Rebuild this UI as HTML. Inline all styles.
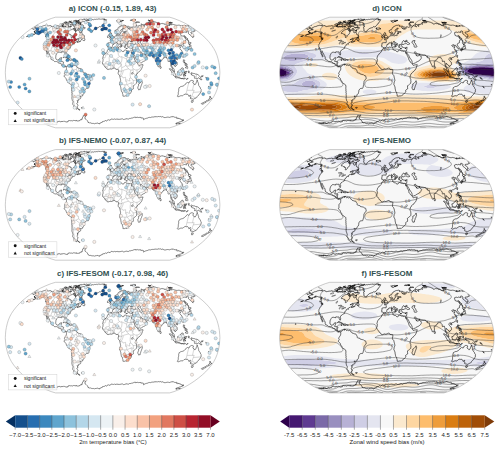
<!DOCTYPE html>
<html><head><meta charset="utf-8"><style>
html,body{margin:0;padding:0;background:#fff;width:500px;height:451px;overflow:hidden;font-family:"Liberation Sans",sans-serif}
svg{display:block}
</style></head><body>
<svg width="500" height="451" viewBox="0 0 500 451">
<rect x="0" y="0" width="500" height="451" fill="#ffffff"/>
<defs>
<g id="clab" font-family="Liberation Sans" font-size="3.9" fill="#333" text-anchor="middle"><text transform="translate(-52.7,46.4) rotate(-19)" y="1.2">-5.0</text><text transform="translate(-1.0,48.8) rotate(6)" y="1.2">-5.0</text><text transform="translate(51.2,45.8) rotate(3)" y="1.2">-5.0</text><text transform="translate(87.4,10.3) rotate(-90)" y="1.2">-5.0</text><text transform="translate(-75.8,4.8) rotate(-4)" y="1.2">-5.0</text><text transform="translate(-73.0,14.5) rotate(3)" y="1.2">-5.0</text><text transform="translate(70.9,-9.4) rotate(27)" y="1.2">-5.0</text><text transform="translate(-77.7,-13.1) rotate(7)" y="1.2">-5.0</text><text transform="translate(-78.5,-7.7) rotate(-3)" y="1.2">-5.0</text><text transform="translate(3.0,7.0) rotate(21)" y="1.2">-5.0</text><text transform="translate(71.1,7.7) rotate(4)" y="1.2">-5.0</text><text transform="translate(-35.2,-12.8) rotate(-2)" y="1.2">-5.0</text><text transform="translate(-26.7,-5.5) rotate(4)" y="1.2">-5.0</text><text transform="translate(-55.2,42.8) rotate(-3)" y="1.2">0.0</text><text transform="translate(-1.1,43.2) rotate(-1)" y="1.2">0.0</text><text transform="translate(54.7,43.4) rotate(3)" y="1.2">0.0</text><text transform="translate(69.4,18.0) rotate(-6)" y="1.2">0.0</text><text transform="translate(1.4,20.1) rotate(-5)" y="1.2">0.0</text><text transform="translate(-66.9,21.5) rotate(-0)" y="1.2">0.0</text><text transform="translate(77.4,-3.7) rotate(-2)" y="1.2">0.0</text><text transform="translate(20.8,-3.9) rotate(-8)" y="1.2">0.0</text><text transform="translate(16.4,2.3) rotate(16)" y="1.2">0.0</text><text transform="translate(76.0,1.9) rotate(1)" y="1.2">0.0</text><text transform="translate(-69.2,-23.2) rotate(-11)" y="1.2">0.0</text><text transform="translate(0.0,-22.9) rotate(-6)" y="1.2">0.0</text><text transform="translate(67.6,-20.6) rotate(-28)" y="1.2">0.0</text><text transform="translate(-25.0,-47.9) rotate(-9)" y="1.2">0.0</text><text transform="translate(-60.6,-37.8) rotate(23)" y="1.2">0.0</text><text transform="translate(60.2,-44.5) rotate(26)" y="1.2">0.0</text><text transform="translate(26.6,-37.4) rotate(52)" y="1.2">0.0</text><text transform="translate(-57.8,39.8) rotate(-5)" y="1.2">5.0</text><text transform="translate(-1.2,41.0) rotate(-0)" y="1.2">5.0</text><text transform="translate(56.7,41.1) rotate(4)" y="1.2">5.0</text><text transform="translate(65.9,27.5) rotate(5)" y="1.2">5.0</text><text transform="translate(-1.4,26.1) rotate(-6)" y="1.2">5.0</text><text transform="translate(-64.4,27.8) rotate(0)" y="1.2">5.0</text><text transform="translate(-78.2,-29.1) rotate(-21)" y="1.2">5.0</text><text transform="translate(80.6,-30.2) rotate(23)" y="1.2">5.0</text><text transform="translate(-13.0,-41.0) rotate(11)" y="1.2">5.0</text><text transform="translate(-69.2,33.2) rotate(27)" y="1.2">10.0</text><text transform="translate(67.6,31.6) rotate(3)" y="1.2">10.0</text><text transform="translate(9.5,28.6) rotate(-4)" y="1.2">10.0</text><text transform="translate(1.2,38.0) rotate(1)" y="1.2">10.0</text><text transform="translate(59.5,37.7) rotate(4)" y="1.2">10.0</text></g>
<path id="clim" d="M-40.1,55.3 -39.8,55.2 -39.3,55.1 -38.8,55.0 -38.2,54.9 -37.5,54.9 -36.8,54.8 -36.0,54.8 -35.2,54.8 -34.4,54.8 -33.6,54.8 -32.7,54.8 -31.8,54.9 -30.9,54.9 -30.0,55.0 -29.1,55.0 -28.2,55.0 -27.3,55.1 -26.5,55.1 -25.6,55.2 -24.8,55.2 -24.0,55.2 -23.2,55.2 -22.4,55.2 -21.6,55.1 -20.9,55.1 -20.1,55.1 -19.3,55.0 -18.6,55.0 -17.8,55.0 -17.0,54.9 -16.2,54.9 -15.4,54.9 -14.6,54.9 -13.8,54.9 -12.9,55.0 -12.1,55.1 -11.2,55.2 -10.3,55.3 -10.1,55.3M33.2,55.3 33.3,55.3 34.2,55.3 35.0,55.2 35.8,55.2 36.6,55.2 37.4,55.2 38.2,55.3 38.9,55.3 39.3,55.3M-46.7,55.3 -46.1,55.2 -45.6,55.2 -45.1,55.1 -44.6,54.9 -44.1,54.8 -43.9,54.7 -43.7,54.7 -43.2,54.5 -42.8,54.3 -42.3,54.2 -41.7,54.0 -41.6,54.0 -41.2,53.8 -40.6,53.7 -39.9,53.6 -39.2,53.5 -38.5,53.4 -37.7,53.4 -36.8,53.3 -36.0,53.3 -35.1,53.3 -34.2,53.4 -33.3,53.4 -32.3,53.4 -31.4,53.5 -30.5,53.5 -29.6,53.5 -28.7,53.5 -27.8,53.5 -27.0,53.5 -26.1,53.5 -25.3,53.4 -24.5,53.4 -23.7,53.3 -22.9,53.2 -22.2,53.1 -21.8,53.0 -21.4,53.0 -20.6,52.9 -19.8,52.7 -18.9,52.7 -18.1,52.6 -17.2,52.6 -16.2,52.6 -15.3,52.7 -14.3,52.8 -13.4,53.0 -13.0,53.0 -12.4,53.2 -11.4,53.4 -10.4,53.6 -9.4,53.9 -9.1,54.0 -8.5,54.1 -7.5,54.4 -6.6,54.7 -6.3,54.7 -5.7,54.9 -4.8,55.1 -4.0,55.2 -3.7,55.3M5.2,55.3 5.6,55.2 6.4,55.1 7.3,55.0 8.2,54.8 9.0,54.7 9.0,54.7 9.9,54.6 10.8,54.5 11.7,54.4 12.5,54.4 13.4,54.3 14.2,54.3 15.1,54.3 15.9,54.4 16.7,54.4 17.5,54.4 18.3,54.5 19.1,54.5 19.9,54.5 20.7,54.6 21.5,54.6 22.3,54.6 23.1,54.6 24.0,54.6 24.8,54.6 25.7,54.5 26.6,54.5 27.5,54.4 28.5,54.3 29.4,54.3 30.4,54.2 31.3,54.1 32.3,54.0 33.0,54.0 33.3,54.0 34.3,53.9 35.3,53.8 36.2,53.7 37.2,53.7 38.1,53.6 39.0,53.6 39.8,53.6 40.6,53.7 41.5,53.7 42.2,53.7 43.0,53.8 43.8,53.8 44.5,53.9 45.2,54.0 45.3,54.0 45.9,54.0 46.6,54.1 47.3,54.2 48.0,54.2 48.7,54.3 49.4,54.3 50.2,54.4 50.9,54.4 51.7,54.4 52.5,54.4 53.3,54.4 54.2,54.4 55.0,54.4 55.9,54.4 56.8,54.4 57.7,54.4 58.5,54.4 59.3,54.4 60.0,54.4M-60.0,54.4 -59.0,54.5 -58.0,54.6 -56.9,54.7 -56.0,54.7 -55.7,54.8 -54.6,54.9 -53.4,55.0 -52.3,55.1 -51.2,55.2 -50.1,55.2 -49.2,55.3M-65.7,52.3 -64.6,52.4 -63.4,52.5 -62.2,52.6 -61.0,52.8 -59.7,52.9 -59.0,53.0 -58.5,53.1 -57.2,53.3 -55.9,53.4 -54.7,53.6 -53.6,53.7 -52.5,53.8 -51.6,53.8 -50.7,53.8 -49.9,53.8 -49.2,53.7 -48.6,53.6 -48.1,53.4 -47.5,53.3 -47.0,53.1 -46.9,53.0 -46.5,52.9 -46.0,52.6 -45.5,52.4 -44.9,52.2 -44.3,52.0 -44.0,51.9 -43.7,51.8 -43.1,51.6 -42.4,51.5 -41.6,51.3 -40.9,51.2 -40.1,51.1 -39.2,51.0 -38.3,51.0 -37.4,50.9 -36.5,50.9 -35.5,50.9 -34.5,50.9 -33.6,50.9 -32.6,50.9 -31.7,50.9 -30.8,50.8 -29.9,50.8 -29.0,50.7 -29.0,50.7 -28.1,50.6 -27.2,50.5 -26.3,50.4 -25.4,50.3 -24.6,50.1 -23.7,50.0 -22.8,49.9 -21.8,49.8 -20.9,49.7 -19.9,49.7 -18.9,49.7 -17.9,49.8 -16.8,49.9 -15.8,50.0 -14.7,50.2 -13.6,50.4 -12.6,50.7 -12.4,50.7 -11.5,51.0 -10.4,51.3 -9.3,51.7 -8.6,51.9 -8.3,52.0 -7.3,52.4 -6.3,52.7 -5.4,53.0 -5.3,53.1 -4.4,53.4 -3.5,53.6 -2.6,53.8 -1.9,54.0 -1.7,54.0 -0.8,54.1 0.0,54.2 0.8,54.2 1.7,54.2 2.5,54.1 3.4,54.0 3.4,54.0 4.3,53.8 5.2,53.7 6.1,53.5 7.0,53.3 8.0,53.1 8.2,53.0 8.9,52.9 9.9,52.7 10.9,52.5 11.8,52.4 12.8,52.2 13.8,52.2 14.7,52.1 15.7,52.1 16.6,52.1 17.5,52.1 18.4,52.1 19.3,52.2 20.2,52.2 21.0,52.3 21.9,52.4 22.7,52.4 23.6,52.5 24.5,52.5 25.4,52.5 26.3,52.5 27.3,52.4 28.3,52.4 29.3,52.3 30.3,52.2 31.4,52.0 32.0,51.9 32.5,51.9 33.6,51.7 34.8,51.5 35.9,51.3 37.1,51.2 38.2,51.0 39.3,50.9 40.3,50.9 41.3,50.9 42.2,50.9 43.1,50.9 44.0,51.0 44.8,51.1 45.6,51.2 46.4,51.3 47.2,51.4 48.0,51.5 48.8,51.6 49.5,51.7 50.3,51.8 51.1,51.9 51.9,51.9 51.9,51.9 52.6,52.0 53.4,52.1 54.3,52.1 55.1,52.2 55.9,52.2 56.8,52.2 57.7,52.3 58.6,52.3 59.5,52.3 60.4,52.2 61.4,52.2 62.3,52.2 63.2,52.2 64.1,52.3 64.9,52.3 65.7,52.3M-71.9,49.6 -70.7,49.7 -69.4,49.8 -68.1,50.0 -66.8,50.1 -65.5,50.3 -64.1,50.5 -62.8,50.7 -62.6,50.7 -61.4,50.9 -60.1,51.0 -58.9,51.2 -57.7,51.3 -56.6,51.4 -55.6,51.4 -54.7,51.4 -53.9,51.4 -53.1,51.3 -52.4,51.1 -51.7,50.9 -51.1,50.7 -51.1,50.7 -50.5,50.5 -50.0,50.2 -49.4,49.9 -48.8,49.6 -48.4,49.4 -48.2,49.4 -47.6,49.0 -46.9,48.7 -46.2,48.5 -45.5,48.2 -44.9,48.1 -44.7,48.0 -43.8,47.8 -42.9,47.7 -42.0,47.6 -41.0,47.5 -40.0,47.4 -39.0,47.4 -37.9,47.4 -36.8,47.4 -35.8,47.4 -34.7,47.5 -33.7,47.5 -32.6,47.4 -31.6,47.4 -30.6,47.4 -29.6,47.3 -28.5,47.3 -27.5,47.2 -26.5,47.1 -25.5,47.1 -24.4,47.0 -23.4,47.0 -22.3,46.9 -21.3,46.9 -20.2,47.0 -19.1,47.0 -18.0,47.1 -16.9,47.3 -15.8,47.4 -14.7,47.6 -13.5,47.9 -12.9,48.1 -12.4,48.2 -11.3,48.5 -10.2,48.9 -9.1,49.2 -8.5,49.4 -8.0,49.6 -6.9,50.0 -5.9,50.4 -4.8,50.7 -4.8,50.7 -3.8,51.0 -2.8,51.3 -1.9,51.5 -0.9,51.7 0.0,51.8 0.9,51.8 1.9,51.8 2.8,51.7 3.8,51.6 4.7,51.4 5.7,51.2 6.7,51.0 7.7,50.7 7.8,50.7 8.8,50.5 9.8,50.2 10.9,50.0 11.9,49.7 13.0,49.5 13.8,49.4 14.1,49.4 15.1,49.2 16.2,49.2 17.2,49.1 18.2,49.1 19.2,49.1 20.2,49.2 21.2,49.3 22.1,49.3 22.8,49.4 23.1,49.4 24.0,49.5 25.0,49.6 25.9,49.6 26.9,49.6 27.9,49.6 29.0,49.5 30.1,49.4 30.3,49.4 31.2,49.3 32.4,49.1 33.6,48.9 34.8,48.6 36.1,48.4 37.3,48.1 37.6,48.1 38.6,47.8 39.8,47.6 41.1,47.4 42.2,47.3 43.4,47.2 44.4,47.2 45.5,47.2 46.4,47.3 47.3,47.5 48.2,47.6 49.0,47.8 49.8,48.1 49.8,48.1 50.6,48.3 51.4,48.5 52.1,48.7 52.9,48.9 53.7,49.0 54.5,49.1 55.4,49.3 56.3,49.4 57.1,49.4 57.2,49.4 58.1,49.5 59.0,49.5 60.0,49.5 61.0,49.5 62.0,49.5 63.1,49.5 64.1,49.5 65.2,49.4 65.3,49.4 66.3,49.4 67.3,49.4 68.3,49.3 69.3,49.4 70.3,49.4 70.6,49.4 71.2,49.5 72.0,49.5M-77.5,46.4 -76.2,46.6 -75.7,46.6 -74.8,46.8 -73.4,46.9 -72.0,47.1 -70.6,47.4 -69.3,47.6 -67.9,47.8 -66.5,48.0 -66.2,48.1 -65.2,48.2 -63.9,48.3 -62.7,48.5 -61.5,48.6 -60.4,48.6 -59.4,48.6 -58.5,48.6 -57.6,48.4 -56.8,48.3 -56.0,48.1 -55.9,48.1 -55.3,47.8 -54.6,47.5 -54.0,47.2 -53.3,46.8 -53.0,46.6 -52.7,46.4 -51.9,46.2 -51.0,46.0 -50.0,45.9 -49.1,45.8 -48.0,45.7 -47.0,45.6 -46.0,45.5 -44.9,45.5 -43.9,45.4 -42.8,45.4 -41.8,45.3 -40.7,45.3 -39.8,45.2 -39.7,45.2 -38.7,45.0 -37.8,44.8 -36.8,44.6 -35.8,44.4 -34.7,44.3 -33.6,44.2 -32.5,44.2 -31.4,44.2 -30.3,44.3 -29.1,44.4 -27.9,44.5 -26.7,44.6 -25.5,44.8 -24.4,45.0 -23.2,45.1 -22.8,45.2 -22.0,45.2 -20.9,45.3 -19.8,45.4 -18.6,45.4 -17.5,45.5 -16.4,45.6 -15.3,45.6 -14.2,45.7 -13.1,45.8 -11.9,45.9 -10.8,46.1 -9.7,46.3 -8.7,46.6 -8.6,46.7 -7.4,47.1 -6.3,47.4 -5.2,47.8 -4.4,48.1 -4.1,48.1 -3.1,48.4 -2.0,48.6 -1.0,48.8 0.0,48.9 1.0,49.0 2.0,48.9 3.1,48.9 4.1,48.7 5.1,48.5 6.2,48.3 7.1,48.1 7.3,48.0 8.4,47.7 9.5,47.4 10.6,47.0 11.8,46.7 12.2,46.6 12.9,46.3 14.1,46.0 15.2,45.9 16.4,45.8 17.5,45.7 18.6,45.7 19.7,45.6 20.8,45.7 21.8,45.7 22.9,45.7 24.0,45.8 25.0,45.9 26.1,46.0 27.1,46.0 28.2,46.1 29.2,46.1 30.4,46.0 31.5,46.0 32.6,45.9 33.8,45.8 34.9,45.7 36.0,45.7 37.2,45.6 38.3,45.6 39.4,45.6 40.5,45.6 41.6,45.6 42.7,45.6 43.8,45.6 44.8,45.6 45.9,45.6 47.0,45.6 48.0,45.7 49.1,45.7 50.1,45.8 51.2,45.8 52.2,45.9 53.2,45.9 54.2,46.0 55.2,46.1 56.2,46.2 57.1,46.3 58.1,46.4 59.0,46.6 59.7,46.6 59.9,46.7 60.9,46.8 61.9,46.8 63.0,46.8 64.1,46.8 65.2,46.7 66.3,46.7 66.9,46.6 67.6,46.6 68.9,46.4 70.1,46.3 71.3,46.2 72.5,46.1 73.6,46.1 74.7,46.1 75.7,46.1 76.7,46.2 77.6,46.3M105.4,13.7 103.9,13.8 102.4,13.9 100.9,13.9 99.5,13.9 98.0,13.9 96.6,13.9 95.1,13.8 94.1,13.7 93.7,13.7 92.3,13.4 90.9,13.0 89.6,12.5 88.8,12.0 88.3,11.5 87.4,10.3 87.5,8.6 88.9,7.8 90.4,7.5 91.9,7.7 93.3,7.8 94.8,7.9 96.3,7.9 97.7,8.0 99.2,8.2 100.7,8.3 102.1,8.4 103.6,8.6 103.6,8.6 105.0,8.8 106.5,9.0M-106.4,9.4 -104.9,9.6 -103.4,9.7 -101.9,9.8 -100.4,9.8 -99.0,9.7 -97.5,9.5 -96.1,9.2 -94.7,8.6 -94.6,8.6 -93.3,8.3 -91.8,7.9 -90.4,7.4 -89.0,6.9 -88.9,6.9 -87.6,6.5 -86.1,6.2 -84.6,5.9 -83.2,5.6 -81.7,5.4 -80.2,5.2 -79.8,5.1 -78.8,5.0 -77.3,4.9 -75.8,4.8 -74.3,4.7 -72.9,4.5 -71.4,4.5 -69.9,4.4 -68.4,4.3 -66.9,4.2 -65.4,4.2 -64.0,4.1 -62.5,4.1 -61.0,4.1 -59.5,4.2 -58.0,4.3 -56.5,4.4 -55.0,4.5 -53.5,4.6 -52.0,4.8 -50.5,5.1 -50.4,5.1 -49.0,5.8 -47.7,6.9 -47.5,7.0 -46.0,8.6 -45.9,8.8 -44.6,10.3 -44.2,11.4 -43.9,12.0 -44.0,12.7 -44.7,13.7 -45.3,14.1 -46.8,14.4 -48.2,14.5 -49.6,14.7 -51.1,14.8 -52.5,14.9 -54.0,14.9 -55.4,15.0 -56.9,15.0 -58.4,15.0 -59.8,14.9 -61.3,14.9 -62.8,14.9 -64.2,14.8 -65.7,14.8 -67.2,14.7 -68.6,14.7 -70.1,14.6 -71.6,14.6 -73.0,14.5 -74.5,14.5 -76.0,14.4 -77.5,14.3 -78.9,14.2 -80.4,14.1 -81.9,14.0 -83.4,13.9 -84.9,13.8 -85.3,13.7 -86.4,13.6 -87.9,13.4 -89.4,13.3 -90.9,13.1 -92.4,12.9 -93.9,12.8 -95.4,12.7 -96.9,12.6 -98.3,12.6 -99.8,12.7 -101.2,12.8 -102.6,13.0 -104.1,13.2 -105.5,13.4M106.8,-7.1 105.3,-7.1 103.8,-7.1 102.3,-7.1 100.8,-7.2 99.3,-7.2 97.8,-7.3 96.3,-7.4 94.9,-7.5 93.4,-7.6 91.9,-7.7 90.4,-7.8 88.9,-7.9 87.4,-8.0 85.9,-8.1 84.4,-8.2 82.9,-8.2 81.4,-8.2 80.0,-8.2 78.5,-8.3 77.0,-8.3 75.5,-8.5 74.2,-8.6 74.0,-8.6 72.5,-8.9 70.9,-9.4 69.4,-10.2 69.2,-10.3 69.3,-10.4 70.6,-11.5 71.4,-12.0 72.0,-12.1 73.4,-12.4 74.8,-12.6 76.3,-12.8 77.7,-13.0 79.2,-13.1 80.6,-13.1 82.1,-13.2 83.5,-13.2 85.0,-13.3 86.4,-13.3 87.9,-13.4 89.4,-13.4 90.8,-13.5 92.3,-13.5 93.7,-13.6 95.0,-13.7 95.1,-13.7 96.6,-13.8 98.0,-13.9 99.5,-14.0 100.9,-14.1 102.3,-14.2 103.8,-14.3 105.2,-14.4M-105.2,-14.4 -103.7,-14.4 -102.3,-14.5 -100.8,-14.5 -99.3,-14.5 -97.9,-14.5 -96.4,-14.5 -94.9,-14.5 -93.5,-14.5 -92.0,-14.5 -90.6,-14.4 -89.1,-14.4 -87.7,-14.3 -86.2,-14.2 -84.8,-14.1 -83.4,-14.0 -82.0,-13.8 -81.4,-13.7 -80.5,-13.6 -79.1,-13.3 -77.7,-13.1 -76.3,-12.9 -74.8,-12.8 -73.4,-12.7 -71.9,-12.7 -70.4,-12.7 -69.0,-12.7 -67.5,-12.8 -66.0,-12.8 -64.6,-12.7 -63.2,-12.3 -62.5,-12.0 -61.8,-11.6 -60.4,-11.1 -59.0,-10.8 -57.5,-10.5 -56.5,-10.3 -56.1,-10.1 -54.7,-9.5 -53.2,-9.0 -52.1,-8.6 -51.8,-8.0 -51.1,-6.9 -51.9,-6.6 -53.5,-6.0 -55.0,-5.8 -56.4,-5.7 -57.9,-5.7 -59.4,-5.8 -60.9,-5.9 -62.4,-6.1 -63.8,-6.3 -65.3,-6.5 -66.8,-6.7 -68.1,-6.9 -68.2,-6.9 -69.7,-7.1 -71.2,-7.4 -72.6,-7.5 -74.1,-7.6 -75.6,-7.7 -77.0,-7.7 -78.5,-7.7 -80.0,-7.6 -81.5,-7.5 -83.0,-7.4 -84.5,-7.3 -86.0,-7.2 -87.5,-7.2 -89.0,-7.1 -90.5,-7.1 -91.9,-7.1 -93.4,-7.1 -94.9,-7.1 -96.4,-7.2 -97.9,-7.2 -99.3,-7.2 -100.8,-7.2 -102.3,-7.2 -103.8,-7.3 -105.3,-7.3 -106.7,-7.3M-20.4,14.7 -21.7,13.7 -22.0,12.3 -22.1,12.0 -22.1,11.9 -21.7,10.3 -20.7,8.6 -20.6,8.6 -19.3,7.8 -17.8,7.3 -16.3,7.1 -14.8,7.0 -13.4,6.9 -13.0,6.9 -11.9,6.8 -10.4,6.7 -8.9,6.7 -7.4,6.6 -5.9,6.6 -4.5,6.6 -3.0,6.6 -1.5,6.6 0.0,6.7 1.5,6.8 1.9,6.9 3.0,7.0 4.4,7.6 5.3,8.6 5.2,10.3 4.4,11.9 4.3,12.0 2.9,12.7 1.5,13.0 0.0,13.4 -1.4,13.7 -1.5,13.7 -2.9,14.0 -4.4,14.2 -5.8,14.4 -7.3,14.6 -8.8,14.8 -10.2,14.9 -11.7,15.0 -13.1,15.0 -14.6,15.1 -16.0,15.1 -17.5,15.0 -19.0,14.9 -20.4,14.7M44.1,12.4 43.0,12.0 44.0,10.3 44.3,10.2 45.8,9.8 47.3,9.4 48.8,9.0 50.3,8.6 50.5,8.6 51.8,8.4 53.3,8.3 54.8,8.2 56.3,8.1 57.8,8.0 59.2,8.0 60.7,8.0 62.2,8.1 63.7,8.3 65.1,8.3 66.6,8.2 68.1,8.0 69.6,7.8 71.1,7.7 72.6,7.8 73.7,8.6 72.4,9.3 71.1,10.3 70.8,10.4 69.3,10.7 67.8,11.0 66.2,11.4 64.7,11.7 63.5,12.0 63.2,12.0 61.7,12.2 60.2,12.4 58.7,12.5 57.2,12.7 55.7,12.9 54.3,13.0 52.8,13.1 51.3,13.2 49.8,13.2 48.4,13.1 46.9,13.0 45.5,12.8 44.1,12.4M-49.0,-6.6 -49.9,-6.9 -50.4,-8.0 -50.9,-8.6 -50.3,-9.1 -50.0,-10.3 -49.1,-12.0 -48.5,-12.4 -47.0,-12.7 -45.5,-12.8 -44.0,-12.8 -42.5,-12.8 -41.1,-12.7 -39.6,-12.7 -38.2,-12.7 -36.7,-12.7 -35.2,-12.8 -33.7,-12.8 -32.3,-12.9 -30.8,-13.0 -29.3,-13.1 -27.8,-13.2 -26.4,-13.3 -24.9,-13.4 -23.4,-13.5 -22.0,-13.5 -20.5,-13.6 -19.0,-13.6 -17.6,-13.6 -16.1,-13.6 -14.6,-13.6 -13.2,-13.4 -11.7,-12.9 -11.0,-12.0 -10.5,-10.3 -10.7,-8.6 -11.9,-7.4 -13.1,-6.9 -13.4,-6.8 -14.8,-6.5 -16.3,-6.3 -17.8,-6.1 -19.3,-5.9 -20.8,-5.7 -22.3,-5.6 -23.8,-5.6 -25.3,-5.5 -26.7,-5.5 -28.2,-5.6 -29.7,-5.8 -31.2,-6.1 -32.7,-6.4 -34.1,-6.8 -34.3,-6.9 -35.6,-7.5 -37.0,-8.1 -38.5,-8.4 -40.0,-8.5 -41.4,-8.5 -42.9,-8.4 -44.4,-8.0 -46.0,-7.3 -47.0,-6.9 -47.5,-6.6 -49.0,-6.6M-82.6,42.9 -81.4,42.9 -80.3,43.0 -79.1,43.0 -77.9,43.0 -76.7,43.0 -75.6,43.0 -74.4,43.1 -73.2,43.1 -72.1,43.1 -70.9,43.1 -69.7,43.1 -68.6,43.1 -67.4,43.2 -66.3,43.2 -65.1,43.2 -64.0,43.1 -62.9,43.1 -61.8,43.1 -60.7,43.1 -59.5,43.0 -58.4,43.0 -57.3,42.9 -56.2,42.9 -55.2,42.8 -54.1,42.8 -53.0,42.7 -51.8,42.7 -50.7,42.6 -49.6,42.6 -48.5,42.5 -47.4,42.4 -46.3,42.4 -45.2,42.3 -44.1,42.2 -43.3,42.2 -43.0,42.2 -41.9,42.1 -40.8,42.0 -39.7,41.9 -38.5,41.9 -37.4,41.8 -36.2,41.8 -35.1,41.8 -33.9,41.8 -32.7,41.8 -31.5,41.9 -30.3,41.9 -29.1,42.0 -27.9,42.1 -27.5,42.2 -26.7,42.2 -25.5,42.3 -24.3,42.5 -23.1,42.6 -21.9,42.7 -20.7,42.8 -19.5,42.8 -18.4,42.9 -17.2,43.0 -16.0,43.0 -14.9,43.1 -13.7,43.1 -12.6,43.1 -11.4,43.2 -10.3,43.2 -9.1,43.2 -8.0,43.2 -6.9,43.2 -5.7,43.2 -4.6,43.2 -3.4,43.2 -2.3,43.2 -1.1,43.2 0.0,43.2 1.1,43.2 2.3,43.2 3.4,43.1 4.6,43.1 5.7,43.0 6.9,43.0 8.0,42.9 9.2,42.9 10.3,42.8 11.5,42.8 12.7,42.8 13.8,42.7 15.0,42.7 16.1,42.7 17.3,42.7 18.4,42.7 19.6,42.7 20.7,42.7 21.9,42.6 23.1,42.6 24.2,42.6 25.4,42.6 26.5,42.6 27.7,42.6 28.8,42.6 30.0,42.6 31.2,42.6 32.3,42.6 33.5,42.6 34.6,42.6 35.8,42.6 36.9,42.6 38.1,42.6 39.2,42.6 40.3,42.7 41.5,42.7 42.6,42.7 43.7,42.8 44.8,42.8 45.9,42.9 47.0,42.9 48.1,43.0 49.2,43.1 50.3,43.1 51.4,43.2 52.5,43.2 53.6,43.3 54.7,43.4 55.8,43.4 56.8,43.5 58.0,43.5 59.1,43.5 60.2,43.5 61.3,43.5 62.5,43.5 63.7,43.4 64.9,43.4 66.1,43.3 67.3,43.3 68.5,43.2 69.7,43.1 70.9,43.1 72.2,43.0 73.4,43.0 74.6,42.9 75.7,42.9 76.9,42.9 78.1,42.9 79.2,42.9 80.4,42.9 81.5,42.9 82.6,42.9M102.2,22.1 100.8,22.1 99.4,22.1 97.9,22.2 96.5,22.2 95.1,22.1 93.7,22.1 92.3,22.0 91.0,21.8 89.7,21.6 88.4,21.3 87.1,20.9 86.2,20.6 85.9,20.4 84.7,19.9 83.4,19.3 82.4,18.9 82.2,18.8 80.8,18.5 79.5,18.2 78.1,17.9 76.7,17.8 75.3,17.7 73.8,17.6 72.4,17.7 70.9,17.8 69.4,18.0 67.9,18.1 66.4,18.3 64.9,18.5 63.5,18.7 62.2,18.9 62.0,18.9 60.5,19.2 59.0,19.4 57.5,19.6 56.0,19.8 54.5,20.0 53.0,20.2 51.5,20.4 50.1,20.5 49.7,20.6 48.6,20.7 47.2,20.8 45.7,20.9 44.2,21.0 42.8,21.1 41.4,21.2 39.9,21.3 38.5,21.4 37.0,21.4 35.6,21.5 34.2,21.5 32.7,21.5 31.3,21.6 29.9,21.6 28.5,21.6 27.0,21.6 25.6,21.5 24.2,21.5 22.8,21.4 21.4,21.3 20.0,21.2 18.6,21.0 17.1,20.9 15.7,20.7 14.3,20.6 13.7,20.6 12.9,20.4 11.5,20.2 10.0,20.1 8.6,20.0 7.2,20.0 5.7,20.0 4.3,20.0 2.9,20.1 1.4,20.1 0.0,20.3 -1.4,20.4 -2.9,20.5 -3.3,20.6 -4.3,20.7 -5.7,20.8 -7.1,21.0 -8.6,21.1 -10.0,21.3 -11.4,21.4 -12.8,21.6 -14.2,21.8 -15.6,21.9 -17.0,22.1 -18.3,22.3 -18.4,22.3 -19.8,22.5 -21.2,22.7 -22.6,22.9 -24.0,23.1 -25.4,23.3 -26.8,23.6 -28.1,23.8 -29.1,24.0 -29.5,24.0 -30.9,24.2 -32.3,24.3 -33.6,24.4 -35.0,24.5 -36.4,24.6 -37.8,24.7 -39.2,24.7 -40.6,24.6 -42.0,24.5 -43.5,24.3 -44.9,24.2 -46.2,24.0 -46.4,24.0 -47.9,23.7 -49.3,23.4 -50.8,23.1 -52.3,22.9 -53.8,22.7 -55.3,22.4 -56.5,22.3 -56.8,22.3 -58.2,22.1 -59.7,21.9 -61.2,21.8 -62.6,21.7 -64.1,21.6 -65.5,21.6 -66.9,21.5 -68.3,21.6 -69.8,21.6 -71.2,21.6 -72.6,21.7 -74.0,21.7 -75.4,21.7 -76.8,21.7 -78.2,21.7 -79.7,21.7 -81.1,21.7 -82.5,21.7 -83.9,21.7 -85.4,21.7 -86.8,21.7 -88.2,21.7 -89.6,21.7 -91.0,21.8 -92.4,21.8 -93.8,21.8 -95.2,21.9 -96.6,21.9 -98.0,21.9 -99.4,22.0 -100.8,22.0 -102.2,22.1M-107.2,3.1 -105.7,3.1 -104.2,2.9 -102.7,2.7 -101.2,2.5 -99.8,2.2 -98.3,1.9 -97.6,1.7 -96.8,1.4 -95.4,0.7 -93.9,0.0 -93.8,0.0 -93.9,-0.1 -95.0,-1.7 -95.3,-1.8 -96.8,-2.1 -98.3,-2.3 -99.8,-2.5 -101.2,-2.7 -102.7,-2.8 -104.2,-2.9 -105.7,-3.0 -107.2,-3.1M107.2,-2.8 105.7,-2.8 104.2,-2.8 102.7,-2.8 101.2,-2.9 99.7,-2.9 98.2,-3.0 96.8,-3.0 95.3,-3.1 93.8,-3.3 92.3,-3.4 92.1,-3.4 90.8,-3.5 89.3,-3.6 87.8,-3.7 86.3,-3.7 84.8,-3.8 83.3,-3.8 81.8,-3.8 80.3,-3.8 78.9,-3.7 77.4,-3.7 75.9,-3.6 74.4,-3.6 72.9,-3.5 71.4,-3.5 69.9,-3.5 68.4,-3.6 67.0,-3.7 65.5,-3.9 64.0,-4.2 62.4,-4.6 60.9,-5.1 60.8,-5.1 59.4,-5.7 57.9,-6.4 57.1,-6.9 56.3,-7.4 54.8,-8.4 54.4,-8.6 53.2,-9.5 51.6,-10.3 51.6,-10.3 50.1,-11.2 48.5,-11.7 47.1,-11.8 45.6,-11.8 44.1,-11.7 42.7,-11.4 41.3,-10.9 39.9,-10.3 39.8,-10.3 38.4,-9.7 37.0,-9.0 36.2,-8.6 35.5,-8.3 34.1,-7.6 32.6,-6.9 32.6,-6.9 31.2,-6.3 29.7,-5.8 28.2,-5.4 27.1,-5.1 26.8,-5.0 25.3,-4.7 23.8,-4.4 22.3,-4.1 20.8,-3.9 19.3,-3.7 17.9,-3.5 17.4,-3.4 16.4,-3.3 14.9,-3.1 13.4,-2.9 11.9,-2.8 10.4,-2.7 8.9,-2.7 7.4,-2.8 6.0,-2.9 4.5,-2.9 3.0,-3.0 1.5,-3.0 0.0,-2.9 -1.5,-2.9 -3.0,-2.8 -4.5,-2.6 -6.0,-2.3 -7.4,-2.0 -8.9,-1.8 -9.2,-1.7 -10.4,-0.7 -11.9,0.0 -10.4,0.2 -8.9,0.3 -7.5,0.4 -6.0,0.5 -4.5,0.5 -3.0,0.6 -1.5,0.6 0.0,0.6 1.5,0.6 3.0,0.6 4.5,0.5 6.0,0.5 7.5,0.6 8.9,0.7 10.4,0.9 11.9,1.2 13.4,1.6 13.6,1.7 14.9,2.0 16.4,2.3 17.9,2.8 19.3,3.2 19.9,3.4 20.8,3.7 22.3,4.1 23.8,4.4 25.3,4.8 26.8,5.1 27.0,5.1 28.2,5.4 29.7,5.6 31.2,5.7 32.7,5.8 34.2,5.9 35.6,5.9 37.1,5.9 38.6,5.8 40.1,5.7 41.6,5.5 43.1,5.4 44.6,5.2 45.0,5.1 46.1,5.0 47.6,4.8 49.1,4.6 50.6,4.4 52.1,4.2 53.6,4.0 55.0,3.7 56.5,3.5 57.3,3.4 58.0,3.3 59.5,3.0 61.0,2.7 62.5,2.5 64.0,2.4 65.5,2.2 67.0,2.0 68.5,1.9 70.0,1.9 71.5,1.8 73.0,1.8 74.5,1.8 76.0,1.9 77.4,1.9 78.9,1.9 80.4,2.0 81.9,2.0 83.4,2.1 84.9,2.2 86.4,2.2 87.9,2.2 89.3,2.2 90.8,2.2 92.3,2.3 93.8,2.4 95.3,2.4 96.8,2.5 98.3,2.6 99.7,2.7 101.2,2.7 102.7,2.8 104.2,2.9 105.7,2.9 107.2,2.9M-103.0,-20.6 -102.7,-20.6 -101.6,-20.5 -100.2,-20.4 -98.8,-20.4 -97.4,-20.4 -95.9,-20.4 -94.5,-20.4 -93.1,-20.4 -91.6,-20.5 -90.5,-20.6 -90.1,-20.6 -88.6,-20.7 -87.1,-20.9 -85.6,-21.0 -84.1,-21.2 -82.6,-21.4 -81.1,-21.6 -79.6,-21.8 -78.1,-22.0 -76.6,-22.2 -75.7,-22.3 -75.2,-22.3 -73.7,-22.5 -72.2,-22.7 -70.7,-22.9 -69.2,-23.2 -67.6,-23.5 -66.1,-23.7 -64.6,-24.0 -64.2,-24.0 -63.1,-24.2 -61.6,-24.5 -60.1,-24.7 -58.6,-25.0 -57.2,-25.2 -55.7,-25.4 -54.2,-25.6 -53.2,-25.7 -52.8,-25.7 -51.4,-25.8 -50.0,-25.8 -48.8,-25.7 -48.7,-25.7 -47.3,-25.6 -46.0,-25.4 -44.6,-25.2 -43.3,-24.9 -42.0,-24.6 -40.7,-24.3 -39.4,-24.0 -39.3,-24.0 -38.1,-23.4 -36.8,-22.8 -35.5,-22.3 -35.4,-22.3 -34.2,-21.6 -32.8,-21.0 -31.6,-20.6 -31.5,-20.6 -30.1,-20.3 -28.7,-20.1 -27.3,-19.9 -25.8,-19.8 -24.4,-19.7 -23.0,-19.7 -21.5,-19.7 -20.1,-19.7 -18.7,-19.7 -17.2,-19.8 -15.8,-19.9 -14.3,-20.1 -12.9,-20.3 -11.4,-20.5 -11.1,-20.6 -10.0,-20.8 -8.6,-21.1 -7.1,-21.4 -5.7,-21.8 -4.3,-22.2 -3.8,-22.3 -2.8,-22.5 -1.4,-22.7 0.0,-22.9 1.4,-23.1 2.8,-23.2 4.2,-23.3 5.6,-23.4 7.0,-23.4 8.5,-23.4 9.9,-23.3 11.3,-23.1 12.7,-22.8 14.2,-22.5 15.0,-22.3 15.6,-22.1 17.1,-21.5 18.6,-21.1 20.0,-20.6 20.3,-20.6 21.5,-20.3 22.9,-20.0 24.4,-19.7 25.9,-19.4 27.3,-19.2 28.8,-18.9 29.1,-18.9 30.3,-18.7 31.7,-18.5 33.2,-18.3 34.7,-18.1 36.2,-17.8 37.7,-17.4 38.4,-17.1 39.2,-17.0 40.7,-16.7 42.1,-16.4 43.6,-16.0 45.1,-15.7 46.6,-15.5 48.1,-15.5 49.5,-15.6 51.0,-15.8 52.4,-16.1 53.8,-16.4 55.2,-16.6 56.6,-16.8 58.0,-17.1 58.1,-17.1 59.4,-17.5 60.7,-18.0 62.1,-18.4 63.4,-18.8 63.9,-18.9 64.7,-19.3 66.0,-19.9 67.3,-20.4 67.6,-20.6 68.5,-21.0 69.7,-21.7 71.0,-22.2 71.5,-22.3 72.3,-22.5 73.6,-22.7 75.0,-22.8 76.4,-22.8 77.8,-22.8 79.2,-22.7 80.7,-22.6 82.2,-22.5 83.6,-22.4 85.1,-22.4 86.1,-22.3 86.5,-22.3 88.0,-22.1 89.5,-22.0 91.0,-21.8 92.5,-21.7 94.0,-21.5 95.5,-21.4 97.0,-21.2 98.5,-21.1 100.0,-20.9 101.5,-20.8 102.9,-20.7M67.6,-51.6 66.1,-51.9 65.1,-52.2 62.3,-53.0 61.7,-53.2 59.3,-54.0 57.2,-54.7 56.3,-55.1 55.7,-55.3M-8.2,-55.3 -8.9,-54.9 -9.3,-54.7 -10.2,-54.1 -10.3,-54.0 -11.4,-53.0 -11.7,-52.7 -12.7,-51.9 -13.1,-51.6 -14.4,-50.9 -14.7,-50.7 -15.6,-50.3 -16.8,-49.9 -18.0,-49.5 -18.2,-49.4 -19.2,-49.1 -20.3,-48.9 -21.5,-48.7 -22.6,-48.4 -23.8,-48.1 -24.2,-48.1 -25.0,-47.9 -26.1,-47.8 -27.3,-47.6 -28.4,-47.4 -29.6,-47.3 -30.7,-47.1 -31.9,-47.0 -33.0,-46.9 -34.2,-46.8 -35.0,-46.6 -35.4,-46.6 -36.6,-46.3 -38.0,-46.0 -39.5,-45.5 -40.3,-45.2 -41.1,-44.8 -43.0,-43.7 -43.0,-43.7 -45.2,-42.2 -45.5,-41.8 -47.1,-40.6 -48.4,-39.6 -49.1,-39.0 -50.5,-38.1 -52.1,-37.4 -52.3,-37.3 -53.8,-37.0 -55.1,-36.9 -56.4,-36.9 -57.5,-37.0 -58.6,-37.2 -59.5,-37.4 -59.7,-37.5 -60.6,-37.8 -61.6,-38.2 -62.5,-38.6 -63.4,-38.9 -63.7,-39.0 -64.1,-39.5 -64.8,-40.1 -65.6,-40.5 -65.9,-40.6 -66.0,-41.3 -66.4,-42.0 -66.5,-42.2 -66.1,-43.3 -66.1,-43.7 -65.1,-45.1 -65.1,-45.2 -64.2,-46.6 -64.2,-46.7 -64.4,-47.3 -64.3,-48.1 -64.4,-48.1 -64.9,-48.4 -65.4,-48.7 -65.9,-49.0 -66.4,-49.3 -66.6,-49.4 -67.0,-49.5 -67.5,-49.8 -68.0,-50.0 -68.4,-50.3 -68.7,-50.7 -68.7,-50.7 -68.7,-51.1M41.2,-55.3 42.2,-54.7 43.4,-54.0 43.5,-54.0 44.9,-53.0 46.6,-51.9 48.6,-50.7 50.7,-49.4 52.5,-48.4 53.2,-48.1 55.4,-46.9 56.0,-46.6 57.9,-45.6 59.0,-45.2 60.2,-44.5 61.9,-43.7 63.3,-42.7 64.0,-42.2 64.1,-41.9 64.6,-40.6 64.5,-40.4 64.0,-39.6 63.6,-39.0 63.4,-38.9 62.6,-38.4 61.8,-37.9 61.0,-37.4 61.0,-37.4 60.1,-37.0 59.2,-36.5 58.2,-36.1 57.6,-35.8 57.2,-35.7 56.2,-35.3 55.1,-35.0 53.9,-34.8 52.7,-34.7 51.5,-34.5 50.3,-34.4 49.0,-34.4 47.8,-34.3 46.5,-34.3 45.2,-34.3 43.9,-34.3 42.6,-34.2 41.3,-34.2 40.1,-34.3 38.7,-34.3 37.4,-34.3 36.1,-34.4 34.8,-34.5 33.4,-34.7 32.1,-34.9 30.7,-35.2 29.2,-35.7 29.1,-35.8 27.7,-36.6 26.6,-37.4 25.7,-38.6 25.4,-39.0 24.7,-40.6 24.2,-42.2 24.2,-42.7 24.1,-43.7 24.6,-44.4 24.9,-45.2 25.2,-45.4 26.0,-46.1 26.3,-46.6 26.6,-46.9 27.3,-47.5 27.6,-48.1 27.9,-48.3 28.4,-48.9 28.7,-49.4 28.9,-49.6 29.4,-50.2 29.8,-50.7 29.9,-50.8 30.5,-51.1 31.1,-51.5 31.6,-51.8 31.9,-51.9 32.3,-52.1 32.9,-52.3 33.5,-52.5 34.1,-52.8 34.3,-53.0 34.5,-53.1 35.0,-53.4 35.3,-53.8 35.3,-54.0 35.5,-54.2 35.6,-54.6 35.6,-54.7 35.7,-55.0 35.6,-55.3M-85.6,40.7 -84.4,40.7 -83.2,40.7 -82.0,40.7 -80.8,40.8 -79.6,40.8 -78.4,40.8 -77.2,40.8 -76.0,40.8 -74.8,40.8 -73.6,40.8 -72.4,40.8 -71.2,40.8 -70.0,40.8 -68.9,40.8 -67.7,40.7 -66.6,40.7 -65.6,40.6 -65.5,40.6 -64.4,40.5 -63.3,40.4 -62.2,40.3 -61.1,40.2 -60.0,40.1 -58.9,39.9 -57.8,39.8 -56.7,39.7 -55.5,39.6 -54.4,39.6 -53.2,39.5 -52.1,39.4 -50.9,39.4 -49.7,39.3 -48.6,39.2 -47.4,39.2 -46.3,39.1 -45.9,39.0 -45.1,39.0 -44.0,38.9 -42.8,38.7 -41.6,38.6 -40.5,38.5 -39.3,38.4 -38.1,38.3 -37.0,38.1 -35.9,37.9 -34.5,38.1 -33.1,38.4 -31.8,38.7 -30.5,38.9 -29.9,39.0 -29.2,39.1 -27.9,39.3 -26.6,39.6 -25.3,39.8 -24.0,40.0 -22.8,40.2 -21.5,40.4 -20.3,40.6 -19.6,40.6 -19.0,40.7 -17.8,40.8 -16.6,40.8 -15.4,40.9 -14.2,40.9 -13.0,40.9 -11.8,40.9 -10.7,41.0 -9.5,41.0 -8.3,41.0 -7.1,41.0 -5.9,41.0 -4.7,41.0 -3.5,41.0 -2.4,41.0 -1.2,41.0 0.0,41.0 1.2,41.0 2.4,41.0 3.6,40.9 4.7,40.9 5.9,40.9 7.1,40.8 8.3,40.8 9.5,40.8 10.7,40.8 11.9,40.7 13.1,40.7 14.3,40.7 15.5,40.7 16.6,40.7 17.8,40.7 19.0,40.7 20.2,40.7 21.4,40.7 22.6,40.7 23.8,40.6 24.6,40.6 25.0,40.6 26.2,40.6 27.4,40.6 28.6,40.5 29.8,40.5 31.0,40.4 32.2,40.4 33.4,40.4 34.6,40.4 35.9,40.3 37.1,40.3 38.3,40.3 39.4,40.3 40.6,40.3 41.8,40.4 43.0,40.4 44.2,40.4 45.3,40.5 46.5,40.6 47.6,40.6 47.7,40.6 48.8,40.7 49.9,40.7 51.0,40.8 52.2,40.9 53.3,40.9 54.4,41.0 55.5,41.1 56.7,41.1 57.8,41.2 58.9,41.3 60.0,41.3 61.2,41.4 62.3,41.4 63.5,41.4 64.7,41.4 65.9,41.4 67.1,41.3 68.3,41.3 69.6,41.2 70.8,41.2 72.1,41.1 73.4,41.0 74.6,40.9 75.9,40.9 77.1,40.8 78.4,40.8 79.6,40.7 80.8,40.7 82.0,40.7 83.2,40.7 84.4,40.7 85.6,40.7M98.9,27.4 98.9,27.4 97.2,27.8 95.6,28.1 94.3,28.1 93.1,27.8 91.9,27.6 90.6,27.5 89.2,27.5 87.8,27.5 86.4,27.6 85.0,27.7 83.4,27.9 81.9,28.3 80.3,28.6 78.9,28.6 77.7,28.4 76.4,28.2 75.2,28.0 73.9,27.9 72.6,27.8 71.2,27.8 69.9,27.7 68.6,27.6 67.2,27.6 65.9,27.5 65.2,27.4 64.6,27.4 63.3,27.2 62.0,27.1 60.6,26.9 59.3,26.8 58.0,26.7 56.6,26.6 55.3,26.5 53.9,26.4 52.6,26.3 51.2,26.2 49.9,26.2 48.5,26.1 47.1,26.1 45.8,26.0 44.4,26.0 43.0,25.9 41.6,25.9 40.3,25.9 38.9,25.8 37.5,25.8 36.1,25.8 34.7,25.8 33.4,25.7 32.0,25.7 31.9,25.7 30.6,25.7 29.2,25.7 27.8,25.6 26.4,25.6 25.0,25.6 23.7,25.5 22.3,25.5 20.9,25.4 19.5,25.4 18.1,25.4 16.7,25.4 15.3,25.5 13.9,25.5 12.5,25.5 11.1,25.5 9.7,25.4 8.4,25.3 7.0,25.3 5.6,25.4 4.2,25.5 2.8,25.7 2.2,25.7 1.4,25.8 0.0,25.9 -1.4,26.1 -2.8,26.2 -4.2,26.3 -5.5,26.5 -6.9,26.6 -8.3,26.8 -9.6,26.9 -11.0,27.0 -12.4,27.2 -13.7,27.3 -14.7,27.4 -15.1,27.5 -16.5,27.6 -17.8,27.7 -19.2,27.9 -20.5,28.0 -21.8,28.2 -23.2,28.4 -24.5,28.6 -25.8,28.8 -27.1,29.0 -27.9,29.1 -28.4,29.2 -29.7,29.5 -31.0,29.8 -32.2,30.2 -33.4,30.8 -33.4,30.8 -34.4,31.9 -34.7,32.5 -35.1,33.5 -35.6,34.2 -35.9,35.0 -37.2,34.9 -37.8,34.2 -39.1,32.5 -39.7,31.8 -40.7,30.8 -41.6,30.1 -43.2,29.6 -44.6,29.3 -45.9,29.1 -46.1,29.1 -47.5,28.9 -49.0,28.7 -50.4,28.5 -51.8,28.3 -53.3,28.1 -54.7,28.0 -56.1,27.9 -57.5,27.9 -58.9,27.8 -60.3,27.8 -61.6,27.8 -63.0,27.8 -64.4,27.8 -65.8,27.7 -67.1,27.7 -68.5,27.7 -69.9,27.6 -71.3,27.6 -72.7,27.5 -74.2,27.4 -74.5,27.4 -75.6,27.4 -77.0,27.3 -78.4,27.2 -79.8,27.1 -81.2,27.1 -82.6,27.0 -84.0,27.0 -85.4,27.0 -86.8,27.0 -88.2,26.9 -89.6,26.9 -90.9,27.0 -92.3,27.0 -93.7,27.0 -95.1,27.0 -96.4,27.0 -97.8,27.0 -99.1,27.1M-99.3,-26.9 -97.9,-26.8 -96.6,-26.8 -95.2,-26.8 -93.8,-26.8 -92.4,-26.9 -90.9,-27.0 -89.5,-27.1 -88.0,-27.3 -87.0,-27.4 -86.5,-27.5 -84.9,-27.7 -83.4,-28.0 -81.8,-28.3 -80.3,-28.6 -78.7,-29.0 -78.2,-29.1 -76.9,-29.6 -75.1,-30.4 -74.2,-30.8 -73.3,-32.5 -73.5,-32.7 -74.2,-33.5 -74.7,-34.2 -74.9,-34.3 -75.8,-34.8 -76.7,-35.2 -77.6,-35.6 -78.4,-35.8 -78.7,-35.9 -79.8,-36.0 -81.0,-36.1 -82.0,-36.3 -82.9,-36.7 -83.6,-37.2 -84.3,-37.4 -84.5,-37.5 -85.6,-37.7 -86.7,-37.8 -87.9,-37.8 -89.2,-37.8M89.2,-37.7 88.1,-37.6 87.1,-37.4 87.0,-37.4 86.1,-37.2 85.1,-37.0 84.2,-36.6 83.4,-36.2 83.2,-35.8 82.9,-35.4 82.3,-34.7 81.4,-34.3 80.2,-34.2 79.6,-34.2 79.0,-34.1 78.3,-33.2 78.3,-32.5 79.6,-30.8 80.6,-30.2 82.5,-29.3 83.1,-29.1 84.2,-28.9 85.8,-28.6 87.3,-28.3 88.9,-28.0 90.4,-27.8 91.9,-27.6 93.0,-27.4 93.4,-27.4 94.9,-27.2 96.4,-27.1 97.8,-27.0 99.3,-26.9M-21.7,-29.0 -20.4,-28.8 -19.0,-28.7 -17.7,-28.7 -16.3,-28.8 -14.9,-28.9 -13.6,-29.0 -13.2,-29.1 -12.2,-29.3 -10.8,-29.6 -9.4,-30.1 -8.0,-30.6 -7.5,-30.8 -6.6,-31.3 -5.3,-32.3 -5.1,-32.5 -4.3,-34.2 -4.7,-35.8 -5.0,-37.0 -5.1,-37.4 -5.9,-39.0 -6.1,-39.2 -7.2,-39.6 -8.4,-39.8 -9.6,-40.1 -10.8,-40.4 -11.6,-40.6 -11.9,-40.7 -13.0,-41.0 -14.1,-41.3 -15.3,-41.4 -16.5,-41.4 -17.7,-41.2 -19.0,-40.9 -19.6,-40.6 -20.3,-40.4 -21.6,-40.2 -22.7,-40.3 -23.6,-40.6 -23.8,-40.7 -24.8,-41.1 -25.9,-41.3 -27.2,-41.0 -27.8,-40.6 -28.4,-39.0 -28.6,-37.6 -28.6,-37.4 -28.8,-35.8 -29.2,-34.2 -29.3,-32.5 -29.0,-32.2 -28.1,-30.8 -28.0,-30.8 -26.9,-30.2 -25.6,-29.8 -24.3,-29.5 -23.0,-29.2 -22.4,-29.1 -21.7,-29.0M-89.6,37.4 -88.4,37.4 -87.2,37.4 -85.9,37.4 -84.7,37.3 -83.5,37.3 -82.3,37.3 -81.0,37.3 -79.8,37.3 -78.6,37.2 -77.4,37.1 -76.3,37.1 -75.1,37.0 -74.0,36.8 -72.9,36.6 -71.8,36.4 -70.8,36.2 -69.7,35.9 -69.4,35.8 -68.9,35.4 -68.1,34.7 -67.4,34.2 -69.2,33.2 -70.5,32.5 -71.1,32.4 -72.6,32.1 -74.1,31.9 -75.6,31.6 -77.0,31.4 -78.5,31.3 -79.9,31.1 -81.3,31.0 -82.7,30.9 -84.1,30.8 -85.3,30.8 -85.5,30.8 -86.8,30.8 -88.2,30.8 -89.5,30.7 -90.9,30.7 -92.2,30.7 -93.6,30.7 -94.9,30.7 -96.3,30.7M96.2,30.8 96.0,30.8 94.6,31.0 92.9,31.5 91.2,31.9 89.6,32.3 88.4,32.2 87.5,31.7 86.5,31.2 85.2,31.1 83.9,31.2 82.4,31.3 81.0,31.5 79.5,31.7 78.1,31.8 76.8,31.8 75.5,31.7 74.2,31.7 72.9,31.6 71.6,31.6 70.3,31.6 68.9,31.6 67.6,31.6 66.4,31.5 65.1,31.4 63.8,31.3 62.5,31.2 61.3,31.1 60.0,30.9 59.0,30.8 58.8,30.8 57.5,30.7 56.2,30.5 55.0,30.4 53.7,30.3 52.4,30.1 51.1,30.0 49.8,29.9 48.5,29.8 47.2,29.6 45.9,29.5 44.6,29.4 43.3,29.3 42.0,29.2 41.0,29.1 40.7,29.1 39.3,29.0 38.0,28.9 36.7,28.9 35.3,28.8 34.0,28.8 32.6,28.7 31.3,28.7 29.9,28.6 28.6,28.6 27.2,28.6 25.9,28.5 24.5,28.5 23.2,28.5 21.8,28.4 20.4,28.4 19.1,28.4 17.7,28.4 16.4,28.4 15.0,28.4 13.6,28.4 12.3,28.5 10.9,28.5 9.5,28.6 8.2,28.7 6.8,28.8 5.4,28.9 4.1,29.1 3.8,29.1 2.7,29.3 1.4,29.4 0.0,29.6 -1.3,29.8 -2.7,30.0 -4.0,30.1 -5.4,30.3 -6.7,30.5 -8.0,30.6 -9.4,30.8 -9.8,30.8 -10.7,30.9 -12.0,31.1 -13.3,31.3 -14.6,31.5 -15.9,31.7 -17.2,31.9 -18.5,32.1 -19.8,32.4 -20.4,32.5 -21.0,32.8 -22.2,33.4 -23.3,34.1 -23.5,34.2 -23.2,34.5 -22.0,35.8 -21.6,35.9 -20.2,36.3 -18.9,36.6 -17.5,36.9 -16.2,37.1 -15.0,37.3 -13.7,37.4 -13.4,37.4 -12.4,37.5 -11.2,37.6 -9.9,37.6 -8.7,37.7 -7.4,37.7 -6.2,37.8 -5.0,37.8 -3.7,37.9 -2.5,37.9 -1.2,37.9 0.0,38.0 1.2,38.0 2.5,38.0 3.7,38.0 4.9,38.0 6.2,38.0 7.4,38.0 8.6,38.1 9.9,38.1 11.1,38.1 12.3,38.1 13.6,38.1 14.8,38.2 16.0,38.2 17.2,38.2 18.5,38.2 19.7,38.2 20.9,38.2 22.2,38.2 23.4,38.2 24.6,38.2 25.9,38.2 27.1,38.1 28.4,38.1 29.6,38.0 30.9,37.9 32.2,37.9 33.4,37.8 34.7,37.7 36.0,37.7 37.2,37.6 38.5,37.6 39.8,37.5 41.0,37.5 42.3,37.5 43.4,37.4 43.6,37.4 44.8,37.4 46.1,37.4 47.3,37.4 48.5,37.4 49.8,37.4 51.0,37.4 51.3,37.4 52.3,37.4 53.5,37.5 54.7,37.5 55.9,37.5 57.1,37.6 58.3,37.6 59.5,37.7 60.7,37.8 61.9,37.9 63.0,38.0 64.2,38.0 65.4,38.1 66.6,38.1 67.8,38.2 69.0,38.2 70.3,38.1 71.5,38.1 72.8,38.0 74.1,38.0 75.5,37.9 76.8,37.8 78.1,37.7 79.4,37.7 80.7,37.6 82.0,37.6 83.3,37.5 84.5,37.5 85.8,37.5 87.1,37.5 88.3,37.4 89.0,37.4 89.6,37.4"/>
<path id="brd" d="M-64.1,-33.5 -49.6,-33.5 -49.5,-33.8 -46.9,-32.8 -44.7,-31.8 -44.0,-31.0 -44.8,-28.8 -42.7,-29.5 -41.1,-30.3 -39.9,-30.8 -38.2,-30.8 -37.1,-31.8 -36.4,-32.4 -35.8,-32.4 -36.1,-31.3 -35.8,-30.8M-60.6,-46.5 -66.9,-40.8 -65.8,-40.0 -64.4,-40.4 -65.1,-38.7 -64.4,-37.8M-66.4,-22.3 -65.0,-22.4 -63.2,-21.5 -61.7,-21.5 -60.6,-21.8 -59.9,-20.3 -59.1,-19.9 -58.1,-20.4 -57.4,-18.9 -56.3,-17.8M-54.2,-33.5 -56.8,-28.1 -55.7,-28.1 -56.8,-25.4 -57.4,-25.4 -58.5,-21.9M-57.8,-33.5 -60.7,-28.1 -59.6,-28.1 -62.1,-21.5M-60.4,-33.5 -61.8,-31.1 -62.8,-30.3 -63.6,-28.8 -62.0,-28.8 -63.5,-25.4 -64.4,-24.0M-65.2,-28.8 -66.3,-26.7 -64.4,-24.0M-67.5,-28.8 -60.3,-28.8M-65.8,-31.6 -62.1,-31.5 -60.9,-33.5M-50.3,-33.5 -52.3,-29.1 -52.5,-27.4 -52.7,-25.4 -53.4,-23.0 -53.2,-22.6 -53.8,-20.4M-55.3,-31.4 -51.3,-31.4M-56.2,-29.5 -52.3,-29.1M-56.0,-27.4 -52.4,-27.4M-60.7,-25.4 -52.7,-25.4M-57.5,-25.0 -55.8,-25.0 -56.3,-23.7 -53.4,-23.0M-52.8,-25.0 -42.4,-25.0M-53.2,-22.6 -51.5,-22.6M-48.1,-32.2 -49.2,-29.8 -50.1,-26.4 -49.8,-25.0 -50.6,-24.0 -51.5,-22.6 -52.2,-21.3 -51.1,-21.3 -51.2,-20.7M-49.5,-24.0 -50.5,-20.8M-47.8,-24.0 -48.5,-21.3 -50.0,-21.3 -50.0,-20.8M-50.7,-24.0 -47.4,-24.0 -45.5,-24.1 -44.3,-23.2M-47.6,-28.6 -48.6,-25.9M-46.2,-28.6 -46.8,-26.7M-43.8,-28.8 -44.3,-27.2 -41.7,-27.2M-43.4,-28.8 -41.0,-28.8M-39.3,-30.8 -40.2,-28.1M-39.0,-28.8 -40.0,-28.8M-45.7,-26.4 -44.3,-27.2M-48.5,-29.1 -47.6,-29.1M-49.2,-29.8 -52.0,-29.8M-57.3,-33.5 -52.4,-40.6M-60.3,-36.7 -57.1,-40.6M-53.1,-33.5 -48.6,-40.6M-49.6,-33.5 -48.2,-35.8 -43.6,-38.7M-40.7,-35.1 -42.0,-32.2 -39.7,-31.0M-67.1,-40.6 -45.1,-40.6M-59.0,-40.6 -59.2,-42.5 -60.3,-44.9 -58.9,-46.1M-48.6,-40.6 -46.5,-43.3 -52.3,-45.8M-29.2,-35.1 -32.8,-35.1 -33.9,-36.1 -31.9,-37.4 -32.5,-39.4 -30.6,-40.8M-54.4,-9.9 -53.9,-11.0 -53.3,-11.0 -53.2,-12.2 -52.4,-12.2 -51.8,-12.7M-52.6,-10.9 -52.7,-9.9 -51.9,-9.1M-49.1,-10.3 -50.2,-9.6 -51.5,-8.9M-50.8,-7.5 -49.6,-7.4M-49.2,-6.5 -49.3,-5.6M-46.0,-6.0 -45.9,-5.4M-42.3,-8.2 -43.0,-7.5 -43.1,-5.1 -41.6,-4.8 -40.2,-4.3 -40.4,-3.1 -40.1,-1.4M-47.1,-0.9 -45.9,-0.3 -44.8,0.1 -43.9,0.9 -41.7,2.9M-44.8,0.1 -45.0,1.0 -46.7,3.1 -47.8,2.4M-41.7,2.9 -41.4,0.7 -41.7,-0.7 -40.1,-1.4M-40.1,-1.4 -38.1,-2.7 -36.3,-3.1 -35.7,-3.6 -35.5,-5.7M-36.3,-3.1 -35.5,-1.0 -33.7,-1.3 -32.2,-1.5 -30.8,-2.8M-33.9,-4.0 -34.6,-1.2M-32.1,-3.9 -32.3,-1.5M-41.7,2.9 -43.4,5.1 -43.0,6.5 -41.8,7.5 -41.2,7.5M-41.2,7.5 -38.9,6.7 -37.6,8.6 -35.8,9.4 -35.5,11.2 -34.2,11.3 -33.9,13.9 -36.6,15.2 -39.0,15.6 -40.0,14.4 -40.9,12.0 -40.6,10.6 -41.2,7.5M-40.9,12.0 -41.3,12.5M-39.0,15.6 -39.8,16.8 -39.5,18.5 -40.1,20.2 -39.6,22.6 -39.5,24.7 -39.1,27.4 -38.6,30.1 -38.3,31.8 -37.9,33.8 -37.2,34.8 -35.7,35.5 -34.8,35.9M-36.6,15.2 -35.5,16.3 -33.6,17.6 -32.3,18.8 -31.6,17.6 -31.7,16.5 -32.4,15.4 -33.9,13.9M-31.6,17.6 -31.0,18.2 -32.0,19.3 -32.9,20.7 -31.7,21.2 -30.4,22.2 -30.1,23.1M-32.9,20.7 -33.0,23.0M-1.0,-24.1 -0.7,-22.0 -2.1,-21.3 -5.0,-19.7 -5.0,-18.7 -2.8,-17.1 -3.5,-14.7 -3.2,-11.3 -6.7,-10.6 -7.2,-10.1M-5.0,-19.0 -5.0,-17.8 -6.9,-17.8 -7.0,-16.1 -7.6,-14.6 -9.9,-14.6M-7.6,-19.0 -5.0,-19.0M-2.8,-17.1 0.7,-14.4 2.5,-13.2 3.4,-13.3 7.0,-16.1 5.8,-17.4 5.4,-20.6 5.9,-21.3 6.5,-22.8M5.4,-20.6 4.7,-23.3 4.8,-25.3M14.2,-21.7 14.6,-15.1 14.1,-13.7 14.1,-13.4M14.6,-15.1 21.5,-15.1M7.0,-16.1 8.2,-15.4 9.0,-15.8 14.1,-13.4M2.5,-13.2 2.4,-11.3 0.6,-10.3 0.1,-10.1M9.0,-15.8 9.4,-14.1 9.1,-11.3 8.0,-9.3M2.1,-8.0 2.4,-9.3 4.1,-8.9 5.9,-8.9 8.0,-9.3M14.1,-13.4 14.0,-10.8 13.0,-8.9 13.3,-7.5 14.0,-6.2M9.2,-5.1 10.7,-5.5 12.5,-6.5 13.3,-7.5M8.0,-9.3 8.6,-8.8 8.9,-6.9 8.2,-6.5 9.2,-5.1M14.0,-6.2 16.0,-6.6 17.8,-6.9 19.9,-6.9 20.2,-6.2M21.5,-15.1 22.6,-12.3 21.6,-9.8 21.3,-8.6 20.5,-7.2 20.2,-5.8M20.2,-5.8 19.6,-5.3 20.8,-3.4 20.2,-2.9 20.0,-2.5 18.5,-2.5 18.3,-2.4 16.7,-3.1 16.1,-3.6 14.9,-4.9 14.0,-6.2M25.5,-7.9 26.1,-6.2 28.5,-5.5 26.8,-3.4 25.0,-2.7 24.4,-2.7 24.4,-1.9 24.4,1.2M20.8,-3.4 21.7,-3.1 23.2,-2.4 24.4,-2.7M24.4,1.2 23.3,3.2 22.5,2.1 20.3,0.7 18.2,0.7M20.2,-2.9 20.9,-1.0 20.3,0.3M18.3,-2.4 17.9,-0.7 17.6,1.0 17.6,3.1 18.1,5.6 19.6,6.5 20.4,7.9 22.2,7.9 24.0,7.1M18.1,5.6 16.9,5.8 16.9,7.5 17.5,8.4 16.0,8.2 14.8,7.5 14.2,7.5 13.0,7.6 13.0,8.9 14.2,8.9 14.1,12.0M7.3,4.0 9.8,4.1 10.4,5.5 11.6,5.1 13.0,4.8 13.0,7.5M7.4,3.4 9.2,2.9 10.1,0.7 10.7,-1.4 11.1,-2.4 13.1,-2.9 14.9,-3.4 16.1,-3.6M6.6,2.7 8.3,1.7 8.6,0.0 8.3,-1.0 9.5,-1.4 9.6,-2.4M9.7,-1.5 6.7,-1.5 5.8,-1.6M6.7,-1.5 6.7,-0.7 5.7,-0.7M9.6,-2.4 8.9,-3.4 9.2,-5.1M5.1,-3.1 5.4,-4.1 6.5,-4.8 7.1,-5.5 8.0,-6.9 8.6,-8.8M1.6,-4.4 1.7,-6.2 2.1,-8.0M1.0,-4.3 0.8,-6.2 0.5,-7.5M-0.1,-3.8 0.3,-5.5 0.0,-7.5M0.1,-10.1 1.2,-8.2 0.5,-7.5 0.0,-7.5 -1.7,-7.5 -3.3,-7.1 -3.2,-7.9 -2.4,-9.3 0.1,-10.1M-1.8,-3.4 -1.7,-5.5 -1.7,-7.5M-4.5,-3.0 -5.1,-5.2 -4.7,-6.9 -4.4,-7.1 -3.3,-7.1M-4.7,-6.9 -5.3,-8.6 -6.7,-8.5 -8.1,-8.6 -9.9,-8.4M-6.7,-8.5 -6.7,-10.6M-6.8,-4.7 -6.2,-5.8 -6.2,-6.5 -7.7,-6.4M-8.9,-7.4 -8.1,-8.6M6.9,11.9 8.2,11.9 12.3,12.3 13.8,12.3 14.8,12.2M12.3,12.3 12.3,15.1 11.7,15.1 11.6,17.0 11.5,19.5 9.5,19.6M11.6,17.0 13.3,17.5 15.4,16.8 16.9,15.2M14.8,12.2 15.2,13.0 16.4,14.4 16.9,15.2 18.2,15.4M17.9,10.7 19.4,11.5 19.4,13.0 19.0,14.4 18.2,15.4M14.8,12.2 16.5,11.1 17.9,10.7M17.9,10.7 19.5,9.9 20.6,11.5 20.9,9.6 20.4,7.9M18.2,15.4 18.6,17.1 19.0,18.4M15.5,19.9 16.9,20.1 16.3,20.9 15.5,19.9M25.2,-11.3 27.3,-11.9 30.5,-13.0 32.5,-15.1 32.2,-15.6 29.9,-16.6M20.0,-20.2 21.1,-21.6 22.2,-21.9 24.0,-21.3 25.6,-20.0 27.3,-19.9M22.2,-21.9 23.1,-23.6 23.4,-25.4M20.1,-25.2 21.2,-25.2 23.4,-25.6M20.4,-22.6 20.6,-23.7 20.2,-23.7M20.1,-22.3 22.2,-21.9M27.8,-20.6 26.9,-22.6 25.8,-24.0 25.0,-25.7 24.5,-26.4 24.5,-27.2M22.6,-28.4 23.8,-28.1 24.5,-27.2M30.0,-25.6 31.6,-26.1 34.1,-25.0 34.3,-23.7 34.7,-20.2 35.3,-20.2 35.7,-17.2M35.3,-20.2 38.1,-20.4 39.6,-21.6 39.6,-23.0 40.0,-23.7 39.9,-25.0 41.5,-25.4M34.1,-25.0 36.1,-25.7 37.3,-25.6 38.9,-25.8 41.5,-25.4M39.8,-16.3 40.9,-17.1 41.4,-19.2 42.3,-20.6 42.6,-22.3 41.7,-23.7 43.2,-24.3M43.2,-24.3 44.8,-22.3 46.4,-20.6 48.3,-19.5 50.7,-18.9M45.9,-19.7 48.4,-18.8 50.9,-18.2 50.7,-18.9M51.4,-18.5 53.0,-18.9 55.8,-19.2 56.3,-18.5 55.0,-17.8 54.3,-16.5 54.0,-14.7M51.6,-15.1 51.5,-18.0 53.3,-17.3 54.0,-14.7M45.6,-33.5 48.5,-31.0 52.0,-29.3 54.2,-29.2 57.2,-28.5 59.8,-29.8 60.4,-30.7 62.2,-31.8 63.3,-32.0M45.6,-33.5 46.4,-34.5 50.0,-35.5 52.2,-35.1 55.4,-34.0 59.0,-34.2 60.7,-33.9 63.3,-32.0M61.0,-33.9 61.3,-35.3 61.1,-36.3 63.8,-36.0 66.5,-33.8 68.8,-32.6 70.4,-33.0 71.3,-30.8 71.0,-29.1 70.8,-29.0M45.6,-33.5 44.9,-32.2 44.0,-31.0 42.8,-30.7 43.6,-28.8 41.6,-27.8 41.0,-27.1 41.5,-25.4 42.3,-24.7 43.2,-24.3M63.1,-14.8 61.8,-15.6 60.0,-15.6 59.3,-14.6 58.4,-14.8 57.3,-16.5 56.8,-17.5 57.0,-18.9 56.1,-19.3M58.5,-14.1 57.9,-12.3 58.0,-11.0 58.7,-7.5M58.8,-13.9 59.9,-12.3 61.4,-12.0 62.3,-10.3 60.8,-9.8 60.7,-8.4M60.0,-15.6 61.1,-14.1 61.7,-12.3 63.4,-10.3 63.5,-9.9 62.8,-7.5 62.0,-7.1M59.6,-4.5 60.7,-4.1M24.1,-35.1 25.6,-35.1 28.3,-34.6 31.4,-34.7 31.0,-36.5 32.4,-37.3 34.8,-37.6 36.9,-36.8 38.4,-36.8 40.1,-35.8 42.6,-34.8 45.6,-33.5M24.1,-35.1 24.3,-33.2 25.9,-31.8M28.8,-28.8 30.6,-28.3 29.9,-30.8 31.4,-31.1 32.7,-30.3 34.8,-29.8 35.7,-29.4 37.5,-27.9 38.6,-28.9 39.8,-29.1 43.6,-28.8M30.6,-28.3 31.7,-29.1 32.6,-28.8 34.1,-27.4 36.0,-26.3 37.0,-25.6M37.5,-27.9 38.7,-27.4 40.2,-27.1 41.0,-27.1M37.3,-25.6 37.5,-26.7 38.7,-27.4M21.6,-29.8 22.7,-29.6 23.8,-29.3 25.3,-28.6 26.4,-28.6M22.6,-28.4 23.8,-28.2 25.4,-28.2M24.6,-27.2 25.7,-26.7 26.6,-26.4 27.1,-26.3M68.2,-27.4 68.7,-28.4 69.6,-28.8 70.8,-29.0M70.0,-25.9 71.2,-26.3M-4.8,-28.7 -3.6,-28.7 -3.8,-27.6 -3.9,-26.7 -4.2,-25.7M-1.0,-29.7 0.0,-29.3 1.7,-29.0M1.3,-34.9 2.1,-34.4 2.6,-34.0 3.1,-33.8 4.3,-33.5 4.0,-32.6 3.4,-31.7 3.7,-31.4 3.6,-30.1 4.0,-30.0M1.7,-35.1 2.3,-35.1 3.0,-34.9 3.1,-34.6 3.1,-35.4 3.6,-35.8 3.6,-36.3M4.3,-37.4 4.9,-37.3M7.1,-36.7 7.4,-35.8 7.7,-34.8M7.7,-34.8 6.2,-34.4 7.2,-33.4 6.8,-32.5 5.5,-32.5 5.0,-32.6 4.0,-32.6M7.7,-34.8 8.5,-34.3 9.8,-33.8M7.2,-33.4 7.8,-33.5 8.8,-33.2 9.0,-32.8M5.5,-32.1 6.5,-32.2 7.3,-31.8M3.7,-31.4 4.5,-31.8 5.6,-31.8 5.5,-32.1M9.0,-32.8 8.7,-32.2 8.5,-32.0M9.0,-32.8 9.9,-32.7 10.7,-33.2 11.6,-33.1M9.8,-33.8 10.4,-33.6 11.8,-33.6M11.8,-33.6 12.4,-34.5 12.1,-35.1 11.9,-35.9 11.8,-36.7 11.4,-37.0 9.9,-37.0M11.6,-33.1 12.0,-32.8 11.4,-31.9 10.8,-31.6 10.1,-31.4 9.2,-31.4 8.5,-32.0M7.3,-31.8 8.5,-32.0M8.3,-31.1 7.2,-31.1M8.4,-30.8 8.8,-30.9 10.2,-30.8 10.4,-30.1 10.4,-29.6 10.0,-29.1M11.4,-30.7 12.0,-30.5 12.1,-30.1 12.9,-29.9 14.0,-30.1 15.4,-29.9M12.1,-30.1 12.2,-29.0 11.1,-28.9M11.0,-27.2 11.5,-28.0 12.4,-28.3 13.6,-28.3 14.4,-28.6 15.2,-28.8M10.5,-28.8 11.1,-28.8 11.4,-28.0 11.0,-27.2M12.0,-32.8 13.1,-32.7 13.9,-33.0 14.9,-31.9 15.0,-31.1 15.8,-30.9M13.9,-33.0 14.8,-32.9 15.6,-31.8 15.9,-31.7M11.9,-35.9 13.3,-35.3 15.4,-35.1 16.1,-35.5 16.2,-36.1 15.6,-36.8 15.1,-37.9 13.9,-38.1 13.1,-37.8 12.5,-36.9 11.8,-36.7M10.4,-38.1 11.8,-38.3 13.1,-37.8M11.8,-39.2 12.6,-39.2 13.4,-39.0M13.9,-38.1 13.4,-39.0 13.4,-39.7 13.4,-40.3M16.1,-35.5 17.3,-35.7 18.3,-34.5 19.4,-34.4 20.8,-33.8 21.0,-32.8 20.0,-32.2M13.3,-40.9 14.6,-42.4 13.5,-43.4 13.4,-44.6 12.6,-46.1 12.3,-46.2M10.8,-44.2 10.4,-45.2 9.1,-46.1M5.8,-40.0 5.9,-41.2 5.6,-42.8 6.3,-43.8 7.3,-45.2 8.1,-45.8 9.1,-46.1M9.1,-46.1 10.9,-45.9 12.3,-46.4 12.9,-46.5M-3.7,-36.8 -3.1,-36.8 -2.9,-37.2M-1.5,-38.0 -1.0,-37.9M76.1,10.3 73.4,21.7M81.3,11.3 79.9,17.8 81.6,17.8 78.2,26.1M74.6,17.8 79.9,17.8M80.9,19.9 88.3,19.3M79.6,23.3 80.5,24.3 82.7,25.2 83.4,25.7M84.0,1.8 83.7,6.2"/>
<path id="bnd" d="M-57.1,55.3 -61.4,54 -66.7,51.9 -72.2,49.4 -77.1,46.6 -81.5,43.7 -85.7,40.6 -89.6,37.4 -93.1,34.2 -96.2,30.8 -98.9,27.4 -101.2,24 -103,20.6 -104.4,17.1 -105.4,13.7 -106.2,10.3 -106.8,6.9 -107.1,3.4 -107.3,0 -107.1,-3.4 -106.8,-6.9 -106.2,-10.3 -105.4,-13.7 -104.4,-17.1 -103,-20.6 -101.2,-24 -98.9,-27.4 -96.2,-30.8 -93.1,-34.2 -89.6,-37.4 -85.7,-40.6 -81.5,-43.7 -77.1,-46.6 -72.2,-49.4 -66.7,-51.9 -61.4,-54 -57.1,-55.3 57.1,-55.3 61.4,-54 66.7,-51.9 72.2,-49.4 77.1,-46.6 81.5,-43.7 85.7,-40.6 89.6,-37.4 93.1,-34.2 96.2,-30.8 98.9,-27.4 101.2,-24 103,-20.6 104.4,-17.1 105.4,-13.7 106.2,-10.3 106.8,-6.9 107.1,-3.4 107.3,0 107.1,3.4 106.8,6.9 106.2,10.3 105.4,13.7 104.4,17.1 103,20.6 101.2,24 98.9,27.4 96.2,30.8 93.1,34.2 89.6,37.4 85.7,40.6 81.5,43.7 77.1,46.6 72.2,49.4 66.7,51.9 61.4,54 57.1,55.3Z"/>
<path id="lakes" d="M-48.6,-32 -47.6,-31.9 -46.3,-32.4 -44.9,-32.2 -44.8,-31.8 -45.8,-31.7 -46.5,-32 -47.6,-32 -48.6,-32M-47.8,-28.6 -47.5,-28.5 -46.7,-29.1 -46.3,-30.1 -45.5,-31.2 -46.3,-31.3 -47,-30.5 -47.8,-28.6M-44.9,-31.3 -44,-31 -43.6,-31 -43,-30.8 -44.4,-29.6 -44.9,-30.1 -44.9,-31.3M-45.3,-28.8 -43.9,-29.2 -42.8,-29.3 -43,-29.1 -44.4,-28.4 -45.4,-28.6 -45.3,-28.8M-43.1,-29.6 -41.5,-29.7 -41,-30.1 -42.7,-29.9 -43.1,-29.6M19,0.7 19.7,-0.2 20.3,0 20.6,0.7 20,1.7 19.1,1.7 19,0.7M53.1,-35.3 53.9,-35.3 54.4,-36.5 54.2,-37.9 54,-37.8 53.9,-36.1 53.1,-35.3M-51,-34.5 -50,-34.5 -49.1,-36.5 -50,-36.3 -51,-34.5M-55.2,-41.2 -53,-41.6 -51.2,-42.4 -52.9,-42.2 -55.2,-41.2M-56.6,-43.7 -54.2,-43.8 -52.8,-44.6 -54.1,-44.9 -56.6,-43.7"/>
<path id="coast" d="M-75.6,-44.1 -74.9,-44.4 -74,-44.9 -73.2,-45.3 -72.3,-45.8 -71.8,-45.9 -71.4,-46 -71.2,-45.9 -70.8,-46 -70,-46.4 -69.4,-46.7 -68.7,-46.8 -68.2,-47 -68,-47 -67.7,-47.1 -67.2,-47.2 -66.7,-47.2 -66.5,-47.2 -66.4,-47 -65.8,-47 -65.1,-47.3 -65.1,-47.3 -65.2,-47 -65.1,-46.7 -64.6,-46.7 -64.2,-46.7 -64,-46.6 -63.6,-46.7 -62.8,-46.9 -62.1,-47 -62.1,-46.9 -62.2,-46.8 -62,-46.6 -61.7,-46.6 -61.4,-46.6 -61.2,-46.5 -61.1,-46.3 -61.1,-46.1 -60.8,-46 -60.5,-46.1 -60.3,-45.9 -60,-45.9 -59.6,-46.1 -59.2,-46.1 -58.6,-46.3 -58,-46.4 -58,-46.3 -57.7,-46.4 -57.1,-46.5 -56.7,-46.5 -56.3,-46.5 -55.6,-46.8 -55.1,-46.8 -55,-46.6 -54.6,-46.6 -54.4,-46.7 -54.5,-46.4 -54.2,-46.3 -53.6,-46.5 -53.3,-46.4 -53.1,-46.1 -53,-46.1 -52.8,-46.1 -52.3,-46.3 -51.8,-46.3 -51.4,-46.3 -50.9,-46.4 -50.5,-46.4 -50.5,-46.1 -50.5,-45.8 -50.1,-46 -49.8,-45.9 -49.7,-45.6 -49.2,-45.8 -49,-45.8 -49.1,-45.4 -48.6,-45.3 -48.1,-45.5 -47.8,-45.5 -47.4,-45.7 -46.8,-45.9 -46.5,-45.8 -46.3,-45.8 -46,-45.9 -45.6,-45.9 -45.1,-45.7 -45,-45.6 -45,-45.4 -44.6,-45.4 -44,-45.5 -43.4,-45.6 -43,-45.7 -42.8,-45.7 -42.7,-45.6 -42.3,-45.6 -41.7,-45.8 -41.2,-46.4 -40.8,-46.8 -40.5,-47 -40.1,-47.3 -39.8,-47.4 -39.6,-47.2 -39.2,-47.1 -39,-47 -38.9,-46.8 -38.6,-46.7 -38.6,-46.3 -38.7,-45.8 -38.7,-45.6 -38.4,-45.5 -37.6,-45.8 -37.2,-46.2 -37.2,-46.4 -37.2,-46.2 -36.8,-46 -36.3,-46.3 -35.9,-46.3 -35.8,-46.1 -35.5,-46 -35.5,-45.8 -35.8,-45.5 -36.3,-44.9 -36.9,-44.6 -37.2,-44.6 -37.6,-44.5 -38.1,-44.5 -38.4,-44.5 -38.7,-44.5 -38.6,-44.3 -38.7,-43.9 -39.2,-43.5 -39.8,-43.4 -40.2,-43.2 -40.8,-42.9 -41.3,-42.9 -41.8,-42.8 -42.2,-42.6 -42.7,-42.2 -43.2,-41.8 -43.7,-41.6 -44.1,-41.4 -44.6,-40.7 -45.2,-40 -45.5,-39.8 -45.4,-39.7 -45.5,-39.4 -45.5,-39 -45.1,-38.9 -44.6,-38.9 -44.3,-39.1 -44,-38.9 -43.7,-38.6 -43.3,-38.4 -42.8,-38.4 -42.4,-38.3 -42.5,-37.7 -42.5,-37.3 -42.1,-37.5 -41.8,-37.5 -41.3,-37.4 -41.1,-37.1 -41.1,-36.8 -41.4,-36.2 -41.5,-35.6 -41.5,-35.2 -41.4,-35 -41,-35 -40.6,-35.1 -40.2,-35.7 -39.7,-36.2 -39.6,-36.4 -39.6,-36.5 -39.7,-36.9 -39.4,-37.2 -38.9,-37.5 -38.2,-37.9 -37.9,-38.3 -37.6,-38.8 -37.2,-39.4 -37.1,-39.8 -37.1,-40 -37.1,-40.2 -37,-40.5 -37,-40.8 -36.7,-41.5 -36.3,-42.1 -36.2,-42.1 -36,-41.8 -35.6,-41.9 -35.1,-42.1 -34.8,-42.2 -34.7,-42 -34.4,-41.9 -33.8,-41.9 -33.5,-41.9 -33.4,-41.8 -33.4,-41.4 -33,-41.2 -32.8,-41 -33,-40.6 -33.1,-40.4 -33.3,-40.3 -33,-40 -32.8,-39.7 -32.5,-39.7 -32,-40 -31.7,-40.1 -31.2,-40.4 -30.8,-40.7 -30.4,-41 -30.5,-40.6 -30.7,-40 -30.7,-39.7 -30.5,-39.4 -30.4,-38.9 -30.3,-38.3 -30.1,-38 -29.8,-37.9 -29.8,-37.9 -29.4,-37.7 -28.9,-37.5 -28.4,-37.2 -28.3,-36.8 -28.1,-36.6 -28.2,-36 -28.3,-35.3 -28.6,-35.1 -28.9,-35 -29.3,-34.9 -29.6,-34.9 -30.1,-34.9 -30.5,-34.8 -30.9,-34.5 -31.2,-34.6 -31.6,-34.4 -32.2,-34.3 -32.5,-34.5 -32.9,-34.5 -33.3,-34.2 -33.9,-34.1 -34.4,-34.2 -34.8,-34.1 -35.2,-33.9 -35.6,-33.5 -36.1,-33 -36.6,-32.9 -36.9,-32.8 -36.5,-33 -36.2,-33 -35.9,-33.1 -35.5,-33 -35,-33 -34.4,-33.4 -34,-33.5 -33.6,-33.4 -33.7,-33.1 -33.9,-32.7 -34.2,-32.4 -34.6,-32.2 -34.2,-32 -34.2,-31.6 -34,-31.3 -33.7,-31.2 -33.4,-31.2 -32.9,-31.2 -32.2,-31.6 -31.6,-31.6 -32,-31.2 -32.5,-31 -33.2,-30.7 -33.7,-30.4 -34.1,-30.4 -34.6,-30.3 -35,-30.2 -35.3,-30.1 -35.4,-30.3 -35.5,-30.6 -35,-30.7 -34.7,-30.6 -34.5,-30.7 -35,-30.8 -35.6,-30.9 -36,-30.8 -36.3,-30.5 -36.7,-30.2 -37.1,-30.1 -37.4,-30.1 -37.8,-30.1 -38.2,-29.6 -38.6,-29.1 -38.7,-28.6 -38.3,-28.5 -38.6,-28.3 -38.9,-28.4 -39.2,-28.5 -39.6,-28.4 -40,-28.2 -40.4,-28.1 -40.6,-27.8 -40.6,-27.2 -40.9,-26.8 -41.4,-26.4 -41.9,-26.2 -42.1,-26 -42.2,-25.7 -42.2,-25.3 -42.2,-25.1 -42.2,-25 -42.3,-24.2 -42.7,-23.8 -43,-23.7 -43.4,-23.7 -43.7,-23.6 -44.1,-23.3 -44.6,-22.8 -45.1,-22.3 -45.6,-22.2 -45.9,-22 -46.1,-21.8 -46.3,-21.2 -46.6,-20.6 -46.5,-20.1 -46.3,-19.8 -46.2,-19.2 -46.3,-18.5 -46.3,-18.1 -46.4,-17.9 -46.5,-17.5 -46.8,-17.3 -46.9,-17.7 -47.1,-18 -47.3,-18.1 -47.5,-18.5 -47.7,-19.1 -47.6,-19.4 -47.6,-19.8 -47.7,-20.2 -47.8,-20.5 -48,-20.6 -48.4,-20.6 -48.8,-20.6 -49,-20.5 -49.2,-20.6 -49.5,-20.6 -50,-20.6 -50.3,-20.7 -50.6,-20.8 -51.1,-20.7 -51.2,-20.3 -51.2,-19.8 -51.4,-19.9 -51.6,-20 -52,-20.1 -52.4,-20.1 -52.9,-20.2 -53.3,-20.3 -53.6,-20.3 -54,-20.3 -54.3,-20.2 -54.8,-20 -55.1,-19.7 -55.4,-19.4 -55.8,-19.1 -56,-18.8 -56.1,-18.4 -56.3,-17.9 -56.5,-17.4 -56.8,-16.8 -56.8,-16.4 -56.8,-16.1 -56.9,-15.5 -56.9,-14.9 -56.9,-14.4 -56.7,-13.8 -56.5,-13.3 -56.3,-13.2 -56,-13.1 -55.7,-12.8 -55.5,-12.4 -55,-12.4 -54.6,-12.5 -54.2,-12.7 -53.9,-12.8 -53.5,-12.7 -53.3,-13.1 -53.1,-13.4 -52.9,-13.9 -52.9,-14.3 -52.7,-14.4 -52.3,-14.5 -51.8,-14.7 -51.2,-14.8 -50.8,-14.9 -51,-14.3 -51.1,-13.8 -51.3,-13.5 -51.4,-13.1 -51.6,-12.6 -51.9,-12.1 -52,-11.6 -52.1,-11.2 -52.2,-11.1 -51.9,-11.1 -51.5,-11 -51.1,-11 -50.6,-11 -50,-11 -49.6,-10.8 -49.2,-10.5 -49,-10.3 -49.1,-9.8 -49.3,-9.3 -49.3,-8.9 -49.4,-8.4 -49.6,-7.8 -49.4,-7.4 -49.2,-6.9 -49,-6.6 -48.9,-6.3 -48.6,-6 -48,-6.1 -47.4,-6.3 -47,-6.4 -46.7,-6.4 -46.3,-6.2 -45.9,-6 -45.5,-5.9 -45.3,-6.1 -45.2,-6.2 -45,-6.8 -44.8,-7.4 -44.5,-7.4 -44.4,-7.3 -44,-7.4 -43.4,-7.7 -43,-8.2 -42.7,-8.3 -42.3,-8.4 -42.4,-7.9 -42.5,-7.4 -42.1,-7.6 -41.7,-7.9 -41.4,-8.4 -41.1,-7.9 -40.7,-7.6 -40.4,-7.2 -40,-7.2 -39.7,-7.4 -39.2,-7.4 -38.7,-7.1 -38.2,-7 -37.7,-7.3 -37.2,-7.4 -37.1,-7.3 -36.8,-7.3 -36.6,-6.9 -36.5,-6.7 -36.4,-6.5 -36.2,-6 -36,-5.7 -35.6,-5.8 -35.3,-5.6 -35.1,-5.1 -34.8,-4.7 -34.5,-4.5 -33.9,-4.3 -33.4,-4.2 -33,-4 -32.5,-3.8 -32,-3.8 -31.6,-3.8 -31.1,-3.6 -30.8,-3.2 -30.7,-2.9 -30.5,-2.5 -30.2,-2.1 -29.9,-1.8 -29.7,-1.3 -29.7,-0.7 -29.7,-0.3 -29.5,-0 -29.2,0.2 -28.8,0.4 -28.4,0.5 -28.1,0.4 -27.7,0.6 -27.2,0.7 -26.8,0.8 -26.6,1.2 -26.3,1.7 -25.9,1.8 -25.6,1.8 -25.1,1.9 -24.6,2 -24.2,2 -23.8,1.9 -23.4,2.2 -23.1,2.5 -22.8,2.8 -22.3,3.1 -22,3.2 -21.5,3.3 -21,3.7 -21,4.3 -20.9,4.6 -20.8,5 -20.7,5.5 -20.7,6 -20.7,6.4 -21.2,6.7 -21.6,7.1 -21.8,7.4 -22,7.8 -22.2,8.1 -22.4,8.5 -22.7,8.9 -22.9,9.3 -22.9,9.7 -22.9,10.2 -23,10.6 -23.1,11 -23.1,11.5 -23.1,11.9 -23.1,12.3 -23.3,12.7 -23.5,13.3 -23.6,14 -23.8,14.5 -23.8,14.7 -23.9,15.1 -24.1,15.5 -24.4,15.9 -24.8,15.8 -25.1,15.8 -25.4,15.9 -25.8,15.9 -26.3,16 -26.7,16.3 -27.1,16.5 -27.3,16.8 -27.5,17.2 -27.8,17.6 -27.9,17.9 -28,18.1 -28.1,18.7 -28.1,19.4 -28.2,19.7 -28.3,20 -28.4,20.5 -28.6,21.1 -29,21.4 -29.3,21.7 -29.5,21.9 -29.7,22 -29.8,22.5 -29.9,23 -30,23.2 -30.1,23.4 -30.4,23.6 -30.7,23.6 -31.1,23.6 -31.4,23.8 -31.8,23.8 -32.2,23.6 -32.6,23.5 -32.9,23.5 -32.4,24 -32,24.4 -31.8,24.9 -31.9,25.3 -32,25.6 -32,26 -32.2,26.2 -32.7,26.5 -33.2,26.6 -33.5,26.6 -33.8,26.7 -34,26.9 -34.3,27 -34.3,27.3 -34.1,27.9 -34.4,28.3 -34.8,28.4 -35.1,28.1 -35.5,28 -35.2,28.5 -34.9,29.1 -34.5,29.5 -34.9,29.5 -35.2,29.5 -34.9,30 -34.9,30.3 -35.2,30.4 -35.4,30.7 -35.7,31 -35.9,31.2 -35.5,31.6 -34.9,32.1 -34.7,32.6 -34.6,32.9 -34.7,33.3 -34.9,33.4 -35,33.7 -35.2,33.9 -35.4,34.2 -35.2,34.8 -35.3,35.3 -35,35.6 -35,35.7 -35.3,35.8 -35.6,36.1 -35.7,36.7 -36.2,36.7 -36.6,36.5 -36.9,36.2 -37.3,35.9 -37.6,35.7 -38,35.3 -38.5,34.9 -38.7,34.4 -38.8,33.7 -38.7,33.2 -39.1,32.8 -39.5,32.3 -39.9,31.7 -39.9,31.3 -39.9,30.9 -39.8,30.5 -39.7,30.1 -39.6,29.6 -39.5,29.1 -39.8,28.7 -40.2,28.2 -40.2,27.7 -40.3,27.3 -40.5,26.9 -40.6,26.3 -40.7,25.9 -40.7,25.4 -40.7,24.9 -40.6,24.4 -40.6,23.9 -40.7,23.3 -40.6,22.8 -40.7,22.3 -40.7,21.7 -40.6,21.2 -40.6,20.8 -40.8,20.3 -40.9,19.8 -40.8,19.4 -40.7,19 -40.9,18.3 -41,17.6 -40.9,17 -40.9,16.5 -41,16.1 -41.1,15.7 -41.1,15.3 -40.9,14.7 -40.9,14.2 -41,13.7 -41.1,13.2 -41.1,12.6 -41.4,12.3 -41.9,11.9 -42.4,11.6 -42.8,11.3 -43.3,11 -43.7,10.8 -43.9,10.7 -44.3,10.3 -44.7,9.9 -44.9,9.6 -45,9 -45.2,8.5 -45.5,8.2 -45.8,8 -46.1,7.4 -46.4,6.6 -46.6,5.9 -46.7,5.6 -47,5.4 -47.3,5.1 -47.6,4.8 -47.9,4.5 -48.3,4.1 -48.4,3.6 -48.3,3 -48,2.7 -47.7,2.4 -47.6,2.1 -47.7,1.8 -48,1.5 -48.2,1.2 -48,0.7 -47.8,0.3 -47.8,-0.1 -47.8,-0.4 -47.6,-0.7 -47.2,-1.1 -47,-1.5 -46.8,-1.8 -46.4,-2.2 -46.2,-2.7 -46.2,-3.3 -46.1,-3.8 -46.1,-4.2 -46.2,-4.7 -46.3,-5.2 -46.5,-5.6 -46.8,-5.7 -47.1,-5.9 -47.5,-5.7 -47.7,-5.4 -47.9,-5.5 -48.3,-5.7 -48.8,-5.7 -49.2,-5.7 -49.5,-5.9 -49.8,-6.3 -49.9,-6.6 -50,-6.8 -50.4,-6.8 -50.9,-6.9 -50.9,-7.1 -50.8,-7.4 -51.1,-7.9 -51.3,-8.3 -51.6,-8.6 -51.8,-8.9 -52.1,-8.9 -52.5,-9 -52.9,-9.1 -53.2,-9.2 -53.6,-9.3 -54.1,-9.5 -54.4,-9.7 -54.5,-10 -54.8,-10.5 -55.4,-10.9 -55.7,-11.2 -56.1,-11 -56.5,-10.8 -57,-10.9 -57.4,-11 -57.7,-11 -58,-10.9 -58.3,-11.3 -58.7,-11.7 -59.1,-12 -59.5,-12.2 -59.9,-12.4 -60.3,-12.6 -60.8,-12.8 -61.2,-13 -61.3,-13.3 -61.4,-13.7 -61.7,-13.9 -61.7,-14.2 -61.6,-14.7 -61.7,-15.3 -61.8,-15.6 -62,-16.1 -62.2,-16.6 -62.5,-16.9 -62.9,-17.2 -63,-17.5 -63,-18 -63.2,-18.4 -63.4,-18.9 -63.6,-19.2 -63.8,-19.3 -64.1,-19.6 -64.2,-20.2 -64.3,-20.6 -64.5,-21 -64.5,-21.4 -64.8,-21.6 -65.1,-21.8 -65.6,-21.3 -65.7,-20.9 -65.7,-20.6 -65.4,-20.3 -65.2,-19.9 -65.1,-19.5 -65,-19.1 -64.8,-18.6 -64.7,-18.1 -64.6,-17.7 -64.4,-17.3 -64.3,-17 -64.1,-16.7 -64,-16.4 -63.8,-16.2 -63.8,-15.9 -64.2,-15.6 -64.5,-15.9 -64.7,-16.5 -64.7,-16.8 -64.9,-17.1 -65,-17.4 -65,-17.8 -65.4,-18.1 -65.6,-18.3 -65.7,-18.7 -65.9,-19.1 -65.8,-19.5 -65.9,-19.7 -65.9,-20.2 -66.1,-20.6 -66.1,-20.9 -66.3,-21.3 -66.4,-21.7 -66.4,-22 -66.5,-22.3 -66.4,-22.8 -66.6,-23.1 -66.8,-23.4 -67.1,-23.6 -67.3,-23.7 -67.6,-23.9 -67.9,-24 -67.7,-24.4 -67.6,-24.6 -67.6,-24.9 -67.8,-25.3 -68,-25.7 -68.1,-26.1 -68.2,-26.4 -68.3,-26.5 -68.5,-26.7 -68.2,-27 -67.9,-27.3 -68.2,-27.6 -67.9,-28 -67.5,-28.6 -67.3,-29.1 -67.1,-29.5 -66.8,-30.1 -66.5,-30.5 -66.1,-31 -65.7,-31.5 -65.5,-32 -65.3,-32.6 -65.3,-32.9 -65.2,-33.1 -65,-32.9 -64.7,-32.9 -64.2,-33 -63.8,-33.4 -63.9,-33.8 -64,-34 -64.1,-34.1 -64.2,-34.3 -64.4,-34.2 -64.6,-34.3 -64.9,-34.7 -65.2,-34.9 -65.2,-35.2 -65.4,-35.4 -65.6,-35.6 -65.4,-36.1 -65.4,-36.4 -65.3,-36.8 -65.4,-37 -65.3,-37.2 -65.3,-37.4 -65.4,-37.7 -65.1,-38.2 -64.9,-38.9 -65,-39.2 -65.2,-39.2 -65,-39.6 -64.7,-40.1 -64.8,-40.3 -65.5,-40 -66.2,-39.7 -66.5,-39.7 -66.6,-40 -66.4,-40.4 -66.3,-40.7 -66.7,-40.7 -67.2,-40.6 -67.8,-40.6 -68.1,-40.5 -68.1,-40.6 -68.2,-40.7 -68.6,-40.9 -69.1,-40.9 -69.2,-41 -69.2,-41 -69.4,-41.1 -70,-41 -71,-40.6 -71.7,-40.3 -72,-40.3 -72.1,-40.2 -72.5,-40.1 -72.1,-40.6 -71.9,-40.9 -71.6,-41.1 -71,-41.4 -70.6,-41.5 -71.3,-41.3 -71.9,-41.1 -72.5,-40.8 -72.9,-40.5 -72.9,-40.5 -73.3,-40.2 -73.7,-40 -73.9,-40 -74.5,-39.8 -75.4,-39.3 -76.1,-38.9 -76.6,-39 -77,-39 -77.3,-38.7 -77.7,-38.4 -78.3,-38.2 -78.8,-38.2 -79.4,-38 -80.3,-37.5 -81.1,-37 -81.3,-37 -81.5,-37.3 -80.8,-37.6 -80.4,-37.7 -79.9,-37.9 -79.1,-38.2 -78.6,-38.4 -78.6,-38.4 -78.2,-38.4 -77.3,-38.8 -76.6,-39.3 -76.1,-39.6 -76.1,-39.8 -76,-40 -76.4,-39.8 -77.1,-39.7 -77.4,-39.7 -77.6,-39.8 -77.8,-39.9 -77.5,-40.2 -77.5,-40.4 -77.8,-40.5 -78,-40.6 -78.3,-40.7 -78.6,-40.9 -78.1,-41.2 -77.8,-41.5 -77.6,-41.7 -77.4,-41.9 -77,-42.1 -76.5,-42.3 -75.9,-42.7 -75.4,-42.8 -75.1,-42.8 -75.3,-42.6 -74.5,-42.7 -73.6,-43.1 -73.9,-43.4 -74.2,-43.3 -74.4,-43.3 -74.5,-43.5 -74.9,-43.3 -75.4,-43.1 -75.5,-43.4 -75.7,-43.6 -75.7,-43.8 -75.6,-44 -75.6,-44.1M-27.5,-51.2 -27.3,-51.3 -26.6,-51.4 -26,-51.6 -25.8,-51.7 -25.3,-52.1 -24.6,-52.3 -24.3,-52.3 -24.3,-52.1 -24.2,-51.9 -23.7,-52.1 -23,-52.6 -22.4,-53 -22.2,-52.9 -21.9,-52.6 -21.7,-52.6 -21.4,-52.6 -20.8,-52.8 -20.3,-52.9 -20.3,-52.9 -20.2,-53 -19.6,-53 -19.3,-52.8 -19,-52.8 -18.5,-53 -18.2,-53.2 -17.9,-53.1 -17.5,-53 -17.4,-53 -17.2,-53.1 -16.7,-53.2 -16.2,-53.3 -15.9,-53.3 -15.6,-53.4 -15.3,-53.5 -15.1,-53.3 -14.9,-53 -14.6,-53.3 -14.2,-53.6 -13.9,-53.5 -13.7,-53.3 -13.4,-53.3 -13,-53.5 -12.6,-53.6 -12.4,-53.4 -12.1,-53.3 -11.7,-53.3 -11.3,-53.4 -11,-53.4 -10.9,-53.3 -10.7,-53.3 -10.3,-53.4 -9.7,-53.7 -9.3,-53.7 -9.3,-53.4 -9.1,-53.3 -8.4,-53.5 -8,-53.7 -7.8,-53.3 -7.7,-52.9 -7.6,-52.7 -7.4,-52.6 -6.9,-52.7 -6.6,-52.9 -6.3,-52.9 -6,-52.8 -6,-52.6 -6.3,-52.2 -6.5,-51.9 -6.9,-51.5 -7.1,-51.2 -7.2,-51 -7.6,-50.6 -7.7,-50.1 -7.8,-49.9 -8.3,-49.7 -8.5,-49.4 -8.7,-48.8 -8.8,-48.4 -8.9,-48.3 -9.2,-48.3 -9.6,-48.1 -9.9,-47.7 -10,-47.4 -10.2,-47.1 -10.6,-46.8 -10.9,-46.6 -11.1,-46.5 -11.3,-46.1 -11.7,-45.6 -12.2,-45.6 -12.7,-45.7 -13.1,-45.9 -13.4,-45.8 -13.6,-45.4 -13.9,-45.1 -14.4,-44.9 -14.9,-44.9 -15,-44.9 -15.2,-44.8 -15.7,-44.5 -16.2,-44.4 -16.4,-44.3 -16.4,-44.4 -16.8,-44.2 -17.4,-44 -17.8,-43.8 -18.1,-43.6 -18.2,-43.3 -18.4,-43.1 -18.6,-42.9 -19.1,-42.5 -19.6,-42.1 -19.9,-42 -20.1,-41.3 -20.3,-40.7 -20.8,-40.4 -21.1,-40.6 -21.3,-40.7 -21.6,-40.8 -21.8,-41.2 -22.1,-41.5 -22.4,-41.5 -22.8,-41.4 -23,-41.7 -22.9,-42.2 -22.8,-42.8 -22.8,-43.1 -23.2,-43.3 -23.3,-43.6 -23,-44 -22.9,-44.5 -23.2,-44.9 -23.4,-45 -23.1,-45.5 -22.9,-46 -22.8,-45.9 -22.6,-45.8 -22.4,-46.2 -22.5,-46.5 -22.6,-46.4 -22.8,-46.4 -22.9,-46.8 -22.9,-47.3 -22.8,-47.7 -22.7,-47.7 -22.9,-47.8 -23.2,-48.1 -23.3,-48.2 -23.2,-48.3 -23.2,-48.7 -23,-49.4 -23.1,-49.5 -23.5,-49.4 -23.7,-49.6 -23.8,-49.6 -24,-49.9 -24.1,-50 -24.4,-49.8 -24.7,-49.9 -24.9,-50.1 -25.2,-50.3 -25.4,-50.2 -25.9,-49.9 -26.2,-50 -26.5,-50 -27.2,-49.8 -27.4,-49.9 -27.6,-50.3 -27.7,-50.3 -27.7,-50.4 -27.5,-51 -27.5,-51.2M-36.8,-51.2 -36.5,-51.4 -36,-51.5 -35.3,-51.5 -35,-51.4 -34.9,-51.4 -34.5,-51.6 -34.2,-52 -34.2,-52.1 -34,-52.4 -33.6,-52.4 -33.3,-52.2 -32.7,-52.4 -32.2,-52.6 -31.9,-52.7 -31.8,-52.7 -32,-52.4 -32,-52.1 -31.6,-52.2 -31.8,-52.3 -32.2,-52.1 -32.8,-51.7 -33.4,-51.6 -33.5,-51.6 -33.6,-51.7 -33.9,-51.7 -34.6,-51.7 -35.5,-51.4 -36.1,-51.1 -36,-51.3 -36.3,-51.4 -36.8,-51.2M-45.9,-50.2 -46.8,-50 -47.3,-49.9 -47.6,-49.9 -48,-49.8 -48.6,-49.5 -49,-49.4 -48.4,-50 -48.1,-50.3 -47.6,-50.4 -46.9,-50.8 -46.7,-50.7 -46.8,-50.5 -46.5,-50.5 -45.9,-50.6 -45.8,-50.4 -45.9,-50.2M-37.6,-49.1 -37.5,-49.2 -38,-49.2 -38.7,-49.1 -39.3,-49 -39.3,-49.1 -38.2,-49.6 -37.5,-50 -37.4,-50 -37.5,-50 -37.2,-49.9 -37,-49.8 -37.6,-49.1M-32,-48.1 -31.8,-48.5 -32.4,-48.3 -32.9,-48.2 -33,-48.4 -32.8,-48.7 -32.6,-49.1 -32.1,-49.1 -31.9,-48.9 -32,-48.6 -31.8,-48.7 -31.5,-48.9 -31.9,-48.4 -32,-48.1M-41.8,-45.8 -42,-45.9 -42.4,-45.8 -42.6,-45.8 -43,-45.7 -42.7,-46.1 -42.1,-46.6 -42,-46.5 -41.8,-46.2 -41.3,-46.2 -41.2,-46.2 -41.8,-45.8M-41.1,-49.9 -41.2,-50.1 -41.2,-50.2 -41.7,-50.1 -41.8,-50 -41.4,-50.2 -40.8,-50.5 -40.4,-50.5 -40.4,-50.3 -41.1,-50 -41.1,-49.9M-42.5,-50.7 -42.4,-50.9 -42.9,-50.9 -43.4,-50.8 -43.7,-50.9 -43.8,-50.9 -43.4,-51.1 -42.8,-51.4 -42.4,-51.4 -42.4,-51.1 -42,-51.1 -41.3,-51.5 -42.5,-50.7M-36.6,-42.4 -37.1,-42.2 -37.5,-41.8 -37.6,-42 -37.5,-42.1 -37.8,-42.1 -38.4,-41.9 -38.2,-42.3 -37.9,-42.8 -37.5,-42.7 -37.1,-42.6 -36.6,-42.9 -36.6,-42.4M-31,-41.6 -31.2,-42.1 -30,-42.2 -31,-41.6M-28.7,-45.2 -29,-45.1 -29.5,-44.9 -30,-44.7 -30.3,-44.7 -30.5,-45 -31,-44.9 -31.6,-44.7 -31.8,-44.7 -31.2,-44.8 -30.9,-45 -30.4,-45.1 -30,-45.3 -29.9,-45.3 -29.4,-45.4 -28.8,-45.2 -28.7,-45.2M-36.8,-40.7 -37.2,-41.4 -36.7,-41.9 -36.8,-40.7M-36.9,-50.2 -36.9,-50.4 -37.5,-50.3 -37.7,-50.3 -37.8,-50.5 -37.3,-50.7 -37.2,-50.6 -37,-50.6 -36.5,-50.7 -36.2,-50.6 -36.2,-50.5 -36.6,-50.3 -36.9,-50.2M-38.4,-51.5 -38.9,-51.5 -39,-51.6 -39.1,-51.6 -38.7,-51.7 -38.2,-51.8 -37.6,-52 -36.8,-52.2 -36.3,-52.3 -36.4,-52 -36.2,-52 -36.2,-52 -36.6,-51.9 -36.8,-52 -37.4,-51.8 -38.1,-51.5 -38.4,-51.5M-7.2,-52.6 -9,-52.7 -7.5,-52.9 -7.2,-52.6M9.6,-51.9 11.1,-52 10.3,-52.2 9.6,-51.9M7.6,-51.2 8.6,-51 8.7,-51.4 7.6,-51.2M21.1,-52.4 21.1,-52.7 21.6,-52.3 22.1,-52.1 22.5,-52.2 22.8,-52.4 22.8,-52.6 22.7,-52.7 22.7,-52.8 23.1,-52.8 22.9,-52.7 22.6,-52.7 22.7,-52.5 22.6,-52.3 22.2,-52.6 21.7,-52.8 21.7,-52.6 21.8,-52.4 21.1,-52.4M-77.2,-39.7 -77.5,-39.7 -77.6,-40.2 -77.7,-40.4 -77.9,-40.5 -78.3,-40.5 -78.4,-40.7 -78.1,-41.1 -77.7,-41.6 -77.8,-41.3 -77.9,-41.1 -77.9,-40.7 -77.9,-40.5 -77.7,-40.4 -77.5,-40.3 -77.5,-39.9 -77.2,-39.7M-74,-39 -75.6,-38.7 -74.7,-39.4 -74,-39M-66.1,-38.1 -66.2,-39 -65.3,-39.5 -66.1,-38.1M-67,-35.5 -66.9,-35.9 -66.6,-36.3 -66.6,-36.6 -66.7,-36.9 -66.5,-36.8 -66.3,-36.6 -66.8,-36 -67,-35.5M55.3,-49.9 54.8,-50.3 55.9,-49.9 56.6,-49.8 56.8,-49.9 57.3,-49.8 57.8,-49.7 57.7,-49.9 58,-50.1 58.8,-49.9 59.3,-49.7 59.6,-49.7 60,-49.7 59.3,-49.8 58.2,-50.2 57.7,-50.3 57.8,-50.1 57.4,-50.1 56.7,-50.2 56.9,-50 56.7,-49.9 56.2,-49.9 55.9,-50 55.2,-50.3 55.3,-49.9M57.1,-47.2 57.3,-47.8 56.4,-47.8 57.1,-47.2M69,-46.6 70.4,-46.5 69.4,-46.9 69,-46.6M-27.4,-44.6 -27.6,-44.2 -28.1,-43.7 -28.6,-43.5 -29,-43.6 -29.3,-43.7 -29.4,-43.6 -29.8,-43.2 -30.2,-42.6 -30.6,-42 -31.2,-41.8 -31.6,-41.7 -31.8,-42 -31.8,-42.4 -32,-42.6 -32.3,-42.6 -32.5,-42.6 -32.8,-42.7 -32.8,-42.9 -33.1,-43.1 -33.7,-43.1 -34.1,-43.2 -34.1,-43.5 -34.4,-43.4 -35,-43.2 -35.3,-43.2 -34.8,-43.5 -34.3,-43.9 -33.8,-44 -33.5,-44 -33.3,-44.1 -32.8,-44.4 -32.3,-44.8 -32.2,-45 -32.2,-45.2 -32.5,-45.4 -32.8,-45.5 -33,-45.5 -33.1,-45.7 -33.3,-46.1 -33.6,-46.1 -34.1,-46.1 -34.3,-46.1 -34.3,-46.3 -34.7,-46.4 -35.3,-46.5 -35.8,-46.6 -36.1,-46.6 -36.4,-46.7 -36.5,-46.7 -36.6,-46.8 -36.9,-46.8 -36.9,-47.1 -36.9,-47.2 -37.5,-47.1 -37.8,-47.2 -37.6,-47.6 -37.2,-48.1 -37.3,-48.2 -36.9,-48.2 -36.3,-48.4 -36,-48.4 -35.6,-48.6 -35.2,-48.9 -34.8,-48.8 -34.5,-48.6 -34.1,-48.7 -33.7,-48.8 -33.4,-48.7 -33.1,-48.6 -32.8,-48.5 -32.3,-48.7 -32,-48.7 -32,-48.3 -32,-48 -31.8,-48 -31.4,-48 -31.3,-47.5 -31,-47.4 -30.6,-47.6 -30.2,-47.7 -29.9,-47.7 -29.7,-47.6 -29.6,-47.4 -29.5,-47.2 -29.2,-47 -29.1,-46.8 -29.2,-46.5 -29.1,-46.3 -29.1,-45.9 -29.3,-45.6 -29.2,-45.4 -28.8,-45 -28.7,-44.8 -28.2,-44.9 -27.8,-44.8 -27.7,-44.8 -27.4,-44.9 -27.4,-44.6M-35,-50.1 -34.7,-50 -34.3,-50 -33.8,-50.1 -33.6,-50.2 -33.2,-50.3 -32.9,-50.3 -32.7,-50.2 -32.3,-50.2 -31.8,-50.3 -31.6,-50.4 -31.5,-50.2 -31,-50.4 -30.3,-50.7 -30.1,-50.8 -29.9,-50.7 -29.7,-50.7 -29.5,-51 -29.2,-51.1 -28.9,-51.1 -28.7,-51 -28.3,-51 -27.8,-51.2 -27.2,-51.4 -26.7,-51.6 -26.4,-52 -26.1,-52.2 -25.7,-52.2 -25.1,-52.4 -24.6,-52.3 -24.3,-52.4 -24.1,-52.5 -24,-52.3 -23.6,-52.3 -23.2,-52.5 -23,-52.5 -22.9,-52.4 -22.4,-52.6 -22.4,-52.7 -22.5,-52.9 -22.4,-53.3 -22.7,-53.4 -23.1,-53.2 -23.4,-53.1 -23.7,-53.3 -23.9,-53.3 -24.3,-53.1 -24.6,-53 -24.8,-53.2 -25.2,-53.2 -25.4,-53.3 -25.5,-53.5 -25.7,-53.5 -26,-53.5 -26.5,-53.4 -26.9,-53.2 -27.3,-53.2 -28,-53.1 -28.6,-53 -28.5,-53.3 -28.2,-53.5 -28.6,-53.4 -29.3,-53.2 -29.9,-53 -30.3,-53 -30.6,-53 -30.7,-53.1 -30.9,-53.1 -31.4,-52.9 -32.2,-52.6 -32.8,-52.3 -32.9,-52.4 -32.8,-52.7 -32.8,-52.8 -33,-52.7 -33.4,-52.2 -33.5,-51.9 -33.4,-51.7 -33.3,-51.5 -33,-51.5 -32.7,-51.7 -32.5,-51.7 -32.2,-51.7 -32.4,-51.6 -33,-51.3 -33.8,-50.7 -34.2,-50.5 -34.4,-50.6 -34.5,-50.5 -35,-50.1M-34.4,-51.7 -34.8,-51.4 -35.2,-51.3 -35.8,-51.2 -36.3,-51.1 -35.9,-51.2 -35.3,-51.2 -35.2,-51.1 -34.9,-51.2 -34.7,-51.2 -34.6,-51 -34.1,-51.1 -33.9,-51.6 -33.9,-51.7 -33.9,-51.8 -34.3,-51.6 -34.4,-51.7M-32.2,-49.4 -32.3,-49.4 -32.5,-49.5 -33,-49.4 -33.6,-49.2 -34.2,-49 -34.5,-49.1 -34.6,-49.3 -34.9,-49.4 -35.4,-49.2 -36.1,-48.7 -36.3,-48.8 -36.2,-49.2 -36.1,-49.4 -36.5,-49.3 -37.1,-49.3 -37,-49.6 -36.6,-50 -36.9,-50.1 -37.4,-49.9 -36.8,-50.1 -36.1,-50.5 -36.1,-50.4 -36.1,-50.1 -35.8,-50 -35.5,-49.9 -35.1,-50 -34.5,-50.3 -34.4,-50.3 -34.5,-50 -34.5,-49.6 -34.1,-49.6 -33.4,-49.8 -32.8,-49.9 -32.4,-50 -32.3,-50 -32.2,-50 -31.8,-50.1 -31.6,-49.9 -32.2,-49.4M-43.5,-46.4 -44.5,-45.8 -44.7,-46 -44.6,-46.2 -44.8,-46.2 -45,-46.2 -45.5,-46.1 -46,-45.9 -46.4,-45.8 -46.9,-45.7 -47.1,-45.9 -47,-46.2 -47.4,-46.2 -48,-46.1 -48.3,-46.1 -48.5,-46.1 -49.1,-45.9 -49.4,-46 -49.7,-46 -50,-46 -50,-46.3 -50.1,-46.5 -50.5,-46.4 -50.2,-46.6 -49.5,-47 -49.8,-47.1 -50,-47.1 -49.9,-47.4 -49.3,-47.6 -49,-47.7 -49.4,-47.6 -49.9,-47.6 -50,-47.4 -49.4,-47.6 -48.4,-48 -47.6,-48.3 -46.9,-48.6 -47,-48.4 -47.2,-48 -46.4,-48.3 -45.7,-48.5 -45.8,-48.3 -45.7,-48.3 -45.6,-48.1 -45.3,-48 -44.8,-48.3 -44.2,-48.4 -43.8,-48.3 -43.8,-48 -43.7,-47.9 -44,-47.5 -44.3,-47.1 -44.1,-47.3 -44.1,-47.2 -44,-46.9 -43.7,-46.7 -43.5,-46.4M-49,-47.5 -49.7,-47.1 -49.5,-47.6 -49.7,-47.6 -50.4,-47.3 -50.9,-47.2 -51.3,-47.3 -51.7,-47.4 -51.9,-47.4 -51.8,-47.5 -51.9,-47.7 -52.2,-47.9 -51.6,-48.3 -51.4,-48.4 -51.3,-48.4 -50.6,-48.8 -49.8,-48.9 -49.4,-48.9 -49.4,-48.8 -49.3,-48.7 -48.9,-48.6 -48.4,-48.8 -47.8,-49 -47.1,-49.2 -47.1,-49 -47.2,-48.7 -47.6,-48.4 -48.1,-48.1 -49,-47.5M-42,-49.7 -42.5,-49.7 -42.8,-49.5 -43.1,-49.5 -43.8,-49.3 -44.6,-48.9 -44.8,-49 -44.9,-49.3 -45.4,-49.3 -45.7,-49.4 -45.5,-49.6 -45.7,-49.7 -46.3,-49.5 -46.6,-49.4 -46.9,-49.4 -46.5,-49.6 -45.8,-50 -44.9,-50.2 -44.6,-50.1 -44.4,-50.2 -44.1,-50.3 -44,-50.1 -43.6,-50.2 -43,-50.5 -42.7,-50.6 -42.4,-50.6 -42.3,-50.5 -42.3,-50.2 -41.8,-50.2 -41.3,-50.4 -42,-49.7M-40.3,-47.8 -40.3,-48.2 -40.9,-48 -41.3,-47.7 -41.3,-47.7 -41.8,-47.6 -42.3,-47.5 -42.3,-47.7 -42.1,-48 -41.6,-48.4 -41.3,-48.7 -40.8,-48.9 -40.3,-49 -40.2,-48.8 -40.3,-48.4 -40.2,-48.2 -40,-48.1 -40.2,-47.9 -40.3,-47.8M-37.8,-47.8 -37.8,-48 -38.2,-48 -38.8,-47.9 -39.3,-47.8 -39.3,-48 -39.2,-48.3 -38.7,-48.7 -38.4,-49 -38.2,-48.9 -37.7,-48.9 -37.1,-49.1 -36.9,-49.1 -36.8,-48.9 -36.7,-48.7 -37.1,-48.4 -37.5,-48.1 -37.8,-47.8M-38.6,-49.7 -39,-49.7 -39.5,-49.5 -39.9,-49.4 -40,-49.6 -39.9,-49.8 -39.8,-50.1 -39.1,-50.4 -38.6,-50.6 -38.6,-50.5 -38.7,-50.2 -38.6,-49.9 -38.5,-49.7 -38.6,-49.7M-36.8,-43.2 -37.1,-43.4 -37.3,-43.4 -37.7,-43.2 -38.3,-43 -38.6,-43.1 -38.8,-43.3 -39.1,-43.4 -39.4,-43.5 -39.3,-43.5 -39.4,-43.6 -39.2,-43.7 -38.7,-44 -38.2,-44.1 -38,-44.1 -37.9,-44 -37.7,-43.8 -37.3,-43.8 -37.2,-43.7 -37.2,-43.3 -36.8,-43.4 -36.8,-43.2M-31.2,-32.6 -30.6,-33 -30.3,-32.9 -30,-32.5 -29.7,-32.2 -29.2,-32 -28.6,-31.9 -28.3,-31.9 -28,-31.9 -27.9,-32.3 -27.7,-32.7 -27.7,-33.1 -27.8,-33.4 -27.8,-33.8 -28.1,-33.7 -28.5,-33.8 -28.7,-34.3 -28.5,-34.9 -28.5,-35.4 -28.9,-35.2 -29.1,-35.2 -29.3,-34.8 -29.9,-34.3 -30.5,-33.8 -31,-33.3 -31.2,-32.8 -31.2,-32.6M-10.2,-43.1 -10.2,-43.1 -10.5,-43.5 -10.8,-43.7 -10.5,-43.8 -10.2,-44.2 -9.9,-44.4 -10.4,-44.3 -10.8,-44.2 -11,-44 -10.7,-44 -10.6,-44.1 -10.2,-44.4 -9.8,-44.5 -9.4,-44.5 -8.9,-44.5 -8.5,-44.5 -8.4,-44.5 -8.2,-44.5 -7.7,-44.6 -7.3,-44.6 -7,-44.6 -6.7,-44.2 -6.7,-43.6 -6.4,-43.7 -6,-43.8 -6.2,-43.7 -6.6,-43.7 -7.1,-43.6 -7.4,-43.4 -7.8,-43.2 -8.3,-42.8 -8.7,-42.7 -8.8,-42.9 -9.1,-42.9 -9.5,-43 -9.9,-42.9 -10.2,-43.1M4.2,-51.2 4.9,-50.8 5.2,-50.8 5.4,-50.9 5.4,-50.6 5.6,-50.2 6.1,-50.1 6.4,-50.2 6.9,-50.3 7.3,-50.5 7.3,-50.9 7.5,-51 7.8,-51 7.9,-51.2 8,-51.2 8.2,-51.2 8.6,-51.2 9.1,-51 9.3,-51.2 9.5,-51.6 9.9,-51.7 10.3,-51.7 10.1,-51.9 9.7,-52.1 9.2,-52.2 8.7,-52.1 8.5,-52.1 8.5,-52.2 8.2,-52.2 7.7,-52.2 7.5,-52.2 7.1,-52.1 6.6,-52.1 6.5,-52.1 6.2,-51.8 5.7,-51.8 5.3,-52 5.1,-52.1 4.9,-51.9 4.6,-51.6 4.1,-51.8 4,-51.8 4.2,-51.2M22.1,-47.5 22.2,-47.3 22.9,-47.3 23.5,-47.2 23.6,-47.2 24,-46.9 24.6,-46.8 24.2,-47.2 23.7,-47.5 23.3,-47.8 23.1,-48.2 22.8,-48.8 22.9,-49.1 23.1,-49.2 23.2,-49.3 23.2,-49.6 23.2,-49.9 23.2,-50.2 23.6,-50.4 23.9,-50.2 24.3,-50 24.6,-50.1 25,-50.2 25.1,-50.3 25.3,-50.2 25.9,-50.2 26.3,-50.3 26.6,-50.3 27,-50.2 26.4,-50.2 25.9,-50.4 25.7,-50.6 25.4,-50.5 25.1,-50.6 24.7,-50.5 24.3,-50.5 23.8,-50.6 23.6,-50.5 23.4,-50.2 23.2,-50.2 23.3,-49.8 23.3,-49.5 23,-49.4 22.7,-49.3 22.5,-49 22.3,-48.6 21.9,-48.7 21.9,-48.7 22.1,-48.4 22.2,-48 22.4,-47.6 22.1,-47.5M36.5,-51.2 36.1,-51.6 36.5,-51.6 36.7,-51.7 37,-51.8 37.7,-51.5 37.8,-51.5 37.5,-51.9 37.7,-52.1 38.3,-52 38.9,-51.7 39.3,-51.6 39.4,-51.6 38.8,-51.7 38.9,-51.4 39.1,-51.2 39,-51.1 38.7,-51.1 38.4,-51 38.1,-50.9 37.8,-50.9 37.5,-51 37,-51.2 36.5,-51.4 36.5,-51.2M35.6,-52.2 35.5,-52.5 35.9,-52.4 36.7,-52.1 37.2,-51.9 37.3,-51.9 37.8,-51.8 38.4,-51.6 38.5,-51.7 38.4,-52 38.4,-52.2 38.2,-52.2 38.2,-52 37.9,-52 37.5,-52.1 37.5,-51.9 37.2,-51.8 36.3,-52.1 35.7,-52.3 35.8,-52.1 35.6,-52.2M55.5,-49.3 55.3,-49.6 55.7,-49.6 56.7,-49.3 57.6,-48.9 58.2,-48.5 58.4,-48.4 58.7,-48.5 58.7,-48.7 58.5,-49 58.4,-49.4 58.7,-49.4 58.4,-49.4 57.8,-49.6 57.3,-49.6 57,-49.6 56.7,-49.6 56,-49.7 55.6,-49.8 55.7,-49.6 55.8,-49.4 55.5,-49.3M-75.1,-47.4 -75.7,-47.5 -76.3,-47.2 -75.1,-47.4M75.7,-47.2 75.7,-47.5 76.3,-47.2 75.7,-47.2M17.6,-52.2 17.9,-52.2 18,-52 18.1,-52 18.4,-52.1 18.8,-52.2 19.3,-52.1 19.8,-52 19.9,-52.1 20.1,-52.3 20.5,-52.4 21,-52.2 21.3,-52.1 21.4,-52.4 21.6,-52.5 22,-52.4 22.5,-52.3 22.6,-52.3 22.6,-52.5 22.8,-52.5 22.7,-52.4 22.5,-52.3 22,-52.4 21.3,-52.6 20.8,-52.7 20.7,-52.7 20.4,-52.7 19.9,-52.7 19.6,-52.7 19.4,-52.6 19.5,-52.3 19.4,-52.3 18.8,-52.5 18.2,-52.6 18,-52.4 17.9,-52.4 17.7,-52.3 17.6,-52.2M-3.1,-24.7 -3.4,-24.9 -3.6,-25 -3.9,-25.4 -4.2,-25.7 -4.5,-25.5 -5,-25.4 -5.1,-25.9 -4.9,-26.3 -5.3,-26.5 -5.1,-27.1 -5,-27.5 -5,-27.9 -4.8,-28.4 -4.8,-28.6 -4.9,-29 -4.9,-29.4 -4.4,-29.5 -4.1,-29.7 -3.7,-29.9 -3.4,-29.8 -3.1,-29.8 -2.9,-29.8 -2.5,-29.9 -1.9,-29.8 -1.5,-29.8 -1.2,-29.8 -0.8,-29.7 -0.7,-30.1 -0.6,-30.7 -0.6,-31.3 -0.6,-31.9 -0.9,-32.1 -1.1,-32.4 -1.5,-32.8 -1.7,-33 -1.8,-32.9 -2.2,-32.8 -2.4,-32.9 -1.9,-33.1 -1.5,-33.6 -1.1,-33.5 -0.8,-33.1 -1,-33.6 -1,-34 -0.6,-33.7 -0.2,-33.6 0,-33.8 0.3,-33.9 0.8,-33.8 1.1,-34.3 1.2,-34.7 1.2,-35.1 1.4,-35.3 1.8,-35.3 2.1,-35.3 2.2,-35.8 2.5,-36.3 2.9,-36.5 3.3,-36.7 3.8,-36.6 4.3,-36.4 4.3,-36.4 4.3,-36.9 4.3,-37.4 4.1,-37.6 4,-37.8 4.1,-38.2 4.3,-38.7 4.5,-38.9 4.8,-38.9 5.2,-39.1 5.2,-38.8 5.1,-38.4 5.3,-38.2 5.2,-38.1 5,-37.7 5.1,-37.2 5.4,-36.9 5.7,-37 6,-37.1 6.6,-36.9 7.1,-36.6 7.5,-36.7 7.8,-36.7 8,-36.6 8.5,-36.9 8.9,-37.4 9.2,-37.5 9.6,-37.1 10,-36.8 10.4,-37.1 10.4,-37.6 10.2,-38 10.3,-38.5 10.6,-39 10.6,-39.4 10.9,-39 11.3,-38.6 11.5,-38.5 11.6,-39.1 12,-39.5 11.8,-39.5 11.4,-39.5 11.1,-39.9 11.4,-40.2 11.9,-40.3 12.5,-40.3 12.8,-40.4 12.9,-40.4 13.2,-40.4 13.6,-40.3 14,-40.2 14.3,-40.3 14.2,-40.6 14,-40.9 13.6,-40.9 13.1,-40.8 12.5,-40.8 11.9,-40.7 11.5,-41 11.3,-40.9 10.9,-40.5 10.7,-40.4 10.4,-40.6 10.2,-40.9 10.3,-41.5 10,-42.2 9.9,-42.6 9.9,-43.1 10.2,-43.4 10.6,-43.5 10.8,-43.5 11.2,-43.7 11.5,-44.1 11.3,-44.3 11.1,-44.3 10.7,-44.3 10.3,-44.1 10,-44.2 9.9,-43.9 9.7,-43.5 9.4,-43.2 9.1,-43 8.7,-42.9 8.6,-42.5 8.4,-42 8.1,-42 8.2,-41.9 8.3,-41.3 8.6,-40.9 8.8,-40.8 8.9,-40.8 8.7,-40.4 8.6,-40.1 8.4,-40 7.9,-39.8 7.7,-39.1 8,-38.7 7.9,-38.5 7.6,-38.2 7.2,-38.2 6.9,-38.1 6.6,-37.7 6.5,-37.8 6.3,-38.3 5.9,-39.3 5.8,-39.9 5.6,-39.9 5.4,-40 5,-40.3 4.7,-40.4 4.3,-40.5 3.9,-40.2 3.8,-39.6 3.7,-39.4 3.3,-39.4 3,-39.8 2.8,-40.2 2.5,-40.8 2.4,-41.2 2.3,-41.7 2.3,-42 2.8,-41.9 3.1,-42.2 3.2,-42.6 3.4,-42.7 3.8,-42.7 4.3,-42.5 4.6,-42.7 4.9,-43.3 5.2,-43.6 5.2,-43.9 5.3,-44.2 5.4,-44.5 5.4,-44.7 5.6,-44.9 5.9,-45.1 6.2,-45.3 6.6,-45.4 7.1,-45.6 7.2,-46.1 7.4,-46.3 7.7,-46.3 8,-46.5 8.3,-46.6 8.5,-46.7 9,-47 9.5,-47.1 9.8,-47.1 10.1,-47.2 10.1,-47.2 10.3,-47.1 10.7,-47.2 11,-47.3 11.1,-47.5 11.4,-47.5 11.9,-47.3 12.5,-47.1 13.1,-46.9 13.2,-46.8 12.7,-46.5 12.6,-46.2 13.2,-46.2 13.7,-46.3 14,-46.2 14.4,-46.3 14.7,-46.4 14.8,-46.1 15.1,-45.9 15.6,-46.2 16.1,-46.2 16.6,-45.6 17.1,-45.3 17.4,-45.4 17.7,-45.7 17.9,-45.3 18.3,-44.7 18.1,-44.3 17.7,-44 17.4,-43.9 17.3,-44.2 16.8,-44.4 16,-44.6 15.7,-44.5 15.4,-44.6 14.9,-45 14.7,-45.1 14.7,-44.8 15.2,-44.2 15.7,-44 16,-43.8 16.4,-43.6 16.6,-43.5 16.9,-43.3 17.3,-43.3 17.7,-43.2 17.9,-43.5 18.1,-43.7 18.2,-43.6 18.5,-43.6 19,-43.6 19.1,-43.7 19.2,-44.1 19.2,-44.8 19.2,-45.2 19.2,-45.7 19.5,-45.7 19.8,-45.5 20.1,-45.4 20.4,-45.5 20.9,-45.6 21.3,-45.4 21.6,-45.2 21.9,-45.2 22.2,-45.4 22.5,-45.5 22.9,-45.6 23.2,-45.8 23.5,-45.5 23.8,-45.5 24.1,-45.7 24.5,-45.5 24.9,-45.4 25.2,-45.6 25.5,-45.9 25.8,-46.1 25.7,-46.4 25.8,-46.6 26,-46.8 26.4,-47 26.9,-46.9 27.3,-46.7 27.6,-46.6 28.1,-46.2 28.4,-46.1 28.7,-46 29,-46 29.2,-45.9 29.8,-45.6 29.5,-46.1 28.9,-46.7 28.4,-46.8 28.5,-47.1 28.5,-47.6 28.7,-47.8 28.6,-48 28.4,-48.4 28.4,-48.7 29,-48.3 29.7,-48 30.5,-47.8 30.8,-47.4 30.8,-47 30.8,-46.7 31.3,-46.4 31.7,-46.3 31.8,-46.1 31.8,-46.3 32.1,-46.4 32.1,-46.7 31.6,-47.3 31.4,-47.6 31.1,-48.1 31.4,-48 31.9,-47.7 32.1,-47.9 32,-48.2 32.3,-48.1 33,-48.1 33.4,-48 33.3,-48 33.4,-48.2 33.6,-48.4 33.6,-48.5 33.9,-48.6 34.2,-48.7 34.4,-48.7 35.1,-48.5 35.7,-48.4 35.9,-48.4 35.4,-48.8 34.7,-49.3 34.9,-49.5 35.1,-49.7 35.2,-49.9 35.8,-49.7 36.1,-49.6 35.7,-50 35.9,-50.1 36.9,-49.8 37.6,-49.7 37.8,-49.8 37.6,-50 37.8,-50.1 38.5,-49.8 38.9,-49.8 38.9,-50.1 39.4,-50 39.8,-49.8 39.4,-50.2 39.1,-50.5 39.3,-50.7 39.3,-51 39.8,-51 40.5,-50.6 40.7,-50.5 40.7,-50.8 40.8,-51.1 41.2,-50.9 41.8,-50.7 42.6,-50.5 43.6,-50.2 43.9,-50.1 44.1,-50 44.8,-49.7 45.5,-49.5 45.9,-49.3 46,-49.1 45.9,-48.9 46.4,-48.6 47.1,-48.3 47.3,-48.5 47.3,-48.6 47.9,-48.6 48.3,-48.8 48.4,-48.9 48.6,-49 49.2,-48.9 49.8,-48.8 49.9,-48.9 49.9,-49.1 50.1,-49.1 51.1,-48.7 52.1,-48.2 52.2,-48.3 52,-48.6 52.8,-48.3 53.9,-47.7 54.7,-47.2 55.4,-47 55.3,-47.3 55.4,-47.4 56,-47.2 56.4,-47.2 56.4,-47.5 56.2,-47.7 56.8,-47.5 57.5,-47.4 57.6,-47.8 58.1,-47.9 58.7,-47.7 58.5,-47.8 58.5,-47.9 58.8,-47.9 59.3,-48 59.8,-47.9 60.2,-48.1 60.4,-48.1 60.8,-48 61,-48 61.5,-47.8 62.5,-47.5 62.9,-47.4 63.1,-47.4 63.5,-47.3 64.1,-47.2 64.5,-47.3 64.8,-47.2 65.1,-47.2 65.3,-47.4 65.8,-47.4 66.2,-47.2 66.4,-47.2 66.8,-47.3 67.4,-47.1 67.7,-47 68.2,-46.8 69.3,-46.2 70.4,-45.8 70.6,-46 70.6,-46.3 70.5,-46.6 70.7,-46.7 71.7,-46.3 72.2,-46.1 71.9,-46.5 72.4,-46.5 72.7,-46.5 72.1,-47 72.1,-47.2 72.9,-46.9 73.7,-46.6 74.3,-46.7 74.6,-46.8 75.2,-46.6 75.9,-46.3 75.9,-46.5 76,-46.6 76.8,-46.4 77.7,-46.1 78.1,-46M-78.1,-46 -78.1,-45.8 -77.5,-46 -77.3,-45.8 -77.9,-45.2 -77.9,-44.9 -77.3,-45 -77,-45 -77,-44.9 -76.9,-44.7 -76.7,-44.6 -76.3,-44.7 -76.1,-44.5 -76.1,-44.2 -76.3,-44.3 -76.2,-44.5 -76.8,-44.3 -77.9,-43.6 -78.6,-43.3 -79.2,-43 -79.5,-43.1 -79.2,-43.5 -79.2,-43.8 -79.5,-43.9 -79.8,-43.9 -80.1,-43.9 -80.3,-43.9 -80.4,-44.1 -80.8,-44.1 -81.5,-43.7M81.5,-43.7 81.1,-43.6 81,-43.4 81.5,-43 81.9,-42.7 82.3,-42.2 82.4,-41.8 82.5,-41.4 82.1,-41.4 81.8,-41.3 81.7,-41.1 81.3,-41.2 81,-41 81,-40.7 81,-40.6 80.5,-40.7 80.2,-40.7 79.8,-40.7 79.5,-40.5 79.2,-40.4 78.7,-40.5 78.4,-40.5 78.3,-40.1 78.3,-39.8 78.3,-39.5 78.7,-39.1 79.2,-38.9 79.3,-38.8 80,-38.4 80.9,-37.5 81.1,-37.1 80.9,-37 81.2,-36.4 81.3,-35.9 80.9,-35.9 80.5,-36 80.4,-35.7 80.4,-35.4 80.3,-35.1 80.5,-34.7 80.1,-35.1 79.6,-35.5 79.1,-36 78.5,-36.8 77.8,-37.3 77.5,-37.6 76.9,-38 76,-38.7 75.9,-39 75.9,-39.2 75.8,-39.8 75.9,-40.2 76.2,-40.3 76,-40.5 75.7,-40.9 75.4,-41.3 75.2,-41.4 74.7,-41.5 74,-41.6 73.8,-41.4 73.7,-41.3 73.8,-40.9 74.1,-40.4 74.2,-40.2 73.9,-40.1 73.2,-40.3 73,-40.2 72.6,-40.3 72.1,-40.4 71.6,-40.5 71.3,-40.5 71,-40.3 70.8,-40.1 70.5,-40.1 69.9,-40.3 69.3,-40.5 68.9,-40.5 68.7,-40.3 68.7,-40.2 68.5,-40.1 68.3,-39.8 67.7,-39.8 67.6,-39.4 67.8,-38.9 67.8,-38.6 67.9,-38.1 68.2,-37.8 68.2,-37.6 68.2,-37.1 68.7,-36.9 69.1,-36.7 69.6,-36.5 70,-36.5 70.5,-36.4 71.1,-36.3 71.5,-35.8 72,-35.2 72.3,-34.8 72.5,-34.5 72.7,-34.1 73.1,-33.5 73.5,-33 73.4,-32.6 73.3,-32.3 73.2,-32 72.8,-31.9 72.6,-31.7 72.6,-31.4 72.6,-30.8 72.6,-30.3 72.6,-29.8 72.4,-29.6 72,-29.5 71.6,-29.5 71.4,-29.3 71.2,-29.2 71,-29.1 70.9,-28.6 70.7,-28.2 70.5,-28.1 70.3,-27.8 70.4,-27.4 70.9,-26.8 71.2,-26.2 71.6,-25.7 72.1,-25.2 72.4,-24.7 72.5,-24.3 72.6,-24 72.3,-23.9 72,-23.8 71.5,-23.7 71.2,-23.6 71.1,-24 70.8,-24.4 70.5,-25 70.3,-25.3 70.1,-25.6 69.7,-25.7 69.3,-25.8 69.1,-26.4 68.9,-27.1 68.3,-27.2 67.7,-27.2 67.5,-26.9 67.2,-26.6 67.1,-27 67,-27.4 67.1,-27.7 66.8,-27.7 66.2,-27.8 66,-27.7 65.9,-27.6 65.7,-27.5 65.3,-27.3 64.9,-27.1 65.1,-26.5 65.8,-26 66.3,-25.6 66.6,-25.4 66.9,-25.8 67.1,-26.1 67.4,-25.8 67.9,-25.5 68.2,-25.4 68,-25.2 67.7,-25.1 67.3,-24.8 67.2,-24.4 67.2,-24 67.8,-23.5 68,-23.1 68.1,-22.7 68.6,-22.2 69.1,-21.9 69.4,-21.7 69.6,-21.4 69.5,-21 70,-20.4 70,-20 70,-19.6 69.7,-19.1 69.4,-18.6 69.3,-18.1 69.3,-17.7 69.4,-17.4 69,-17 68.7,-16.6 68.5,-16.2 68.1,-16 67.7,-15.9 67.2,-15.6 66.7,-15.3 66.4,-15.1 66.1,-15.1 65.6,-15 65.2,-14.9 64.7,-14.7 64.5,-14.3 64.3,-13.9 64.1,-14.2 64,-14.6 63.5,-14.7 63,-14.8 62.7,-14.5 62.3,-14.2 62.2,-13.8 62.2,-13.4 62,-13 62.3,-12.5 62.7,-12 63,-11.7 63.3,-11.2 63.8,-10.8 64.2,-10.5 64.5,-10 64.6,-9.4 64.6,-8.9 64.6,-8.4 64.6,-7.8 64.2,-7.3 63.9,-7.1 63.5,-7.1 63.2,-6.8 62.9,-6.2 62.6,-5.7 62.3,-6.4 62.1,-7 61.8,-7.1 61.4,-7.1 61.1,-7.3 60.8,-7.8 60.5,-8.3 60.1,-8.5 59.7,-8.7 59.5,-9.1 59.3,-9.3 59.3,-8.7 59.3,-8.3 59.1,-7.9 58.9,-7.5 58.8,-7.1 59.1,-6.6 59.3,-6.2 59.5,-5.8 59.9,-5.2 60.3,-4.7 60.6,-4.4 60.8,-4.2 61.2,-3.8 61.5,-3.2 61.6,-2.6 61.7,-2.2 61.7,-1.7 61.9,-1.3 62.3,-1 61.7,-0.9 61.2,-1.2 60.8,-1.7 60.5,-2.1 60.2,-2.5 59.9,-2.9 59.8,-3.2 59.8,-3.5 59.7,-4.1 59.7,-4.5 59.4,-4.6 59.1,-5 58.7,-5.5 58.5,-6.1 58.3,-6.7 58.2,-7.2 58.2,-7.7 58.2,-8.2 58.2,-8.8 58.1,-9.3 57.9,-9.9 57.8,-10.4 57.7,-10.9 57.5,-11.4 57,-11.5 56.7,-11.4 56.5,-11.1 56.3,-10.8 56.1,-10.6 55.6,-11.1 55.5,-11.8 55.4,-12.3 55.5,-12.7 55.2,-13.1 54.8,-13.5 54.4,-14 54,-14.4 53.9,-14.9 53.7,-15.4 53.3,-15.3 52.8,-15.1 52.3,-14.9 51.8,-14.9 51.6,-14.9 51.3,-14.9 50.9,-14.8 50.8,-14.3 50.8,-13.8 50.4,-13.5 50.1,-13.4 49.8,-13.3 49.5,-13 49.3,-12.7 49.2,-12.2 49,-11.8 48.6,-11.5 48,-11.4 47.6,-11.2 47.3,-10.8 47.4,-10.1 47.5,-9.5 47.6,-9 47.6,-8.3 47.6,-7.6 47.4,-7.1 47,-6.8 46.6,-6.3 46.3,-6 46.1,-5.8 46,-5.6 45.7,-5.7 45.4,-6 45.3,-6.6 45.1,-7.1 44.9,-7.6 44.6,-8.1 44.3,-8.7 44,-9.3 43.9,-9.7 43.7,-10 43.5,-10.5 43.2,-11 43,-11.5 42.9,-12 42.8,-12.7 42.6,-13.1 42.6,-13.6 42.6,-14.2 42.4,-14.4 42.3,-14.6 42.2,-15 42,-14.8 41.7,-14.6 41.2,-14.4 40.8,-14.6 40.5,-14.9 40.2,-15.4 40.6,-15.6 41,-15.8 40.6,-15.9 40.1,-16 39.6,-16 39.2,-16.5 38.9,-16.9 38.7,-17 38.5,-17.4 38.1,-17.3 37.6,-17.3 37.1,-17.3 36.7,-17.2 36.2,-17.1 35.7,-17.2 35.2,-17.3 34.7,-17.3 34.2,-17.4 33.8,-17.5 33.5,-17.6 33.2,-17.7 32.8,-18.1 32.6,-18.5 32.3,-18.4 31.9,-18.4 31.5,-18.4 31.1,-18.5 30.8,-18.6 30.5,-18.9 30,-19.1 29.5,-19.5 29,-19.9 28.8,-20.3 28.6,-20.7 28.2,-20.5 27.7,-20.4 27.4,-20.2 27.5,-19.9 27.8,-19.5 28.1,-19.2 28.2,-18.9 28.4,-18.6 28.8,-18.4 29.2,-18.1 29.4,-17.6 29.5,-17.1 29.7,-17.4 29.9,-17.8 29.9,-17.3 29.8,-16.7 30.3,-16.6 30.8,-16.5 31.2,-16.6 31.6,-16.7 31.9,-17 32.2,-17.3 32.5,-17.6 32.6,-18.1 32.6,-17.6 32.8,-17 33.2,-16.7 33.5,-16.4 33.9,-16.2 34.2,-16.2 34.5,-15.9 34.8,-15.4 34.5,-15.1 34.4,-14.7 34.3,-14.1 34.2,-13.7 34,-13.4 33.6,-13 33.2,-12.4 32.9,-12.3 32.6,-12.1 32.2,-11.8 31.7,-11.4 31.3,-11.3 31,-11.2 30.6,-10.9 30.3,-10.7 30,-10.6 29.6,-10.4 29.2,-10.1 29,-9.9 28.8,-9.7 28.2,-9.5 27.7,-9.3 27.2,-9.3 26.9,-9 26.6,-8.8 26.3,-8.8 25.8,-8.8 25.5,-9.3 25.3,-9.9 25.2,-10.4 25.2,-10.8 25.2,-11.1 25,-11.6 24.8,-12.1 24.5,-12.7 24.1,-13.2 23.8,-13.7 23.6,-13.9 23.4,-14.2 23,-14.4 22.8,-14.9 22.6,-15.6 22.4,-16 22.1,-16.3 22,-16.8 21.7,-17.2 21.3,-17.6 21.2,-17.9 21,-18.3 20.7,-18.7 20.4,-18.8 20.1,-19.1 20.1,-19.6 20,-20.1 20,-19.7 19.9,-19.4 19.7,-19 19.4,-19.3 19.3,-19.5 19.1,-20.1 18.8,-20.6 18.7,-20.1 18.7,-19.8 18.8,-19.4 19.1,-19 19.4,-18.6 19.9,-18 20.3,-17.6 20.4,-17.1 20.5,-16.5 21,-15.9 21.3,-15.4 21.4,-14.9 21.7,-14.4 21.8,-13.8 22,-13.3 22,-12.6 22.3,-12.2 22.6,-11.9 22.9,-11.6 23.1,-11.1 23.3,-10.6 23.8,-10.2 24.2,-9.9 24.6,-9.5 24.9,-9.1 25.2,-8.8 25.6,-8.3 25.8,-7.8 26.1,-7.5 26.4,-7.1 26.9,-7.2 27.4,-7.4 27.7,-7.5 28,-7.5 28.3,-7.6 28.9,-7.7 29.5,-7.7 29.9,-7.8 30.3,-8.1 30.2,-7.7 30.3,-7.1 30,-6.5 29.7,-6 29.6,-5.3 29.5,-4.7 29.3,-4.4 29.1,-4 28.8,-3.4 28.5,-2.9 28.2,-2.5 27.8,-2.2 27.6,-1.7 27.3,-1.4 26.9,-1.1 26.5,-0.9 26.2,-0.8 26,-0.4 25.7,0 25.4,0.3 24.9,0.6 24.6,1 24.5,1.5 24.1,1.7 23.7,2.2 23.6,2.9 23.5,3.4 23.4,3.7 23.3,4 23.1,4.4 23.2,4.8 23.3,5.2 23.4,5.8 23.7,6.4 23.9,6.8 24,7.3 23.9,7.8 24,8.4 24.1,9 24,9.7 23.9,10.2 24,10.6 23.7,10.8 23.3,11.2 22.8,11.7 22.5,11.9 22.1,12.2 21.7,12.5 21.4,12.8 21.2,13.1 20.8,13.4 20.4,13.6 20.7,14 20.7,14.5 20.7,15.1 20.7,15.5 20.8,16 20.7,16.4 20.2,16.6 19.9,16.8 19.5,17.2 19.1,17.4 18.9,17.7 18.8,18 18.9,18.6 18.9,19.2 18.8,19.6 18.4,20 18,20.3 17.7,20.6 17.3,21.1 17,21.4 16.7,21.7 16.3,22 15.8,22.3 15.3,22.7 15,23 14.5,23.5 14,23.5 13.6,23.4 13,23.3 12.4,23.6 11.9,23.7 11.5,23.7 11.3,23.7 10.8,23.7 10.3,23.6 10.3,23 10.4,22.5 10.3,22.2 10.2,21.8 10,21.4 9.9,21 9.8,20.3 9.7,19.9 9.6,19.6 9.2,19.3 8.9,19 8.8,18.6 8.7,18 8.6,17.5 8.5,16.9 8.3,16.3 8.3,15.8 8.2,15.5 8.2,15 8.1,14.4 7.9,14 7.7,13.5 7.5,12.9 7.1,12.4 7,11.8 7.1,11.3 7.2,10.8 7.3,10 7.4,9.4 7.6,9.1 7.8,8.7 8,8.2 8,7.7 7.9,7.2 7.8,6.6 7.7,6.1 7.6,5.6 7.4,5.2 7.4,4.7 7.3,4.2 7.1,3.8 7,3.3 6.8,2.8 6.5,2.5 6.2,2.2 5.8,1.7 5.6,1.3 5.6,0.9 5.6,0.3 5.7,-0.2 5.8,-0.7 5.9,-1 5.9,-1.5 6,-2.1 5.9,-2.6 5.7,-2.9 5.4,-2.9 5,-3.1 4.4,-3 4.1,-3.1 3.8,-3.1 3.4,-2.9 3.2,-3.3 3,-3.8 2.6,-4.2 2.1,-4.3 1.7,-4.4 1.1,-4.4 0.6,-4 0.2,-3.9 -0.1,-3.8 -0.4,-3.5 -1,-3.4 -1.6,-3.4 -1.9,-3.4 -2.2,-3.6 -2.5,-3.7 -3.1,-3.4 -3.7,-3.2 -4.1,-3.1 -4.5,-2.9 -5,-3.1 -5.6,-3.4 -5.9,-3.6 -6.1,-3.9 -6.3,-4.3 -6.6,-4.9 -7,-5.2 -7.4,-5.2 -7.7,-5.4 -7.9,-5.9 -8.1,-6.5 -8.5,-6.9 -8.7,-7.2 -9,-7.5 -9.3,-7.9 -9.6,-8.2 -9.9,-8.5 -10,-9 -10,-9.5 -10.2,-10 -9.9,-10.5 -9.7,-11.1 -9.6,-11.6 -9.6,-12 -9.5,-12.5 -9.5,-13.1 -9.7,-13.6 -9.9,-14.1 -9.9,-14.4 -9.8,-14.7 -9.6,-15.1 -9.5,-15.5 -9.4,-16.1 -9.2,-16.8 -8.9,-17.3 -8.5,-17.6 -8.3,-17.7 -8,-18.1 -7.8,-18.6 -7.5,-19 -7,-19.1 -6.6,-19.4 -6.3,-19.9 -6,-20.2 -5.6,-20.6 -5.4,-21.2 -5.4,-21.7 -5.2,-22 -5,-22.5 -4.8,-22.9 -4.4,-22.9 -4.1,-23 -3.8,-23.3 -3.6,-23.7 -3.6,-24.1 -3.5,-24.5 -3.1,-24.2 -2.8,-24 -2.5,-24 -2.1,-23.9 -1.6,-24.2 -1.2,-24.4 -0.9,-24.4 -0.4,-24.4 0,-24.6 0.4,-24.8 0.8,-24.9 1.1,-24.9 1.7,-25.1 2.3,-25.3 2.7,-25.4 3.2,-25.1 3.6,-25.1 3.9,-25.3 4.5,-25.4 5,-25.5 5.4,-25.6 5.7,-25.3 5.9,-25.3 6.2,-25.4 6,-25 5.8,-24.5 6.2,-24.1 6.1,-23.7 5.8,-23.5 5.9,-23.3 6.2,-22.9 6.7,-22.7 7.1,-22.5 7.5,-22.3 7.9,-22.1 8.4,-22.1 8.7,-22.1 8.9,-21.7 9.2,-21.4 9.6,-21.2 10,-20.9 10.5,-20.8 11.1,-21.1 11.5,-21.3 11.5,-21.6 11.5,-21.9 11.8,-22.2 12.1,-22.4 12.7,-22.4 13.1,-22.5 13.4,-22.2 13.8,-22 14.3,-21.7 14.7,-21.6 15.2,-21.5 15.6,-21.5 16,-21.5 16.3,-21.4 16.9,-21.3 17.4,-21.3 17.6,-21.5 17.8,-21.7 18.4,-21.4 18.8,-21.4 19.2,-21.5 19.6,-21.5 19.7,-22 19.9,-22.6 19.9,-22.8 19.9,-23.2 20.1,-23.6 20,-24 20.1,-24.6 20.3,-25.2 20.1,-25.1 19.6,-25.1 19.3,-25 19.1,-24.8 18.7,-24.8 18.3,-24.6 17.8,-24.7 17.3,-24.8 16.9,-24.9 16.5,-25 16.3,-25.1 15.8,-25.3 15.2,-25.3 15.2,-25.5 15.1,-26 14.7,-26.6 14.6,-26.9 14.5,-27.2 14.5,-27.5 14.9,-27.9 14.5,-28.1 13.9,-28.2 13.6,-28 13.2,-27.9 12.9,-27.6 12.6,-27.8 12.4,-28.1 12.5,-27.6 12.8,-27 12.7,-26.7 12.7,-26.5 12.9,-26.5 13.2,-26.3 13,-26 12.7,-25.7 12.7,-25.4 12.6,-24.9 12,-25 11.9,-25.4 11.8,-25.9 11.8,-26.4 11.4,-26.8 11,-27.3 10.7,-27.7 10.5,-28.1 10.5,-28.5 10.6,-29 10.3,-29.1 9.9,-29.2 9.4,-29.4 9,-29.6 8.5,-29.9 8.3,-30.4 8,-30.7 7.5,-30.8 7.1,-30.9 7.2,-31.2 6.9,-31 6.6,-30.8 6.6,-30.6 6.6,-30.4 6.8,-30.3 7,-30.1 7.5,-29.8 7.9,-29.3 8,-28.8 8.2,-28.4 8.6,-28.2 9.2,-28.1 9.6,-28 9.9,-27.7 10.2,-27.3 9.9,-27.5 9.4,-27.7 9.1,-27.2 9,-26.9 9.5,-26.5 9.3,-26.1 9,-25.9 8.8,-26.2 8.6,-26.7 8.6,-27.3 8.3,-27.7 7.9,-27.7 7.7,-27.9 7.5,-28 7.1,-28.2 6.7,-28.4 6.3,-28.6 6,-28.8 5.8,-28.9 5.5,-29.1 5.3,-29.7 5.3,-30.1 5,-30.3 4.6,-30.5 4.3,-30.2 4,-30 3.7,-29.7 3.4,-29.3 3,-29.5 2.7,-29.7 2.5,-29.7 2.4,-29.6 2,-29.6 1.8,-29.2 1.7,-28.6 1.5,-28.4 1.4,-28.2 0.8,-28.2 0.3,-28.3 0.3,-28 0.2,-27.5 -0.1,-26.9 0.1,-26.4 -0.1,-26.2 -0.4,-25.8 -0.8,-25.5 -1.1,-25.1 -1.6,-25.1 -2,-25.2 -2.4,-25.2 -2.7,-24.8 -3.1,-24.7M14.9,-29.1 15.1,-28.9 15.3,-28.8 15.5,-28.5 15.7,-28 16.1,-27.9 16.6,-28.1 17.1,-28.2 17.3,-28.4 17.6,-28.6 18,-28.8 18.4,-28.7 18.7,-29 19,-29.1 19.5,-28.9 20,-28.7 20.4,-28.3 20.7,-28 21,-28 21.3,-28.1 21.6,-28.1 22.2,-28.2 22.7,-28.4 22.7,-28.9 22.6,-29.2 22.3,-29.4 21.9,-29.7 21.5,-30 21,-30.1 20.7,-30.2 20.5,-30.2 20.2,-30.6 20,-31.2 20.1,-31.5 20.4,-31.7 19.9,-31.9 19.3,-32.4 19.1,-32.3 19,-31.9 18.8,-31.7 18.7,-31.4 18.7,-31 19.1,-31 19.5,-30.9 19.2,-30.8 18.9,-30.7 18.4,-30.6 18.2,-30.4 17.9,-30.8 17.6,-31.1 17.4,-31.2 17.6,-31.2 17.7,-31.3 17.3,-31.4 17,-31.7 16.6,-31.9 16.5,-31.6 16.2,-31.4 15.9,-31.1 15.7,-31 15.5,-30.8 15.4,-30.4 15.4,-30.1 15.2,-29.9 15,-29.5 14.9,-29.1M25.4,-29.5 25.7,-29.2 26.1,-28.7 26.4,-28.4 26.7,-28.2 26.9,-27.7 27.2,-27.1 27.5,-26.5 27.3,-26.2 27.2,-25.8 27.7,-25.5 28.1,-25.5 28.5,-25.4 29,-25.3 29.3,-25.3 29.7,-25.4 30.1,-25.8 29.9,-26.3 29.5,-26.7 29.3,-27.2 29.2,-27.6 28.9,-27.8 28.9,-28.1 29.1,-28.4 28.6,-29 28.1,-29.4 27.7,-29.6 27.6,-30 27.4,-30.3 27.3,-30.9 27.5,-31.1 27.7,-31.3 28.1,-31.2 28.2,-31.6 28.2,-31.9 27.8,-31.9 27.2,-32.1 26.7,-32 26.4,-31.8 26,-31.6 25.7,-31.5 25.4,-31.4 25.4,-31.2 25.4,-30.9 25.3,-30.7 25,-30.5 25.2,-30.1 25.4,-29.5M-2.9,-34.2 -2.6,-34.3 -2.2,-34.5 -1.9,-34.6 -1.5,-34.8 -1,-34.9 -0.5,-34.9 -0.4,-34.9 -0.3,-34.9 0,-34.8 0.4,-34.7 0.6,-35.1 0.8,-35.7 0.5,-36.2 0.2,-36.5 0.1,-36.9 -0.3,-37.2 -0.8,-37.4 -1,-37.6 -1.2,-38 -1.3,-38.2 -1.3,-38.4 -1.3,-38.7 -1.2,-39 -1.1,-39.4 -1.3,-39.3 -1.7,-39.3 -1.9,-39.8 -2.2,-40 -2.5,-39.4 -2.8,-38.9 -2.9,-38.6 -2.7,-38.4 -3,-37.9 -2.8,-37.5 -2.4,-37.4 -2.2,-37.1 -2,-37.3 -1.6,-37.3 -1.5,-36.9 -1.4,-36.7 -1.8,-36.7 -2.4,-36.3 -2.3,-35.8 -2.1,-35.2 -2.3,-35.1 -2.5,-35.2 -2.2,-35.2 -1.9,-35.2 -2.2,-35 -2.4,-34.7 -2.7,-34.5 -2.9,-34.2M-3.1,-35.5 -3.1,-35.9 -3.2,-36.3 -3.4,-36.5 -3.2,-36.6 -2.8,-37 -3,-37.3 -3.3,-37.7 -3.5,-38 -3.6,-37.9 -3.9,-37.6 -4.1,-37.5 -4.2,-37.2 -4.8,-36.8 -5.1,-36.4 -5,-36.1 -5,-35.9 -5.2,-35.8 -5.3,-35.5 -5,-35 -4.6,-34.8 -4.2,-35.2 -3.9,-35.5 -3.5,-35.3 -3.1,-35.5M4.7,-28.4 4.8,-28.6 4.8,-29 4.9,-29.5 4.9,-29.7 4.9,-29.4 4.8,-29.1 4.7,-28.4M4.6,-26.7 5,-26.7 5.2,-26.8 5.3,-27.2 5.4,-27.8 5.1,-28.4 4.8,-28.2 4.6,-28.1 4.6,-27.6 4.7,-27.1 4.6,-26.7M6.9,-25.9 7.2,-25.6 7.5,-25.3 8.1,-25.4 8.5,-25.4 8.5,-25.8 8.6,-26.2 8.2,-26.4 7.9,-26.4 7.7,-26.3 7.4,-26.2 6.9,-25.9M13.2,-24.2 14.8,-24.1 13.9,-23.9 13.2,-24.2M18.2,-23.8 18.6,-24 18.8,-24 19,-24.4 19.3,-24.6 19,-24.3 18.7,-24.2 18.5,-24 18.2,-23.8M47.5,-4.3 48,-4.1 48.3,-4.1 48.5,-4.7 48.7,-5.2 48.3,-5.6 48.1,-6 47.9,-6.4 47.7,-6.8 47.5,-6.4 47.4,-5.9 47.3,-5.3 47.4,-4.8 47.5,-4.3M29.2,8.2 29.2,8.8 29.5,9.3 29.7,9.8 29.8,10.3 29.6,10.7 29.3,11.4 29,12.2 28.9,12.7 28.7,12.9 28.4,13.4 28.3,14.1 28.1,14.8 27.9,15.2 27.7,15.8 27.6,16.6 27.6,17.1 27.2,17.1 26.6,17.2 26.1,17.5 25.9,17 25.7,16.6 25.4,16.3 25.4,15.9 25.3,15.4 25.2,14.8 25.4,14.3 25.6,13.9 25.9,13.5 26,12.8 25.9,12.2 25.8,11.6 26.3,11.3 26.8,11.1 27.2,10.8 27.5,10.4 27.8,10 28.2,9.6 28.6,9.4 29,9.1 29.2,8.7 29.2,8.2M73.8,-23.5 74,-23.7 74.3,-24 74.5,-24.3 74.9,-24.4 75.3,-24.3 75.7,-24.2 76.1,-24.2 76.1,-24.8 76,-25.4 76,-25.6 76.3,-25.9 76.6,-26.1 76.9,-25.9 77.4,-25.9 77.4,-26.5 77.1,-27.3 76.7,-27.8 76.6,-28.3 77.1,-28.3 77.3,-28.3 77.6,-27.9 78,-27.4 78.3,-27 78.3,-26.8 78.3,-26.4 78.3,-26 78.4,-25.5 78.6,-25 78.6,-24.7 78.8,-24.3 78.9,-23.9 78.8,-23.8 78.4,-24 78.3,-23.8 78,-23.7 77.5,-23.7 77.1,-23.8 76.8,-23.5 76.5,-23.1 76.3,-23.2 76.3,-23.5 76,-23.4 75.7,-23.4 75.1,-23.7 74.7,-23.5 74.4,-23.2 73.8,-23.5M76.3,-28.4 76.7,-28.4 76.9,-28.4 77.2,-28.6 77.5,-28.7 77.9,-28.8 78.1,-29.1 78.4,-29.3 78.6,-29.7 77.9,-30 77.4,-30.1 77,-30.2 76.7,-30.5 76.2,-30.7 75.6,-31.1 75.9,-30.8 76.2,-30.2 75.9,-30 75.5,-29.8 75.8,-29.2 76.3,-28.4M73.5,-22.8 73.8,-22.4 74,-21.9 74.4,-21.4 74.7,-21.5 74.9,-21.6 74.8,-22 74.7,-22.4 74.5,-22.8 74.3,-22.9 73.9,-23.1 73.7,-23 73.5,-22.8M75,-22.6 75.3,-22.7 75.8,-22.8 76.1,-23 75.6,-23.5 75.3,-23.4 74.9,-23.4 75,-23.1 75,-22.6M75.4,-31.5 75.7,-31.4 75.9,-31.8 75.4,-32.4 75,-33 74.5,-33.5 74.8,-33.8 75.1,-33.9 74.9,-34 74.5,-34.2 73.9,-34.5 73.5,-34.9 73.2,-35.6 72.7,-36.1 71.9,-36.7 71.3,-37 71.7,-36.5 72.1,-36 72.4,-35.6 72.4,-35.3 72.8,-34.7 73.4,-34.2 73.8,-33.7 74.3,-33.1 74.7,-32.6 75.1,-32.1 75.4,-31.5M69.9,-15.8 70.3,-15.5 70.5,-15.1 70.6,-15.6 70.7,-16 70.8,-16.5 70.8,-17 70.5,-17.3 70.2,-17.2 70,-16.8 69.9,-16.2 69.9,-15.8M63.7,-13.2 63.9,-13 64.3,-12.6 64.6,-12.7 65,-12.8 65,-13.2 64.9,-13.7 64.3,-13.7 64,-13.8 64,-13.6 63.7,-13.2M70.7,-11 70.8,-11.5 70.8,-12.1 70.7,-12.7 71.1,-12.6 71.8,-12.6 72,-12.1 72.1,-11.7 71.9,-11.3 71.7,-10.8 71.8,-10.4 71.9,-9.9 72,-9.6 72.4,-9.7 72.9,-9.6 73.3,-9.5 73.5,-9 73.6,-8.6 73,-8.9 72.5,-9.3 72,-9.6 71.7,-9.5 71.3,-9.5 71.3,-9.9 71.2,-10.2 70.9,-10.6 70.7,-11M72.5,-4.8 73.1,-5.3 73.5,-5.5 73.9,-5.7 74.2,-6.1 74.5,-6.5 74.7,-6.1 74.9,-5.8 75.1,-5.5 75.1,-4.8 75.1,-4.2 74.9,-4 74.7,-3.8 74.3,-4.2 73.8,-4.5 73.4,-4.6 73,-4.7 72.5,-4.8M72.4,-7.2 72.9,-7 73.3,-6.6 73.4,-6.8 73.5,-6.9 74,-6.9 74.5,-7.1 74.5,-7.8 74.5,-8.2 74.5,-8.4 74.1,-8.3 73.7,-8.5 73.5,-8.3 73.1,-8 72.8,-7.7 72.6,-7.9 72.4,-8.1 72.5,-7.7 72.4,-7.2M56.7,-3.8 57.2,-3.7 57.6,-3.7 58,-3.6 58.4,-3.3 58.8,-3 59.1,-2.6 59.5,-2.1 59.8,-1.7 60.2,-1.2 60.6,-0.9 61.1,-0.8 61.4,-0.5 61.7,-0.1 62,0.5 62.3,0.9 62.6,1.3 62.8,1.8 63.1,2.2 63.2,2.6 63.3,3 63.3,3.4 63.2,4 62.7,4.2 62.2,4.2 61.9,3.8 61.5,3.5 61.2,3.2 61,2.8 60.8,2.4 60.5,2.2 60.1,1.9 59.9,1.4 59.7,0.9 59.4,0.5 59.2,-0 59,-0.4 58.9,-0.8 58.8,-1.1 58.6,-1.5 58.2,-1.9 57.8,-2.2 57.5,-2.7 57.2,-3 56.9,-3.3 56.7,-3.8M62.6,4.7 63,4.5 63.3,4.2 63.6,4.2 63.9,4.3 64.3,4.3 64.8,4.3 65.3,4.5 65.6,4.7 65.9,4.7 66.4,4.7 66.8,4.7 67.2,5 67.6,5.3 68,5.5 68,5.7 67.9,6 67.4,5.9 67,5.7 66.5,5.5 66,5.4 65.6,5.3 65,5.2 64.5,5.3 64.1,5.5 63.8,5.3 63.4,5.2 63,5.2 62.6,4.7M68.3,5.8 68.9,6 69.2,6 69.5,5.9 69.9,5.9 70.4,5.9 70.7,5.9 71.2,5.7 71.7,5.6 72.1,5.7 72.6,5.8 72.9,5.9 72.3,6.2 71.8,6.3 71.3,6.5 70.8,6.4 70.3,6.3 69.9,6.1 69.6,6.1 69.2,6.1 68.8,6.1 68.3,5.8M73.6,6.9 73.9,6.6 74.3,6.3 74.7,6.1 74.9,5.9 75.2,5.8 75.6,5.8 75.4,6.1 74.9,6.4 74.4,6.5 74.1,6.8 73.8,7 73.6,6.9M65,-1 65.2,-1.1 65.8,-1.1 66.2,-1.2 66.5,-1.7 66.8,-1.9 67.2,-2.1 67.6,-2.6 67.9,-3.1 68,-3.4 68.4,-3.6 69,-3.8 69.2,-4.3 69.3,-4.7 69.7,-4.8 70,-4.6 70.3,-4.2 70.4,-3.8 70.9,-3.7 70.6,-3.2 70.2,-2.9 70.2,-2.6 70.2,-2.2 70.2,-1.7 70.6,-1.3 70.9,-1 70.9,-0.7 70.3,-0.2 70,-0.1 69.8,0.2 69.7,0.5 69.5,1 69.4,1.3 69.3,1.6 69.3,2.1 68.9,2.4 68.5,2.6 68.2,2.8 67.8,2.6 67.4,2.4 67.1,2.3 66.7,2.2 66.1,2.1 65.6,1.9 65.5,1.4 65.5,1 65.4,0.6 65.2,0.2 65.1,-0.3 65.1,-0.7 65,-1M71.1,3.8 71.4,3.9 71.6,3.8 71.6,3.1 71.7,2.5 71.7,2 71.9,1.8 72.1,2.3 72.5,2.8 72.7,3.3 73,3.4 73.3,3.5 73,3 72.6,2.6 72.4,2.1 72.4,1.6 72.5,1.1 72.9,0.9 73.2,0.9 73.5,0.9 73.5,0.6 73,0.7 72.5,0.9 72.1,1.1 72.1,0.5 71.9,0 71.5,-0.4 71.8,-0.7 72.1,-0.9 72.5,-0.9 72.8,-0.8 73.2,-0.8 73.7,-1 74.1,-1.1 74.5,-1.1 74.2,-0.7 74.1,-0.3 73.7,-0.4 73.2,-0.4 72.7,-0.5 72.3,-0.5 71.9,-0.3 71.7,0.3 71.5,0.6 71.4,1 71.3,1.5 71.2,2 70.8,2 70.8,2.6 70.9,3.2 71.1,3.8M76,0.3 76.4,0.4 76.7,0.5 76.5,0.1 76.4,-0.4 76.3,-0.8 76.5,-1.1 76.6,-1.4 76.1,-1.7 76.1,-1.1 76.1,-0.5 76,-0.2 76,0.3M78.1,0.7 78.5,0.4 79,0.2 79.3,0.4 79.6,0.6 80.1,0.7 80.6,0.8 81.1,1 81.5,1 81.8,1 82.3,1.3 82.8,1.5 83.2,1.6 83.7,1.6 84.1,1.7 84.6,1.9 85.1,2 85.5,2.2 85.8,2.5 86.3,2.9 86.7,3.5 87,3.8 87.1,4.1 87.4,4.2 87.8,4.4 88,4.9 88.2,5.5 88.3,6 88.4,6.2 88.7,6.5 89.1,6.9 89.3,7.3 88.8,7.2 88.3,7.1 87.8,7.1 87.6,6.7 87.3,6.2 87,6 86.6,5.9 86.3,5.5 85.8,5.1 85.5,5.5 85.3,5.9 85,6.1 84.8,6.2 84.3,6.2 83.7,6.3 83.4,6.1 83.1,5.9 82.8,5.6 82.4,5.7 82,5.8 81.9,5.5 81.8,5.1 82,4.9 82.3,4.7 82.4,4.2 82.3,3.8 81.9,3.6 81.4,3.4 81.1,3.3 80.6,3.1 80,2.9 79.5,2.7 79.2,2.7 78.9,2.3 78.6,1.9 79,1.6 79.5,1.4 79.2,1.4 78.7,1.4 78.4,1.2 78.1,0.7M88.4,3.8 88.7,3.6 89.3,3.5 89.7,3.4 89.9,3.3 90.2,3.2 90.5,3 90.3,3.5 90.2,4 89.8,4.1 89.2,4.3 88.7,4 88.4,3.8M66.5,15.1 66.4,15.7 66.2,16.2 66,16.7 66.1,17.1 66.1,17.5 66.1,18.1 66,18.7 65.9,19.2 65.8,19.5 65.7,19.9 65.7,20.3 65.7,21 65.7,21.6 65.6,21.8 65.6,22.3 65.3,22.8 64.9,23.2 64.6,23.6 65,23.9 65.3,24.3 65.7,24.2 66.3,24 66.8,23.8 67.2,23.7 67.6,23.4 68.2,23.3 68.9,23.2 69.2,23.3 69.4,23.4 70,23.2 70.6,22.9 71,22.5 71.5,22 72,21.9 72.5,21.7 73,21.6 73.4,21.7 73.8,21.8 74.3,21.8 74.8,21.7 75.1,21.8 75.3,22.1 75.5,22.2 75.8,22.5 75.9,23 76,23.4 76.2,23.8 76.7,23.4 77.2,23 77.5,22.9 77.9,22.6 77.8,22.9 77.6,23.3 77.3,23.8 77.4,24.2 77.8,24.4 78,24.5 78,24.9 77.9,25.5 77.8,25.8 77.8,26 78.3,26.2 78.7,26.3 79.1,26.4 79.4,26.5 79.9,26.4 80.3,26.4 80.4,26.6 80.6,26.8 81.4,26.4 82.1,26 82.4,25.8 82.6,25.8 83.1,25.6 83.7,25.4 84,25.1 84.2,24.8 84.4,24.3 84.9,23.7 85.4,23.2 85.6,22.8 86,22.5 86.4,22.2 86.8,21.9 87.1,21.4 87.4,20.9 87.6,20.5 87.9,20 88.3,19.7 88.5,19.3 88.5,18.8 88.5,18.1 88.7,17.3 88.6,16.9 88.4,16.7 88.1,16.4 87.9,16.1 87.9,15.8 87.8,15.5 87.7,15.2 87.5,14.8 87.2,14.3 86.8,14 86.6,13.7 86.4,13.2 86,12.8 86,12.4 86,12.1 86,11.7 86,11.3 85.8,10.9 85.6,10.5 85.5,10 85.4,9.7 85.2,9.4 85.1,9.1 84.9,8.6 84.8,8.2 84.7,7.9 84.6,7.4 84.5,7.9 84.3,8.6 84,9.1 83.8,9.6 83.7,10 83.6,10.5 83.2,11.1 82.9,11.6 82.7,12 82.3,12.1 81.9,12.1 81.7,11.6 81.5,11.3 81.2,11 80.9,10.9 80.5,10.7 80.1,10.3 80.4,9.8 80.6,9.4 80.7,9 81,8.5 80.5,8.2 79.9,8 79.5,7.8 79,7.9 78.5,7.9 78.1,8.2 77.6,8.4 77.2,8.8 77,9.4 76.8,9.8 76.5,10.3 76.1,10.3 75.6,10.2 75.3,10 75.1,9.9 74.8,9.6 74.5,9.9 74.2,10.2 73.8,10.7 73.5,11.2 73.1,11.5 72.7,11.7 72.3,12 71.9,12.4 71.7,12.8 71.4,13 70.9,13.3 70.3,13.5 69.8,13.8 69.4,13.9 69,13.9 68.6,14 68.1,14.2 67.6,14.3 67.2,14.7 66.9,15 66.5,15.1M79.2,27.9 79.3,28.1 79.7,28.1 80.2,28 80.6,28.1 80.8,28.2 80.5,28.7 80.4,29.2 80.1,29.8 79.5,29.9 79,29.9 78.9,29.5 78.8,29.2 78.8,28.9 79,28.4 79.2,27.9M97.3,23.6 97.4,23.5 97.7,23.9 97.8,24.4 97.8,24.8 97.9,25.1 97.9,25.4 98.1,25.6 98.5,25.7 98.9,25.7 99.3,25.7 98.8,26.1 98.2,26.6 97.8,27 97.2,27.4 96.6,27.9 96.1,28.2 95.8,28.3 95.8,27.9 96.2,27.4 96.4,27 96.2,27 95.9,26.8 96.4,26.3 96.9,26 97.1,25.4 97.3,24.8 97.2,24.4 97.2,23.9 97.3,23.6M94.6,27.8 94.6,28.2 94.8,28.4 94.9,28.7 94.3,29.1 94,29.2 93.8,29.4 93.3,29.9 92.6,30.2 91.9,30.5 91.4,31 91,31.3 90.6,31.3 90.2,31.4 89.7,31.7 89.2,31.7 88.9,31.4 88.7,31.1 89,30.9 89.2,30.7 89.5,30.7 89.8,30.5 90.4,30.2 91.2,29.8 91.8,29.5 92.3,29.4 92.7,29.2 93.2,28.9 93.7,28.4 94.6,27.8M-49.5,-15 -49.2,-15.3 -48.8,-15.5 -48.3,-15.9 -47.9,-15.9 -47.5,-15.9 -47,-15.9 -46.8,-15.7 -46.5,-15.5 -46.2,-15.2 -45.9,-15.2 -45.6,-15.1 -45.2,-14.8 -44.7,-14.6 -44.3,-14.4 -44.1,-14.2 -43.9,-14 -43.5,-13.8 -43.9,-13.8 -44.4,-13.8 -44.9,-13.7 -45.1,-13.6 -45.1,-13.9 -45.2,-14.2 -45.6,-14.4 -46,-14.7 -46.4,-14.7 -46.8,-14.8 -47.3,-14.8 -47.7,-15.1 -48,-15.4 -48.5,-15.3 -48.9,-15 -49.5,-15M-43.7,-12.6 -43.3,-13.1 -42.9,-13.4 -42.6,-13.6 -42.1,-13.6 -41.8,-13.6 -41.4,-13.5 -41,-13.4 -40.7,-13.2 -40.5,-13.1 -40.2,-12.8 -40.7,-12.5 -41.1,-12.3 -41.6,-12.1 -42,-11.9 -42.4,-12.3 -42.9,-12.5 -43.4,-12.5 -43.7,-12.6M-46,-12.6 -44.8,-12.5 -45.2,-12.2 -46,-12.6M-39.5,-12.3 -39,-12.3 -38.5,-12.4 -38.7,-12.7 -39.1,-12.7 -39.5,-12.7 -39.5,-12.3M-64.5,-33.1 -64.6,-33.3 -64.8,-33.6 -65.1,-33.8 -65.5,-34 -65.8,-34.1 -66,-34.4 -66,-34.9 -65.7,-34.7 -65.4,-34.6 -64.9,-34.7 -64.5,-34.5 -64.7,-33.9 -64.9,-33.4 -64.7,-33.2 -64.5,-33.1M-31.4,35.1 -31.1,35.2 -30.6,34.9 -29.9,35 -29.5,35.1 -29.9,35.4 -30,35.5 -30.3,35.7 -30.7,35.8 -30.9,35.6 -31.1,35.3 -31.4,35.1M-34.8,35.9 -34.6,36.1 -34.4,36.5 -34.1,37.1 -33.8,37.1 -33.6,37.3 -33.3,37.5 -32.9,37.6 -32.5,37.5 -32.7,37.3 -33,37.2 -33.5,37 -34,36.5 -34.8,35.9M-91.5,-13.2 -90.8,-13.4 -91.2,-13.9 -91.5,-13.2M104.4,12 104.6,12.2 104.9,12 104.7,12.6 104.5,12.5 104.2,12.4 104.4,12M96,13.9 96.3,14 96.5,14.4 96.7,14.8 97.1,15.2 97.4,15.3 97,15.2 96.8,14.9 96.5,14.7 96.2,14.5 96.1,14.1 96,13.9M93.1,4.8 93.4,5 93.8,5.3 94.2,5.5 94.5,5.6 94.9,5.9 95.2,6.4 95.4,6.9 95,6.7 94.6,6.4 94.3,6.2 94,6 93.6,5.9 93.2,5.5 93.2,5.1 93.1,4.8M-86.2,-35.9 -83.4,-36.7 -84.8,-36.3 -86.2,-35.9M-68.9,51 -68.1,51.3 -67.5,51.3 -67.7,51.1 -68,50.9 -67.7,50.8 -66.9,50.9 -66.3,51.1 -66.4,51.1 -66.6,50.8 -65.6,51 -64.7,51.2 -64.8,51 -64.9,50.9 -65.3,50.5 -64.9,50.5 -63.4,51.1 -63.3,51 -63.7,50.6 -63.4,50.6 -63.6,50.5 -63.9,50.2 -63.5,50.1 -63,50.2 -62.1,50.5 -61.6,50.6 -62,50.3 -61.8,50.3 -60.6,50.8 -59.9,51 -59.9,50.8 -59.9,50.5 -59.5,50.5 -59.2,50.5 -59,50.4 -59,50.4 -58.8,50.1 -58.4,50.1 -58.1,50.2 -58.1,50.1 -57.8,50.1 -57.3,50.3 -57.1,50.2 -56.8,50.2 -56.6,50.1 -56.4,49.9 -56,49.9 -55.8,49.9 -55.5,49.9 -55.2,49.8 -55.2,49.5 -55,49.3 -55.1,49.1 -55.1,49 -55,49 -54.8,48.8 -54.5,48.8 -54,48.9 -53.9,48.9 -53.5,48.7 -52.4,49.1 -51.6,49.5 -51.4,49.4 -51.2,49.2 -51.3,49 -51.1,49 -50.8,49 -50.7,48.8 -50.5,48.8 -50,49 -49.5,49.1 -49.3,48.9 -49.1,48.7 -48.5,48.8 -48.1,48.8 -47.8,49 -47.5,49.1 -46.8,49.3 -46.1,49.5 -45.7,49.4 -45.4,49.4 -45.5,49.2 -45.2,49.2 -44.7,49.3 -44.5,49.2 -44.4,49 -44.4,48.8 -44.4,48.5 -44.3,48.2 -43.9,48.1 -43.6,48 -43.2,48 -42.8,48.1 -42.4,48.2 -42.2,48.2 -41.7,48.3 -41.4,48.3 -41.2,48.1 -41,48.2 -40.7,48.4 -40.2,48.4 -39.7,48.2 -39.4,48.1 -39.3,48 -39,47.9 -38.6,48 -38.4,48 -38.1,48 -37.4,48.1 -36.6,48.4 -36.2,48.4 -36.4,48 -35.9,48 -35.2,48.4 -34.7,48.5 -34.5,48.4 -34.3,48.4 -34.1,48.4 -33.7,48.4 -33.2,48.3 -33.2,48 -33.1,47.9 -32.8,48 -32.5,47.9 -32.3,47.8 -32.2,47.4 -31.9,47.1 -31.5,47.3 -31.3,47.4 -31.3,47 -31.2,46.6 -30.8,46.7 -30.3,46.7 -30.2,46.4 -30.4,46.2 -30.3,46 -30.2,45.6 -30.1,45 -30.1,44.7 -30.1,44.5 -29.8,44.5 -29.6,44.3 -29.5,43.9 -29.3,43.8 -29.3,43.5 -29.3,43.1 -28.9,43.1 -28.5,43.2 -28.1,43.1 -27.6,43 -27.4,42.8 -27.4,42.8 -27.1,43 -26.7,42.9 -26.3,42.6 -26.3,42.8 -26.3,43.3 -26.6,43.6 -26.8,43.7 -26.8,43.8 -27.1,43.8 -27.3,44.2 -27.4,44.6 -27.7,44.7 -27.7,44.7 -27.6,44.9 -27.7,45.3 -27.5,46 -27.3,46.5 -27.1,46.6 -26.9,46.7 -26.4,47 -25.9,47.5 -25.6,47.9 -25.2,48.2 -25,48.6 -25,48.7 -24.7,49.1 -24.6,49.6 -24.6,49.9 -24.1,50 -23.6,50.1 -23.2,50.5 -22.8,50.6 -22.6,50.4 -22.5,50.2 -22.3,50.4 -21.9,50.5 -21.3,50.7 -20.7,51 -20.4,51 -20.2,50.9 -19.8,50.9 -19.4,50.8 -19,51 -18.5,51.3 -18.3,51.3 -18.1,51.2 -18,51.2 -17.8,51 -17.2,50.9 -16.6,50.9 -16.4,50.8 -16.3,50.8 -16.1,50.9 -15.9,50.7 -15.7,50.7 -15.2,50.6 -14.7,50.5 -14.5,50.6 -14.3,50.9 -13.6,51.3 -12.9,51.3 -12.8,51 -12.9,50.8 -12.5,50.8 -12.3,50.5 -12.2,50.3 -11.8,50.3 -11.5,50.2 -11.3,50 -11,50 -10.5,50 -10.4,49.8 -10.3,49.3 -10.1,49 -9.7,49.2 -9.4,49 -9.3,48.8 -9,48.9 -8.6,48.8 -8,48.7 -7.7,48.5 -7.5,48.2 -7.4,48.1 -7.1,48 -6.7,48.3 -6.2,48.5 -5.7,48.2 -5.4,48.1 -5.4,47.9 -5,47.6 -4.4,47.3 -4.2,47.2 -4,47.4 -3.4,47.5 -2.9,47.7 -2.5,47.7 -2.3,47.4 -2.1,47.1 -1.7,47.1 -1.5,46.7 -1,46.5 -0.6,46.7 -0.3,46.8 -0,46.6 0.4,46.7 0.7,46.8 1,46.8 1.3,46.7 1.9,46.5 2.2,46.5 2.4,46.7 2.8,46.8 3.3,46.8 3.6,46.7 4.1,46.6 4.6,46.6 5,46.5 5.2,46.6 5.2,46.8 5.4,46.7 6,46.8 6.6,46.9 6.9,46.7 7.1,46.7 7.2,46.9 7.5,46.9 8,46.6 8.6,46.4 9.1,46.5 9.4,46.5 9.7,46.3 10,46.5 10.3,46.7 10.7,46.9 11.2,47 11.6,46.9 12,46.8 12.1,46.9 12.4,46.9 12.9,46.5 13.2,46.4 13.5,46.4 14.2,46.2 14.6,46.2 14.8,46.5 15.1,46.6 15.3,46.7 15.6,46.7 16.3,46.3 16.8,46 17,45.9 17.3,45.9 17.7,45.9 18.2,45.9 18.8,45.7 19,45.5 19.2,45.6 19.6,45.6 20,45.4 20.5,45 20.8,45 21.2,45.1 21.7,44.8 22.4,44.6 22.9,44.6 23,44.8 23.1,45.2 23.6,45.1 24.2,44.7 24.5,44.5 24.7,44.8 25,44.8 25.3,44.7 25.6,44.9 26,45 26.4,44.9 27,44.9 27.4,44.9 27.8,44.9 28.3,44.9 28.4,45.2 28.3,45.5 28.8,45.5 29.5,45.4 29.7,45.5 30,45.4 30.3,45.3 30.7,45.5 30.8,45.9 30.9,46.1 30.8,46.3 31,46.5 30.9,46.9 30.9,47.2 31.4,47 32.1,46.4 32.6,46.1 32.9,46.1 33.3,45.9 33.6,45.8 33.9,45.8 34.4,45.7 35.1,45.5 35.8,45.1 36.2,45 36.4,44.9 36.8,44.9 37.1,44.9 37.3,44.8 37.6,44.9 37.9,45 38.2,45 38.8,44.7 39.3,44.5 39.5,44.5 39.9,44.5 40.5,44.5 41,44.5 41.5,44.3 41.9,44.2 42,44.4 42.2,44.5 42.9,44.2 43.4,44.1 43.6,44.3 44.1,44.2 44.5,44.1 44.7,44.3 45.3,44.3 45.9,44 46.4,43.8 46.6,43.9 46.8,44.1 47.2,44.2 47.7,44.1 48.1,43.9 48.3,44 48.5,44.3 48.8,44.5 49.1,44.4 49.6,44.2 50,44.1 50.2,44.3 50.3,44.6 50.7,44.7 51.1,44.6 51.3,44.8 51.8,45 52.2,45 52.4,44.9 52.7,45 53,45 53.5,44.8 54.2,44.8 54.6,44.7 55.1,44.6 55.6,44.6 55.8,44.6 55.9,44.7 56.1,44.8 56.4,44.8 57,44.9 57.4,44.7 57.8,44.6 58.2,44.4 58.8,44.3 59.5,44 59.8,44 59.9,44.4 60.5,44.4 61,44.2 61.2,44.2 61.4,44.5 61.7,44.7 62.1,44.7 62.3,44.8 62.4,44.9 62.8,44.9 63.3,44.7 63.6,44.7 64,44.8 64.4,44.8 64.5,45 64.3,45.5 64.1,45.9 64.4,45.9 64.8,46 65.6,45.9 66.2,45.7 66.1,45.9 66.1,46 66.5,46 66.9,46.1 67,46.3 67.1,46.3 67.4,46.3 67.8,46.3 68.1,46.5 68,46.7 68.1,46.8 68.4,46.8 68.8,46.9 69,47 69.2,47.1 69.3,47.3 69.7,47.4 70,47.2 69.8,47.5 69.5,47.9 69.9,47.9 70.7,47.5 71.2,47.4 71.4,47.4 71.1,47.7 70.7,48.2 70.1,48.5 69.7,48.5 68.5,49 67.6,49.3 67.4,49.2 67,49.4 66.1,49.8 65.3,50 64.2,50.5 63.5,50.7 63.4,50.7 63.5,50.7 63.3,50.9 63.1,51.1 63.2,51.3 63.5,51.3 64.1,51.2 64.4,51.2 64,51.5 64.9,51.2 66.4,50.7 66.7,50.7 66.8,50.8 67.2,50.8 66.8,51.2 66.3,51.6 67,51.4 68,51 68.2,51 68.4,51 68.9,51"/>
<clipPath id="c0"><use href="#bnd" transform="translate(112.6,72.5)"/></clipPath>
<clipPath id="c1"><use href="#bnd" transform="translate(112.6,204.9)"/></clipPath>
<clipPath id="c2"><use href="#bnd" transform="translate(112.6,337.6)"/></clipPath>
<clipPath id="c3"><use href="#bnd" transform="translate(386.85,72.5)"/></clipPath>
<clipPath id="c4"><use href="#bnd" transform="translate(386.85,204.9)"/></clipPath>
<clipPath id="c5"><use href="#bnd" transform="translate(386.85,337.6)"/></clipPath>
</defs>
<g clip-path="url(#c3)">
<rect x="277.55" y="12.5" width="218.6" height="120" fill="#f7f7f7"/><path d="M281.2,76.3L282.7,76.2L283.8,75.9L284.2,75.8L285.6,75.0L286.5,74.2L286.9,72.5L285.7,70.8L285.6,70.7L284.1,69.9L282.7,69.2L282.2,69.1L281.2,68.8L279.8,68.4L279.7,69.1L279.6,70.8L279.6,72.5L279.6,74.2L279.7,75.9L279.7,76.2ZM492.5,76.1L494.0,76.2L494.0,75.9L494.1,74.2L494.2,72.5L494.1,70.8L494.0,69.1L493.9,68.4L492.4,68.1L490.9,67.9L489.4,67.7L487.9,67.5L486.4,67.4L485.2,67.4L484.9,67.3L483.4,67.3L482.0,67.2L480.5,67.3L479.0,67.3L478.7,67.4L477.5,67.4L476.0,67.6L474.6,67.8L473.1,68.0L471.6,68.3L470.2,68.7L469.3,69.1L468.7,69.5L467.3,70.8L467.3,70.8L467.3,70.8L468.6,72.5L468.8,72.6L470.3,73.2L471.8,73.6L473.2,74.0L474.7,74.2L474.7,74.2L476.2,74.4L477.7,74.6L479.2,74.7L480.7,74.8L482.1,74.9L483.6,74.9L485.1,75.0L486.6,75.1L488.1,75.3L489.6,75.5L491.0,75.8L491.8,75.9Z" fill="#2d004b"/><path d="M281.3,76.9L282.7,76.8L284.2,76.5L285.7,76.0L285.7,75.9L287.1,74.8L287.7,74.2L288.0,72.5L287.0,70.8L287.0,70.8L285.6,69.8L284.2,69.1L284.0,69.1L282.7,68.6L281.3,68.2L279.8,67.9L279.8,68.4L281.2,68.8L282.2,69.1L282.7,69.2L284.1,69.9L285.6,70.7L285.7,70.8L286.9,72.5L286.5,74.2L285.6,75.0L284.2,75.8L283.8,75.9L282.7,76.2L281.2,76.3L279.7,76.2L279.8,76.8ZM489.5,76.0L491.0,76.4L492.5,76.6L493.9,76.8L494.0,76.2L492.5,76.1L491.8,75.9L491.0,75.8L489.6,75.5L488.1,75.3L486.6,75.1L485.1,75.0L483.6,74.9L482.1,74.9L480.7,74.8L479.2,74.7L477.7,74.6L476.2,74.4L474.7,74.2L474.7,74.2L473.2,74.0L471.8,73.6L470.3,73.2L468.8,72.6L468.6,72.5L467.3,70.8L467.3,70.8L467.3,70.8L468.7,69.5L469.3,69.1L470.2,68.7L471.6,68.3L473.1,68.0L474.6,67.8L476.0,67.6L477.5,67.4L478.7,67.4L479.0,67.3L480.5,67.3L482.0,67.2L483.4,67.3L484.9,67.3L485.2,67.4L486.4,67.4L487.9,67.5L489.4,67.7L490.9,67.9L492.4,68.1L493.9,68.4L493.9,67.9L492.4,67.6L490.9,67.4L490.3,67.4L489.4,67.2L487.9,67.0L486.4,66.9L484.9,66.8L483.4,66.8L481.9,66.7L480.4,66.8L478.9,66.8L477.5,66.9L476.0,67.1L474.5,67.3L474.2,67.4L473.1,67.5L471.6,67.8L470.1,68.2L468.7,68.6L467.6,69.1L467.2,69.4L466.0,70.8L467.2,72.5L467.3,72.6L468.8,73.2L470.3,73.7L471.8,74.1L472.2,74.2L473.2,74.4L474.7,74.7L476.2,74.9L477.7,75.0L479.2,75.1L480.6,75.2L482.1,75.3L483.6,75.3L485.1,75.4L486.6,75.6L488.1,75.8L489.1,75.9Z" fill="#451871"/><path d="M281.3,77.4L282.8,77.4L284.3,77.1L285.7,76.7L287.1,76.0L287.2,75.9L288.6,74.6L288.8,74.2L289.2,72.5L288.5,71.1L288.4,70.8L287.1,69.8L285.8,69.1L285.7,69.0L284.2,68.4L282.8,67.9L281.3,67.6L279.9,67.4L279.8,67.3L279.8,67.4L279.8,67.9L281.3,68.2L282.7,68.6L284.0,69.1L284.2,69.1L285.6,69.8L287.0,70.8L287.0,70.8L288.0,72.5L287.7,74.2L287.1,74.8L285.7,75.9L285.7,76.0L284.2,76.5L282.7,76.8L281.3,76.9L279.8,76.8L279.8,77.4ZM486.6,76.0L488.0,76.3L489.5,76.6L490.9,76.9L492.4,77.2L493.9,77.4L493.9,76.8L492.5,76.6L491.0,76.4L489.5,76.0L489.1,75.9L488.1,75.8L486.6,75.6L485.1,75.4L483.6,75.3L482.1,75.3L480.6,75.2L479.2,75.1L477.7,75.0L476.2,74.9L474.7,74.7L473.2,74.4L472.2,74.2L471.8,74.1L470.3,73.7L468.8,73.2L467.3,72.6L467.2,72.5L466.0,70.8L467.2,69.4L467.6,69.1L468.7,68.6L470.1,68.2L471.6,67.8L473.1,67.5L474.2,67.4L474.5,67.3L476.0,67.1L477.5,66.9L478.9,66.8L480.4,66.8L481.9,66.7L483.4,66.8L484.9,66.8L486.4,66.9L487.9,67.0L489.4,67.2L490.3,67.4L490.9,67.4L492.4,67.6L493.9,67.9L493.9,67.4L493.9,67.3L492.3,67.0L490.8,66.8L489.3,66.6L487.8,66.5L486.3,66.3L484.8,66.3L483.3,66.2L481.8,66.2L480.4,66.3L478.9,66.3L477.4,66.4L475.9,66.5L474.5,66.7L473.0,66.9L471.6,67.2L471.1,67.4L470.1,67.6L468.6,68.0L467.2,68.5L466.0,69.1L465.7,69.3L464.6,70.8L465.8,72.5L465.8,72.5L467.3,73.3L468.8,73.9L469.9,74.2L470.3,74.3L471.7,74.7L473.2,75.0L474.7,75.2L476.2,75.3L477.7,75.4L479.1,75.5L480.6,75.6L482.1,75.7L483.6,75.7L485.1,75.8L485.9,75.9Z" fill="#5f3a91"/><path d="M281.4,78.1L282.9,78.0L284.3,77.8L285.0,77.6L285.8,77.5L287.2,76.9L288.6,76.0L288.7,75.9L290.0,74.3L290.1,74.2L290.5,72.5L290.0,71.3L289.8,70.8L288.6,69.7L287.7,69.1L287.2,68.7L285.7,68.1L284.3,67.6L283.1,67.4L282.8,67.2L281.4,66.8L279.9,66.5L279.8,67.3L279.9,67.4L281.3,67.6L282.8,67.9L284.2,68.4L285.7,69.0L285.8,69.1L287.1,69.8L288.4,70.8L288.5,71.1L289.2,72.5L288.8,74.2L288.6,74.6L287.2,75.9L287.1,76.0L285.7,76.7L284.3,77.1L282.8,77.4L281.3,77.4L279.8,77.4L279.8,77.6L279.9,78.0ZM492.4,77.8L493.8,78.0L493.9,77.6L493.9,77.4L492.4,77.2L490.9,76.9L489.5,76.6L488.0,76.3L486.6,76.0L485.9,75.9L485.1,75.8L483.6,75.7L482.1,75.7L480.6,75.6L479.1,75.5L477.7,75.4L476.2,75.3L474.7,75.2L473.2,75.0L471.7,74.7L470.3,74.3L469.9,74.2L468.8,73.9L467.3,73.3L465.8,72.5L465.8,72.5L464.6,70.8L465.7,69.3L466.0,69.1L467.2,68.5L468.6,68.0L470.1,67.6L471.1,67.4L471.6,67.2L473.0,66.9L474.5,66.7L475.9,66.5L477.4,66.4L478.9,66.3L480.4,66.3L481.8,66.2L483.3,66.2L484.8,66.3L486.3,66.3L487.8,66.5L489.3,66.6L490.8,66.8L492.3,67.0L493.9,67.3L493.8,66.5L492.2,66.3L490.7,66.1L489.2,66.0L487.7,65.9L486.3,65.8L484.8,65.7L483.3,65.7L481.8,65.7L480.3,65.7L478.8,65.8L477.4,65.9L475.9,66.0L474.4,66.1L473.0,66.3L471.5,66.6L470.0,66.9L468.6,67.3L468.4,67.4L467.1,67.7L465.7,68.3L464.3,69.1L464.2,69.1L463.2,70.8L464.3,72.4L464.4,72.5L465.8,73.3L467.3,74.0L467.9,74.2L468.8,74.5L470.2,74.9L471.7,75.2L473.2,75.5L474.7,75.6L476.1,75.8L477.6,75.9L478.9,75.9L479.1,75.9L480.6,76.1L482.1,76.2L483.6,76.3L485.0,76.5L486.5,76.7L488.0,76.9L489.4,77.2L490.9,77.5L491.7,77.6Z" fill="#7b6aa8"/><path d="M281.5,78.8L282.9,78.8L284.4,78.6L285.9,78.3L287.3,77.8L287.6,77.6L288.7,77.1L290.1,76.1L290.3,75.9L291.5,74.2L291.5,74.1L292.0,72.5L291.5,70.8L291.5,70.8L290.1,69.3L289.9,69.1L288.7,68.3L287.3,67.7L286.4,67.4L285.8,67.1L284.4,66.6L282.9,66.2L281.5,65.9L280.0,65.7L279.9,66.5L281.4,66.8L282.8,67.2L283.1,67.4L284.3,67.6L285.7,68.1L287.2,68.7L287.7,69.1L288.6,69.7L289.8,70.8L290.0,71.3L290.5,72.5L290.1,74.2L290.0,74.3L288.7,75.9L288.6,76.0L287.2,76.9L285.8,77.5L285.0,77.6L284.3,77.8L282.9,78.0L281.4,78.1L279.9,78.0L280.0,78.7ZM489.4,77.9L490.8,78.3L492.3,78.6L493.7,78.7L493.8,78.0L492.4,77.8L491.7,77.6L490.9,77.5L489.4,77.2L488.0,76.9L486.5,76.7L485.0,76.5L483.6,76.3L482.1,76.2L480.6,76.1L479.1,75.9L478.9,75.9L477.6,75.9L476.1,75.8L474.7,75.6L473.2,75.5L471.7,75.2L470.2,74.9L468.8,74.5L467.9,74.2L467.3,74.0L465.8,73.3L464.4,72.5L464.3,72.4L463.2,70.8L464.2,69.1L464.3,69.1L465.7,68.3L467.1,67.7L468.4,67.4L468.6,67.3L470.0,66.9L471.5,66.6L473.0,66.3L474.4,66.1L475.9,66.0L477.4,65.9L478.8,65.8L480.3,65.7L481.8,65.7L483.3,65.7L484.8,65.7L486.3,65.8L487.7,65.9L489.2,66.0L490.7,66.1L492.2,66.3L493.8,66.5L493.7,65.7L492.8,65.6L492.2,65.5L490.6,65.3L489.1,65.1L487.6,64.9L486.1,64.9L484.6,64.8L483.2,64.8L481.7,64.8L480.2,64.9L478.7,65.0L477.3,65.1L475.8,65.3L474.4,65.5L473.5,65.6L472.9,65.7L471.4,65.9L470.0,66.1L468.5,66.5L467.1,66.9L465.7,67.4L465.6,67.4L464.2,68.0L462.7,68.9L462.5,69.1L461.8,70.8L462.8,72.2L463.0,72.5L464.3,73.4L465.8,74.1L466.0,74.2L467.3,74.7L468.7,75.2L470.2,75.5L471.7,75.8L472.9,75.9L473.2,76.0L474.6,76.2L476.1,76.4L477.6,76.6L479.1,76.7L480.5,76.8L482.0,76.9L483.5,77.0L485.0,77.1L486.4,77.3L487.9,77.6L488.3,77.6Z" fill="#998fbf"/><path d="M303.5,86.4L305.0,86.7L306.5,86.9L308.0,87.0L309.4,87.0L310.9,86.8L312.3,86.6L313.5,86.2L313.6,86.1L315.0,85.3L315.9,84.5L315.7,82.8L314.4,81.9L312.9,81.1L312.8,81.1L311.3,80.8L309.8,80.6L308.4,80.6L306.9,80.8L305.5,81.1L305.5,81.1L304.1,81.7L302.7,82.6L302.4,82.8L301.6,84.5L303.0,86.2ZM281.6,79.7L283.1,79.6L284.5,79.5L285.1,79.4L286.0,79.2L287.4,78.9L288.8,78.4L290.1,77.6L290.2,77.6L291.6,76.5L292.2,75.9L293.0,74.7L293.3,74.2L293.9,72.5L293.7,70.8L293.1,69.8L292.5,69.1L291.7,68.3L290.2,67.5L290.0,67.4L288.8,66.6L287.4,66.0L286.1,65.6L286.0,65.6L284.6,64.9L283.2,64.5L281.7,64.2L280.3,64.1L280.0,65.6L280.0,65.7L281.5,65.9L282.9,66.2L284.4,66.6L285.8,67.1L286.4,67.4L287.3,67.7L288.7,68.3L289.9,69.1L290.1,69.3L291.5,70.8L291.5,70.8L292.0,72.5L291.5,74.1L291.5,74.2L290.3,75.9L290.1,76.1L288.7,77.1L287.6,77.6L287.3,77.8L285.9,78.3L284.4,78.6L282.9,78.8L281.5,78.8L280.0,78.7L280.0,79.4L280.1,79.6ZM493.6,79.6L493.7,79.4L493.7,78.7L492.3,78.6L490.8,78.3L489.4,77.9L488.3,77.6L487.9,77.6L486.4,77.3L485.0,77.1L483.5,77.0L482.0,76.9L480.5,76.8L479.1,76.7L477.6,76.6L476.1,76.4L474.6,76.2L473.2,76.0L472.9,75.9L471.7,75.8L470.2,75.5L468.7,75.2L467.3,74.7L466.0,74.2L465.8,74.1L464.3,73.4L463.0,72.5L462.8,72.2L461.8,70.8L462.5,69.1L462.7,68.9L464.2,68.0L465.6,67.4L465.7,67.4L467.1,66.9L468.5,66.5L470.0,66.1L471.4,65.9L472.9,65.7L473.5,65.6L474.4,65.5L475.8,65.3L477.3,65.1L478.7,65.0L480.2,64.9L481.7,64.8L483.2,64.8L484.6,64.8L486.1,64.9L487.6,64.9L489.1,65.1L490.6,65.3L492.2,65.5L492.8,65.6L493.7,65.7L493.7,65.6L493.4,64.1L491.9,64.0L491.5,63.9L490.4,63.8L488.9,63.7L487.4,63.6L485.9,63.6L484.5,63.6L483.0,63.7L481.5,63.8L480.1,63.9L479.8,63.9L478.6,64.0L477.1,64.1L475.7,64.2L474.2,64.4L472.8,64.6L471.3,64.9L469.9,65.2L468.4,65.6L468.3,65.6L467.0,65.9L465.5,66.3L464.1,66.8L463.0,67.4L462.7,67.5L461.2,68.4L460.6,69.1L460.3,70.8L461.4,72.2L461.6,72.5L462.8,73.4L464.1,74.2L464.3,74.3L465.8,75.0L467.2,75.5L468.7,75.9L468.9,75.9L470.2,76.3L471.6,76.6L473.1,76.9L474.6,77.1L476.1,77.2L477.5,77.3L479.0,77.4L480.5,77.5L482.0,77.5L483.4,77.6L483.4,77.7L484.9,77.9L486.4,78.3L487.8,78.6L489.3,78.9L490.7,79.1L492.2,79.3L492.4,79.4ZM286.9,60.5L288.3,60.8L289.8,60.9L291.2,61.0L292.7,61.0L294.2,60.9L295.7,60.8L297.2,60.6L298.2,60.5L298.7,60.4L300.2,60.1L301.8,59.7L303.3,59.3L304.9,58.9L305.2,58.8L306.5,58.1L308.1,57.2L308.4,57.1L308.3,56.3L308.2,55.4L307.2,54.9L305.9,54.4L304.6,54.1L303.2,53.8L302.2,53.6L301.8,53.6L300.4,53.5L299.0,53.5L297.6,53.5L296.1,53.5L294.6,53.6L293.9,53.6L293.1,53.7L291.6,54.0L290.1,54.3L288.5,54.6L286.9,55.1L286.0,55.4L285.2,55.9L283.5,57.1L283.5,58.8L284.2,59.4L285.5,60.1L286.8,60.5Z" fill="#b7b1d5"/><path d="M284.5,91.4L286.1,91.7L287.7,92.0L289.2,92.2L290.7,92.3L292.1,92.4L293.6,92.4L295.0,92.3L296.3,92.1L297.7,91.9L299.0,91.6L300.1,91.4L300.4,91.3L301.7,90.9L303.0,90.6L304.4,90.3L305.8,90.1L307.2,89.9L308.6,89.7L308.7,89.6L310.0,89.5L311.4,89.3L312.8,89.0L314.1,88.7L315.5,88.3L316.6,87.9L316.9,87.8L318.2,87.2L319.5,86.3L319.6,86.2L320.7,84.5L320.7,84.5L320.6,83.6L320.4,82.8L318.8,81.1L318.7,81.1L317.2,80.2L315.7,79.5L315.3,79.4L314.1,78.9L312.6,78.6L311.1,78.3L309.6,78.2L308.1,78.2L306.6,78.2L305.2,78.4L303.7,78.6L302.3,79.0L301.1,79.4L300.8,79.4L299.4,80.0L298.0,80.8L297.5,81.1L296.7,81.7L295.3,82.6L295.1,82.8L294.0,83.4L292.7,84.0L291.3,84.5L291.2,84.5L289.9,84.8L288.5,85.1L287.1,85.4L285.7,85.8L284.4,86.2L284.4,86.2L283.1,86.8L281.8,87.5L281.9,87.9L282.4,89.6L282.8,90.5L284.5,91.4ZM303.0,86.2L301.6,84.5L302.4,82.8L302.7,82.6L304.1,81.7L305.5,81.1L305.5,81.1L306.9,80.8L308.4,80.6L309.8,80.6L311.3,80.8L312.8,81.1L312.9,81.1L314.4,81.9L315.7,82.8L315.9,84.5L315.0,85.3L313.6,86.1L313.5,86.2L312.3,86.6L310.9,86.8L309.4,87.0L308.0,87.0L306.5,86.9L305.0,86.7L303.5,86.4ZM489.8,89.7L490.9,90.5L491.3,89.6L491.8,87.9L491.9,87.5L490.9,87.9L489.8,89.5L489.7,89.6ZM427.7,88.0L429.1,88.1L430.5,88.1L432.0,88.1L433.5,88.0L433.7,87.9L435.0,87.5L436.6,86.7L437.3,86.2L436.6,86.0L435.2,85.7L433.8,85.4L432.3,85.2L430.9,85.1L429.4,85.1L427.9,85.1L426.5,85.4L425.0,85.7L423.6,86.2L424.8,87.0L426.2,87.6L427.3,87.9ZM281.8,81.0L283.2,81.0L284.7,81.0L286.2,80.9L287.6,80.7L289.1,80.3L290.5,79.7L291.0,79.4L291.9,79.0L293.3,78.0L293.6,77.6L294.6,76.6L295.2,75.9L296.0,74.6L296.2,74.2L297.0,72.5L297.2,70.8L296.5,69.1L296.1,68.5L295.2,67.4L294.8,66.5L294.1,65.6L295.0,64.8L296.0,63.9L296.6,63.8L298.2,63.3L299.7,62.8L301.3,62.2L301.3,62.2L302.8,61.7L304.4,61.2L306.0,60.8L306.8,60.5L307.5,60.3L309.1,59.8L310.6,59.4L312.2,59.0L312.8,58.8L313.7,58.3L315.4,57.5L316.2,57.1L316.7,55.4L316.0,54.7L314.8,53.8L314.6,53.6L313.5,53.3L312.2,52.9L310.8,52.5L309.5,52.3L308.1,52.1L307.0,51.9L306.7,51.9L305.4,51.8L304.0,51.7L302.6,51.6L301.2,51.6L299.7,51.6L298.3,51.6L296.9,51.6L295.4,51.6L294.0,51.7L292.5,51.8L291.1,51.9L291.0,51.9L289.5,52.1L288.0,52.3L286.4,52.5L284.9,52.8L283.3,53.2L283.1,53.6L282.4,55.4L281.9,57.1L281.5,58.8L281.0,60.5L280.6,62.2L280.3,63.9L280.3,64.1L281.7,64.2L283.2,64.5L284.6,64.9L286.0,65.6L286.1,65.6L287.4,66.0L288.8,66.6L290.0,67.4L290.2,67.5L291.7,68.3L292.5,69.1L293.1,69.8L293.7,70.8L293.9,72.5L293.3,74.2L293.0,74.7L292.2,75.9L291.6,76.5L290.2,77.6L290.1,77.6L288.8,78.4L287.4,78.9L286.0,79.2L285.1,79.4L284.5,79.5L283.1,79.6L281.6,79.7L280.1,79.6L280.3,80.9ZM286.8,60.5L285.5,60.1L284.2,59.4L283.5,58.8L283.5,57.1L285.2,55.9L286.0,55.4L286.9,55.1L288.5,54.6L290.1,54.3L291.6,54.0L293.1,53.7L293.9,53.6L294.6,53.6L296.1,53.5L297.6,53.5L299.0,53.5L300.4,53.5L301.8,53.6L302.2,53.6L303.2,53.8L304.6,54.1L305.9,54.4L307.2,54.9L308.2,55.4L308.3,56.3L308.4,57.1L308.1,57.2L306.5,58.1L305.2,58.8L304.9,58.9L303.3,59.3L301.8,59.7L300.2,60.1L298.7,60.4L298.2,60.5L297.2,60.6L295.7,60.8L294.2,60.9L292.7,61.0L291.2,61.0L289.8,60.9L288.3,60.8L286.9,60.5ZM486.2,79.6L487.6,80.0L489.1,80.3L490.5,80.6L492.0,80.8L493.4,80.9L493.6,79.6L492.4,79.4L492.2,79.3L490.7,79.1L489.3,78.9L487.8,78.6L486.4,78.3L484.9,77.9L483.4,77.7L483.4,77.6L482.0,77.5L480.5,77.5L479.0,77.4L477.5,77.3L476.1,77.2L474.6,77.1L473.1,76.9L471.6,76.6L470.2,76.3L468.9,75.9L468.7,75.9L467.2,75.5L465.8,75.0L464.3,74.3L464.1,74.2L462.8,73.4L461.6,72.5L461.4,72.2L460.3,70.8L460.6,69.1L461.2,68.4L462.7,67.5L463.0,67.4L464.1,66.8L465.5,66.3L467.0,65.9L468.3,65.6L468.4,65.6L469.9,65.2L471.3,64.9L472.8,64.6L474.2,64.4L475.7,64.2L477.1,64.1L478.6,64.0L479.8,63.9L480.1,63.9L481.5,63.8L483.0,63.7L484.5,63.6L485.9,63.6L487.4,63.6L488.9,63.7L490.4,63.8L491.5,63.9L491.9,64.0L493.4,64.1L493.4,63.9L493.1,62.2L492.7,60.5L492.2,58.8L491.8,57.1L491.3,55.4L490.6,53.6L490.4,53.2L489.2,53.6L489.1,53.6L487.9,54.2L486.8,55.0L486.2,55.4L485.7,56.1L485.0,57.1L484.7,57.9L484.3,58.8L483.7,59.6L482.7,60.5L482.4,60.6L481.0,61.0L479.6,61.4L478.2,61.8L476.8,62.1L476.6,62.2L475.4,62.4L474.0,62.7L472.5,63.0L471.1,63.3L469.7,63.8L469.2,63.9L468.3,64.1L466.8,64.5L465.4,64.9L464.0,65.4L463.5,65.6L462.5,66.0L461.1,66.6L459.9,67.4L459.7,67.5L458.5,69.1L458.8,70.8L459.9,72.1L460.1,72.5L461.3,73.5L462.3,74.2L462.8,74.6L464.3,75.4L465.6,75.9L465.7,76.0L467.2,76.7L468.6,77.1L470.1,77.4L471.6,77.6L471.7,77.6L473.0,78.0L474.5,78.2L475.9,78.4L477.4,78.6L478.9,78.7L480.4,78.8L481.8,78.9L483.3,79.1L484.8,79.2L485.5,79.4ZM356.6,53.8L358.0,54.1L359.4,54.3L360.8,54.4L362.3,54.4L363.7,54.4L365.2,54.4L366.6,54.2L368.1,54.1L369.5,53.8L370.2,53.6L369.6,53.5L368.2,53.2L366.7,53.0L365.3,52.8L363.9,52.8L362.4,52.8L361.0,52.8L359.5,53.0L358.1,53.2L356.6,53.5L355.8,53.6Z" fill="#cfcee5"/><path d="M287.6,94.8L289.1,95.0L290.5,95.0L292.0,95.1L293.4,95.1L294.8,95.1L296.2,95.1L297.6,95.0L298.9,94.9L299.7,94.8L300.3,94.7L301.6,94.5L302.9,94.3L304.3,94.0L305.6,93.7L306.9,93.4L308.2,93.1L308.4,93.1L309.5,92.8L310.8,92.5L312.2,92.2L313.5,92.0L314.9,91.6L315.9,91.4L316.2,91.3L317.6,91.0L318.9,90.6L320.3,90.2L321.5,89.6L321.6,89.6L322.9,89.0L324.2,88.2L324.7,87.9L325.5,87.1L326.3,86.2L326.7,85.1L326.9,84.5L326.5,83.8L326.0,82.8L324.8,81.9L323.8,81.1L323.2,80.8L321.6,79.9L320.8,79.4L320.1,78.9L318.5,77.9L317.9,77.6L317.0,76.9L315.4,76.2L314.8,75.9L313.9,75.4L312.4,74.8L310.9,74.4L309.8,74.2L309.4,74.0L307.9,73.2L306.9,72.5L306.4,71.8L305.9,70.8L305.0,70.0L304.3,69.1L303.6,68.4L302.8,67.4L302.4,65.6L303.7,63.9L304.0,63.8L305.6,62.9L307.1,62.2L307.2,62.2L308.7,61.7L310.3,61.3L311.8,61.0L313.3,60.8L314.8,60.7L316.3,60.6L317.3,60.5L317.8,60.5L319.3,60.4L320.7,60.2L322.3,60.0L323.8,59.7L325.3,59.2L326.6,58.8L326.9,58.6L328.4,58.0L330.0,57.4L331.5,57.1L331.5,57.1L333.0,56.8L334.4,56.8L335.9,56.9L337.3,57.0L337.6,57.1L338.7,57.2L340.2,57.3L341.6,57.5L343.1,57.6L344.5,57.7L346.0,57.7L347.4,57.7L348.9,57.6L350.4,57.6L351.8,57.5L353.3,57.5L354.8,57.4L356.2,57.4L357.7,57.4L359.1,57.3L360.6,57.3L362.1,57.3L363.5,57.3L365.0,57.3L366.4,57.3L367.9,57.3L369.4,57.3L370.8,57.2L372.3,57.2L373.7,57.2L375.2,57.2L376.6,57.2L378.1,57.2L379.6,57.3L381.0,57.4L382.5,57.7L383.9,58.1L385.3,58.8L385.4,58.8L386.9,59.7L387.9,60.5L388.3,60.8L389.8,61.6L390.9,62.2L391.3,62.4L392.8,62.9L394.2,63.3L395.7,63.6L397.2,63.8L398.7,63.9L400.2,63.8L401.6,63.7L403.1,63.4L404.6,62.9L405.9,62.2L406.0,62.1L407.3,60.5L407.0,58.8L405.8,57.6L405.2,57.1L404.3,56.5L402.8,55.8L401.6,55.4L401.3,55.3L399.9,54.7L398.4,54.3L396.9,53.9L395.9,53.6L395.5,53.5L394.0,53.1L392.6,52.7L391.1,52.3L389.8,51.9L389.7,51.9L388.3,51.6L386.9,51.3L385.4,51.0L384.0,50.8L382.6,50.6L381.2,50.4L379.8,50.2L379.8,50.2L378.3,50.1L376.9,50.0L375.5,49.9L374.1,49.8L372.7,49.7L371.3,49.6L369.9,49.6L368.5,49.5L367.1,49.5L365.7,49.4L364.3,49.4L362.8,49.4L361.4,49.4L360.0,49.4L358.6,49.4L357.2,49.5L355.8,49.5L354.3,49.6L352.9,49.7L351.5,49.8L350.0,49.9L348.6,50.0L347.1,50.2L347.0,50.2L345.7,50.4L344.2,50.6L342.7,50.9L341.2,51.2L339.7,51.5L338.2,51.8L337.3,51.9L336.7,52.1L335.2,52.5L333.7,52.7L332.3,52.8L330.8,52.8L329.4,52.7L328.1,52.5L326.7,52.2L325.7,51.9L325.3,51.9L324.0,51.6L322.6,51.4L321.3,51.1L319.9,50.9L318.6,50.7L317.2,50.5L315.9,50.4L314.5,50.2L314.2,50.2L313.1,50.1L311.7,50.0L310.4,50.0L309.0,49.9L307.6,49.8L306.2,49.8L304.8,49.8L303.4,49.8L302.0,49.8L300.5,49.8L299.1,49.8L297.7,49.8L296.3,49.8L294.8,49.8L293.4,49.9L292.0,49.9L290.5,50.0L289.1,50.0L287.6,50.1L286.1,50.2L285.9,50.2L284.7,50.3L283.8,51.9L283.3,53.2L284.9,52.8L286.4,52.5L288.0,52.3L289.5,52.1L291.0,51.9L291.1,51.9L292.5,51.8L294.0,51.7L295.4,51.6L296.9,51.6L298.3,51.6L299.7,51.6L301.2,51.6L302.6,51.6L304.0,51.7L305.4,51.8L306.7,51.9L307.0,51.9L308.1,52.1L309.5,52.3L310.8,52.5L312.2,52.9L313.5,53.3L314.6,53.6L314.8,53.8L316.0,54.7L316.7,55.4L316.2,57.1L315.4,57.5L313.7,58.3L312.8,58.8L312.2,59.0L310.6,59.4L309.1,59.8L307.5,60.3L306.8,60.5L306.0,60.8L304.4,61.2L302.8,61.7L301.3,62.2L301.3,62.2L299.7,62.8L298.2,63.3L296.6,63.8L296.0,63.9L295.0,64.8L294.1,65.6L294.8,66.5L295.2,67.4L296.1,68.5L296.5,69.1L297.2,70.8L297.0,72.5L296.2,74.2L296.0,74.6L295.2,75.9L294.6,76.6L293.6,77.6L293.3,78.0L291.9,79.0L291.0,79.4L290.5,79.7L289.1,80.3L287.6,80.7L286.2,80.9L284.7,81.0L283.2,81.0L281.8,81.0L280.3,80.9L280.3,81.1L280.6,82.8L281.0,84.5L281.5,86.2L281.8,87.5L283.1,86.8L284.4,86.2L284.4,86.2L285.7,85.8L287.1,85.4L288.5,85.1L289.9,84.8L291.2,84.5L291.3,84.5L292.7,84.0L294.0,83.4L295.1,82.8L295.3,82.6L296.7,81.7L297.5,81.1L298.0,80.8L299.4,80.0L300.8,79.4L301.1,79.4L302.3,79.0L303.7,78.6L305.2,78.4L306.6,78.2L308.1,78.2L309.6,78.2L311.1,78.3L312.6,78.6L314.1,78.9L315.3,79.4L315.7,79.5L317.2,80.2L318.7,81.1L318.8,81.1L320.4,82.8L320.6,83.6L320.7,84.5L320.7,84.5L319.6,86.2L319.5,86.3L318.2,87.2L316.9,87.8L316.6,87.9L315.5,88.3L314.1,88.7L312.8,89.0L311.4,89.3L310.0,89.5L308.7,89.6L308.6,89.7L307.2,89.9L305.8,90.1L304.4,90.3L303.0,90.6L301.7,90.9L300.4,91.3L300.1,91.4L299.0,91.6L297.7,91.9L296.3,92.1L295.0,92.3L293.6,92.4L292.1,92.4L290.7,92.3L289.2,92.2L287.7,92.0L286.1,91.7L284.5,91.4L284.5,91.4L282.8,90.5L283.1,91.4L283.8,93.1L284.6,94.5L286.1,94.7L287.0,94.8ZM355.8,53.6L356.6,53.5L358.1,53.2L359.5,53.0L361.0,52.8L362.4,52.8L363.9,52.8L365.3,52.8L366.7,53.0L368.2,53.2L369.6,53.5L370.2,53.6L369.5,53.8L368.1,54.1L366.6,54.2L365.2,54.4L363.7,54.4L362.3,54.4L360.8,54.4L359.4,54.3L358.0,54.1L356.6,53.8ZM364.0,93.3L365.5,93.7L366.9,94.1L368.4,94.3L369.8,94.3L371.2,94.3L372.6,94.1L374.0,93.7L375.4,93.3L376.0,93.1L376.5,91.4L375.3,90.6L373.8,90.0L372.4,89.7L372.1,89.6L370.9,89.5L369.4,89.5L368.0,89.5L366.8,89.6L366.6,89.7L365.1,90.0L363.7,90.6L362.6,91.4L363.4,93.1ZM471.2,93.2L472.6,93.3L474.0,93.4L475.4,93.4L476.8,93.5L478.2,93.5L479.6,93.5L481.0,93.6L482.4,93.7L483.8,93.8L485.1,93.9L486.5,94.1L487.8,94.3L489.1,94.5L489.9,93.1L490.6,91.4L490.9,90.5L489.8,89.7L489.7,89.6L489.8,89.5L490.9,87.9L491.9,87.5L492.2,86.2L492.7,84.5L493.1,82.8L493.4,81.1L493.4,80.9L492.0,80.8L490.5,80.6L489.1,80.3L487.6,80.0L486.2,79.6L485.5,79.4L484.8,79.2L483.3,79.1L481.8,78.9L480.4,78.8L478.9,78.7L477.4,78.6L475.9,78.4L474.5,78.2L473.0,78.0L471.7,77.6L471.6,77.6L470.1,77.4L468.6,77.1L467.2,76.7L465.7,76.0L465.6,75.9L464.3,75.4L462.8,74.6L462.3,74.2L461.3,73.5L460.1,72.5L459.9,72.1L458.8,70.8L458.5,69.1L459.7,67.5L459.9,67.4L461.1,66.6L462.5,66.0L463.5,65.6L464.0,65.4L465.4,64.9L466.8,64.5L468.3,64.1L469.2,63.9L469.7,63.8L471.1,63.3L472.5,63.0L474.0,62.7L475.4,62.4L476.6,62.2L476.8,62.1L478.2,61.8L479.6,61.4L481.0,61.0L482.4,60.6L482.7,60.5L483.7,59.6L484.3,58.8L484.7,57.9L485.0,57.1L485.7,56.1L486.2,55.4L486.8,55.0L487.9,54.2L489.1,53.6L489.2,53.6L490.4,53.2L489.9,51.9L489.0,50.3L487.7,50.4L486.3,50.6L485.0,50.7L483.7,51.0L482.4,51.2L481.1,51.5L479.8,51.9L479.8,51.9L478.6,52.4L477.4,53.0L476.2,53.6L476.2,53.7L475.1,54.6L474.3,55.4L473.9,55.7L472.8,57.0L472.8,57.1L471.6,58.2L471.0,58.8L470.4,59.2L469.1,60.1L468.5,60.5L467.8,60.8L466.4,61.6L465.3,62.2L465.1,62.3L463.7,62.9L462.3,63.6L461.7,63.9L460.9,64.2L459.5,64.9L458.1,65.6L458.1,65.7L456.7,66.8L456.2,67.4L456.2,69.1L456.8,70.1L457.1,70.8L458.4,72.1L458.7,72.5L459.8,73.6L460.6,74.2L461.3,74.9L462.7,75.9L462.8,75.9L464.2,77.1L465.2,77.6L465.6,78.1L467.0,79.0L468.0,79.4L468.4,79.7L469.8,80.5L471.2,81.0L471.6,81.1L472.5,82.5L472.7,82.8L472.4,82.9L470.8,83.6L469.2,84.4L469.0,84.5L467.6,85.1L465.9,85.9L465.5,86.2L464.2,87.4L463.7,87.9L463.7,89.6L463.7,89.7L464.8,90.9L465.3,91.4L466.0,91.7L467.3,92.2L468.6,92.6L469.9,92.9L470.6,93.1ZM415.8,89.7L417.3,90.0L418.7,90.3L420.1,90.5L421.5,90.7L422.9,90.9L424.4,91.0L425.8,91.1L427.2,91.2L428.7,91.2L430.1,91.2L431.6,91.2L433.0,91.2L434.5,91.1L435.9,91.0L437.4,90.9L438.8,90.7L440.3,90.5L441.8,90.3L443.3,90.0L444.8,89.7L445.1,89.6L446.4,89.2L447.9,88.7L449.5,88.1L449.9,87.9L451.1,86.2L449.9,85.6L448.5,84.9L447.5,84.5L447.1,84.4L445.7,84.3L444.2,84.1L442.8,83.9L441.3,83.8L439.9,83.6L438.4,83.5L437.0,83.3L435.5,83.2L434.0,83.1L432.6,83.0L431.1,82.9L429.7,82.8L429.6,82.8L428.2,82.7L426.7,82.7L425.2,82.7L423.7,82.7L422.3,82.7L420.8,82.7L419.7,82.8L419.3,82.8L417.8,83.0L416.3,83.2L414.8,83.5L413.3,83.9L411.8,84.4L411.7,84.5L410.4,86.2L411.6,87.9L411.6,88.0L413.0,88.6L414.4,89.2L415.7,89.6ZM427.3,87.9L426.2,87.6L424.8,87.0L423.6,86.2L425.0,85.7L426.5,85.4L427.9,85.1L429.4,85.1L430.9,85.1L432.3,85.2L433.8,85.4L435.2,85.7L436.6,86.0L437.3,86.2L436.6,86.7L435.0,87.5L433.7,87.9L433.5,88.0L432.0,88.1L430.5,88.1L429.1,88.1L427.7,88.0Z" fill="#e4e5f0"/><path d="M308.9,117.9L309.9,117.9L311.0,117.8L312.1,117.8L313.2,117.8L314.3,117.8L315.4,117.8L316.5,117.8L317.6,117.9L318.7,117.9L319.9,117.9L321.0,117.9L322.1,117.9L323.2,117.9L324.3,117.9L325.4,117.9L326.5,117.9L327.6,117.9L328.7,117.9L329.8,117.9L330.9,117.9L332.0,117.9L333.1,117.9L334.2,117.9L335.3,117.9L336.4,117.9L337.4,117.9L338.5,117.9L339.6,117.9L340.7,117.8L341.8,117.8L342.9,117.8L343.9,117.8L345.0,117.8L346.1,117.7L347.2,117.7L348.1,117.7L348.3,117.7L349.4,117.7L350.5,117.7L351.6,117.7L352.7,117.6L353.8,117.6L354.8,117.6L355.9,117.6L357.0,117.6L358.1,117.6L359.2,117.6L360.3,117.6L361.4,117.6L362.6,117.6L363.7,117.6L364.8,117.6L365.9,117.6L367.0,117.6L368.1,117.6L369.2,117.6L370.3,117.5L371.4,117.5L372.5,117.5L373.6,117.5L374.7,117.5L375.8,117.5L376.9,117.5L378.0,117.5L379.1,117.5L380.2,117.5L381.3,117.5L382.4,117.5L383.5,117.5L384.6,117.5L385.7,117.5L386.9,117.5L388.0,117.5L389.1,117.5L390.2,117.5L391.3,117.5L392.4,117.5L393.5,117.5L394.6,117.5L395.7,117.5L396.8,117.5L397.9,117.5L399.0,117.5L400.1,117.5L401.2,117.5L402.3,117.5L403.4,117.5L404.5,117.5L405.6,117.5L406.7,117.5L407.8,117.6L408.9,117.6L410.0,117.6L411.2,117.6L412.3,117.6L413.4,117.6L414.5,117.6L415.6,117.6L416.6,117.6L417.7,117.6L418.8,117.6L419.9,117.6L421.0,117.7L422.1,117.7L423.2,117.7L424.3,117.7L425.4,117.7L426.5,117.7L427.6,117.7L427.8,117.7L428.7,117.7L429.7,117.7L429.8,117.7L430.9,117.7L432.0,117.7L433.1,117.7L434.3,117.7L435.4,117.7L436.5,117.7L437.6,117.6L438.7,117.6L439.8,117.6L440.9,117.6L442.0,117.6L443.1,117.6L444.3,117.6L445.4,117.6L446.5,117.6L447.6,117.6L448.6,117.6L449.7,117.6L450.8,117.6L451.9,117.7L453.0,117.7L453.2,117.7L454.0,117.7L455.1,117.8L456.2,117.8L457.2,117.8L458.3,117.8L459.4,117.9L460.4,117.9L461.5,117.9L462.6,117.9L463.7,117.9L464.8,117.9L465.9,117.9L466.2,117.7L468.4,116.2L469.8,115.1L468.7,115.1L467.5,115.1L466.4,115.1L465.3,115.1L464.1,115.1L463.0,115.1L462.0,115.0L460.9,114.9L459.8,114.8L458.8,114.7L458.3,114.7L457.8,114.6L456.7,114.6L455.6,114.5L454.5,114.4L453.4,114.3L452.3,114.3L451.2,114.2L450.0,114.2L448.8,114.2L447.6,114.3L446.4,114.3L445.2,114.4L444.0,114.5L442.7,114.5L441.5,114.6L440.5,114.7L440.3,114.7L439.0,114.8L437.8,114.9L436.6,114.9L435.4,115.0L434.2,115.0L433.0,115.1L431.8,115.1L430.7,115.1L429.5,115.1L428.4,115.1L427.3,115.0L426.1,115.0L425.0,114.9L423.9,114.9L422.8,114.8L421.7,114.7L421.5,114.7L420.6,114.6L419.4,114.5L418.3,114.5L417.2,114.4L416.1,114.3L414.9,114.2L413.8,114.1L412.7,114.0L411.5,114.0L410.4,113.9L409.2,113.8L408.0,113.8L406.9,113.8L405.7,113.7L404.5,113.7L403.4,113.7L402.2,113.7L401.0,113.7L399.8,113.7L398.6,113.7L397.5,113.7L396.3,113.7L395.1,113.7L393.9,113.7L392.8,113.7L391.6,113.7L390.4,113.7L389.2,113.7L388.0,113.7L386.9,113.7L385.7,113.7L384.5,113.7L383.3,113.7L382.1,113.7L381.0,113.7L379.8,113.7L378.6,113.8L377.4,113.8L376.3,113.8L375.1,113.8L373.9,113.9L372.7,113.9L371.6,113.9L370.4,113.9L369.2,114.0L368.1,114.0L366.9,114.0L365.7,114.0L364.5,114.0L363.4,114.0L362.2,114.0L361.0,114.1L359.9,114.1L358.7,114.1L357.6,114.1L356.4,114.2L355.2,114.2L354.1,114.2L352.9,114.3L351.8,114.3L350.7,114.4L349.5,114.4L348.4,114.5L347.3,114.5L346.1,114.6L345.0,114.7L344.6,114.7L343.9,114.7L342.8,114.8L341.7,114.9L340.6,114.9L339.5,115.0L338.4,115.0L337.2,115.1L336.1,115.1L335.0,115.2L333.9,115.2L332.8,115.2L331.6,115.3L330.5,115.3L329.4,115.3L328.2,115.3L327.1,115.3L325.9,115.3L324.8,115.3L323.6,115.3L322.4,115.3L321.3,115.2L320.1,115.2L318.9,115.2L317.7,115.2L316.6,115.2L315.4,115.1L314.2,115.1L313.0,115.1L311.9,115.1L310.7,115.1L309.6,115.1L308.4,115.1L307.3,115.1L306.1,115.1L305.0,115.1L303.9,115.1L305.3,116.2L307.5,117.7L307.8,117.9ZM288.5,98.6L289.9,98.7L291.3,98.8L292.8,98.9L294.2,98.9L295.6,99.0L297.0,99.1L298.4,99.1L299.8,99.1L301.2,99.1L302.6,99.1L304.0,99.1L305.3,99.1L306.7,99.0L308.1,99.0L309.4,99.0L310.8,98.9L312.1,98.8L313.5,98.8L314.8,98.7L316.2,98.7L317.5,98.6L318.9,98.5L320.3,98.5L321.6,98.4L323.0,98.4L324.3,98.3L325.7,98.3L327.1,98.2L328.4,98.2L328.5,98.2L329.9,98.2L331.2,98.2L332.1,98.2L332.6,98.2L334.0,98.2L335.4,98.3L336.9,98.3L338.3,98.4L339.7,98.5L341.1,98.6L342.5,98.7L343.9,98.7L345.3,98.8L346.7,98.9L348.1,99.0L349.5,99.1L350.9,99.1L352.3,99.2L353.7,99.3L355.1,99.3L356.5,99.4L357.9,99.4L359.3,99.5L360.7,99.6L362.1,99.6L363.5,99.7L364.8,99.7L366.2,99.7L367.6,99.8L369.0,99.8L370.4,99.8L371.7,99.8L373.1,99.8L374.5,99.8L375.8,99.7L377.2,99.7L378.6,99.7L380.0,99.6L381.3,99.6L382.7,99.5L384.1,99.5L385.5,99.4L386.9,99.4L388.2,99.4L389.6,99.4L391.0,99.3L392.4,99.3L393.7,99.3L395.1,99.3L396.5,99.3L397.9,99.3L399.3,99.3L400.6,99.3L402.0,99.3L403.4,99.3L404.8,99.3L406.2,99.3L407.5,99.3L408.9,99.3L410.3,99.3L411.7,99.3L413.1,99.3L414.4,99.3L415.8,99.3L417.2,99.3L418.6,99.3L420.0,99.3L421.3,99.3L422.7,99.3L424.1,99.3L425.5,99.3L426.8,99.3L428.2,99.3L429.6,99.3L431.0,99.3L432.4,99.3L433.7,99.3L435.1,99.3L436.5,99.3L437.9,99.3L439.3,99.3L440.6,99.3L442.0,99.3L443.4,99.3L444.8,99.3L446.2,99.3L447.5,99.3L448.9,99.3L450.3,99.3L451.7,99.3L453.1,99.3L454.4,99.3L455.8,99.3L457.2,99.3L458.6,99.3L460.0,99.2L461.4,99.2L462.8,99.1L464.2,99.1L465.7,99.0L467.1,98.9L468.5,98.8L470.0,98.7L471.4,98.6L472.8,98.5L474.3,98.5L475.7,98.4L477.1,98.4L478.5,98.4L479.9,98.4L481.3,98.4L482.6,98.4L484.0,98.4L485.3,98.5L486.7,98.6L486.9,98.2L487.8,96.8L486.5,96.7L485.1,96.6L483.8,96.6L482.6,96.5L482.4,96.5L481.0,96.4L479.6,96.4L478.2,96.4L476.8,96.3L475.4,96.4L474.0,96.4L472.6,96.4L471.2,96.4L469.8,96.3L468.4,96.3L467.0,96.3L465.7,96.2L464.3,96.1L462.9,96.0L461.6,95.9L460.2,95.8L458.9,95.6L457.5,95.5L456.1,95.4L454.7,95.3L453.4,95.2L452.0,95.2L450.6,95.2L449.1,95.1L447.7,95.1L446.3,95.1L444.9,95.2L443.5,95.2L442.0,95.2L440.6,95.2L439.2,95.2L437.8,95.2L436.4,95.3L434.9,95.3L433.5,95.3L432.1,95.3L430.7,95.3L429.3,95.3L427.9,95.3L426.5,95.3L425.0,95.3L423.6,95.3L422.2,95.3L420.8,95.2L419.4,95.2L418.0,95.2L416.6,95.2L415.2,95.2L413.7,95.1L412.3,95.1L410.9,95.1L409.5,95.1L408.1,95.1L406.7,95.0L405.3,95.0L403.9,95.0L402.4,95.0L401.0,95.0L399.6,95.0L398.2,95.0L396.8,95.0L395.3,95.0L393.9,95.1L392.5,95.1L391.1,95.2L389.7,95.3L388.3,95.4L386.9,95.5L385.4,95.7L384.0,95.9L382.6,96.2L381.2,96.4L380.7,96.5L379.8,96.6L378.4,96.8L377.0,96.9L375.7,97.1L374.3,97.2L372.9,97.3L371.5,97.3L370.1,97.3L368.7,97.3L367.3,97.3L365.9,97.2L364.5,97.1L363.0,96.9L361.6,96.8L360.2,96.6L359.4,96.5L358.7,96.4L357.3,96.2L355.8,95.9L354.4,95.7L352.9,95.5L351.5,95.4L350.1,95.2L348.6,95.1L347.2,95.1L345.8,95.0L344.3,95.0L342.9,94.9L341.5,94.9L340.1,94.9L338.6,94.9L337.2,94.9L335.8,94.9L334.4,94.8L333.0,94.8L331.6,94.9L330.1,94.9L328.7,94.9L327.3,94.9L325.9,95.0L324.5,95.0L323.1,95.1L321.8,95.2L320.4,95.3L319.0,95.4L317.6,95.6L316.3,95.7L314.9,95.8L313.6,96.0L312.2,96.1L310.9,96.3L309.6,96.5L309.2,96.5L308.2,96.6L306.9,96.7L305.5,96.8L304.2,96.9L302.8,97.0L301.5,97.1L300.1,97.2L298.7,97.2L297.4,97.3L296.0,97.3L294.6,97.2L293.1,97.2L291.7,97.1L290.3,97.1L288.8,97.0L287.4,96.9L285.9,96.8L286.8,98.2L287.0,98.6ZM425.3,81.2L426.8,81.3L428.3,81.5L429.7,81.6L431.2,81.7L432.7,81.8L434.1,81.9L435.6,82.0L437.1,82.1L438.5,82.1L440.0,82.2L441.5,82.2L443.0,82.3L444.4,82.3L445.9,82.3L447.4,82.3L448.9,82.2L450.4,82.1L451.9,81.9L453.4,81.7L454.9,81.4L456.0,81.1L456.4,81.0L457.9,80.5L459.5,79.6L459.8,79.4L460.9,77.6L460.3,75.9L459.8,75.4L458.9,74.2L458.4,73.7L457.2,72.5L456.9,72.2L455.4,70.8L455.4,70.8L453.8,69.2L453.6,69.1L452.3,67.7L451.7,67.4L450.8,65.6L452.0,64.7L453.2,63.9L453.4,63.8L454.8,63.1L456.2,62.3L456.4,62.2L457.5,61.2L458.3,60.5L458.6,59.1L458.7,58.8L458.5,58.5L457.4,57.1L456.7,56.6L455.1,55.9L453.6,55.4L453.5,55.3L452.0,54.9L450.5,54.6L449.0,54.4L447.5,54.3L446.0,54.2L444.6,54.1L443.2,54.1L441.7,54.2L440.3,54.3L438.9,54.4L437.5,54.6L436.1,54.9L434.7,55.3L434.5,55.4L433.3,55.7L431.9,56.3L430.6,57.0L430.4,57.1L429.2,58.1L428.6,58.8L428.4,60.5L429.3,62.2L429.7,62.9L430.4,63.9L429.8,64.4L428.4,65.4L427.9,65.6L426.9,65.8L425.4,66.1L424.0,66.4L422.5,66.7L421.0,67.2L420.4,67.4L419.5,67.5L418.1,67.8L416.6,68.2L415.1,68.8L414.4,69.1L413.6,69.3L412.2,70.0L410.7,70.8L410.7,70.8L409.2,72.0L408.7,72.5L407.9,74.2L408.3,75.9L409.2,76.9L409.9,77.6L410.6,78.1L412.1,78.8L413.6,79.3L413.6,79.4L415.0,79.8L416.5,80.1L418.0,80.4L419.4,80.6L420.9,80.8L422.4,80.9L423.8,81.1L424.1,81.1ZM438.8,81.1L438.6,81.1L437.2,81.0L435.7,81.0L434.2,80.9L432.7,80.8L431.3,80.7L429.8,80.5L428.3,80.4L426.9,80.2L425.4,80.1L423.9,79.8L422.4,79.6L421.5,79.4L421.0,79.2L419.5,78.9L418.0,78.4L416.6,77.8L416.2,77.6L415.1,76.8L414.1,75.9L413.7,74.3L413.6,74.2L413.7,74.2L414.7,72.5L415.2,72.1L416.6,71.2L417.5,70.8L418.1,70.5L419.6,70.0L421.1,69.5L422.6,69.2L423.3,69.1L424.0,68.9L425.5,68.5L427.0,68.3L428.5,68.0L430.0,67.8L431.4,67.7L432.9,67.5L434.4,67.4L435.6,67.4L435.9,67.3L437.4,67.2L438.9,67.1L440.3,67.1L441.8,67.1L443.3,67.3L443.5,67.4L444.8,67.5L446.3,67.7L447.8,68.0L449.3,68.5L450.5,69.1L450.8,69.2L452.4,69.9L453.5,70.8L453.9,71.0L455.4,72.3L455.6,72.5L456.9,73.9L457.2,74.2L458.1,75.9L457.6,77.6L456.6,78.4L455.1,79.2L454.7,79.4L453.6,79.8L452.0,80.2L450.5,80.5L449.0,80.7L447.5,80.9L446.1,81.0L444.6,81.1L444.1,81.1L443.1,81.1L441.6,81.1L440.1,81.1ZM327.5,79.7L329.0,80.0L330.5,80.1L332.0,80.1L333.5,79.8L334.9,79.4L334.9,79.3L336.4,78.4L337.2,77.6L337.5,75.9L336.2,74.6L335.8,74.2L334.7,73.7L333.2,73.2L331.7,72.9L330.2,72.7L328.7,72.7L327.2,72.8L325.8,73.0L324.3,73.4L322.8,74.2L322.8,74.2L321.8,75.9L322.9,77.6L323.0,77.6L324.5,78.5L326.0,79.2L326.4,79.4ZM358.7,79.5L360.2,79.9L361.7,80.3L363.2,80.5L364.6,80.7L366.1,80.9L367.6,81.0L369.1,81.0L370.6,81.1L372.1,81.0L373.5,81.0L375.0,80.8L376.5,80.7L378.0,80.4L379.4,80.1L380.9,79.7L382.1,79.4L382.4,79.3L383.9,78.8L385.4,78.2L386.4,77.6L386.9,77.4L388.3,76.5L389.2,75.9L389.8,75.4L391.1,74.2L391.3,73.9L392.4,72.5L392.8,71.3L393.0,70.8L392.9,69.1L392.8,69.0L391.7,67.4L391.3,67.1L389.8,65.9L389.5,65.6L388.3,65.0L386.9,64.1L386.6,63.9L385.4,63.2L383.9,62.4L383.6,62.2L382.4,61.6L381.0,61.0L379.7,60.5L379.5,60.4L378.0,60.1L376.6,59.8L375.1,59.6L373.7,59.5L372.2,59.4L370.7,59.3L369.3,59.2L367.8,59.2L366.3,59.2L364.9,59.2L363.4,59.2L361.9,59.2L360.5,59.2L359.0,59.3L357.5,59.4L356.1,59.5L354.6,59.7L353.1,60.0L351.6,60.3L350.8,60.5L350.1,60.8L348.6,61.5L347.2,62.2L347.0,62.4L345.6,63.9L345.4,64.5L344.9,65.6L344.9,67.4L345.2,68.6L345.3,69.1L346.1,70.8L346.6,71.6L347.2,72.5L348.1,73.5L348.8,74.2L349.6,74.9L351.0,75.9L351.1,76.0L352.7,77.0L354.0,77.6L354.2,77.7L355.7,78.5L357.2,79.0L358.4,79.4ZM363.0,75.9L363.0,75.9L361.5,75.5L360.0,74.9L358.5,74.2L358.5,74.2L357.1,73.4L355.8,72.5L355.6,72.3L354.1,71.0L353.8,70.8L352.6,69.3L352.5,69.1L351.6,67.4L351.5,65.6L352.3,63.9L352.8,63.5L354.4,62.5L354.9,62.2L355.9,61.9L357.4,61.6L358.9,61.3L360.4,61.2L361.8,61.1L363.3,61.1L364.8,61.1L366.2,61.2L367.7,61.3L369.2,61.3L370.6,61.5L372.1,61.6L373.6,61.8L375.0,62.1L375.4,62.2L376.5,62.5L378.0,63.0L379.5,63.6L380.1,63.9L380.9,64.4L382.4,65.4L382.8,65.6L383.9,66.8L384.4,67.4L385.0,69.1L384.7,70.8L383.9,72.1L383.6,72.5L382.4,73.5L381.4,74.2L380.9,74.5L379.4,75.2L377.9,75.7L377.1,75.9L376.4,76.1L374.9,76.4L373.5,76.7L372.0,76.8L370.5,76.9L369.0,76.8L367.5,76.7L366.0,76.6L364.5,76.3ZM308.2,65.8L309.6,66.6L311.1,67.0L312.6,67.1L314.1,67.0L315.6,66.7L317.1,66.1L317.7,65.6L317.8,63.9L317.3,63.7L315.9,63.2L314.5,63.0L313.0,62.9L311.5,63.1L310.0,63.5L308.7,63.9L308.3,64.9L308.0,65.6ZM287.7,47.5L289.1,47.6L290.4,47.7L291.8,47.8L293.1,47.8L294.5,47.9L295.9,47.9L297.3,47.9L298.7,47.9L300.1,47.9L301.5,47.9L302.9,47.9L304.3,47.9L305.7,47.8L307.1,47.8L308.5,47.8L309.9,47.7L311.4,47.7L312.8,47.7L314.2,47.6L315.6,47.6L317.0,47.5L318.5,47.4L319.9,47.3L321.3,47.2L322.8,47.1L324.2,47.0L325.7,46.9L326.3,46.8L327.1,46.7L328.6,46.5L330.0,46.4L331.5,46.2L332.9,46.0L334.4,45.8L335.8,45.6L337.3,45.5L338.7,45.3L340.1,45.2L341.5,45.2L342.8,45.3L344.2,45.5L345.5,45.7L346.8,45.9L348.1,46.2L349.4,46.3L350.8,46.5L352.1,46.6L353.5,46.7L354.9,46.7L356.3,46.7L357.7,46.7L359.1,46.7L360.5,46.7L361.8,46.7L363.2,46.8L364.6,46.8L364.6,46.8L366.0,46.8L367.4,46.9L368.8,46.9L370.2,47.0L371.5,47.0L372.9,47.0L374.3,46.9L375.7,46.9L377.1,46.8L377.6,46.8L378.5,46.7L379.9,46.6L381.3,46.5L382.7,46.3L384.1,46.0L385.5,45.8L386.9,45.4L387.9,45.1L388.2,45.0L389.6,44.5L390.9,43.9L391.8,43.4L392.3,43.1L393.6,42.2L394.2,41.7L394.8,41.1L395.9,40.0L396.0,39.8L397.2,38.5L397.4,38.3L398.4,37.5L399.3,36.7L399.5,36.6L400.7,35.9L401.8,35.1L401.9,35.1L402.9,34.5L404.0,33.9L404.6,33.5L405.1,33.2L406.1,32.6L407.1,32.0L407.3,31.9L408.1,31.5L409.2,31.0L410.2,30.6L411.2,30.3L411.2,30.3L412.3,30.1L413.4,29.9L414.5,29.8L415.6,29.7L416.7,29.6L417.8,29.6L418.9,29.5L420.1,29.5L421.2,29.5L422.3,29.4L423.5,29.4L424.6,29.4L425.8,29.4L426.9,29.4L428.0,29.4L429.2,29.4L430.3,29.4L431.5,29.4L432.6,29.4L433.8,29.4L434.9,29.4L436.0,29.4L437.2,29.4L438.3,29.4L439.5,29.4L440.6,29.4L441.8,29.4L442.9,29.4L444.1,29.5L445.3,29.5L446.4,29.5L447.7,29.6L448.9,29.7L450.3,29.9L451.7,30.2L452.3,30.3L454.1,31.3L454.9,31.9L456.4,33.5L457.8,35.1L459.4,36.7L461.3,38.3L462.6,39.3L463.7,40.0L465.1,40.9L466.6,41.7L467.2,42.0L469.2,42.9L470.4,43.4L471.1,43.7L472.9,44.4L474.6,44.9L475.3,45.1L476.3,45.4L478.0,45.8L479.6,46.2L481.2,46.5L482.7,46.8L482.9,46.8L484.3,47.0L485.8,47.2L487.3,47.3L486.9,46.8L485.7,45.1L485.2,44.3L483.5,44.0L481.8,43.5L481.3,43.4L480.1,43.1L478.4,42.6L476.7,42.2L475.2,41.7L474.9,41.6L473.2,41.1L471.3,40.4L470.3,40.0L469.4,39.6L467.2,38.5L466.9,38.3L464.4,36.7L463.3,35.6L462.7,35.1L462.6,34.9L461.6,33.5L461.4,32.5L461.3,31.9L461.3,31.5L461.7,30.8L462.4,30.4L462.7,30.3L463.2,30.1L464.2,29.9L465.3,29.9L466.6,30.1L468.1,30.3L468.2,30.3L469.5,30.5L470.9,30.7L470.5,30.3L468.4,28.8L466.2,27.3L464.0,25.9L461.6,24.4L459.1,23.1L456.3,21.8L453.5,20.6L452.6,20.6L451.7,20.6L450.8,20.6L449.8,20.6L448.9,20.6L448.0,20.6L447.1,20.6L446.2,20.6L445.2,20.6L444.3,20.6L443.4,20.6L442.5,20.6L441.5,20.6L440.6,20.6L439.7,20.6L438.7,20.6L437.8,20.6L436.9,20.6L436.0,20.6L435.0,20.6L434.1,20.6L433.2,20.6L432.3,20.6L431.3,20.6L430.4,20.6L429.5,20.6L428.6,20.6L427.6,20.6L426.7,20.6L425.8,20.6L424.8,20.6L423.9,20.6L423.0,20.6L422.1,20.6L421.1,20.6L420.2,20.6L419.3,20.6L418.4,20.6L417.4,20.6L416.5,20.6L415.6,20.6L414.7,20.6L413.7,20.6L412.8,20.6L411.9,20.6L410.9,20.6L410.0,20.6L409.1,20.6L408.1,20.6L408.1,20.6L407.2,20.5L406.3,20.5L405.3,20.5L404.4,20.5L403.5,20.5L402.5,20.5L401.6,20.4L400.7,20.4L399.7,20.4L398.8,20.3L397.9,20.3L396.9,20.3L396.0,20.3L395.1,20.2L394.2,20.2L393.2,20.2L392.3,20.2L391.4,20.2L390.5,20.2L389.6,20.2L388.7,20.2L387.8,20.2L386.9,20.2L385.9,20.2L385.0,20.3L384.1,20.3L383.2,20.3L382.3,20.3L381.3,20.4L380.4,20.4L379.5,20.4L378.5,20.4L377.6,20.5L376.7,20.5L375.8,20.5L374.8,20.5L373.9,20.5L373.0,20.5L372.0,20.5L371.1,20.5L370.2,20.5L369.3,20.5L368.4,20.5L367.4,20.5L366.5,20.5L365.6,20.5L364.7,20.5L363.8,20.5L362.9,20.4L362.0,20.4L361.1,20.4L360.1,20.4L359.2,20.4L358.3,20.4L357.4,20.4L356.5,20.3L355.6,20.3L354.7,20.3L353.8,20.3L352.9,20.3L352.0,20.3L351.1,20.3L350.2,20.3L349.3,20.2L348.4,20.2L347.5,20.2L346.6,20.2L345.7,20.2L344.7,20.3L343.8,20.3L342.9,20.3L341.9,20.3L341.0,20.3L340.1,20.3L339.1,20.3L338.2,20.3L337.2,20.3L336.3,20.4L335.3,20.4L334.4,20.4L333.4,20.4L332.5,20.4L331.5,20.4L330.6,20.4L329.6,20.5L328.7,20.5L327.7,20.5L326.8,20.5L325.8,20.5L324.9,20.5L323.9,20.5L323.0,20.5L322.1,20.5L321.1,20.5L320.6,20.6L320.2,20.6L317.4,21.8L314.6,23.1L312.1,24.4L309.7,25.9L307.5,27.3L305.3,28.8L303.2,30.3L302.8,30.7L303.8,30.8L304.8,30.9L306.0,30.9L307.3,30.8L308.6,30.7L309.9,30.5L311.3,30.3L311.5,30.3L312.9,30.0L314.5,29.6L316.0,29.3L317.5,29.0L318.9,28.8L319.0,28.7L321.7,27.4L321.9,27.3L323.7,25.9L325.2,25.5L326.7,25.2L328.1,24.9L329.5,24.7L330.8,24.4L330.8,24.4L331.9,24.4L333.1,24.3L334.2,24.2L335.3,24.1L336.4,24.1L337.5,24.0L338.6,24.0L339.7,24.0L340.7,23.9L341.8,23.9L342.8,23.9L343.8,23.9L344.8,24.0L345.8,24.0L346.8,24.0L347.7,24.1L348.7,24.2L349.7,24.2L350.6,24.3L351.6,24.4L351.7,24.4L352.4,24.7L353.1,25.1L353.8,25.7L354.0,25.9L353.5,26.0L351.9,26.8L351.0,27.3L350.2,27.7L348.6,28.5L348.0,28.8L346.4,30.3L345.9,31.9L346.0,32.5L346.1,33.5L346.2,34.3L346.8,35.1L346.9,35.4L348.1,35.5L349.4,35.2L350.0,35.1L350.8,34.9L352.2,34.6L353.6,34.3L354.9,34.0L356.3,33.8L357.6,33.6L358.8,33.5L358.8,33.5L360.2,33.2L361.4,33.0L362.7,32.8L364.0,32.6L365.3,32.3L366.5,32.1L367.8,32.0L368.4,31.9L369.0,31.7L370.3,31.5L371.5,31.3L372.7,31.1L374.0,30.9L375.2,30.7L376.4,30.5L377.1,30.3L377.6,29.9L378.6,28.8L378.1,27.3L378.1,27.1L377.6,25.9L378.4,25.2L379.6,24.5L379.6,24.4L380.7,24.2L381.7,24.0L382.8,23.8L383.8,23.6L384.8,23.5L385.8,23.4L386.9,23.3L387.9,23.2L388.9,23.1L389.9,23.1L390.9,23.1L391.9,23.1L392.9,23.1L393.9,23.2L394.9,23.3L395.9,23.4L397.0,23.5L398.1,23.7L399.1,23.9L400.2,24.1L401.3,24.3L401.9,24.4L402.6,25.0L403.5,25.9L403.1,26.3L402.5,27.3L402.3,27.4L401.4,28.1L400.6,28.8L400.5,28.9L399.5,29.6L398.5,30.3L398.4,30.3L397.4,30.8L396.3,31.4L395.2,31.9L395.2,31.9L394.0,32.4L392.9,32.9L391.7,33.4L391.7,33.5L390.5,34.4L390.0,35.1L389.4,36.3L389.3,36.7L388.6,38.3L388.2,39.0L387.4,40.0L386.9,40.5L385.5,41.5L385.2,41.7L384.2,42.2L382.8,42.8L381.4,43.2L381.0,43.4L380.1,43.6L378.7,43.9L377.3,44.2L375.9,44.3L374.6,44.5L373.2,44.5L371.8,44.6L370.4,44.6L369.1,44.5L367.7,44.5L366.4,44.4L365.0,44.4L363.6,44.3L362.3,44.3L360.9,44.3L359.5,44.4L358.2,44.4L356.8,44.4L355.4,44.4L354.1,44.3L352.8,44.1L351.5,43.8L350.3,43.4L350.3,43.4L349.1,42.8L348.0,42.0L347.6,41.7L347.1,40.8L346.4,40.0L346.3,39.4L345.5,38.3L345.6,38.1L344.6,37.5L343.1,37.8L341.8,38.3L341.6,38.4L340.1,38.8L338.5,39.4L336.9,40.0L336.8,40.0L335.3,40.5L333.7,41.1L332.1,41.7L332.1,41.7L330.5,42.2L328.9,42.8L327.3,43.2L326.8,43.4L325.7,43.7L324.2,44.0L322.7,44.3L321.2,44.6L319.7,44.8L318.2,45.0L317.5,45.1L316.8,45.2L315.3,45.3L313.9,45.4L312.5,45.5L311.0,45.6L309.6,45.7L308.2,45.8L306.8,45.9L305.3,45.9L303.9,46.0L302.5,46.0L301.2,46.0L299.8,46.0L298.4,45.9L297.1,45.9L295.8,45.8L294.5,45.6L293.2,45.5L292.0,45.3L291.1,45.1L290.8,45.0L289.6,44.7L288.5,44.3L288.0,45.1L286.8,46.8L286.4,47.3Z" fill="#fbe9ce"/><path d="M305.0,115.1L306.1,115.1L307.3,115.1L308.4,115.1L309.6,115.1L310.7,115.1L311.9,115.1L313.0,115.1L314.2,115.1L315.4,115.1L316.6,115.2L317.7,115.2L318.9,115.2L320.1,115.2L321.3,115.2L322.4,115.3L323.6,115.3L324.8,115.3L325.9,115.3L327.1,115.3L328.2,115.3L329.4,115.3L330.5,115.3L331.6,115.3L332.8,115.2L333.9,115.2L335.0,115.2L336.1,115.1L337.2,115.1L338.4,115.0L339.5,115.0L340.6,114.9L341.7,114.9L342.8,114.8L343.9,114.7L344.6,114.7L345.0,114.7L346.1,114.6L347.3,114.5L348.4,114.5L349.5,114.4L350.7,114.4L351.8,114.3L352.9,114.3L354.1,114.2L355.2,114.2L356.4,114.2L357.6,114.1L358.7,114.1L359.9,114.1L361.0,114.1L362.2,114.0L363.4,114.0L364.5,114.0L365.7,114.0L366.9,114.0L368.1,114.0L369.2,114.0L370.4,113.9L371.6,113.9L372.7,113.9L373.9,113.9L375.1,113.8L376.3,113.8L377.4,113.8L378.6,113.8L379.8,113.7L381.0,113.7L382.1,113.7L383.3,113.7L384.5,113.7L385.7,113.7L386.9,113.7L388.0,113.7L389.2,113.7L390.4,113.7L391.6,113.7L392.8,113.7L393.9,113.7L395.1,113.7L396.3,113.7L397.5,113.7L398.6,113.7L399.8,113.7L401.0,113.7L402.2,113.7L403.4,113.7L404.5,113.7L405.7,113.7L406.9,113.8L408.0,113.8L409.2,113.8L410.4,113.9L411.5,114.0L412.7,114.0L413.8,114.1L414.9,114.2L416.1,114.3L417.2,114.4L418.3,114.5L419.4,114.5L420.6,114.6L421.5,114.7L421.7,114.7L422.8,114.8L423.9,114.9L425.0,114.9L426.1,115.0L427.3,115.0L428.4,115.1L429.5,115.1L430.7,115.1L431.8,115.1L433.0,115.1L434.2,115.0L435.4,115.0L436.6,114.9L437.8,114.9L439.0,114.8L440.3,114.7L440.5,114.7L441.5,114.6L442.7,114.5L444.0,114.5L445.2,114.4L446.4,114.3L447.6,114.3L448.8,114.2L450.0,114.2L451.2,114.2L452.3,114.3L453.4,114.3L454.5,114.4L455.6,114.5L456.7,114.6L457.8,114.6L458.3,114.7L458.8,114.7L459.8,114.8L460.9,114.9L462.0,115.0L463.0,115.1L464.1,115.1L465.3,115.1L466.4,115.1L467.5,115.1L468.7,115.1L469.8,115.1L470.5,114.7L471.8,113.7L470.6,113.7L469.5,113.7L468.3,113.6L467.2,113.6L466.0,113.6L464.9,113.5L463.9,113.4L462.8,113.3L461.8,113.1L461.7,113.1L460.8,113.0L459.7,112.9L458.7,112.7L457.7,112.5L456.7,112.3L455.6,112.2L454.6,112.0L453.4,111.9L452.3,111.9L451.0,111.9L449.8,112.0L448.4,112.1L447.1,112.3L445.7,112.4L444.4,112.6L443.0,112.8L441.7,113.0L440.4,113.1L440.4,113.1L439.1,113.3L437.8,113.4L436.6,113.5L435.3,113.5L434.1,113.6L432.9,113.6L431.7,113.6L430.5,113.6L429.4,113.6L428.2,113.5L427.1,113.5L426.0,113.4L424.9,113.3L423.8,113.1L423.7,113.1L422.6,113.0L421.5,112.8L420.4,112.6L419.3,112.4L418.2,112.2L417.1,112.0L416.0,111.8L414.8,111.6L414.6,111.5L413.7,111.3L412.6,111.2L411.4,111.0L410.2,110.9L409.0,110.8L407.8,110.7L406.6,110.6L405.4,110.6L404.1,110.5L402.9,110.5L401.7,110.5L400.4,110.5L399.2,110.5L398.0,110.5L396.7,110.5L395.5,110.5L394.3,110.5L393.0,110.5L391.8,110.5L390.6,110.5L389.3,110.5L388.1,110.5L386.9,110.6L385.6,110.6L384.4,110.7L383.2,110.7L381.9,110.8L380.7,110.9L379.5,110.9L378.3,111.0L377.1,111.1L375.8,111.2L374.6,111.3L373.4,111.4L372.2,111.5L371.7,111.5L371.0,111.6L369.8,111.7L368.6,111.7L367.4,111.8L366.2,111.8L365.0,111.8L363.8,111.9L362.6,111.9L361.4,111.9L360.2,111.9L359.0,111.9L357.8,111.9L356.6,111.9L355.4,112.0L354.2,112.0L353.0,112.1L351.9,112.2L350.7,112.3L349.5,112.4L348.4,112.5L347.3,112.6L346.1,112.7L345.0,112.8L343.9,112.9L342.7,113.0L341.6,113.1L341.4,113.1L340.5,113.2L339.4,113.3L338.3,113.4L337.1,113.5L336.0,113.5L334.9,113.6L333.7,113.7L332.6,113.7L331.5,113.8L330.3,113.8L329.2,113.8L328.0,113.8L326.8,113.8L325.7,113.8L324.5,113.8L323.3,113.8L322.1,113.8L320.9,113.8L319.7,113.8L318.5,113.7L317.3,113.7L316.1,113.7L314.9,113.7L313.6,113.6L312.4,113.6L311.2,113.6L310.0,113.6L308.9,113.6L307.7,113.6L306.5,113.6L305.3,113.6L304.2,113.6L303.0,113.6L301.9,113.7L303.2,114.7L303.9,115.1ZM350.3,101.7L351.7,101.9L353.1,102.0L354.4,102.0L355.8,102.1L357.2,102.1L358.5,102.2L359.9,102.2L361.2,102.2L362.6,102.2L363.9,102.3L365.3,102.3L366.6,102.3L368.0,102.4L369.4,102.4L370.7,102.5L372.1,102.5L373.4,102.5L374.8,102.6L376.1,102.6L377.4,102.6L378.8,102.6L380.1,102.7L381.5,102.7L382.8,102.7L384.2,102.7L385.5,102.7L386.9,102.7L388.2,102.7L389.5,102.7L390.9,102.7L392.2,102.7L393.6,102.7L394.9,102.7L396.2,102.7L397.6,102.7L398.9,102.7L400.3,102.7L401.6,102.7L403.0,102.7L404.3,102.7L405.6,102.7L407.0,102.7L408.3,102.7L409.7,102.7L411.0,102.7L412.4,102.7L413.7,102.7L415.0,102.7L416.4,102.7L417.7,102.7L419.1,102.7L420.4,102.7L421.8,102.7L423.1,102.7L424.4,102.7L425.8,102.7L427.1,102.7L428.5,102.7L429.8,102.7L431.2,102.6L432.5,102.6L433.9,102.6L435.2,102.6L436.6,102.6L437.9,102.6L439.2,102.6L440.6,102.6L441.9,102.6L443.3,102.6L444.6,102.6L446.0,102.6L447.3,102.6L448.6,102.6L450.0,102.6L451.4,102.6L452.7,102.6L454.1,102.5L455.5,102.4L456.9,102.3L458.4,102.1L459.8,101.9L461.3,101.7L462.1,101.6L462.8,101.5L464.3,101.3L465.8,101.1L467.3,100.8L468.8,100.6L470.3,100.4L471.8,100.3L473.2,100.1L474.7,100.0L476.1,99.9L476.5,99.9L477.5,99.9L478.9,99.8L480.3,99.8L481.7,99.8L483.0,99.9L484.3,99.9L484.4,99.9L485.7,100.0L485.7,99.9L486.7,98.6L485.3,98.5L484.0,98.4L482.6,98.4L481.3,98.4L479.9,98.4L478.5,98.4L477.1,98.4L475.7,98.4L474.3,98.5L472.8,98.5L471.4,98.6L470.0,98.7L468.5,98.8L467.1,98.9L465.7,99.0L464.2,99.1L462.8,99.1L461.4,99.2L460.0,99.2L458.6,99.3L457.2,99.3L455.8,99.3L454.4,99.3L453.1,99.3L451.7,99.3L450.3,99.3L448.9,99.3L447.5,99.3L446.2,99.3L444.8,99.3L443.4,99.3L442.0,99.3L440.6,99.3L439.3,99.3L437.9,99.3L436.5,99.3L435.1,99.3L433.7,99.3L432.4,99.3L431.0,99.3L429.6,99.3L428.2,99.3L426.8,99.3L425.5,99.3L424.1,99.3L422.7,99.3L421.3,99.3L420.0,99.3L418.6,99.3L417.2,99.3L415.8,99.3L414.4,99.3L413.1,99.3L411.7,99.3L410.3,99.3L408.9,99.3L407.5,99.3L406.2,99.3L404.8,99.3L403.4,99.3L402.0,99.3L400.6,99.3L399.3,99.3L397.9,99.3L396.5,99.3L395.1,99.3L393.7,99.3L392.4,99.3L391.0,99.3L389.6,99.4L388.2,99.4L386.9,99.4L385.5,99.4L384.1,99.5L382.7,99.5L381.3,99.6L380.0,99.6L378.6,99.7L377.2,99.7L375.8,99.7L374.5,99.8L373.1,99.8L371.7,99.8L370.4,99.8L369.0,99.8L367.6,99.8L366.2,99.7L364.8,99.7L363.5,99.7L362.1,99.6L360.7,99.6L359.3,99.5L357.9,99.4L356.5,99.4L355.1,99.3L353.7,99.3L352.3,99.2L350.9,99.1L349.5,99.1L348.1,99.0L346.7,98.9L345.3,98.8L343.9,98.7L342.5,98.7L341.1,98.6L339.7,98.5L338.3,98.4L336.9,98.3L335.4,98.3L334.0,98.2L332.6,98.2L332.1,98.2L331.2,98.2L329.9,98.2L328.5,98.2L328.4,98.2L327.1,98.2L325.7,98.3L324.3,98.3L323.0,98.4L321.6,98.4L320.3,98.5L318.9,98.5L317.5,98.6L316.2,98.7L314.8,98.7L313.5,98.8L312.1,98.8L310.8,98.9L309.4,99.0L308.1,99.0L306.7,99.0L305.3,99.1L304.0,99.1L302.6,99.1L301.2,99.1L299.8,99.1L298.4,99.1L297.0,99.1L295.6,99.0L294.2,98.9L292.8,98.9L291.3,98.8L289.9,98.7L288.5,98.6L287.0,98.6L288.0,99.9L288.0,100.0L289.4,100.0L290.9,100.1L292.3,100.2L293.7,100.3L295.2,100.4L296.6,100.4L298.0,100.5L299.4,100.6L300.8,100.6L302.2,100.7L303.6,100.7L305.0,100.7L306.3,100.7L307.7,100.7L309.1,100.7L310.4,100.7L311.8,100.7L313.1,100.6L314.4,100.6L315.8,100.5L317.1,100.5L318.4,100.4L319.8,100.4L321.1,100.3L322.4,100.2L323.8,100.1L325.1,100.1L326.5,100.0L327.8,100.0L329.2,99.9L330.5,99.9L331.9,100.0L333.3,100.0L334.7,100.0L336.1,100.1L337.5,100.2L338.9,100.4L340.4,100.5L341.8,100.7L343.2,100.9L344.7,101.1L346.1,101.3L347.5,101.4L348.9,101.6L349.0,101.6ZM440.1,81.1L441.6,81.1L443.1,81.1L444.1,81.1L444.6,81.1L446.1,81.0L447.5,80.9L449.0,80.7L450.5,80.5L452.0,80.2L453.6,79.8L454.7,79.4L455.1,79.2L456.6,78.4L457.6,77.6L458.1,75.9L457.2,74.2L456.9,73.9L455.6,72.5L455.4,72.3L453.9,71.0L453.5,70.8L452.4,69.9L450.8,69.2L450.5,69.1L449.3,68.5L447.8,68.0L446.3,67.7L444.8,67.5L443.5,67.4L443.3,67.3L441.8,67.1L440.3,67.1L438.9,67.1L437.4,67.2L435.9,67.3L435.6,67.4L434.4,67.4L432.9,67.5L431.4,67.7L430.0,67.8L428.5,68.0L427.0,68.3L425.5,68.5L424.0,68.9L423.3,69.1L422.6,69.2L421.1,69.5L419.6,70.0L418.1,70.5L417.5,70.8L416.6,71.2L415.2,72.1L414.7,72.5L413.7,74.2L413.6,74.2L413.7,74.3L414.1,75.9L415.1,76.8L416.2,77.6L416.6,77.8L418.0,78.4L419.5,78.9L421.0,79.2L421.5,79.4L422.4,79.6L423.9,79.8L425.4,80.1L426.9,80.2L428.3,80.4L429.8,80.5L431.3,80.7L432.7,80.8L434.2,80.9L435.7,81.0L437.2,81.0L438.6,81.1L438.8,81.1ZM427.7,79.4L426.9,79.2L425.4,79.0L424.0,78.7L422.5,78.3L421.0,77.9L420.4,77.6L419.6,77.2L418.1,76.3L417.6,75.9L417.0,74.2L418.1,72.8L418.4,72.5L419.6,71.8L421.1,71.2L422.1,70.8L422.6,70.6L424.1,70.2L425.6,69.9L427.0,69.6L428.5,69.4L430.0,69.2L430.8,69.1L431.5,69.0L433.0,68.8L434.5,68.6L435.9,68.5L437.4,68.4L438.9,68.4L440.4,68.4L441.9,68.4L443.4,68.6L444.9,68.8L446.3,69.1L446.4,69.1L447.9,69.4L449.4,69.8L450.9,70.5L451.4,70.8L452.4,71.3L453.9,72.4L454.0,72.5L455.4,74.0L455.6,74.2L456.0,75.9L455.2,77.1L454.7,77.6L453.7,78.2L452.2,78.8L450.6,79.3L450.3,79.4L449.1,79.6L447.6,79.9L446.1,80.1L444.6,80.2L443.1,80.3L441.7,80.3L440.2,80.3L438.7,80.3L437.2,80.3L435.7,80.2L434.3,80.1L432.8,80.0L431.3,79.8L429.9,79.7L428.4,79.5ZM364.5,76.3L366.0,76.6L367.5,76.7L369.0,76.8L370.5,76.9L372.0,76.8L373.5,76.7L374.9,76.4L376.4,76.1L377.1,75.9L377.9,75.7L379.4,75.2L380.9,74.5L381.4,74.2L382.4,73.5L383.6,72.5L383.9,72.1L384.7,70.8L385.0,69.1L384.4,67.4L383.9,66.8L382.8,65.6L382.4,65.4L380.9,64.4L380.1,63.9L379.5,63.6L378.0,63.0L376.5,62.5L375.4,62.2L375.0,62.1L373.6,61.8L372.1,61.6L370.6,61.5L369.2,61.3L367.7,61.3L366.2,61.2L364.8,61.1L363.3,61.1L361.8,61.1L360.4,61.2L358.9,61.3L357.4,61.6L355.9,61.9L354.9,62.2L354.4,62.5L352.8,63.5L352.3,63.9L351.5,65.6L351.6,67.4L352.5,69.1L352.6,69.3L353.8,70.8L354.1,71.0L355.6,72.3L355.8,72.5L357.1,73.4L358.5,74.2L358.5,74.2L360.0,74.9L361.5,75.5L363.0,75.9L363.0,75.9ZM363.4,72.5L363.0,72.3L361.5,71.6L360.2,70.8L360.0,70.6L358.6,69.3L358.3,69.1L357.2,67.4L357.3,65.6L358.7,64.6L360.1,63.9L360.2,63.9L361.7,63.7L363.2,63.6L364.7,63.6L366.1,63.6L367.6,63.7L369.1,63.8L369.9,63.9L370.6,64.0L372.0,64.3L373.5,64.7L375.0,65.2L376.1,65.6L376.5,65.9L377.9,67.0L378.3,67.4L379.0,69.1L378.4,70.8L377.9,71.2L376.4,72.3L376.1,72.5L374.9,72.9L373.4,73.3L372.0,73.6L370.5,73.7L369.0,73.7L367.5,73.5L366.0,73.3L364.5,72.9ZM292.0,45.3L293.2,45.5L294.5,45.6L295.8,45.8L297.1,45.9L298.4,45.9L299.8,46.0L301.2,46.0L302.5,46.0L303.9,46.0L305.3,45.9L306.8,45.9L308.2,45.8L309.6,45.7L311.0,45.6L312.5,45.5L313.9,45.4L315.3,45.3L316.8,45.2L317.5,45.1L318.2,45.0L319.7,44.8L321.2,44.6L322.7,44.3L324.2,44.0L325.7,43.7L326.8,43.4L327.3,43.2L328.9,42.8L330.5,42.2L332.1,41.7L332.1,41.7L333.7,41.1L335.3,40.5L336.8,40.0L336.9,40.0L338.5,39.4L340.1,38.8L341.6,38.4L341.8,38.3L343.1,37.8L344.6,37.5L345.6,38.1L345.5,38.3L346.3,39.4L346.4,40.0L347.1,40.8L347.6,41.7L348.0,42.0L349.1,42.8L350.3,43.4L350.3,43.4L351.5,43.8L352.8,44.1L354.1,44.3L355.4,44.4L356.8,44.4L358.2,44.4L359.5,44.4L360.9,44.3L362.3,44.3L363.6,44.3L365.0,44.4L366.4,44.4L367.7,44.5L369.1,44.5L370.4,44.6L371.8,44.6L373.2,44.5L374.6,44.5L375.9,44.3L377.3,44.2L378.7,43.9L380.1,43.6L381.0,43.4L381.4,43.2L382.8,42.8L384.2,42.2L385.2,41.7L385.5,41.5L386.9,40.5L387.4,40.0L388.2,39.0L388.6,38.3L389.3,36.7L389.4,36.3L390.0,35.1L390.5,34.4L391.7,33.5L391.7,33.4L392.9,32.9L394.0,32.4L395.2,31.9L395.2,31.9L396.3,31.4L397.4,30.8L398.4,30.3L398.5,30.3L399.5,29.6L400.5,28.9L400.6,28.8L401.4,28.1L402.3,27.4L402.5,27.3L403.1,26.3L403.5,25.9L402.6,25.0L401.9,24.4L401.3,24.3L400.2,24.1L399.1,23.9L398.1,23.7L397.0,23.5L395.9,23.4L394.9,23.3L393.9,23.2L392.9,23.1L391.9,23.1L390.9,23.1L389.9,23.1L388.9,23.1L387.9,23.2L386.9,23.3L385.8,23.4L384.8,23.5L383.8,23.6L382.8,23.8L381.7,24.0L380.7,24.2L379.6,24.4L379.6,24.5L378.4,25.2L377.6,25.9L378.1,27.1L378.1,27.3L378.6,28.8L377.6,29.9L377.1,30.3L376.4,30.5L375.2,30.7L374.0,30.9L372.7,31.1L371.5,31.3L370.3,31.5L369.0,31.7L368.4,31.9L367.8,32.0L366.5,32.1L365.3,32.3L364.0,32.6L362.7,32.8L361.4,33.0L360.2,33.2L358.8,33.5L358.8,33.5L357.6,33.6L356.3,33.8L354.9,34.0L353.6,34.3L352.2,34.6L350.8,34.9L350.0,35.1L349.4,35.2L348.1,35.5L346.9,35.4L346.8,35.1L346.2,34.3L346.1,33.5L346.0,32.5L345.9,31.9L346.4,30.3L348.0,28.8L348.6,28.5L350.2,27.7L351.0,27.3L351.9,26.8L353.5,26.0L354.0,25.9L353.8,25.7L353.1,25.1L352.4,24.7L351.7,24.4L351.6,24.4L350.6,24.3L349.7,24.2L348.7,24.2L347.7,24.1L346.8,24.0L345.8,24.0L344.8,24.0L343.8,23.9L342.8,23.9L341.8,23.9L340.7,23.9L339.7,24.0L338.6,24.0L337.5,24.0L336.4,24.1L335.3,24.1L334.2,24.2L333.1,24.3L331.9,24.4L330.8,24.4L330.8,24.4L329.5,24.7L328.1,24.9L326.7,25.2L325.2,25.5L323.7,25.9L321.9,27.3L321.7,27.4L319.0,28.7L318.9,28.8L317.5,29.0L316.0,29.3L314.5,29.6L312.9,30.0L311.5,30.3L311.3,30.3L309.9,30.5L308.6,30.7L307.3,30.8L306.0,30.9L304.8,30.9L303.8,30.8L302.8,30.7L301.2,31.9L299.2,33.5L298.6,34.0L299.6,34.1L300.8,34.2L302.1,34.1L303.4,34.0L304.8,33.9L306.2,33.7L307.6,33.5L308.1,33.5L309.0,33.3L310.4,33.2L311.8,33.1L313.1,33.0L314.4,32.9L315.6,32.8L316.9,32.8L318.1,32.8L319.3,32.8L320.5,32.8L321.7,32.8L322.9,32.9L324.0,32.9L325.2,33.0L326.3,33.1L327.4,33.2L328.4,33.5L328.4,33.5L329.4,33.7L330.4,34.1L331.2,34.6L331.6,35.1L331.8,35.6L331.8,36.7L330.5,38.3L329.6,39.0L328.2,40.0L327.5,40.3L325.7,41.1L324.4,41.7L324.0,41.8L322.4,42.2L320.9,42.6L319.4,42.9L317.9,43.1L316.5,43.3L315.2,43.4L315.0,43.4L313.6,43.5L312.2,43.6L310.8,43.7L309.4,43.8L308.0,43.9L306.6,43.9L305.2,44.0L303.8,44.0L302.4,44.0L301.1,44.0L299.8,43.9L298.5,43.8L297.3,43.6L296.1,43.4L296.1,43.4L295.0,43.0L293.9,42.7L292.9,42.2L292.0,41.8L291.8,41.7L291.1,41.2L290.7,41.7L289.3,43.4L288.5,44.3L289.6,44.7L290.8,45.0L291.1,45.1ZM353.3,41.7L352.4,40.8L351.9,40.0L352.8,38.3L353.4,38.0L354.9,37.2L356.3,36.7L356.4,36.7L357.8,36.4L359.1,36.1L360.4,35.9L361.8,35.7L363.1,35.5L364.4,35.2L365.0,35.1L365.7,34.9L367.0,34.7L368.3,34.4L369.6,34.2L370.9,34.1L372.1,34.0L373.4,33.9L374.6,33.9L375.8,33.9L377.0,34.0L378.2,34.2L379.4,34.4L380.6,34.8L381.2,35.1L381.8,35.6L382.8,36.7L382.8,38.3L381.6,39.9L381.5,40.0L380.2,40.7L378.9,41.3L377.6,41.7L377.5,41.7L376.1,42.0L374.8,42.2L373.4,42.3L372.1,42.4L370.7,42.4L369.4,42.4L368.1,42.3L366.7,42.2L365.4,42.1L364.1,42.0L362.7,42.0L361.4,42.1L360.0,42.2L358.7,42.3L357.3,42.3L356.0,42.3L354.7,42.1L353.4,41.7ZM481.8,43.5L483.5,44.0L485.2,44.3L484.4,43.4L483.0,41.7L482.6,41.2L480.8,40.7L479.1,40.3L478.1,40.0L477.4,39.8L475.7,39.4L474.0,39.0L472.3,38.4L472.0,38.3L470.1,37.5L468.6,36.7L466.7,35.1L466.5,34.0L466.8,33.5L467.1,33.3L468.0,33.1L469.2,33.1L470.6,33.2L472.0,33.4L472.3,33.5L473.6,33.7L475.1,34.0L474.5,33.5L472.5,31.9L470.9,30.7L469.5,30.5L468.2,30.3L468.1,30.3L466.6,30.1L465.3,29.9L464.2,29.9L463.2,30.1L462.7,30.3L462.4,30.4L461.7,30.8L461.3,31.5L461.3,31.9L461.4,32.5L461.6,33.5L462.6,34.9L462.7,35.1L463.3,35.6L464.4,36.7L466.9,38.3L467.2,38.5L469.4,39.6L470.3,40.0L471.3,40.4L473.2,41.1L474.9,41.6L475.2,41.7L476.7,42.2L478.4,42.6L480.1,43.1L481.3,43.4Z" fill="#fed6a1"/><path d="M303.0,113.6L304.2,113.6L305.3,113.6L306.5,113.6L307.7,113.6L308.9,113.6L310.0,113.6L311.2,113.6L312.4,113.6L313.6,113.6L314.9,113.7L316.1,113.7L317.3,113.7L318.5,113.7L319.7,113.8L320.9,113.8L322.1,113.8L323.3,113.8L324.5,113.8L325.7,113.8L326.8,113.8L328.0,113.8L329.2,113.8L330.3,113.8L331.5,113.8L332.6,113.7L333.7,113.7L334.9,113.6L336.0,113.5L337.1,113.5L338.3,113.4L339.4,113.3L340.5,113.2L341.4,113.1L341.6,113.1L342.7,113.0L343.9,112.9L345.0,112.8L346.1,112.7L347.3,112.6L348.4,112.5L349.5,112.4L350.7,112.3L351.9,112.2L353.0,112.1L354.2,112.0L355.4,112.0L356.6,111.9L357.8,111.9L359.0,111.9L360.2,111.9L361.4,111.9L362.6,111.9L363.8,111.9L365.0,111.8L366.2,111.8L367.4,111.8L368.6,111.7L369.8,111.7L371.0,111.6L371.7,111.5L372.2,111.5L373.4,111.4L374.6,111.3L375.8,111.2L377.1,111.1L378.3,111.0L379.5,110.9L380.7,110.9L381.9,110.8L383.2,110.7L384.4,110.7L385.6,110.6L386.9,110.6L388.1,110.5L389.3,110.5L390.6,110.5L391.8,110.5L393.0,110.5L394.3,110.5L395.5,110.5L396.7,110.5L398.0,110.5L399.2,110.5L400.4,110.5L401.7,110.5L402.9,110.5L404.1,110.5L405.4,110.6L406.6,110.6L407.8,110.7L409.0,110.8L410.2,110.9L411.4,111.0L412.6,111.2L413.7,111.3L414.6,111.5L414.8,111.6L416.0,111.8L417.1,112.0L418.2,112.2L419.3,112.4L420.4,112.6L421.5,112.8L422.6,113.0L423.7,113.1L423.8,113.1L424.9,113.3L426.0,113.4L427.1,113.5L428.2,113.5L429.4,113.6L430.5,113.6L431.7,113.6L432.9,113.6L434.1,113.6L435.3,113.5L436.6,113.5L437.8,113.4L439.1,113.3L440.4,113.1L440.4,113.1L441.7,113.0L443.0,112.8L444.4,112.6L445.7,112.4L447.1,112.3L448.4,112.1L449.8,112.0L451.0,111.9L452.3,111.9L453.4,111.9L454.6,112.0L455.6,112.2L456.7,112.3L457.7,112.5L458.7,112.7L459.7,112.9L460.8,113.0L461.7,113.1L461.8,113.1L462.8,113.3L463.9,113.4L464.9,113.5L466.0,113.6L467.2,113.6L468.3,113.6L469.5,113.7L470.6,113.7L471.8,113.7L472.5,113.1L473.3,112.5L472.1,112.5L470.9,112.5L469.7,112.5L468.6,112.5L467.4,112.4L466.3,112.3L465.3,112.2L464.2,112.0L463.2,111.8L462.3,111.6L462.0,111.5L461.3,111.4L460.4,111.1L459.5,110.7L458.6,110.4L457.7,110.1L457.3,109.9L456.8,109.6L455.9,109.2L455.0,108.8L454.0,108.5L452.9,108.3L454.5,106.7L455.6,106.3L457.5,105.5L458.5,105.0L459.4,104.7L461.1,104.2L462.8,103.6L463.7,103.3L464.4,103.1L466.1,102.7L467.7,102.3L469.2,102.0L470.8,101.7L471.6,101.6L472.3,101.5L473.8,101.3L475.2,101.2L476.7,101.1L478.1,101.0L479.5,101.0L480.9,100.9L482.2,101.0L483.5,101.0L484.8,101.1L485.7,100.0L484.4,99.9L484.3,99.9L483.0,99.9L481.7,99.8L480.3,99.8L478.9,99.8L477.5,99.9L476.5,99.9L476.1,99.9L474.7,100.0L473.2,100.1L471.8,100.3L470.3,100.4L468.8,100.6L467.3,100.8L465.8,101.1L464.3,101.3L462.8,101.5L462.1,101.6L461.3,101.7L459.8,101.9L458.4,102.1L456.9,102.3L455.5,102.4L454.1,102.5L452.7,102.6L451.4,102.6L450.0,102.6L448.6,102.6L447.3,102.6L446.0,102.6L444.6,102.6L443.3,102.6L441.9,102.6L440.6,102.6L439.2,102.6L437.9,102.6L436.6,102.6L435.2,102.6L433.9,102.6L432.5,102.6L431.2,102.6L429.8,102.7L428.5,102.7L427.1,102.7L425.8,102.7L424.4,102.7L423.1,102.7L421.8,102.7L420.4,102.7L419.1,102.7L417.7,102.7L416.4,102.7L415.0,102.7L413.7,102.7L412.4,102.7L411.0,102.7L409.7,102.7L408.3,102.7L407.0,102.7L405.6,102.7L404.3,102.7L403.0,102.7L401.6,102.7L400.3,102.7L398.9,102.7L397.6,102.7L396.2,102.7L394.9,102.7L393.6,102.7L392.2,102.7L390.9,102.7L389.5,102.7L388.2,102.7L386.9,102.7L385.5,102.7L384.2,102.7L382.8,102.7L381.5,102.7L380.1,102.7L378.8,102.6L377.4,102.6L376.1,102.6L374.8,102.6L373.4,102.5L372.1,102.5L370.7,102.5L369.4,102.4L368.0,102.4L366.6,102.3L365.3,102.3L363.9,102.3L362.6,102.2L361.2,102.2L359.9,102.2L358.5,102.2L357.2,102.1L355.8,102.1L354.4,102.0L353.1,102.0L351.7,101.9L350.3,101.7L349.0,101.6L348.9,101.6L347.5,101.4L346.1,101.3L344.7,101.1L343.2,100.9L341.8,100.7L340.4,100.5L338.9,100.4L337.5,100.2L336.1,100.1L334.7,100.0L333.3,100.0L331.9,100.0L330.5,99.9L329.2,99.9L327.8,100.0L326.5,100.0L325.1,100.1L323.8,100.1L322.4,100.2L321.1,100.3L319.8,100.4L318.4,100.4L317.1,100.5L315.8,100.5L314.4,100.6L313.1,100.6L311.8,100.7L310.4,100.7L309.1,100.7L307.7,100.7L306.3,100.7L305.0,100.7L303.6,100.7L302.2,100.7L300.8,100.6L299.4,100.6L298.0,100.5L296.6,100.4L295.2,100.4L293.7,100.3L292.3,100.2L290.9,100.1L289.4,100.0L288.0,100.0L288.9,101.1L290.3,101.2L291.7,101.3L293.2,101.4L294.6,101.5L296.0,101.6L296.6,101.6L297.5,101.7L298.9,101.8L300.3,101.8L301.7,101.9L303.1,102.0L304.5,102.0L305.9,102.1L307.2,102.1L308.6,102.1L309.9,102.1L311.3,102.1L312.6,102.1L313.9,102.0L315.3,102.0L316.6,101.9L317.9,101.9L319.2,101.8L320.5,101.8L321.8,101.7L322.7,101.6L323.1,101.6L324.4,101.5L325.8,101.4L327.1,101.3L328.4,101.3L329.8,101.2L331.1,101.2L332.5,101.3L333.9,101.3L335.3,101.4L336.7,101.6L337.0,101.6L338.1,101.8L339.6,102.0L341.0,102.2L342.5,102.5L343.9,102.8L345.4,103.1L346.4,103.3L346.8,103.4L348.3,103.7L349.7,104.0L351.1,104.2L352.5,104.4L353.8,104.5L355.2,104.6L356.5,104.6L357.8,104.6L359.1,104.7L360.5,104.7L361.8,104.7L363.1,104.7L364.5,104.8L365.8,104.9L367.1,105.0L367.5,105.0L368.5,105.1L369.8,105.3L371.2,105.5L372.5,105.8L373.9,106.2L375.2,106.6L375.5,106.7L375.3,107.1L374.7,108.3L374.2,108.4L373.0,108.7L371.7,109.0L370.5,109.2L369.3,109.5L368.1,109.6L366.9,109.8L365.7,109.9L365.1,109.9L364.5,110.0L363.2,110.0L362.0,110.0L360.7,110.0L359.5,110.0L358.2,110.0L357.0,110.0L355.8,110.0L354.5,110.0L353.3,110.0L352.1,110.1L350.9,110.2L349.7,110.4L348.6,110.5L347.5,110.7L346.3,110.9L345.2,111.1L344.1,111.3L343.0,111.5L342.5,111.5L341.9,111.6L340.7,111.8L339.6,111.9L338.5,112.1L337.4,112.2L336.2,112.3L335.1,112.4L333.9,112.4L332.8,112.5L331.6,112.5L330.5,112.6L329.3,112.6L328.1,112.7L327.0,112.7L325.8,112.7L324.6,112.7L323.4,112.7L322.2,112.7L321.0,112.7L319.7,112.6L318.5,112.6L317.3,112.6L316.0,112.6L314.8,112.5L313.6,112.5L312.4,112.5L311.1,112.5L309.9,112.4L308.7,112.4L307.5,112.4L306.3,112.4L305.1,112.5L304.0,112.5L302.8,112.5L301.6,112.5L300.4,112.5L301.2,113.1L301.9,113.7ZM424.9,111.5L424.7,111.4L423.7,111.0L422.7,110.5L421.6,110.1L421.3,109.9L421.0,108.5L420.9,108.3L421.2,108.2L422.7,107.5L424.2,107.0L425.6,106.7L425.8,106.7L427.0,106.5L428.4,106.3L429.7,106.2L431.1,106.1L432.4,106.0L433.7,106.0L435.1,105.9L436.4,105.9L437.7,105.9L439.0,105.9L440.2,106.0L441.5,106.1L442.7,106.2L444.0,106.3L445.2,106.4L446.4,106.6L446.8,106.7L447.5,106.8L448.6,107.1L449.7,107.4L450.7,107.8L451.6,108.3L452.4,108.3L451.6,108.3L450.1,108.6L448.2,109.5L447.5,109.9L446.4,110.2L444.8,110.6L443.3,111.0L441.7,111.4L441.4,111.5L440.3,111.7L439.0,111.9L437.6,112.0L436.3,112.1L435.1,112.2L433.8,112.3L432.6,112.3L431.4,112.3L430.3,112.2L429.1,112.1L428.0,112.0L426.8,111.9L425.7,111.7ZM428.4,79.5L429.9,79.7L431.3,79.8L432.8,80.0L434.3,80.1L435.7,80.2L437.2,80.3L438.7,80.3L440.2,80.3L441.7,80.3L443.1,80.3L444.6,80.2L446.1,80.1L447.6,79.9L449.1,79.6L450.3,79.4L450.6,79.3L452.2,78.8L453.7,78.2L454.7,77.6L455.2,77.1L456.0,75.9L455.6,74.2L455.4,74.0L454.0,72.5L453.9,72.4L452.4,71.3L451.4,70.8L450.9,70.5L449.4,69.8L447.9,69.4L446.4,69.1L446.3,69.1L444.9,68.8L443.4,68.6L441.9,68.4L440.4,68.4L438.9,68.4L437.4,68.4L435.9,68.5L434.5,68.6L433.0,68.8L431.5,69.0L430.8,69.1L430.0,69.2L428.5,69.4L427.0,69.6L425.6,69.9L424.1,70.2L422.6,70.6L422.1,70.8L421.1,71.2L419.6,71.8L418.4,72.5L418.1,72.8L417.0,74.2L417.6,75.9L418.1,76.3L419.6,77.2L420.4,77.6L421.0,77.9L422.5,78.3L424.0,78.7L425.4,79.0L426.9,79.2L427.7,79.4ZM434.8,79.4L434.3,79.3L432.8,79.2L431.4,79.0L429.9,78.8L428.4,78.6L426.9,78.4L425.5,78.0L424.0,77.6L424.0,77.6L422.5,77.0L421.1,76.3L420.5,75.9L419.9,74.2L421.1,72.9L421.5,72.5L422.6,72.0L424.1,71.4L425.6,71.0L426.4,70.8L427.1,70.6L428.5,70.3L430.0,70.1L431.5,69.9L433.0,69.7L434.5,69.5L436.0,69.4L437.5,69.4L438.9,69.3L440.4,69.4L441.9,69.4L443.4,69.5L444.9,69.7L446.4,70.0L447.9,70.4L449.1,70.8L449.4,70.9L450.9,71.6L452.4,72.5L452.4,72.6L453.9,74.1L453.9,74.2L454.1,75.9L453.8,76.2L452.2,77.5L452.1,77.6L450.7,78.2L449.2,78.6L447.7,79.0L446.2,79.2L444.7,79.4L444.7,79.4L443.2,79.5L441.7,79.6L440.2,79.6L438.8,79.6L437.3,79.5L435.8,79.4ZM364.5,72.9L366.0,73.3L367.5,73.5L369.0,73.7L370.5,73.7L372.0,73.6L373.4,73.3L374.9,72.9L376.1,72.5L376.4,72.3L377.9,71.2L378.4,70.8L379.0,69.1L378.3,67.4L377.9,67.0L376.5,65.9L376.1,65.6L375.0,65.2L373.5,64.7L372.0,64.3L370.6,64.0L369.9,63.9L369.1,63.8L367.6,63.7L366.1,63.6L364.7,63.6L363.2,63.6L361.7,63.7L360.2,63.9L360.1,63.9L358.7,64.6L357.3,65.6L357.2,67.4L358.3,69.1L358.6,69.3L360.0,70.6L360.2,70.8L361.5,71.6L363.0,72.3L363.4,72.5ZM297.3,43.6L298.5,43.8L299.8,43.9L301.1,44.0L302.4,44.0L303.8,44.0L305.2,44.0L306.6,43.9L308.0,43.9L309.4,43.8L310.8,43.7L312.2,43.6L313.6,43.5L315.0,43.4L315.2,43.4L316.5,43.3L317.9,43.1L319.4,42.9L320.9,42.6L322.4,42.2L324.0,41.8L324.4,41.7L325.7,41.1L327.5,40.3L328.2,40.0L329.6,39.0L330.5,38.3L331.8,36.7L331.8,35.6L331.6,35.1L331.2,34.6L330.4,34.1L329.4,33.7L328.4,33.5L328.4,33.5L327.4,33.2L326.3,33.1L325.2,33.0L324.0,32.9L322.9,32.9L321.7,32.8L320.5,32.8L319.3,32.8L318.1,32.8L316.9,32.8L315.6,32.8L314.4,32.9L313.1,33.0L311.8,33.1L310.4,33.2L309.0,33.3L308.1,33.5L307.6,33.5L306.2,33.7L304.8,33.9L303.4,34.0L302.1,34.1L300.8,34.2L299.6,34.1L298.6,34.0L297.3,35.1L295.4,36.7L293.7,38.3L292.2,40.0L291.1,41.2L291.8,41.7L292.0,41.8L292.9,42.2L293.9,42.7L295.0,43.0L296.1,43.4L296.1,43.4ZM303.4,41.7L302.8,41.6L301.6,41.4L300.5,41.1L299.5,40.7L298.6,40.2L298.4,40.0L298.7,38.5L298.8,38.3L299.0,38.2L301.2,37.3L302.7,36.7L303.1,36.6L304.7,36.3L306.2,36.0L307.7,35.8L309.1,35.7L310.4,35.6L311.7,35.5L313.0,35.5L314.2,35.5L315.5,35.6L316.7,35.6L317.8,35.7L319.0,35.8L320.2,35.9L321.3,36.1L322.4,36.3L323.4,36.7L323.5,36.7L324.0,37.6L324.2,38.3L322.9,39.3L321.8,40.0L320.9,40.3L319.4,40.7L317.9,40.9L316.4,41.1L315.0,41.2L313.6,41.3L312.2,41.4L310.8,41.5L309.4,41.6L308.2,41.7L308.0,41.7L306.7,41.7L305.3,41.8L304.0,41.7ZM353.4,41.7L354.7,42.1L356.0,42.3L357.3,42.3L358.7,42.3L360.0,42.2L361.4,42.1L362.7,42.0L364.1,42.0L365.4,42.1L366.7,42.2L368.1,42.3L369.4,42.4L370.7,42.4L372.1,42.4L373.4,42.3L374.8,42.2L376.1,42.0L377.5,41.7L377.6,41.7L378.9,41.3L380.2,40.7L381.5,40.0L381.6,39.9L382.8,38.3L382.8,36.7L381.8,35.6L381.2,35.1L380.6,34.8L379.4,34.4L378.2,34.2L377.0,34.0L375.8,33.9L374.6,33.9L373.4,33.9L372.1,34.0L370.9,34.1L369.6,34.2L368.3,34.4L367.0,34.7L365.7,34.9L365.0,35.1L364.4,35.2L363.1,35.5L361.8,35.7L360.4,35.9L359.1,36.1L357.8,36.4L356.4,36.7L356.3,36.7L354.9,37.2L353.4,38.0L352.8,38.3L351.9,40.0L352.4,40.8L353.3,41.7ZM367.5,38.3L368.9,37.7L370.3,37.1L371.6,36.7L372.3,36.7L372.9,36.7L373.1,36.7L374.1,36.9L375.3,37.6L376.1,38.3L375.2,38.8L373.8,39.4L372.4,39.6L371.1,39.6L369.9,39.4L368.6,39.0ZM479.1,40.3L480.8,40.7L482.6,41.2L481.5,40.0L480.0,38.3L478.3,36.7L476.4,35.1L475.1,34.0L473.6,33.7L472.3,33.5L472.0,33.4L470.6,33.2L469.2,33.1L468.0,33.1L467.1,33.3L466.8,33.5L466.5,34.0L466.7,35.1L468.6,36.7L470.1,37.5L472.0,38.3L472.3,38.4L474.0,39.0L475.7,39.4L477.4,39.8L478.1,40.0Z" fill="#fdbd6d"/><path d="M301.6,112.5L302.8,112.5L304.0,112.5L305.1,112.5L306.3,112.4L307.5,112.4L308.7,112.4L309.9,112.4L311.1,112.5L312.4,112.5L313.6,112.5L314.8,112.5L316.0,112.6L317.3,112.6L318.5,112.6L319.7,112.6L321.0,112.7L322.2,112.7L323.4,112.7L324.6,112.7L325.8,112.7L327.0,112.7L328.1,112.7L329.3,112.6L330.5,112.6L331.6,112.5L332.8,112.5L333.9,112.4L335.1,112.4L336.2,112.3L337.4,112.2L338.5,112.1L339.6,111.9L340.7,111.8L341.9,111.6L342.5,111.5L343.0,111.5L344.1,111.3L345.2,111.1L346.3,110.9L347.5,110.7L348.6,110.5L349.7,110.4L350.9,110.2L352.1,110.1L353.3,110.0L354.5,110.0L355.8,110.0L357.0,110.0L358.2,110.0L359.5,110.0L360.7,110.0L362.0,110.0L363.2,110.0L364.5,110.0L365.1,109.9L365.7,109.9L366.9,109.8L368.1,109.6L369.3,109.5L370.5,109.2L371.7,109.0L373.0,108.7L374.2,108.4L374.7,108.3L375.3,107.1L375.5,106.7L375.2,106.6L373.9,106.2L372.5,105.8L371.2,105.5L369.8,105.3L368.5,105.1L367.5,105.0L367.1,105.0L365.8,104.9L364.5,104.8L363.1,104.7L361.8,104.7L360.5,104.7L359.1,104.7L357.8,104.6L356.5,104.6L355.2,104.6L353.8,104.5L352.5,104.4L351.1,104.2L349.7,104.0L348.3,103.7L346.8,103.4L346.4,103.3L345.4,103.1L343.9,102.8L342.5,102.5L341.0,102.2L339.6,102.0L338.1,101.8L337.0,101.6L336.7,101.6L335.3,101.4L333.9,101.3L332.5,101.3L331.1,101.2L329.8,101.2L328.4,101.3L327.1,101.3L325.8,101.4L324.4,101.5L323.1,101.6L322.7,101.6L321.8,101.7L320.5,101.8L319.2,101.8L317.9,101.9L316.6,101.9L315.3,102.0L313.9,102.0L312.6,102.1L311.3,102.1L309.9,102.1L308.6,102.1L307.2,102.1L305.9,102.1L304.5,102.0L303.1,102.0L301.7,101.9L300.3,101.8L298.9,101.8L297.5,101.7L296.6,101.6L296.0,101.6L294.6,101.5L293.2,101.4L291.7,101.3L290.3,101.2L288.9,101.1L289.3,101.6L289.7,102.1L291.1,102.2L292.5,102.3L294.0,102.4L295.4,102.5L296.8,102.6L298.3,102.7L299.7,102.8L301.1,102.9L302.5,103.0L303.9,103.1L305.3,103.2L306.7,103.2L308.0,103.3L309.4,103.3L310.7,103.3L312.0,103.3L313.4,103.3L314.7,103.2L316.0,103.2L317.3,103.1L318.6,103.1L319.9,103.0L321.2,102.9L322.5,102.8L323.8,102.7L325.1,102.6L326.4,102.6L327.7,102.5L329.0,102.4L330.3,102.4L331.7,102.4L333.0,102.5L334.4,102.6L335.8,102.7L337.3,102.9L338.7,103.2L339.4,103.3L340.2,103.5L341.7,104.0L343.2,104.4L344.7,104.9L344.9,105.0L346.4,105.9L347.9,106.7L347.4,108.1L347.3,108.3L346.4,108.6L345.3,109.0L344.3,109.4L343.2,109.8L342.8,109.9L342.1,110.1L341.0,110.3L339.9,110.5L338.8,110.7L337.7,110.9L336.6,111.0L335.4,111.1L334.3,111.3L333.1,111.3L332.0,111.4L330.8,111.5L330.1,111.5L329.6,111.6L328.5,111.6L327.3,111.6L326.1,111.7L324.9,111.7L323.7,111.7L322.4,111.7L321.2,111.7L320.0,111.7L318.7,111.6L317.5,111.6L316.2,111.5L315.9,111.5L315.0,111.5L313.7,111.5L312.5,111.4L311.2,111.4L310.0,111.4L308.8,111.4L307.5,111.4L306.3,111.4L305.1,111.4L303.9,111.5L302.8,111.5L301.6,111.5L300.4,111.5L299.6,111.5L299.2,111.5L300.4,112.5ZM425.7,111.7L426.8,111.9L428.0,112.0L429.1,112.1L430.3,112.2L431.4,112.3L432.6,112.3L433.8,112.3L435.1,112.2L436.3,112.1L437.6,112.0L439.0,111.9L440.3,111.7L441.4,111.5L441.7,111.4L443.3,111.0L444.8,110.6L446.4,110.2L447.5,109.9L448.2,109.5L450.1,108.6L451.6,108.3L452.4,108.3L451.6,108.3L450.7,107.8L449.7,107.4L448.6,107.1L447.5,106.8L446.8,106.7L446.4,106.6L445.2,106.4L444.0,106.3L442.7,106.2L441.5,106.1L440.2,106.0L439.0,105.9L437.7,105.9L436.4,105.9L435.1,105.9L433.7,106.0L432.4,106.0L431.1,106.1L429.7,106.2L428.4,106.3L427.0,106.5L425.8,106.7L425.6,106.7L424.2,107.0L422.7,107.5L421.2,108.2L420.9,108.3L421.0,108.5L421.3,109.9L421.6,110.1L422.7,110.5L423.7,111.0L424.7,111.4L424.9,111.5ZM431.0,109.9L431.8,109.7L433.2,109.4L434.5,109.3L435.7,109.4L436.8,109.7L437.3,109.9L436.6,110.0L435.2,110.2L434.0,110.2L432.7,110.2L431.6,110.0ZM462.3,111.6L463.2,111.8L464.2,112.0L465.3,112.2L466.3,112.3L467.4,112.4L468.6,112.5L469.7,112.5L470.9,112.5L472.1,112.5L473.3,112.5L474.5,111.5L473.3,111.6L472.4,111.5L472.1,111.5L470.9,111.5L469.8,111.4L468.6,111.4L467.6,111.2L466.5,111.1L465.5,110.8L464.6,110.6L463.7,110.3L462.9,109.9L462.8,109.8L462.1,109.3L461.5,108.6L461.3,108.3L461.9,106.7L461.9,106.7L461.9,106.7L464.3,105.0L464.5,104.9L466.3,104.2L468.1,103.6L469.2,103.3L469.8,103.2L471.3,102.8L472.9,102.6L474.4,102.4L475.8,102.2L477.3,102.1L478.7,102.0L480.0,102.0L481.4,102.0L482.7,102.0L484.0,102.1L484.4,101.6L484.8,101.1L483.5,101.0L482.2,101.0L480.9,100.9L479.5,101.0L478.1,101.0L476.7,101.1L475.2,101.2L473.8,101.3L472.3,101.5L471.6,101.6L470.8,101.7L469.2,102.0L467.7,102.3L466.1,102.7L464.4,103.1L463.7,103.3L462.8,103.6L461.1,104.2L459.4,104.7L458.5,105.0L457.5,105.5L455.6,106.3L454.5,106.7L452.9,108.3L454.0,108.5L455.0,108.8L455.9,109.2L456.8,109.6L457.3,109.9L457.7,110.1L458.6,110.4L459.5,110.7L460.4,111.1L461.3,111.4L462.0,111.5ZM435.8,79.4L437.3,79.5L438.8,79.6L440.2,79.6L441.7,79.6L443.2,79.5L444.7,79.4L444.7,79.4L446.2,79.2L447.7,79.0L449.2,78.6L450.7,78.2L452.1,77.6L452.2,77.5L453.8,76.2L454.1,75.9L453.9,74.2L453.9,74.1L452.4,72.6L452.4,72.5L450.9,71.6L449.4,70.9L449.1,70.8L447.9,70.4L446.4,70.0L444.9,69.7L443.4,69.5L441.9,69.4L440.4,69.4L438.9,69.3L437.5,69.4L436.0,69.4L434.5,69.5L433.0,69.7L431.5,69.9L430.0,70.1L428.5,70.3L427.1,70.6L426.4,70.8L425.6,71.0L424.1,71.4L422.6,72.0L421.5,72.5L421.1,72.9L419.9,74.2L420.5,75.9L421.1,76.3L422.5,77.0L424.0,77.6L424.0,77.6L425.5,78.0L426.9,78.4L428.4,78.6L429.9,78.8L431.4,79.0L432.8,79.2L434.3,79.3L434.8,79.4ZM427.8,77.6L427.0,77.4L425.5,76.9L424.0,76.3L423.3,75.9L422.6,74.5L422.5,74.2L422.6,74.1L424.1,72.8L424.5,72.5L425.6,72.1L427.1,71.6L428.6,71.3L430.0,71.0L431.0,70.8L431.5,70.7L433.0,70.5L434.5,70.3L436.0,70.2L437.5,70.1L439.0,70.1L440.5,70.1L441.9,70.2L443.4,70.3L444.9,70.5L446.1,70.8L446.4,70.9L447.9,71.3L449.4,71.9L450.6,72.5L450.9,72.8L452.3,74.2L452.2,75.9L450.8,76.9L449.4,77.6L449.3,77.7L447.8,78.1L446.2,78.4L444.7,78.6L443.3,78.8L441.8,78.9L440.3,78.9L438.8,78.9L437.3,78.9L435.8,78.8L434.4,78.6L432.9,78.5L431.4,78.3L429.9,78.1L428.5,77.8ZM304.0,41.7L305.3,41.8L306.7,41.7L308.0,41.7L308.2,41.7L309.4,41.6L310.8,41.5L312.2,41.4L313.6,41.3L315.0,41.2L316.4,41.1L317.9,40.9L319.4,40.7L320.9,40.3L321.8,40.0L322.9,39.3L324.2,38.3L324.0,37.6L323.5,36.7L323.4,36.7L322.4,36.3L321.3,36.1L320.2,35.9L319.0,35.8L317.8,35.7L316.7,35.6L315.5,35.6L314.2,35.5L313.0,35.5L311.7,35.5L310.4,35.6L309.1,35.7L307.7,35.8L306.2,36.0L304.7,36.3L303.1,36.6L302.7,36.7L301.2,37.3L299.0,38.2L298.8,38.3L298.7,38.5L298.4,40.0L298.6,40.2L299.5,40.7L300.5,41.1L301.6,41.4L302.8,41.6L303.4,41.7ZM368.6,39.0L369.9,39.4L371.1,39.6L372.4,39.6L373.8,39.4L375.2,38.8L376.1,38.3L375.3,37.6L374.1,36.9L373.1,36.7L372.9,36.7L372.3,36.7L371.6,36.7L370.3,37.1L368.9,37.7L367.5,38.3Z" fill="#ee9d3c"/><path d="M299.6,111.5L300.4,111.5L301.6,111.5L302.8,111.5L303.9,111.5L305.1,111.4L306.3,111.4L307.5,111.4L308.8,111.4L310.0,111.4L311.2,111.4L312.5,111.4L313.7,111.5L315.0,111.5L315.9,111.5L316.2,111.5L317.5,111.6L318.7,111.6L320.0,111.7L321.2,111.7L322.4,111.7L323.7,111.7L324.9,111.7L326.1,111.7L327.3,111.6L328.5,111.6L329.6,111.6L330.1,111.5L330.8,111.5L332.0,111.4L333.1,111.3L334.3,111.3L335.4,111.1L336.6,111.0L337.7,110.9L338.8,110.7L339.9,110.5L341.0,110.3L342.1,110.1L342.8,109.9L343.2,109.8L344.3,109.4L345.3,109.0L346.4,108.6L347.3,108.3L347.4,108.1L347.9,106.7L346.4,105.9L344.9,105.0L344.7,104.9L343.2,104.4L341.7,104.0L340.2,103.5L339.4,103.3L338.7,103.2L337.3,102.9L335.8,102.7L334.4,102.6L333.0,102.5L331.7,102.4L330.3,102.4L329.0,102.4L327.7,102.5L326.4,102.6L325.1,102.6L323.8,102.7L322.5,102.8L321.2,102.9L319.9,103.0L318.6,103.1L317.3,103.1L316.0,103.2L314.7,103.2L313.4,103.3L312.0,103.3L310.7,103.3L309.4,103.3L308.0,103.3L306.7,103.2L305.3,103.2L303.9,103.1L302.5,103.0L301.1,102.9L299.7,102.8L298.3,102.7L296.8,102.6L295.4,102.5L294.0,102.4L292.5,102.3L291.1,102.2L289.7,102.1L290.5,103.1L291.9,103.2L293.3,103.3L294.0,103.3L294.8,103.4L296.2,103.5L297.7,103.7L299.1,103.8L300.5,103.9L302.0,104.1L303.4,104.2L304.8,104.3L306.2,104.4L307.5,104.4L308.9,104.5L310.2,104.5L311.5,104.5L312.8,104.5L314.2,104.4L315.4,104.4L316.7,104.4L318.0,104.3L319.3,104.2L320.6,104.2L321.9,104.1L323.1,104.0L324.4,103.9L325.7,103.8L327.0,103.7L328.3,103.7L329.6,103.6L330.9,103.6L332.3,103.7L333.6,103.8L335.1,103.9L336.5,104.2L338.0,104.5L339.5,105.0L339.6,105.0L341.4,106.2L342.0,106.7L341.8,107.1L341.2,108.3L341.1,108.3L340.1,108.7L339.0,109.1L338.0,109.4L336.9,109.6L335.8,109.9L335.4,109.9L334.7,110.0L333.5,110.2L332.4,110.3L331.2,110.4L330.0,110.5L328.8,110.5L327.6,110.6L326.4,110.6L325.2,110.6L324.0,110.7L322.8,110.7L321.5,110.6L320.3,110.6L319.0,110.6L317.7,110.6L316.5,110.5L315.2,110.5L313.9,110.4L312.7,110.4L311.4,110.4L310.1,110.4L308.9,110.4L307.7,110.4L306.5,110.4L305.3,110.4L304.1,110.5L302.9,110.5L301.7,110.5L300.5,110.6L299.3,110.6L298.1,110.6L299.2,111.5L299.2,111.5ZM473.3,111.6L474.5,111.5L474.5,111.5L475.6,110.6L474.4,110.6L473.2,110.6L472.0,110.6L470.8,110.5L469.7,110.4L468.7,110.2L467.7,110.0L467.6,109.9L466.8,109.6L466.0,109.1L465.3,108.6L465.1,108.3L465.4,107.0L465.5,106.7L466.0,106.4L468.2,105.0L468.5,104.9L470.2,104.3L471.9,103.9L473.5,103.5L474.8,103.3L475.0,103.3L476.5,103.1L477.9,103.0L479.3,103.0L480.6,103.0L481.9,103.0L483.2,103.1L484.0,102.1L482.7,102.0L481.4,102.0L480.0,102.0L478.7,102.0L477.3,102.1L475.8,102.2L474.4,102.4L472.9,102.6L471.3,102.8L469.8,103.2L469.2,103.3L468.1,103.6L466.3,104.2L464.5,104.9L464.3,105.0L461.9,106.7L461.9,106.7L461.9,106.7L461.3,108.3L461.5,108.6L462.1,109.3L462.8,109.8L462.9,109.9L463.7,110.3L464.6,110.6L465.5,110.8L466.5,111.1L467.6,111.2L468.6,111.4L469.8,111.4L470.9,111.5L472.1,111.5L472.4,111.5ZM431.6,110.0L432.7,110.2L434.0,110.2L435.2,110.2L436.6,110.0L437.3,109.9L436.8,109.7L435.7,109.4L434.5,109.3L433.2,109.4L431.8,109.7L431.0,109.9ZM428.5,77.8L429.9,78.1L431.4,78.3L432.9,78.5L434.4,78.6L435.8,78.8L437.3,78.9L438.8,78.9L440.3,78.9L441.8,78.9L443.3,78.8L444.7,78.6L446.2,78.4L447.8,78.1L449.3,77.7L449.4,77.6L450.8,76.9L452.2,75.9L452.3,74.2L450.9,72.8L450.6,72.5L449.4,71.9L447.9,71.3L446.4,70.9L446.1,70.8L444.9,70.5L443.4,70.3L441.9,70.2L440.5,70.1L439.0,70.1L437.5,70.1L436.0,70.2L434.5,70.3L433.0,70.5L431.5,70.7L431.0,70.8L430.0,71.0L428.6,71.3L427.1,71.6L425.6,72.1L424.5,72.5L424.1,72.8L422.6,74.1L422.5,74.2L422.6,74.5L423.3,75.9L424.0,76.3L425.5,76.9L427.0,77.4L427.8,77.6ZM431.9,77.6L431.4,77.6L430.0,77.2L428.5,76.8L427.0,76.3L426.0,75.9L425.6,75.2L425.0,74.2L425.6,73.8L427.1,72.8L427.5,72.5L428.6,72.2L430.1,71.8L431.5,71.5L433.0,71.3L434.5,71.1L436.0,71.0L437.5,70.9L439.0,70.8L440.5,70.8L442.0,70.9L443.5,71.1L445.0,71.3L446.4,71.7L447.9,72.2L448.6,72.5L449.4,73.1L450.6,74.2L450.2,75.9L449.3,76.4L447.8,77.1L446.3,77.6L446.2,77.6L444.8,77.9L443.3,78.1L441.8,78.2L440.3,78.2L438.8,78.2L437.3,78.2L435.9,78.1L434.4,78.0L432.9,77.8Z" fill="#da7d12"/><path d="M299.3,110.6L300.5,110.6L301.7,110.5L302.9,110.5L304.1,110.5L305.3,110.4L306.5,110.4L307.7,110.4L308.9,110.4L310.1,110.4L311.4,110.4L312.7,110.4L313.9,110.4L315.2,110.5L316.5,110.5L317.7,110.6L319.0,110.6L320.3,110.6L321.5,110.6L322.8,110.7L324.0,110.7L325.2,110.6L326.4,110.6L327.6,110.6L328.8,110.5L330.0,110.5L331.2,110.4L332.4,110.3L333.5,110.2L334.7,110.0L335.4,109.9L335.8,109.9L336.9,109.6L338.0,109.4L339.0,109.1L340.1,108.7L341.1,108.3L341.2,108.3L341.8,107.1L342.0,106.7L341.4,106.2L339.6,105.0L339.5,105.0L338.0,104.5L336.5,104.2L335.1,103.9L333.6,103.8L332.3,103.7L330.9,103.6L329.6,103.6L328.3,103.7L327.0,103.7L325.7,103.8L324.4,103.9L323.1,104.0L321.9,104.1L320.6,104.2L319.3,104.2L318.0,104.3L316.7,104.4L315.4,104.4L314.2,104.4L312.8,104.5L311.5,104.5L310.2,104.5L308.9,104.5L307.5,104.4L306.2,104.4L304.8,104.3L303.4,104.2L302.0,104.1L300.5,103.9L299.1,103.8L297.7,103.7L296.2,103.5L294.8,103.4L294.0,103.3L293.3,103.3L291.9,103.2L290.5,103.1L290.7,103.3L291.4,104.1L292.8,104.2L294.2,104.3L295.7,104.5L297.1,104.6L298.5,104.8L300.0,104.9L300.7,105.0L301.5,105.1L303.0,105.3L304.5,105.5L305.9,105.7L307.3,105.8L308.7,105.9L310.0,106.0L311.3,106.0L312.6,106.0L313.9,105.9L315.2,105.9L316.4,105.8L317.7,105.8L318.9,105.7L320.2,105.6L321.4,105.5L322.7,105.4L323.9,105.3L325.2,105.2L326.4,105.1L327.6,105.0L327.7,105.0L329.0,104.9L330.3,104.9L331.6,105.0L331.7,105.0L333.0,105.2L334.6,105.6L336.2,106.3L336.9,106.7L336.6,107.0L335.8,107.8L335.2,108.3L334.8,108.4L333.7,108.6L332.6,108.8L331.4,108.9L330.2,109.1L329.1,109.2L327.9,109.2L326.7,109.3L325.4,109.4L324.2,109.4L323.0,109.4L321.7,109.4L320.4,109.4L319.1,109.3L317.8,109.3L316.5,109.2L315.2,109.1L313.9,109.1L312.6,109.0L311.3,109.0L310.0,109.0L308.8,109.0L307.6,109.0L306.4,109.1L305.2,109.2L304.0,109.3L302.9,109.3L301.7,109.4L300.5,109.5L299.4,109.6L298.2,109.6L296.9,109.7L297.3,109.9L298.1,110.6ZM467.7,110.0L468.7,110.2L469.7,110.4L470.8,110.5L472.0,110.6L473.2,110.6L474.4,110.6L475.6,110.6L476.4,109.9L476.8,109.7L475.5,109.7L474.3,109.6L473.1,109.5L472.0,109.4L471.0,109.2L470.0,108.9L469.1,108.6L468.6,108.3L468.7,107.7L468.8,106.7L470.3,105.8L472.1,105.0L472.4,104.9L474.0,104.6L475.5,104.3L477.0,104.2L478.4,104.1L479.7,104.0L481.0,104.1L482.3,104.1L483.0,103.3L483.2,103.1L481.9,103.0L480.6,103.0L479.3,103.0L477.9,103.0L476.5,103.1L475.0,103.3L474.8,103.3L473.5,103.5L471.9,103.9L470.2,104.3L468.5,104.9L468.2,105.0L466.0,106.4L465.5,106.7L465.4,107.0L465.1,108.3L465.3,108.6L466.0,109.1L466.8,109.6L467.6,109.9ZM432.9,77.8L434.4,78.0L435.9,78.1L437.3,78.2L438.8,78.2L440.3,78.2L441.8,78.2L443.3,78.1L444.8,77.9L446.2,77.6L446.3,77.6L447.8,77.1L449.3,76.4L450.2,75.9L450.6,74.2L449.4,73.1L448.6,72.5L447.9,72.2L446.4,71.7L445.0,71.3L443.5,71.1L442.0,70.9L440.5,70.8L439.0,70.8L437.5,70.9L436.0,71.0L434.5,71.1L433.0,71.3L431.5,71.5L430.1,71.8L428.6,72.2L427.5,72.5L427.1,72.8L425.6,73.8L425.0,74.2L425.6,75.2L426.0,75.9L427.0,76.3L428.5,76.8L430.0,77.2L431.4,77.6L431.9,77.6ZM429.0,75.9L428.5,75.4L427.7,74.2L428.6,73.7L430.1,72.9L430.9,72.5L431.6,72.4L433.0,72.1L434.5,71.9L436.0,71.7L437.5,71.6L439.0,71.5L440.5,71.6L442.0,71.7L443.5,71.9L445.0,72.1L446.3,72.5L446.5,72.6L447.9,73.6L448.7,74.2L448.1,75.9L447.9,76.0L446.3,76.6L444.8,77.0L443.3,77.3L441.8,77.5L440.4,77.6L438.9,77.6L437.4,77.5L435.9,77.4L434.4,77.2L432.9,76.9L431.5,76.6L430.0,76.2Z" fill="#be630a"/><path d="M298.2,109.6L299.4,109.6L300.5,109.5L301.7,109.4L302.9,109.3L304.0,109.3L305.2,109.2L306.4,109.1L307.6,109.0L308.8,109.0L310.0,109.0L311.3,109.0L312.6,109.0L313.9,109.1L315.2,109.1L316.5,109.2L317.8,109.3L319.1,109.3L320.4,109.4L321.7,109.4L323.0,109.4L324.2,109.4L325.4,109.4L326.7,109.3L327.9,109.2L329.1,109.2L330.2,109.1L331.4,108.9L332.6,108.8L333.7,108.6L334.8,108.4L335.2,108.3L335.8,107.8L336.6,107.0L336.9,106.7L336.2,106.3L334.6,105.6L333.0,105.2L331.7,105.0L331.6,105.0L330.3,104.9L329.0,104.9L327.7,105.0L327.6,105.0L326.4,105.1L325.2,105.2L323.9,105.3L322.7,105.4L321.4,105.5L320.2,105.6L318.9,105.7L317.7,105.8L316.4,105.8L315.2,105.9L313.9,105.9L312.6,106.0L311.3,106.0L310.0,106.0L308.7,105.9L307.3,105.8L305.9,105.7L304.5,105.5L303.0,105.3L301.5,105.1L300.7,105.0L300.0,104.9L298.5,104.8L297.1,104.6L295.7,104.5L294.2,104.3L292.8,104.2L291.4,104.1L292.2,105.0L292.6,105.4L294.0,105.6L295.5,105.8L297.1,106.0L298.6,106.3L300.1,106.6L300.6,106.7L300.5,106.9L299.8,107.6L299.1,108.1L298.6,108.3L298.0,108.4L296.8,108.4L295.6,108.5L296.9,109.7ZM469.1,108.6L470.0,108.9L471.0,109.2L472.0,109.4L473.1,109.5L474.3,109.6L475.5,109.7L476.8,109.7L478.1,108.5L476.8,108.5L475.6,108.4L474.4,108.3L474.2,108.3L473.6,107.9L473.0,107.2L472.8,106.7L473.9,106.3L475.6,105.8L477.1,105.5L478.6,105.4L479.9,105.3L481.1,105.4L481.5,105.0L482.3,104.1L481.0,104.1L479.7,104.0L478.4,104.1L477.0,104.2L475.5,104.3L474.0,104.6L472.4,104.9L472.1,105.0L470.3,105.8L468.8,106.7L468.7,107.7L468.6,108.3ZM430.0,76.2L431.5,76.6L432.9,76.9L434.4,77.2L435.9,77.4L437.4,77.5L438.9,77.6L440.4,77.6L441.8,77.5L443.3,77.3L444.8,77.0L446.3,76.6L447.9,76.0L448.1,75.9L448.7,74.2L447.9,73.6L446.5,72.6L446.3,72.5L445.0,72.1L443.5,71.9L442.0,71.7L440.5,71.6L439.0,71.5L437.5,71.6L436.0,71.7L434.5,71.9L433.0,72.1L431.6,72.4L430.9,72.5L430.1,72.9L428.6,73.7L427.7,74.2L428.5,75.4L429.0,75.9ZM432.4,75.9L431.5,75.1L430.6,74.2L431.5,73.8L433.0,73.2L434.5,72.7L435.5,72.5L436.0,72.4L437.5,72.3L439.0,72.3L440.5,72.3L442.0,72.4L442.7,72.5L443.5,72.7L445.0,73.3L446.4,74.1L446.6,74.2L446.4,74.6L445.5,75.9L444.9,76.1L443.4,76.4L441.9,76.7L440.4,76.8L438.9,76.8L437.4,76.7L435.9,76.6L434.5,76.4L433.0,76.1Z" fill="#a04d07"/><path d="M296.8,108.4L298.0,108.4L298.6,108.3L299.1,108.1L299.8,107.6L300.5,106.9L300.6,106.7L300.1,106.6L298.6,106.3L297.1,106.0L295.5,105.8L294.0,105.6L292.6,105.4L293.7,106.7L295.4,108.3L295.6,108.5ZM474.4,108.3L475.6,108.4L476.8,108.5L478.1,108.5L478.3,108.3L480.0,106.7L481.1,105.4L479.9,105.3L478.6,105.4L477.1,105.5L475.6,105.8L473.9,106.3L472.8,106.7L473.0,107.2L473.6,107.9L474.2,108.3ZM433.0,76.1L434.5,76.4L435.9,76.6L437.4,76.7L438.9,76.8L440.4,76.8L441.9,76.7L443.4,76.4L444.9,76.1L445.5,75.9L446.4,74.6L446.6,74.2L446.4,74.1L445.0,73.3L443.5,72.7L442.7,72.5L442.0,72.4L440.5,72.3L439.0,72.3L437.5,72.3L436.0,72.4L435.5,72.5L434.5,72.7L433.0,73.2L431.5,73.8L430.6,74.2L431.5,75.1L432.4,75.9Z" fill="#7f3b08"/>
<use href="#clim" transform="translate(386.85,72.5)" fill="none" stroke="#333" stroke-width="0.45"/>
<use href="#clab" transform="translate(386.85,72.5)"/>
<use href="#coast" transform="translate(386.85,72.5)" fill="none" stroke="#000" stroke-width="0.62" stroke-linejoin="round"/>
<use href="#lakes" transform="translate(386.85,72.5)" fill="none" stroke="#111" stroke-width="0.4"/>
</g>
<use href="#bnd" transform="translate(386.85,72.5)" fill="none" stroke="#999" stroke-width="0.5"/>
<text x="386.9" y="10.7" font-family="Liberation Sans" font-weight="bold" font-size="7.95" fill="#2f4f4f" text-anchor="middle">d) ICON</text>
<g clip-path="url(#c4)">
<rect x="277.55" y="144.9" width="218.6" height="120" fill="#f7f7f7"/><path d="M289.6,232.7L291.1,232.8L292.5,232.9L293.9,232.9L295.3,233.0L296.7,233.1L298.1,233.1L299.5,233.2L300.9,233.2L302.3,233.2L303.7,233.2L305.0,233.2L306.4,233.2L307.7,233.2L309.1,233.2L310.4,233.2L311.8,233.1L313.1,233.1L314.5,233.0L315.8,233.0L317.1,232.9L318.4,232.8L319.8,232.7L321.1,232.6L322.4,232.5L323.7,232.4L324.7,232.3L323.3,230.6L322.9,230.5L321.4,230.3L319.9,230.1L318.4,229.8L316.9,229.6L315.4,229.4L313.9,229.2L312.4,229.0L311.7,228.9L310.9,228.8L309.5,228.6L308.0,228.5L306.5,228.4L305.1,228.3L303.6,228.2L302.2,228.2L300.8,228.2L299.4,228.3L298.1,228.4L296.7,228.5L295.4,228.6L294.1,228.8L293.4,228.9L292.8,229.0L291.5,229.2L290.2,229.4L288.9,229.6L287.7,229.8L286.4,230.1L286.8,230.6L288.0,232.3L288.2,232.6ZM483.0,232.3L484.3,232.5L485.5,232.6L485.7,232.3L486.9,230.6L487.3,230.1L485.7,230.3L484.2,230.6L483.9,230.6L482.8,232.3ZM290.6,177.6L291.8,177.8L293.1,178.0L294.4,178.1L295.8,178.2L297.2,178.1L298.6,178.0L300.1,177.8L301.6,177.6L302.1,177.5L303.3,177.1L305.1,176.5L306.8,175.8L307.0,175.6L308.9,174.1L309.2,172.4L309.2,172.4L308.6,171.6L307.8,171.0L307.3,170.7L306.8,170.6L305.8,170.3L304.6,170.1L303.4,170.0L302.2,170.0L300.9,170.0L299.5,170.2L298.0,170.3L296.4,170.6L295.8,170.7L294.7,171.0L292.9,171.7L292.2,172.4L290.7,174.1L289.3,175.8L288.7,176.5L289.6,177.1L290.3,177.5ZM485.0,176.5L484.4,175.8L483.0,174.1L481.5,172.4L480.8,171.7L480.3,172.4L480.3,172.5L480.9,174.1L482.9,175.6L483.2,175.8Z" fill="#cfcee5"/><path d="M306.2,248.4L307.4,248.4L308.5,248.4L309.6,248.4L310.8,248.4L311.9,248.4L313.1,248.4L314.2,248.4L315.3,248.4L316.5,248.4L317.6,248.4L318.7,248.4L319.9,248.4L321.0,248.4L322.1,248.4L323.3,248.4L324.4,248.4L325.5,248.4L326.7,248.4L327.8,248.4L328.9,248.4L330.1,248.4L331.2,248.4L332.4,248.4L333.5,248.4L334.6,248.4L335.8,248.4L336.9,248.4L338.0,248.4L339.2,248.4L340.3,248.4L341.4,248.4L342.6,248.4L343.7,248.4L344.8,248.4L346.0,248.4L347.1,248.4L348.2,248.4L349.4,248.4L350.5,248.4L351.7,248.4L352.8,248.4L353.9,248.4L355.1,248.4L356.2,248.4L357.3,248.4L358.5,248.4L359.6,248.4L360.7,248.4L361.9,248.4L363.0,248.4L364.1,248.4L365.3,248.4L366.4,248.4L367.5,248.4L368.7,248.4L369.8,248.4L371.0,248.4L372.1,248.4L373.2,248.4L374.4,248.4L375.5,248.4L376.6,248.4L377.8,248.4L378.9,248.4L380.0,248.4L381.2,248.4L382.3,248.4L383.4,248.4L384.6,248.4L385.7,248.4L386.9,248.4L388.0,248.4L389.1,248.4L390.3,248.4L391.4,248.4L392.5,248.4L393.7,248.4L394.8,248.4L395.9,248.4L397.1,248.4L398.2,248.4L399.3,248.4L400.5,248.4L401.6,248.4L402.7,248.4L403.9,248.4L405.0,248.4L406.2,248.4L407.3,248.4L408.4,248.4L409.6,248.4L410.7,248.4L411.8,248.4L413.0,248.4L414.1,248.4L415.2,248.4L416.4,248.4L417.5,248.4L418.6,248.4L419.8,248.4L420.9,248.4L422.1,248.4L423.2,248.4L424.3,248.4L425.5,248.4L426.6,248.4L427.7,248.4L428.9,248.4L430.0,248.4L431.1,248.4L432.3,248.4L433.4,248.4L434.5,248.4L435.7,248.4L436.8,248.4L437.9,248.4L439.1,248.4L440.2,248.4L441.4,248.4L442.5,248.4L443.6,248.4L444.8,248.4L445.9,248.4L447.0,248.4L448.2,248.4L449.3,248.4L450.4,248.4L451.6,248.4L452.7,248.4L453.8,248.4L455.0,248.4L456.1,248.4L457.2,248.4L458.4,248.4L459.5,248.4L460.7,248.4L461.8,248.4L462.9,248.4L464.1,248.4L465.2,248.4L466.3,248.4L467.5,248.4L468.6,248.4L470.5,247.1L472.5,245.5L474.5,243.9L476.4,242.4L475.1,242.4L473.9,242.4L472.6,242.5L471.3,242.5L470.0,242.5L468.7,242.6L467.4,242.7L466.1,242.7L464.8,242.8L463.5,242.8L462.2,242.9L460.9,243.0L459.6,243.0L458.3,243.1L457.1,243.1L455.8,243.1L454.5,243.2L453.3,243.2L452.0,243.2L450.8,243.2L449.6,243.2L448.3,243.2L447.1,243.2L445.9,243.2L444.7,243.1L443.5,243.1L442.3,243.1L441.1,243.0L439.9,243.0L438.7,242.9L437.5,242.9L436.3,242.8L435.1,242.8L433.9,242.7L432.7,242.7L431.5,242.6L430.2,242.6L429.0,242.6L427.8,242.6L426.6,242.6L425.3,242.5L424.1,242.5L422.8,242.5L421.6,242.5L420.4,242.5L419.1,242.5L417.9,242.5L416.6,242.5L415.4,242.5L414.2,242.5L412.9,242.5L411.7,242.5L410.4,242.5L409.2,242.5L408.0,242.5L406.7,242.5L405.5,242.5L404.2,242.5L403.0,242.5L401.7,242.5L400.5,242.5L399.3,242.5L398.0,242.5L396.8,242.5L395.5,242.5L394.3,242.5L393.1,242.5L391.8,242.5L390.6,242.5L389.3,242.5L388.1,242.5L386.9,242.5L385.6,242.5L384.4,242.5L383.1,242.5L381.9,242.5L380.6,242.5L379.4,242.5L378.2,242.5L376.9,242.5L375.7,242.5L374.4,242.5L373.2,242.5L372.0,242.5L370.7,242.5L369.5,242.5L368.2,242.5L367.0,242.5L365.7,242.5L364.5,242.5L363.3,242.5L362.0,242.5L360.8,242.5L359.5,242.5L358.3,242.5L357.0,242.5L355.8,242.5L354.6,242.5L353.3,242.5L352.1,242.4L350.8,242.4L349.6,242.4L348.3,242.4L347.1,242.4L345.8,242.4L344.6,242.4L343.3,242.4L342.1,242.4L340.8,242.4L339.6,242.4L338.3,242.4L337.1,242.4L335.8,242.4L334.6,242.3L333.3,242.3L332.2,242.3L332.1,242.3L330.8,242.3L329.6,242.3L328.3,242.3L327.1,242.3L325.8,242.3L324.6,242.3L323.3,242.3L322.1,242.3L320.8,242.2L319.6,242.2L318.3,242.2L317.1,242.2L315.8,242.2L314.6,242.2L313.3,242.2L312.1,242.2L310.8,242.2L309.6,242.2L308.4,242.2L307.1,242.2L305.9,242.2L304.6,242.3L303.4,242.3L302.2,242.3L300.9,242.3L299.7,242.3L298.9,242.3L298.5,242.3L297.3,242.4L299.2,243.9L301.2,245.5L303.2,247.1L305.1,248.4ZM293.0,236.8L294.3,236.9L295.7,236.9L297.1,237.0L298.4,237.0L299.8,237.1L301.1,237.1L302.5,237.1L303.8,237.1L305.1,237.1L306.4,237.1L307.8,237.1L309.1,237.1L310.4,237.1L311.7,237.1L313.0,237.1L314.3,237.1L315.6,237.1L316.9,237.1L318.2,237.0L319.5,237.0L320.8,237.0L322.1,237.0L323.4,236.9L324.7,236.9L326.0,236.8L327.3,236.8L328.6,236.8L329.9,236.7L331.2,236.7L332.5,236.6L333.8,236.6L335.1,236.5L336.4,236.4L337.7,236.4L339.0,236.3L340.3,236.3L341.7,236.2L343.0,236.2L344.3,236.1L345.6,236.0L346.9,236.0L348.2,235.9L349.5,235.9L350.8,235.8L352.1,235.8L353.5,235.7L354.2,235.7L354.8,235.7L356.1,235.7L357.4,235.6L358.8,235.6L360.1,235.6L361.4,235.5L362.8,235.5L364.1,235.5L365.4,235.5L366.8,235.4L368.1,235.4L369.4,235.4L370.8,235.4L372.1,235.4L373.5,235.4L374.8,235.3L376.1,235.3L377.5,235.3L378.8,235.3L380.1,235.3L381.5,235.3L382.8,235.2L384.2,235.1L385.5,235.0L386.9,234.8L388.2,234.5L389.6,234.2L389.9,234.0L390.9,233.5L392.3,232.7L392.9,232.3L393.0,230.6L392.4,230.4L391.0,230.0L389.6,229.8L388.2,229.6L386.9,229.5L385.4,229.4L384.0,229.3L382.6,229.3L381.2,229.3L379.8,229.3L378.4,229.2L377.0,229.2L375.6,229.2L374.2,229.1L372.8,229.1L371.4,229.1L370.0,229.0L368.6,229.0L367.2,228.9L366.0,228.9L365.8,228.9L364.4,228.8L362.9,228.7L361.5,228.6L360.1,228.5L358.7,228.4L357.2,228.3L355.8,228.2L354.4,228.0L352.9,227.9L351.5,227.7L350.0,227.5L348.6,227.4L347.4,227.2L347.1,227.1L345.6,226.6L344.1,226.1L342.5,225.6L342.2,225.5L340.9,224.5L339.8,223.8L339.2,223.3L337.6,222.3L337.2,222.0L336.0,221.5L334.5,220.8L333.1,220.3L332.9,220.3L331.4,219.9L329.9,219.5L328.4,219.2L326.9,218.9L325.4,218.7L325.1,218.6L323.9,218.5L322.4,218.3L320.9,218.2L319.4,218.1L318.0,218.0L316.5,217.9L315.0,217.8L313.5,217.7L312.0,217.7L310.5,217.6L309.1,217.5L307.6,217.4L306.1,217.4L304.6,217.3L303.1,217.2L301.7,217.2L300.2,217.1L298.7,217.1L297.2,217.0L295.7,217.0L294.3,217.0L292.8,217.0L291.3,217.0L289.9,217.0L288.4,217.1L287.0,217.1L285.5,217.2L284.1,217.3L282.6,217.4L281.2,217.5L281.5,218.6L281.9,220.3L282.4,222.0L283.1,223.8L283.8,225.5L284.7,227.2L285.7,228.9L286.4,230.1L287.7,229.8L288.9,229.6L290.2,229.4L291.5,229.2L292.8,229.0L293.4,228.9L294.1,228.8L295.4,228.6L296.7,228.5L298.1,228.4L299.4,228.3L300.8,228.2L302.2,228.2L303.6,228.2L305.1,228.3L306.5,228.4L308.0,228.5L309.5,228.6L310.9,228.8L311.7,228.9L312.4,229.0L313.9,229.2L315.4,229.4L316.9,229.6L318.4,229.8L319.9,230.1L321.4,230.3L322.9,230.5L323.3,230.6L324.7,232.3L323.7,232.4L322.4,232.5L321.1,232.6L319.8,232.7L318.4,232.8L317.1,232.9L315.8,233.0L314.5,233.0L313.1,233.1L311.8,233.1L310.4,233.2L309.1,233.2L307.7,233.2L306.4,233.2L305.0,233.2L303.7,233.2L302.3,233.2L300.9,233.2L299.5,233.2L298.1,233.1L296.7,233.1L295.3,233.0L293.9,232.9L292.5,232.9L291.1,232.8L289.6,232.7L288.2,232.6L289.3,234.0L290.7,235.7L291.5,236.7ZM476.2,235.9L477.4,236.1L478.5,236.3L479.7,236.4L480.9,236.6L482.2,236.7L483.0,235.7L484.4,234.0L485.5,232.6L484.3,232.5L483.0,232.3L482.8,232.3L483.9,230.6L484.2,230.6L485.7,230.3L487.3,230.1L488.0,228.9L489.0,227.2L489.9,225.5L490.6,223.8L491.3,222.0L491.8,220.3L492.2,218.6L492.5,217.5L491.0,217.6L489.5,217.8L488.0,217.9L486.5,218.1L485.0,218.3L483.5,218.5L483.0,218.6L481.9,218.8L480.4,219.1L478.9,219.5L477.3,219.9L475.8,220.3L475.6,220.3L474.2,220.9L472.5,221.5L471.3,222.0L470.9,222.3L469.1,223.3L468.4,223.8L467.3,224.5L465.8,225.5L465.5,225.6L463.9,226.1L462.2,226.6L460.6,227.1L460.4,227.2L459.1,227.4L457.6,227.6L456.1,227.7L454.7,227.9L453.2,228.1L451.7,228.2L450.3,228.3L448.8,228.4L447.4,228.6L445.9,228.6L444.5,228.7L443.1,228.8L441.6,228.9L441.4,228.9L440.2,228.9L438.8,229.0L437.4,229.0L436.0,229.1L434.6,229.1L433.1,229.1L431.7,229.2L430.3,229.2L428.9,229.2L427.5,229.2L426.1,229.2L424.7,229.3L423.3,229.3L421.9,229.3L420.5,229.3L419.1,229.3L417.7,229.4L416.3,229.4L414.8,229.5L413.4,229.6L412.0,229.8L410.6,230.0L409.1,230.4L408.5,230.6L408.3,232.3L408.8,232.6L410.0,233.4L410.9,234.0L411.2,234.1L412.5,234.5L413.8,234.8L415.1,235.0L416.4,235.1L417.7,235.2L419.0,235.2L420.4,235.2L421.7,235.3L423.1,235.3L424.4,235.3L425.7,235.2L427.1,235.2L428.4,235.2L429.8,235.2L431.2,235.1L432.5,235.0L433.9,235.0L435.3,234.9L436.7,234.8L438.1,234.7L439.5,234.6L440.9,234.5L442.3,234.3L443.7,234.2L445.1,234.1L446.5,234.1L447.1,234.0L447.9,234.0L449.3,233.9L450.7,233.8L452.1,233.7L453.4,233.7L454.8,233.7L456.2,233.7L457.5,233.7L458.8,233.8L460.1,233.8L461.4,233.9L462.1,234.0L462.7,234.1L464.0,234.2L465.3,234.3L466.5,234.4L467.8,234.6L469.0,234.7L470.2,234.9L471.4,235.1L472.6,235.3L473.8,235.5L475.0,235.7L475.4,235.7ZM422.4,213.5L423.8,213.7L425.3,213.8L426.8,213.9L428.2,214.0L429.7,214.1L431.2,214.1L432.7,214.1L434.1,214.1L435.6,214.1L437.1,214.1L438.6,214.1L440.1,214.0L441.6,214.0L443.0,213.9L444.5,213.8L446.0,213.7L447.5,213.5L447.7,213.5L449.0,213.3L450.5,213.1L452.0,212.8L453.5,212.5L455.1,212.1L456.0,211.8L456.4,210.0L455.2,209.6L453.8,209.1L452.3,208.6L451.5,208.3L450.8,208.2L449.4,207.9L447.9,207.7L446.4,207.5L444.9,207.3L443.4,207.2L441.9,207.1L440.5,207.0L439.0,206.9L437.5,206.9L436.0,206.8L434.5,206.8L433.0,206.8L431.5,206.8L430.0,206.8L428.6,206.9L427.1,206.9L425.6,207.0L424.1,207.1L422.6,207.2L421.1,207.4L419.6,207.6L418.1,207.8L416.6,208.0L415.1,208.3L415.1,208.3L413.6,208.9L412.1,209.5L411.2,210.0L412.1,211.1L412.8,211.8L413.5,212.0L415.0,212.4L416.5,212.7L417.9,213.0L419.4,213.2L420.9,213.4L421.7,213.5ZM286.1,182.7L287.4,182.9L288.8,183.0L290.2,183.1L291.6,183.2L293.0,183.2L294.4,183.2L295.8,183.1L297.3,183.0L298.8,182.9L300.3,182.7L301.1,182.6L301.8,182.5L303.3,182.3L304.8,182.1L306.4,181.8L308.0,181.4L309.6,180.9L309.6,180.9L311.2,180.4L312.9,179.8L314.3,179.2L314.7,179.0L316.5,178.0L317.5,177.5L318.7,176.6L319.7,175.8L321.1,174.1L321.9,172.4L322.1,170.9L322.1,170.7L321.8,169.4L321.7,169.1L321.5,168.3L320.9,167.5L320.8,167.5L320.3,166.7L319.6,166.2L318.8,165.9L318.7,165.8L318.0,165.3L317.1,165.0L316.1,164.8L315.0,164.7L313.9,164.6L312.7,164.6L311.6,164.6L310.4,164.6L309.1,164.6L307.9,164.6L306.6,164.7L305.3,164.8L304.0,164.9L302.6,165.1L301.1,165.3L299.6,165.5L299.2,165.9L297.3,167.5L295.4,169.1L293.7,170.7L292.9,171.7L294.7,171.0L295.8,170.7L296.4,170.6L298.0,170.3L299.5,170.2L300.9,170.0L302.2,170.0L303.4,170.0L304.6,170.1L305.8,170.3L306.8,170.6L307.3,170.7L307.8,171.0L308.6,171.6L309.2,172.4L309.2,172.4L308.9,174.1L307.0,175.6L306.8,175.8L305.1,176.5L303.3,177.1L302.1,177.5L301.6,177.6L300.1,177.8L298.6,178.0L297.2,178.1L295.8,178.2L294.4,178.1L293.1,178.0L291.8,177.8L290.6,177.6L290.3,177.5L289.6,177.1L288.7,176.5L288.0,177.5L286.8,179.2L285.7,180.9L284.8,182.5L285.3,182.6ZM482.6,181.4L484.3,181.7L485.8,182.1L487.4,182.3L488.9,182.5L488.0,180.9L486.9,179.2L485.7,177.5L485.0,176.5L483.2,175.8L482.9,175.6L480.9,174.1L480.3,172.5L480.3,172.4L480.8,171.7L480.0,170.7L478.3,169.1L476.4,167.5L474.5,165.9L474.1,165.5L473.2,165.8L473.0,165.9L472.3,166.0L471.4,166.4L470.6,166.7L469.9,167.2L469.6,167.5L469.2,167.7L468.6,168.3L468.0,169.0L468.0,169.1L467.6,169.9L467.3,170.7L467.3,171.1L467.4,172.4L468.2,174.0L468.3,174.1L468.4,174.2L470.1,175.8L471.5,176.8L472.6,177.5L473.7,178.1L475.7,179.0L476.1,179.2L477.5,179.8L479.3,180.4L481.0,180.9L481.0,180.9ZM434.4,176.1L435.9,176.4L437.3,176.6L438.7,176.8L440.1,176.9L441.5,176.9L442.9,176.9L444.2,176.8L445.5,176.7L446.8,176.5L448.0,176.2L449.2,175.9L449.5,175.8L450.3,175.4L451.4,174.8L452.3,174.1L452.3,174.1L452.7,172.5L452.7,172.4L452.5,172.2L451.2,170.7L449.6,169.8L448.2,169.1L447.6,168.9L445.9,168.2L444.2,167.7L443.5,167.5L442.6,167.2L441.1,166.7L439.6,166.4L438.2,166.2L436.9,166.0L435.6,165.9L435.6,165.8L434.1,165.5L432.7,165.2L431.2,164.8L430.2,164.3L430.8,164.2L431.9,164.0L432.9,163.8L433.8,163.4L434.5,162.8L434.6,162.7L435.4,162.4L436.2,162.0L436.9,161.5L437.4,161.2L437.6,161.0L438.1,160.3L438.5,159.7L438.4,159.5L437.9,158.3L436.1,157.2L435.4,156.8L434.1,156.4L432.5,155.9L431.0,155.5L431.0,155.5L429.6,155.2L428.3,154.9L427.1,154.7L425.8,154.5L424.6,154.3L423.8,154.2L423.5,154.1L422.3,154.0L421.2,153.9L420.2,153.8L419.1,153.7L418.1,153.6L417.0,153.5L416.0,153.4L415.0,153.4L414.1,153.3L413.1,153.3L412.1,153.3L411.2,153.2L410.2,153.2L409.3,153.2L408.4,153.2L407.4,153.2L406.5,153.3L405.6,153.3L404.7,153.3L403.8,153.4L402.9,153.4L401.9,153.5L401.0,153.6L400.1,153.7L399.2,153.7L398.3,153.9L397.4,154.0L396.5,154.1L396.0,154.2L395.6,154.3L394.6,154.4L393.7,154.6L392.8,154.8L391.8,155.1L390.8,155.3L390.1,155.5L389.9,155.6L388.9,155.9L387.9,156.3L386.9,156.7L386.5,156.8L385.8,157.3L384.7,158.0L384.2,158.3L383.6,158.9L382.4,159.7L382.4,159.7L381.3,160.1L380.2,160.4L379.0,160.5L377.9,160.6L376.7,160.7L375.6,160.7L374.5,160.8L373.4,160.7L372.3,160.7L371.2,160.6L370.1,160.6L369.0,160.4L367.9,160.2L366.9,160.0L366.3,159.7L366.0,159.5L365.2,158.8L364.8,158.3L364.5,158.0L363.7,157.4L363.2,156.8L363.0,156.8L362.2,156.4L361.4,156.0L360.6,155.7L360.1,155.5L359.8,155.4L359.0,155.2L358.2,155.0L357.4,154.8L356.5,154.6L355.7,154.5L354.8,154.4L353.9,154.3L353.1,154.2L353.0,154.2L352.2,154.1L351.3,154.1L350.3,154.0L349.4,154.0L348.4,154.0L347.5,154.0L346.5,154.1L345.5,154.1L344.4,154.2L344.2,154.2L343.3,154.2L342.2,154.3L341.1,154.5L339.9,154.6L338.7,154.8L337.4,155.0L336.1,155.2L334.7,155.5L334.7,155.5L333.1,155.9L331.5,156.4L329.8,156.8L329.7,156.9L326.9,158.2L326.9,158.3L326.8,158.3L325.5,159.7L325.5,160.3L325.9,161.1L326.0,161.2L326.5,161.6L327.3,161.9L328.2,162.2L329.1,162.4L330.1,162.5L331.1,162.7L331.6,162.7L332.2,162.8L333.3,162.9L334.3,163.0L335.4,163.1L336.6,163.2L337.7,163.2L338.8,163.3L339.9,163.3L341.1,163.4L342.2,163.4L343.3,163.5L344.5,163.6L345.6,163.6L346.7,163.7L347.8,163.9L348.9,164.1L349.8,164.3L349.9,164.4L350.7,165.2L350.8,165.9L350.3,167.5L350.0,169.1L350.0,169.1L350.6,170.7L350.6,170.8L351.6,171.7L352.5,172.4L352.6,172.5L353.8,173.0L355.0,173.5L356.2,173.9L356.8,174.1L357.4,174.3L358.7,174.6L360.0,174.8L361.3,175.0L362.6,175.2L363.9,175.3L365.2,175.4L366.6,175.5L367.9,175.6L369.3,175.6L370.6,175.6L372.0,175.6L373.3,175.6L374.7,175.5L376.0,175.4L377.4,175.3L378.8,175.2L380.1,175.0L381.5,174.8L382.8,174.6L384.2,174.3L384.8,174.1L385.5,173.9L386.9,173.5L388.2,173.0L389.5,172.5L389.6,172.4L390.8,171.7L392.0,170.8L392.1,170.7L393.2,169.1L393.2,168.9L393.5,167.5L393.6,165.9L394.1,165.1L395.2,164.4L395.5,164.3L396.3,164.1L397.5,164.0L398.7,163.9L399.9,163.9L401.0,163.9L402.2,163.9L403.4,163.9L404.6,163.9L405.8,163.9L407.0,164.0L408.2,164.0L409.4,164.0L410.6,164.0L411.8,164.1L413.0,164.1L414.1,164.1L415.3,164.1L416.5,164.1L417.7,164.2L418.9,164.2L420.1,164.2L421.4,164.3L422.1,164.3L422.6,164.3L423.8,164.4L425.0,164.4L426.3,164.5L427.5,164.6L428.8,164.8L430.3,165.3L430.9,165.9L430.7,165.9L429.6,166.1L428.6,166.5L427.9,167.4L427.8,167.5L427.0,168.2L426.5,169.1L426.4,169.4L426.1,170.7L426.7,172.4L428.1,173.6L428.7,174.1L429.8,174.6L431.4,175.3L432.9,175.8L433.0,175.8Z" fill="#e4e5f0"/><path d="M442.5,239.1L443.5,239.5L444.6,239.8L445.7,240.0L446.8,240.2L448.0,240.4L449.2,240.5L450.4,240.6L451.7,240.6L452.9,240.6L454.2,240.6L455.5,240.6L456.9,240.5L458.3,240.3L459.7,240.1L461.2,239.9L462.7,239.6L464.3,239.2L464.8,239.1L465.2,238.0L465.5,237.4L464.6,237.1L463.5,236.8L462.4,236.5L461.2,236.3L460.0,236.1L458.8,236.0L457.5,235.9L456.2,235.8L454.9,235.8L453.5,235.9L452.1,236.0L450.7,236.1L449.3,236.3L447.8,236.5L446.4,236.8L444.9,237.1L443.6,237.4L442.7,238.6L442.4,239.1ZM370.8,219.0L372.2,219.3L373.7,219.5L375.2,219.7L376.6,219.8L378.1,219.9L379.6,219.9L381.0,219.8L382.5,219.7L383.9,219.5L385.4,219.2L386.9,218.8L387.6,218.6L388.3,218.3L389.8,217.6L390.8,216.9L391.3,215.9L391.6,215.2L391.3,214.7L390.4,213.5L389.8,213.1L388.3,212.3L387.3,211.8L386.9,211.6L385.4,211.1L383.9,210.6L382.4,210.3L380.9,210.1L380.6,210.0L379.4,209.8L377.9,209.7L376.4,209.6L375.0,209.6L373.5,209.7L372.0,210.0L371.8,210.0L370.5,210.3L369.0,210.7L367.6,211.4L367.0,211.8L366.1,212.4L364.9,213.5L364.7,214.7L364.6,215.2L364.7,215.3L365.9,216.9L366.3,217.1L367.8,217.9L369.3,218.5L369.6,218.6ZM308.4,213.5L309.9,213.6L311.4,213.6L312.9,213.6L314.4,213.6L315.8,213.5L316.7,213.5L317.3,213.4L318.8,213.3L320.2,213.1L321.7,212.9L323.1,212.6L324.6,212.2L326.0,211.8L326.0,211.7L327.5,210.8L328.5,210.0L328.5,208.3L327.3,207.2L326.6,206.6L325.8,206.1L324.3,205.4L323.3,204.9L322.8,204.6L321.3,203.7L320.5,203.2L319.9,201.5L320.5,199.8L320.9,198.0L320.5,196.3L320.3,196.1L319.0,194.7L318.9,194.6L317.6,193.9L316.2,193.2L315.4,192.9L314.9,192.7L313.5,192.3L312.1,191.9L310.7,191.6L309.2,191.4L307.9,191.2L307.8,191.2L306.4,191.0L305.0,190.8L303.5,190.7L302.1,190.6L300.6,190.5L299.2,190.4L297.7,190.4L296.3,190.4L294.8,190.4L293.4,190.4L291.9,190.4L290.4,190.4L289.0,190.5L287.5,190.5L286.0,190.6L284.5,190.7L283.0,190.7L281.6,190.8L281.5,191.2L281.0,192.9L280.6,194.6L280.6,194.6L281.1,194.6L282.1,194.5L283.6,194.5L285.1,194.4L286.6,194.3L288.1,194.2L289.6,194.1L291.1,194.1L292.5,194.1L294.0,194.1L295.5,194.1L296.9,194.2L298.4,194.3L299.8,194.5L300.9,194.6L301.3,194.7L302.7,195.0L304.1,195.4L305.5,196.0L306.3,196.3L306.9,196.9L307.7,198.0L307.2,199.8L306.5,200.7L305.9,201.5L304.9,202.8L304.6,203.2L304.2,204.9L304.9,205.7L306.4,206.5L306.7,206.6L307.9,207.1L309.4,207.5L310.9,207.9L312.4,208.3L311.0,209.2L309.5,209.4L308.0,209.4L306.5,209.2L305.0,208.9L303.5,208.7L302.0,208.4L301.5,208.3L300.5,208.0L299.0,207.8L297.5,207.6L296.0,207.5L294.5,207.4L293.0,207.4L291.6,207.4L290.1,207.3L288.6,207.3L287.1,207.2L285.6,207.2L284.1,207.1L282.6,207.0L281.1,207.0L279.6,206.8L279.7,208.3L279.8,210.0L280.0,211.0L281.5,211.1L282.9,211.2L284.4,211.3L285.9,211.4L287.4,211.5L288.9,211.6L290.4,211.7L290.5,211.8L291.9,211.9L293.4,212.1L294.9,212.2L296.4,212.4L297.9,212.6L299.5,212.8L301.0,212.9L302.5,213.1L303.9,213.2L305.4,213.4L306.9,213.5L307.2,213.5ZM486.4,210.3L487.9,210.4L489.3,210.6L490.8,210.7L492.3,210.9L493.7,211.0L493.9,210.0L494.0,208.3L494.1,206.8L492.6,206.7L491.7,206.6L491.1,206.6L489.6,206.4L488.2,206.2L486.7,206.0L485.2,205.8L483.7,205.6L482.2,205.3L480.7,205.0L480.0,204.9L479.2,204.7L477.7,204.4L476.2,204.1L474.7,203.7L473.2,203.3L472.8,203.2L471.7,202.7L470.2,202.1L469.0,201.5L468.7,201.1L467.6,199.8L468.5,198.4L468.7,198.0L469.9,197.5L471.3,197.0L472.7,196.6L473.7,196.3L474.1,196.2L475.6,196.0L477.0,195.8L478.5,195.7L479.9,195.5L481.4,195.4L482.9,195.3L484.3,195.2L485.8,195.1L487.2,195.0L488.7,194.9L490.2,194.8L491.6,194.7L493.1,194.6L493.1,194.6L492.7,192.9L492.2,191.2L492.1,190.8L490.7,190.9L489.2,190.9L487.8,191.0L486.4,191.1L484.9,191.1L483.9,191.2L483.5,191.2L482.0,191.2L480.6,191.3L479.1,191.3L477.6,191.4L476.2,191.5L474.8,191.5L473.3,191.6L471.9,191.7L470.4,191.9L469.0,192.0L467.5,192.1L466.1,192.3L464.7,192.5L463.2,192.7L461.8,192.9L461.5,192.9L460.4,193.0L458.9,193.1L457.4,193.1L456.0,193.0L455.3,192.9L454.4,192.7L452.9,192.3L451.3,191.6L450.5,191.2L449.7,190.9L448.2,190.2L446.6,189.6L446.2,189.5L445.1,189.1L443.6,188.7L442.1,188.4L440.6,188.1L439.1,187.9L437.7,187.8L437.6,187.7L436.1,187.6L434.7,187.5L433.2,187.5L431.8,187.5L430.3,187.6L429.0,187.8L428.9,187.8L427.5,187.9L426.0,188.1L424.6,188.4L423.2,188.8L421.8,189.3L421.4,189.5L420.4,190.0L419.0,190.9L418.6,191.2L417.7,192.8L417.6,192.9L417.7,193.2L418.2,194.6L419.4,195.6L420.4,196.3L420.9,196.6L422.4,197.2L423.9,197.7L425.4,198.0L425.4,198.1L426.9,198.4L428.4,198.6L429.9,198.8L431.4,199.0L432.9,199.1L434.4,199.2L435.9,199.2L437.3,199.2L438.8,199.2L440.3,199.2L441.8,199.1L443.3,199.1L444.8,199.1L446.3,199.1L447.7,199.2L449.2,199.4L450.2,199.8L450.8,200.0L452.3,200.7L453.4,201.5L453.8,201.7L455.3,202.6L456.5,203.2L456.9,203.3L458.4,203.9L459.9,204.5L461.0,204.9L461.4,205.0L462.8,205.4L464.3,205.8L465.8,206.2L467.3,206.6L467.5,206.6L468.8,206.9L470.2,207.3L471.7,207.6L473.2,207.9L474.7,208.2L475.2,208.3L476.1,208.5L477.6,208.9L479.1,209.1L480.5,209.4L482.0,209.6L483.5,209.8L484.9,210.0L485.0,210.0ZM363.0,204.9L364.5,205.3L366.0,205.6L367.5,205.8L369.0,205.9L370.5,205.9L372.0,205.8L373.4,205.7L374.9,205.3L376.2,204.9L376.4,204.8L377.9,204.4L379.4,203.7L380.4,203.2L380.9,202.9L382.4,201.9L383.0,201.5L383.9,200.4L384.3,199.8L384.8,198.0L384.3,196.3L383.9,195.8L382.9,194.6L382.4,194.2L381.0,193.3L380.2,192.9L379.5,192.6L378.0,192.1L376.6,191.6L375.1,191.3L374.3,191.2L373.7,191.1L372.2,190.9L370.8,190.8L369.3,190.8L367.8,190.8L366.4,190.9L364.9,191.1L364.2,191.2L363.4,191.3L361.9,191.6L360.4,192.0L358.9,192.6L358.2,192.9L357.4,193.3L355.9,194.2L355.4,194.6L354.3,195.7L353.8,196.3L353.3,198.0L353.7,199.8L354.1,200.3L355.1,201.5L355.6,201.9L357.1,202.8L357.8,203.2L358.5,203.5L360.0,204.1L361.5,204.6L362.9,204.9Z" fill="#fbe9ce"/><path d="M302.0,208.4L303.5,208.7L305.0,208.9L306.5,209.2L308.0,209.4L309.5,209.4L311.0,209.2L312.4,208.3L310.9,207.9L309.4,207.5L307.9,207.1L306.7,206.6L306.4,206.5L304.9,205.7L304.2,204.9L304.6,203.2L304.9,202.8L305.9,201.5L306.5,200.7L307.2,199.8L307.7,198.0L306.9,196.9L306.3,196.3L305.5,196.0L304.1,195.4L302.7,195.0L301.3,194.7L300.9,194.6L299.8,194.5L298.4,194.3L296.9,194.2L295.5,194.1L294.0,194.1L292.5,194.1L291.1,194.1L289.6,194.1L288.1,194.2L286.6,194.3L285.1,194.4L283.6,194.5L282.1,194.5L281.1,194.6L280.6,194.6L280.3,196.3L280.0,198.0L279.9,199.1L281.4,199.0L282.9,198.8L284.4,198.7L285.9,198.6L287.4,198.6L288.9,198.7L290.3,198.9L291.8,199.5L292.2,199.8L291.7,200.1L290.1,201.1L289.4,201.5L288.6,201.6L287.1,201.9L285.6,202.0L284.1,202.1L282.6,202.1L281.2,202.0L279.7,201.9L279.6,203.2L279.6,204.9L279.6,206.6L279.6,206.8L281.1,207.0L282.6,207.0L284.1,207.1L285.6,207.2L287.1,207.2L288.6,207.3L290.1,207.3L291.6,207.4L293.0,207.4L294.5,207.4L296.0,207.5L297.5,207.6L299.0,207.8L300.5,208.0L301.5,208.3ZM492.6,206.7L494.1,206.8L494.1,206.6L494.2,204.9L494.1,203.2L494.0,201.9L492.5,201.7L491.0,201.5L490.7,201.5L489.6,199.8L490.9,199.6L492.3,199.3L493.8,199.1L493.7,198.0L493.4,196.3L493.1,194.6L491.6,194.7L490.2,194.8L488.7,194.9L487.2,195.0L485.8,195.1L484.3,195.2L482.9,195.3L481.4,195.4L479.9,195.5L478.5,195.7L477.0,195.8L475.6,196.0L474.1,196.2L473.7,196.3L472.7,196.6L471.3,197.0L469.9,197.5L468.7,198.0L468.5,198.4L467.6,199.8L468.7,201.1L469.0,201.5L470.2,202.1L471.7,202.7L472.8,203.2L473.2,203.3L474.7,203.7L476.2,204.1L477.7,204.4L479.2,204.7L480.0,204.9L480.7,205.0L482.2,205.3L483.7,205.6L485.2,205.8L486.7,206.0L488.2,206.2L489.6,206.4L491.1,206.6L491.7,206.6Z" fill="#fed6a1"/><path d="M281.2,202.0L282.6,202.1L284.1,202.1L285.6,202.0L287.1,201.9L288.6,201.6L289.4,201.5L290.1,201.1L291.7,200.1L292.2,199.8L291.8,199.5L290.3,198.9L288.9,198.7L287.4,198.6L285.9,198.6L284.4,198.7L282.9,198.8L281.4,199.0L279.9,199.1L279.8,199.8L279.7,201.5L279.7,201.9ZM491.0,201.5L492.5,201.7L494.0,201.9L494.0,201.5L493.9,199.8L493.8,199.1L492.3,199.3L490.9,199.6L489.6,199.8L490.7,201.5Z" fill="#fdbd6d"/>
<use href="#clim" transform="translate(386.85,204.9)" fill="none" stroke="#333" stroke-width="0.45"/>
<use href="#clab" transform="translate(386.85,204.9)"/>
<use href="#coast" transform="translate(386.85,204.9)" fill="none" stroke="#000" stroke-width="0.62" stroke-linejoin="round"/>
<use href="#lakes" transform="translate(386.85,204.9)" fill="none" stroke="#111" stroke-width="0.4"/>
</g>
<use href="#bnd" transform="translate(386.85,204.9)" fill="none" stroke="#999" stroke-width="0.5"/>
<text x="386.9" y="143.1" font-family="Liberation Sans" font-weight="bold" font-size="7.95" fill="#2f4f4f" text-anchor="middle">e) IFS-NEMO</text>
<g clip-path="url(#c5)">
<rect x="277.55" y="277.6" width="218.6" height="120" fill="#f7f7f7"/><path d="M306.2,363.3L306.8,363.3L306.2,363.3L305.7,363.3Z" fill="#b7b1d5"/><path d="M289.4,365.1L290.9,365.2L292.3,365.3L293.8,365.4L295.2,365.5L296.6,365.6L298.0,365.7L299.4,365.7L300.9,365.8L302.2,365.8L303.6,365.9L305.0,365.9L306.4,365.9L307.8,365.9L309.1,365.9L310.5,365.9L311.8,365.9L313.2,365.8L314.5,365.8L315.8,365.7L317.2,365.7L318.5,365.6L319.8,365.5L321.1,365.4L322.5,365.3L323.8,365.2L325.1,365.1L326.1,365.0L326.4,365.0L327.7,364.8L329.0,364.6L330.3,364.5L331.6,364.3L332.9,364.1L334.3,363.9L335.6,363.8L336.9,363.6L338.2,363.4L339.2,363.3L338.1,363.0L336.5,362.5L335.0,361.9L334.1,361.6L333.4,361.5L332.0,361.4L330.5,361.2L329.1,361.0L327.6,360.8L326.1,360.6L324.6,360.4L323.2,360.3L321.7,360.1L320.2,359.9L319.9,359.9L318.7,359.8L317.2,359.6L315.8,359.5L314.3,359.3L312.8,359.2L311.4,359.1L309.9,359.0L308.5,359.0L307.0,358.9L305.6,358.9L304.2,358.9L302.8,358.9L301.3,358.9L299.9,359.0L298.5,359.0L297.1,359.1L295.8,359.2L294.4,359.3L293.0,359.5L291.7,359.6L290.3,359.8L289.3,359.9L289.0,359.9L287.7,360.1L286.4,360.3L285.0,360.4L285.7,361.6L286.8,363.3L287.9,365.0L288.5,365.0ZM305.7,363.3L306.2,363.3L306.8,363.3L306.2,363.3ZM474.4,363.4L475.7,363.5L477.0,363.7L478.2,363.9L479.5,364.1L480.8,364.2L482.0,364.4L483.3,364.6L484.5,364.8L485.8,365.0L486.9,363.3L488.0,361.6L488.7,360.4L487.1,360.6L485.6,360.8L484.1,361.0L482.6,361.2L481.1,361.4L479.6,361.5L478.9,361.6L478.0,362.0L476.2,362.6L474.5,363.1L474.0,363.3ZM301.3,306.8L302.6,306.9L303.9,306.9L305.3,306.9L305.9,306.8L307.0,306.4L309.1,305.3L309.4,305.1L309.3,305.0L308.4,304.5L307.4,304.2L306.2,304.0L304.9,304.0L303.5,304.1L302.1,304.3L300.5,304.6L298.8,305.1L299.5,305.7L300.3,306.4L301.0,306.8Z" fill="#cfcee5"/><path d="M298.8,368.5L300.2,368.6L301.6,368.7L303.0,368.8L304.4,368.8L305.7,368.9L307.1,368.9L308.4,368.9L309.8,368.9L311.1,368.9L312.4,368.9L313.7,368.9L315.0,368.8L316.3,368.8L317.6,368.7L318.9,368.6L320.1,368.5L321.2,368.4L321.4,368.4L322.7,368.3L324.0,368.3L325.3,368.2L326.6,368.1L327.9,368.0L329.2,367.9L330.5,367.8L331.7,367.7L333.0,367.6L334.3,367.4L335.6,367.3L336.9,367.2L338.2,367.1L339.5,367.0L340.8,366.9L342.1,366.8L342.8,366.7L343.5,366.7L344.8,366.6L346.1,366.6L347.5,366.5L348.8,366.5L350.2,366.4L351.5,366.4L352.9,366.4L354.2,366.3L355.6,366.3L356.9,366.3L358.3,366.3L359.6,366.3L361.0,366.2L362.4,366.2L363.7,366.2L365.1,366.2L366.4,366.2L367.8,366.2L369.2,366.2L370.5,366.2L371.9,366.2L373.2,366.2L374.6,366.2L376.0,366.2L377.3,366.2L378.7,366.2L380.0,366.2L381.4,366.2L382.8,366.2L384.1,366.2L385.5,366.2L386.9,366.2L388.2,366.2L389.6,366.2L390.9,366.2L392.3,366.2L393.7,366.2L395.0,366.2L396.4,366.2L397.7,366.2L399.1,366.2L400.5,366.2L401.8,366.2L403.2,366.2L404.5,366.2L405.9,366.2L407.3,366.2L408.6,366.2L410.0,366.2L411.3,366.2L412.7,366.2L414.1,366.2L415.4,366.2L416.8,366.2L418.2,366.2L419.5,366.2L420.9,366.2L422.2,366.2L423.6,366.2L425.0,366.2L426.3,366.2L427.7,366.2L429.1,366.1L430.4,366.1L431.8,366.1L433.2,366.1L434.5,366.1L435.9,366.0L437.3,366.0L438.7,365.9L440.0,365.9L441.4,365.8L442.8,365.8L444.2,365.7L445.6,365.7L447.0,365.6L448.4,365.6L449.8,365.6L451.1,365.5L452.5,365.5L453.9,365.5L455.3,365.5L456.6,365.5L458.0,365.5L459.4,365.5L460.7,365.6L462.0,365.6L463.4,365.7L464.7,365.7L466.0,365.8L467.3,365.9L468.6,366.0L469.9,366.1L471.2,366.3L472.4,366.4L473.7,366.5L475.0,366.7L475.4,366.7L476.2,366.8L477.4,367.0L478.6,367.2L479.8,367.4L481.0,367.6L482.2,367.7L483.5,367.9L484.4,366.7L485.7,365.0L485.8,365.0L484.5,364.8L483.3,364.6L482.0,364.4L480.8,364.2L479.5,364.1L478.2,363.9L477.0,363.7L475.7,363.5L474.4,363.4L474.0,363.3L474.5,363.1L476.2,362.6L478.0,362.0L478.9,361.6L479.6,361.5L481.1,361.4L482.6,361.2L484.1,361.0L485.6,360.8L487.1,360.6L488.7,360.4L489.0,359.9L489.9,358.2L490.6,356.5L490.6,356.4L490.5,356.5L489.1,356.6L487.6,356.8L486.0,357.1L484.5,357.3L483.0,357.5L481.4,357.8L479.9,358.1L479.3,358.2L478.4,358.3L476.9,358.4L475.4,358.5L473.9,358.7L472.4,358.8L471.0,358.9L469.5,359.0L468.0,359.1L466.6,359.2L465.1,359.3L463.7,359.4L462.2,359.4L460.8,359.5L459.3,359.5L457.9,359.6L456.4,359.6L455.0,359.7L453.6,359.7L452.2,359.7L450.7,359.7L449.3,359.8L447.9,359.8L446.4,359.8L445.0,359.8L443.6,359.9L442.2,359.9L441.1,359.9L440.8,359.9L439.3,359.9L437.9,359.9L436.5,359.9L435.1,359.9L433.6,360.0L432.2,360.0L430.8,360.0L429.4,360.0L427.9,360.1L426.5,360.1L425.1,360.2L423.7,360.2L422.3,360.2L420.8,360.2L419.4,360.2L418.0,360.2L416.6,360.1L415.2,360.1L413.8,360.0L412.4,360.0L411.0,360.0L409.5,359.9L408.1,359.9L407.4,359.9L406.7,359.9L405.3,359.9L403.9,359.8L402.5,359.8L401.0,359.8L399.6,359.8L398.2,359.8L396.8,359.8L395.4,359.8L393.9,359.8L392.5,359.8L391.1,359.8L389.7,359.8L388.3,359.8L386.9,359.8L385.4,359.8L384.0,359.8L382.6,359.8L381.2,359.8L379.8,359.8L378.3,359.8L376.9,359.8L375.5,359.8L374.1,359.8L372.7,359.8L371.2,359.8L369.8,359.7L368.4,359.7L367.0,359.7L365.6,359.7L364.1,359.7L362.7,359.7L361.3,359.7L359.9,359.6L358.4,359.6L357.0,359.6L355.6,359.5L354.2,359.5L352.7,359.5L351.3,359.4L349.9,359.3L348.4,359.3L347.0,359.2L345.6,359.1L344.1,359.0L342.7,358.9L341.2,358.8L339.8,358.7L338.3,358.5L336.8,358.4L335.4,358.3L334.5,358.2L333.9,358.1L332.4,357.8L330.9,357.5L329.4,357.3L327.9,357.0L326.4,356.8L324.9,356.6L323.7,356.5L323.4,356.4L321.9,356.2L320.4,355.9L318.9,355.7L317.4,355.6L316.0,355.4L314.5,355.3L313.0,355.2L311.5,355.1L310.1,355.0L308.6,354.9L307.1,354.9L305.7,354.9L304.2,354.9L302.8,354.9L301.3,354.9L299.9,354.9L298.5,354.9L297.0,355.0L295.6,355.0L294.2,355.1L292.8,355.2L291.3,355.3L289.9,355.4L288.5,355.6L287.2,355.8L285.8,356.0L284.4,356.2L283.1,356.4L283.1,356.5L283.8,358.2L284.7,359.9L285.0,360.4L286.4,360.3L287.7,360.1L289.0,359.9L289.3,359.9L290.3,359.8L291.7,359.6L293.0,359.5L294.4,359.3L295.8,359.2L297.1,359.1L298.5,359.0L299.9,359.0L301.3,358.9L302.8,358.9L304.2,358.9L305.6,358.9L307.0,358.9L308.5,359.0L309.9,359.0L311.4,359.1L312.8,359.2L314.3,359.3L315.8,359.5L317.2,359.6L318.7,359.8L319.9,359.9L320.2,359.9L321.7,360.1L323.2,360.3L324.6,360.4L326.1,360.6L327.6,360.8L329.1,361.0L330.5,361.2L332.0,361.4L333.4,361.5L334.1,361.6L335.0,361.9L336.5,362.5L338.1,363.0L339.2,363.3L338.2,363.4L336.9,363.6L335.6,363.8L334.3,363.9L332.9,364.1L331.6,364.3L330.3,364.5L329.0,364.6L327.7,364.8L326.4,365.0L326.1,365.0L325.1,365.1L323.8,365.2L322.5,365.3L321.1,365.4L319.8,365.5L318.5,365.6L317.2,365.7L315.8,365.7L314.5,365.8L313.2,365.8L311.8,365.9L310.5,365.9L309.1,365.9L307.8,365.9L306.4,365.9L305.0,365.9L303.6,365.9L302.2,365.8L300.9,365.8L299.4,365.7L298.0,365.7L296.6,365.6L295.2,365.5L293.8,365.4L292.3,365.3L290.9,365.2L289.4,365.1L288.5,365.0L287.9,365.0L288.0,365.0L289.3,366.7L290.2,367.9L291.7,368.0L293.1,368.1L294.5,368.2L295.9,368.3L297.3,368.4L297.9,368.4ZM391.3,329.4L392.8,329.9L394.3,330.2L395.7,330.4L397.2,330.5L398.7,330.5L400.2,330.5L401.7,330.4L403.2,330.2L404.6,329.9L406.1,329.5L407.3,329.0L407.6,328.7L408.6,327.3L407.4,326.1L407.0,325.6L405.9,325.2L404.5,324.7L403.0,324.4L401.5,324.2L400.0,324.1L398.6,324.1L397.1,324.1L395.6,324.2L394.2,324.4L392.7,324.7L391.3,325.1L389.9,325.6L389.8,325.7L388.7,327.3L389.8,328.5L390.4,329.0ZM463.8,320.7L465.3,321.0L466.8,321.2L468.3,321.4L469.8,321.5L471.2,321.6L472.7,321.7L474.2,321.7L475.6,321.8L477.1,321.7L478.5,321.7L480.0,321.6L481.4,321.6L482.8,321.4L484.2,321.3L485.6,321.1L487.0,320.9L488.4,320.7L489.6,320.5L489.8,320.4L490.9,319.6L490.6,318.7L489.9,317.0L489.8,317.0L488.1,316.4L486.5,316.0L484.9,315.7L483.4,315.5L482.0,315.3L481.9,315.3L480.4,315.1L478.9,315.0L477.5,315.0L476.0,314.9L474.6,314.9L473.2,315.0L471.8,315.1L470.5,315.1L469.1,315.3L468.9,315.3L467.8,315.4L466.4,315.6L465.1,315.9L463.8,316.2L462.5,316.6L461.3,317.0L461.3,317.1L460.2,318.3L459.9,318.7L460.5,319.2L462.2,320.3L462.5,320.5ZM284.5,318.8L284.5,318.7L284.5,318.7L284.0,317.0L283.9,317.0L283.8,317.0L283.1,318.7L282.8,319.6ZM355.1,318.8L356.5,319.1L358.0,319.3L359.4,319.5L360.8,319.6L362.3,319.7L363.7,319.7L365.2,319.7L366.6,319.6L368.1,319.5L369.5,319.3L371.0,319.1L372.4,318.8L372.5,318.7L373.9,318.3L375.4,317.7L376.6,317.0L376.9,316.6L377.5,315.3L377.0,314.7L375.8,313.6L375.6,313.5L374.3,313.0L372.9,312.6L371.5,312.3L370.2,312.0L369.2,311.9L368.8,311.8L367.4,311.7L366.0,311.6L364.7,311.6L363.3,311.6L361.9,311.7L360.5,311.8L360.0,311.9L359.0,312.0L357.6,312.3L356.1,312.6L354.7,313.0L353.1,313.5L353.0,313.6L351.5,314.7L350.8,315.3L351.2,316.6L351.3,317.0L352.4,317.7L353.8,318.3L355.0,318.7ZM289.0,310.7L290.2,311.0L291.4,311.2L292.7,311.4L294.0,311.5L295.3,311.6L296.6,311.7L298.0,311.7L299.4,311.8L300.8,311.8L302.2,311.7L303.6,311.7L305.0,311.6L306.5,311.4L308.0,311.3L309.5,311.1L311.0,310.8L312.5,310.5L313.6,310.2L314.1,310.0L315.8,309.6L317.5,309.0L318.7,308.5L319.3,308.2L321.3,306.9L321.5,306.8L322.9,305.1L323.0,304.2L323.1,303.4L322.6,302.8L321.9,302.0L321.7,301.8L321.1,301.4L320.3,300.9L319.3,300.6L318.3,300.3L317.8,300.2L317.3,300.0L316.3,299.8L315.2,299.6L314.1,299.5L313.0,299.4L311.8,299.3L310.6,299.2L309.5,299.2L308.3,299.2L307.1,299.1L305.9,299.1L304.8,299.0L303.7,298.9L302.6,298.8L301.6,298.6L301.5,298.6L300.7,298.3L299.8,298.1L299.2,298.6L297.3,300.2L295.4,301.8L293.7,303.4L292.2,305.1L290.7,306.8L289.3,308.5L288.0,310.2L287.8,310.4ZM301.0,306.8L300.3,306.4L299.5,305.7L298.8,305.1L300.5,304.6L302.1,304.3L303.5,304.1L304.9,304.0L306.2,304.0L307.4,304.2L308.4,304.5L309.3,305.0L309.4,305.1L309.1,305.3L307.0,306.4L305.9,306.8L305.3,306.9L303.9,306.9L302.6,306.9L301.3,306.8ZM485.9,310.4L485.7,310.2L484.4,308.5L483.0,306.8L481.5,305.1L480.0,303.4L478.3,301.8L476.4,300.2L474.5,298.6L473.9,298.1L472.4,297.8L471.0,297.6L469.6,297.5L468.3,297.4L467.0,297.4L465.9,297.4L464.8,297.5L463.8,297.7L462.9,298.0L462.2,298.4L462.1,298.6L461.7,299.1L461.4,300.0L461.4,300.2L461.8,301.8L463.0,303.3L463.2,303.4L463.2,303.5L465.5,305.1L465.9,305.3L467.9,306.3L469.3,306.8L469.8,307.0L471.5,307.5L473.2,308.0L474.8,308.3L475.6,308.5L476.4,308.7L478.0,309.0L479.6,309.3L481.2,309.6L482.8,309.9L484.3,310.1L484.8,310.2ZM432.1,288.3L433.2,288.4L434.3,288.4L435.4,288.5L436.5,288.6L437.6,288.6L438.6,288.6L439.7,288.7L440.7,288.7L441.7,288.7L442.7,288.7L443.7,288.7L444.7,288.7L445.7,288.6L446.6,288.6L447.6,288.5L448.5,288.5L449.4,288.4L450.2,288.3L451.0,288.2L451.1,288.2L451.8,288.1L452.6,287.9L453.2,287.8L453.9,287.6L454.5,287.4L455.0,287.2L455.4,286.9L455.4,286.9L454.9,286.3L453.5,285.7L452.2,285.1L450.0,284.6L449.9,284.5L448.5,284.4L447.2,284.2L445.9,284.1L444.7,283.9L443.6,283.8L442.5,283.7L441.4,283.6L441.4,283.6L440.4,283.6L439.4,283.5L438.5,283.5L437.5,283.4L436.6,283.4L435.7,283.4L434.8,283.4L434.0,283.3L433.1,283.3L432.2,283.3L431.4,283.3L430.6,283.3L429.8,283.4L429.0,283.4L428.2,283.4L427.4,283.4L426.6,283.5L425.9,283.5L425.1,283.6L424.4,283.6L424.4,283.6L423.7,283.7L423.0,283.8L422.3,283.9L421.6,284.1L421.0,284.2L420.3,284.4L419.7,284.5L419.7,284.6L419.5,285.1L419.4,285.7L420.8,286.2L422.5,286.8L422.6,286.9L423.8,287.1L425.0,287.3L426.2,287.5L427.4,287.7L428.6,287.9L429.8,288.0L431.0,288.2L431.3,288.2ZM321.0,285.7L321.5,285.1L320.2,285.7L318.8,286.3Z" fill="#e4e5f0"/><path d="M366.8,387.1L367.9,387.1L368.9,387.2L369.9,387.2L370.9,387.3L371.9,387.3L372.9,387.4L374.0,387.4L375.0,387.4L376.0,387.5L377.0,387.5L378.0,387.5L378.9,387.5L379.9,387.6L380.9,387.6L381.9,387.6L382.9,387.6L383.9,387.6L384.9,387.6L385.9,387.6L386.9,387.6L387.8,387.6L388.8,387.6L389.8,387.6L390.8,387.6L391.8,387.6L392.8,387.6L393.8,387.6L394.8,387.5L395.7,387.5L396.7,387.5L397.7,387.5L398.7,387.4L399.7,387.4L400.8,387.4L401.8,387.3L402.8,387.3L403.8,387.2L404.8,387.2L405.8,387.1L406.9,387.1L407.7,387.0L407.9,387.0L409.0,386.9L410.0,386.8L411.1,386.7L412.2,386.6L413.3,386.5L414.4,386.4L415.5,386.2L416.6,386.1L417.8,385.9L419.0,385.7L419.6,385.7L419.2,385.5L418.4,385.1L417.6,384.7L416.7,384.4L416.2,384.2L415.8,384.2L414.8,384.1L413.8,384.0L412.7,383.9L411.7,383.8L410.7,383.7L409.6,383.7L408.5,383.6L407.5,383.5L406.4,383.5L405.4,383.4L404.3,383.4L403.2,383.3L402.1,383.3L401.0,383.3L400.0,383.2L398.9,383.2L397.8,383.2L396.7,383.2L395.6,383.1L394.5,383.1L393.4,383.1L392.3,383.1L391.2,383.1L390.1,383.1L389.0,383.1L387.9,383.1L386.9,383.1L385.8,383.1L384.7,383.1L383.6,383.1L382.5,383.1L381.4,383.1L380.3,383.1L379.2,383.1L378.1,383.1L377.0,383.1L375.9,383.2L374.8,383.2L373.7,383.2L372.7,383.2L371.6,383.3L370.5,383.3L369.4,383.4L368.3,383.4L367.3,383.5L366.2,383.5L365.1,383.6L364.1,383.6L363.0,383.7L362.0,383.8L361.0,383.9L359.9,384.0L358.9,384.1L357.9,384.2L357.4,384.2L357.0,384.4L356.1,384.7L355.3,385.1L354.5,385.4L354.1,385.7L354.7,385.7L355.9,385.9L357.1,386.1L358.2,386.2L359.3,386.4L360.4,386.5L361.5,386.6L362.6,386.7L363.7,386.8L364.7,386.9L365.8,387.0L366.0,387.0ZM338.1,378.3L339.4,378.4L340.7,378.6L342.0,378.7L343.2,378.8L344.4,378.9L345.7,379.0L346.9,379.1L348.1,379.1L349.3,379.2L350.5,379.2L351.7,379.3L352.9,379.3L354.1,379.3L355.3,379.4L356.5,379.4L357.6,379.4L358.8,379.4L360.0,379.4L361.2,379.4L362.3,379.4L363.5,379.4L364.7,379.4L365.8,379.4L367.0,379.4L368.1,379.3L369.3,379.3L370.5,379.3L371.6,379.2L372.8,379.2L373.9,379.1L375.1,379.1L376.3,379.0L377.4,378.9L378.6,378.8L379.8,378.7L380.9,378.6L382.1,378.5L383.3,378.3L383.9,378.2L384.5,378.1L385.7,377.9L386.9,377.6L388.1,377.3L389.3,376.9L390.2,376.6L389.3,376.0L388.1,375.3L387.7,375.0L386.9,374.9L385.6,374.7L384.3,374.5L383.1,374.3L381.8,374.2L380.6,374.0L379.3,373.9L378.0,373.8L376.7,373.7L375.5,373.6L374.2,373.6L372.9,373.5L371.6,373.4L370.5,373.4L370.3,373.4L369.1,373.3L367.8,373.3L366.5,373.2L365.2,373.2L363.9,373.2L362.7,373.2L361.4,373.1L360.1,373.1L358.8,373.1L357.6,373.1L356.3,373.1L355.0,373.2L353.8,373.2L352.5,373.2L351.2,373.3L350.0,373.3L348.7,373.4L348.2,373.4L347.5,373.4L346.3,373.5L345.0,373.5L343.8,373.6L342.6,373.7L341.4,373.8L340.2,373.9L339.0,374.0L337.8,374.1L336.6,374.3L335.4,374.4L334.3,374.6L333.2,374.8L332.1,375.0L331.8,375.0L331.2,375.5L330.5,376.2L330.1,376.6L331.0,376.9L332.5,377.2L334.0,377.6L335.4,377.9L336.8,378.1L337.5,378.2ZM446.4,373.5L447.6,373.7L448.7,373.8L449.9,373.9L451.2,374.0L452.4,374.0L453.7,374.0L455.0,373.9L456.3,373.8L457.7,373.7L459.1,373.5L459.7,373.4L460.6,373.3L462.1,373.0L463.8,372.6L465.5,372.0L466.3,371.8L467.9,370.1L467.4,369.7L466.4,369.2L465.5,368.7L464.8,368.4L464.4,368.3L463.1,368.2L461.9,368.0L460.6,367.9L459.3,367.8L458.0,367.7L456.7,367.7L455.4,367.7L454.0,367.7L452.6,367.8L451.2,367.9L449.8,368.0L448.4,368.2L447.0,368.3L446.5,368.4L445.5,368.7L443.9,369.2L442.2,369.8L441.6,370.1L441.5,371.1L441.5,371.8L442.2,372.2L443.2,372.7L444.2,373.0L445.3,373.3L445.8,373.4ZM417.1,356.5L418.5,356.7L419.9,356.9L421.4,357.0L422.8,357.0L424.3,356.9L425.7,356.7L427.1,356.5L427.2,356.4L428.7,356.1L430.2,355.7L431.7,355.3L433.2,354.9L433.7,354.7L434.7,354.5L436.2,354.1L437.7,353.8L439.3,353.4L440.6,353.0L440.8,353.0L442.3,352.5L443.8,352.0L445.4,351.4L445.7,351.3L446.9,350.8L448.5,350.1L449.5,349.6L450.1,349.3L451.7,348.4L452.7,347.9L453.3,347.5L454.9,346.5L455.4,346.2L456.5,345.0L457.3,344.5L458.1,343.4L459.7,342.8L459.9,342.7L461.2,342.7L462.6,342.7L463.3,342.7L464.1,342.8L465.6,343.0L467.1,343.2L468.5,343.4L470.0,343.7L471.5,343.9L472.9,344.2L474.4,344.4L474.6,344.5L475.8,344.8L477.3,345.1L478.7,345.5L480.1,345.8L481.6,346.1L481.8,346.2L483.0,346.5L484.4,346.8L485.8,347.1L487.3,347.4L488.7,347.7L490.1,347.9L490.2,347.9L491.5,348.1L493.0,348.3L493.1,347.9L493.4,346.2L493.7,344.5L493.7,344.1L492.3,343.7L490.8,343.3L489.4,342.9L488.7,342.7L487.9,342.6L486.5,342.2L485.0,341.8L483.5,341.5L482.1,341.1L481.8,341.0L480.6,340.8L479.1,340.5L477.7,340.2L476.2,339.8L474.7,339.5L474.0,339.3L473.2,339.1L471.8,338.8L470.3,338.4L468.8,338.0L467.4,337.6L467.3,337.6L465.8,337.0L464.3,336.4L463.1,335.9L462.8,335.6L461.3,334.5L460.9,334.2L460.5,332.5L461.1,331.7L461.9,330.7L462.5,330.5L463.9,329.8L465.3,329.3L466.0,329.0L466.7,328.8L468.2,328.5L469.6,328.2L471.0,328.0L472.5,327.8L473.9,327.6L475.4,327.5L476.8,327.3L477.0,327.3L478.3,327.2L479.8,327.1L481.2,327.1L482.7,327.0L484.2,327.0L485.6,327.0L487.1,327.0L488.6,327.0L490.0,327.0L491.5,327.0L493.0,327.0L492.7,325.6L492.4,324.4L490.9,324.4L489.4,324.4L488.0,324.5L486.5,324.5L485.1,324.5L483.6,324.6L482.2,324.6L480.7,324.6L479.2,324.7L477.8,324.7L476.3,324.8L474.9,324.8L473.4,324.9L472.0,325.0L470.5,325.1L469.1,325.1L467.6,325.2L466.2,325.3L464.7,325.5L463.5,325.6L463.3,325.6L461.8,325.8L460.4,326.0L459.0,326.2L457.5,326.4L456.1,326.7L454.7,327.0L453.6,327.3L453.3,327.4L451.8,327.8L450.4,328.3L449.0,328.8L448.4,329.0L447.6,329.7L446.9,330.7L446.8,332.5L447.4,334.2L447.9,334.8L448.7,335.9L449.4,336.7L450.4,337.6L450.9,338.7L451.5,339.3L450.9,339.7L449.4,340.0L447.9,340.1L446.4,340.1L444.9,340.1L443.4,340.0L441.9,340.0L440.5,340.0L439.0,340.0L437.5,339.9L436.0,339.9L434.5,339.9L433.0,339.9L431.5,339.9L430.0,340.0L428.5,340.0L427.1,340.1L425.6,340.1L424.1,340.2L422.6,340.3L421.1,340.5L419.6,340.6L418.1,340.8L416.9,341.0L416.6,341.1L415.1,341.3L413.6,341.6L412.1,341.9L410.6,342.4L409.4,342.7L409.1,342.9L407.6,343.7L406.4,344.5L406.1,345.1L405.7,346.2L406.1,347.2L406.3,347.9L407.4,349.4L407.5,349.6L408.8,351.1L409.0,351.3L410.2,352.5L410.7,353.0L411.6,353.7L413.0,354.7L413.0,354.7L414.3,355.5L415.7,356.0L417.1,356.5ZM419.4,351.3L419.5,349.6L420.7,347.9L420.8,347.8L422.3,346.8L423.8,346.2L423.8,346.2L425.3,345.9L426.8,345.7L428.3,345.7L429.8,345.8L431.3,346.1L431.5,346.2L431.2,346.6L430.6,347.9L429.6,348.7L428.8,349.6L427.9,350.2L426.9,351.3L426.3,351.6L424.8,352.3L423.3,352.7L421.9,352.7L420.4,352.1ZM282.2,348.5L283.8,348.7L285.3,348.8L286.8,349.0L288.3,349.1L289.7,349.2L291.2,349.2L292.7,349.3L294.2,349.3L295.7,349.3L297.1,349.4L298.6,349.4L300.1,349.4L301.6,349.4L303.0,349.3L304.5,349.3L305.9,349.2L307.4,349.2L308.9,349.1L310.3,349.0L311.8,348.9L313.2,348.8L314.7,348.7L316.1,348.5L317.6,348.4L319.0,348.2L320.5,347.9L320.7,347.9L321.9,347.7L323.4,347.5L324.8,347.3L326.3,347.0L327.7,346.7L329.1,346.3L329.5,346.2L330.6,345.9L332.0,345.5L333.5,344.9L334.6,344.5L334.9,344.3L336.4,343.4L337.3,342.7L337.8,341.6L338.0,341.0L337.7,340.7L336.7,339.3L336.2,339.0L334.7,338.2L333.4,337.6L333.2,337.5L331.7,336.9L330.2,336.3L328.9,335.9L328.8,335.8L327.3,335.1L325.8,334.3L325.6,334.2L324.4,333.1L323.8,332.5L323.0,331.6L322.3,330.7L321.6,330.2L320.2,329.1L320.1,329.0L318.9,328.3L317.5,327.7L316.5,327.3L316.1,327.1L314.7,326.7L313.2,326.3L311.8,326.0L310.4,325.7L309.8,325.6L309.0,325.4L307.6,325.2L306.1,325.0L304.7,324.8L303.3,324.7L301.8,324.6L300.4,324.5L298.9,324.4L297.5,324.4L296.0,324.3L294.5,324.3L293.1,324.3L291.6,324.3L290.2,324.3L288.7,324.3L287.2,324.3L285.7,324.3L284.3,324.3L282.8,324.3L281.3,324.4L281.0,325.6L280.7,327.0L282.2,327.1L283.6,327.1L285.1,327.2L286.5,327.2L288.0,327.3L288.1,327.3L289.5,327.4L290.9,327.4L292.4,327.5L293.9,327.6L295.3,327.7L296.8,327.8L298.2,327.9L299.7,328.1L301.1,328.2L302.6,328.4L304.0,328.7L305.5,329.0L305.8,329.0L306.9,329.3L308.3,329.8L309.7,330.4L310.5,330.7L311.2,331.3L312.5,332.5L312.5,332.5L313.7,334.2L313.9,334.4L315.4,335.8L315.4,335.9L316.8,336.6L318.3,337.3L319.0,337.6L319.8,337.9L321.3,338.6L322.8,339.2L323.1,339.3L324.3,340.4L325.0,341.0L324.4,341.9L323.8,342.7L323.0,343.1L321.5,343.6L320.1,344.1L318.9,344.5L318.6,344.5L317.2,344.8L315.7,345.1L314.2,345.3L312.8,345.5L311.3,345.7L309.9,345.8L308.4,345.9L306.9,346.0L305.4,346.1L304.0,346.2L303.8,346.2L302.5,346.2L301.0,346.2L299.5,346.2L298.1,346.2L296.6,346.2L296.5,346.2L295.1,346.1L293.6,346.0L292.1,345.9L290.6,345.8L289.1,345.6L287.6,345.4L286.1,345.2L284.6,345.0L283.0,344.7L281.8,344.5L281.5,344.4L280.0,344.1L280.0,344.5L280.3,346.2L280.6,347.9L280.7,348.3ZM364.7,347.9L366.2,348.5L367.7,348.9L369.2,349.1L370.7,349.3L372.1,349.3L373.6,349.3L375.1,349.1L376.5,348.9L378.0,348.5L379.5,348.0L379.7,347.9L380.9,347.2L382.2,346.2L382.4,345.7L382.9,344.5L382.4,343.3L382.2,342.7L380.9,341.8L379.6,341.0L379.4,340.9L377.9,340.4L376.4,340.0L374.9,339.7L373.4,339.6L372.0,339.5L370.5,339.6L369.0,339.7L367.5,340.0L366.0,340.4L364.5,341.0L364.4,341.0L363.1,341.9L362.0,342.7L361.6,343.8L361.4,344.5L361.7,345.0L362.2,346.2L363.2,347.0L364.7,347.9ZM372.0,334.2L372.2,334.2L373.5,334.1L374.9,333.9L376.4,333.6L377.9,333.1L379.0,332.5L379.4,331.7L379.9,330.7L379.4,330.3L378.3,329.0L378.0,328.9L376.5,328.2L375.0,327.9L373.6,327.7L372.1,327.6L370.6,327.6L369.1,327.8L367.6,328.0L366.2,328.5L365.0,329.0L364.6,329.4L363.6,330.7L364.6,332.2L364.7,332.5L366.0,333.1L367.5,333.6L369.0,334.0L370.5,334.1L371.8,334.2ZM426.8,329.0L428.3,329.3L429.8,329.5L431.3,329.7L432.8,329.7L434.3,329.7L435.7,329.6L437.2,329.5L438.7,329.3L439.9,329.0L440.1,329.0L441.6,328.5L442.9,327.6L443.2,327.3L442.8,325.6L442.7,325.5L441.0,323.9L441.0,323.9L439.4,323.1L437.9,322.4L437.2,322.2L436.4,321.9L434.9,321.6L433.4,321.4L431.9,321.2L430.4,321.2L429.0,321.2L427.6,321.4L426.1,321.6L424.7,321.9L424.0,322.2L423.3,322.5L421.9,323.3L421.3,323.9L421.0,325.6L422.2,327.1L422.5,327.3L423.8,328.0L425.3,328.6L426.8,329.0ZM366.1,303.5L367.4,303.6L368.7,303.7L370.0,303.7L371.3,303.8L372.6,303.8L373.9,303.8L375.2,303.8L376.5,303.8L377.8,303.7L379.1,303.7L380.4,303.6L381.7,303.5L382.5,303.4L383.0,303.4L384.3,303.3L385.6,303.3L386.9,303.2L388.1,303.1L389.4,303.0L390.7,303.0L392.0,302.9L393.3,302.8L394.6,302.8L395.8,302.8L397.1,302.8L398.4,302.8L399.7,302.8L401.0,302.8L402.3,302.8L403.5,302.8L404.8,302.9L406.1,302.9L407.4,302.9L408.7,303.0L410.0,303.0L411.3,303.0L412.6,303.0L413.9,303.1L415.2,303.1L416.5,303.1L417.8,303.1L419.1,303.1L420.4,303.1L421.6,303.1L422.9,303.1L424.2,303.1L425.5,303.0L426.7,303.0L428.0,302.9L429.2,302.8L430.5,302.8L431.7,302.7L432.9,302.5L434.1,302.4L435.3,302.2L436.5,302.0L437.5,301.8L437.6,301.8L438.7,301.5L439.7,301.1L440.7,300.7L441.6,300.2L441.7,300.2L441.7,298.7L441.7,298.6L441.6,298.5L439.5,297.3L438.8,297.0L437.8,296.7L436.3,296.2L434.8,295.9L433.4,295.5L432.9,295.4L432.0,295.3L430.7,295.0L429.4,294.8L428.1,294.6L426.8,294.4L425.6,294.2L424.3,294.1L423.1,293.9L423.0,293.9L421.8,293.7L420.6,293.6L419.4,293.4L418.2,293.3L417.0,293.2L415.8,293.1L414.7,292.9L413.5,292.8L412.4,292.7L411.2,292.7L410.1,292.6L408.9,292.5L407.8,292.5L406.8,292.4L406.7,292.4L405.6,292.3L404.4,292.3L403.3,292.3L402.2,292.3L401.1,292.3L400.0,292.3L398.9,292.3L397.9,292.3L396.8,292.4L396.1,292.4L395.7,292.4L394.6,292.5L393.5,292.6L392.4,292.7L391.3,292.8L390.2,292.9L389.1,293.1L388.0,293.2L386.9,293.4L385.7,293.6L384.6,293.9L384.4,293.9L383.4,294.1L382.3,294.3L381.1,294.5L380.0,294.7L378.8,294.9L377.6,295.1L376.4,295.3L375.9,295.4L375.2,295.5L374.0,295.6L372.8,295.7L371.6,295.8L370.5,295.9L369.3,296.0L368.1,296.1L366.9,296.1L365.7,296.1L364.6,296.0L363.5,295.8L362.4,295.6L361.9,295.4L361.4,295.2L360.4,294.8L359.4,294.4L358.5,294.1L357.9,293.9L357.5,293.8L356.5,293.5L355.4,293.4L354.4,293.3L353.3,293.3L352.1,293.3L350.9,293.4L349.7,293.6L348.5,293.9L348.3,293.9L346.9,294.4L345.3,295.0L344.4,295.4L343.2,296.4L342.5,297.0L342.2,298.0L342.0,298.6L342.5,299.4L343.2,300.2L343.3,300.2L344.3,300.7L345.3,301.1L346.4,301.4L347.6,301.6L348.5,301.8L348.7,301.8L349.9,302.0L351.1,302.2L352.4,302.3L353.6,302.4L354.9,302.5L356.1,302.6L357.3,302.7L358.6,302.8L359.8,302.9L361.1,303.1L362.3,303.2L363.6,303.3L364.9,303.4L365.6,303.4Z" fill="#fbe9ce"/><path d="M420.4,352.1L421.9,352.7L423.3,352.7L424.8,352.3L426.3,351.6L426.9,351.3L427.9,350.2L428.8,349.6L429.6,348.7L430.6,347.9L431.2,346.6L431.5,346.2L431.3,346.1L429.8,345.8L428.3,345.7L426.8,345.7L425.3,345.9L423.8,346.2L423.8,346.2L422.3,346.8L420.8,347.8L420.7,347.9L419.5,349.6L419.4,351.3ZM296.6,346.2L298.1,346.2L299.5,346.2L301.0,346.2L302.5,346.2L303.8,346.2L304.0,346.2L305.4,346.1L306.9,346.0L308.4,345.9L309.9,345.8L311.3,345.7L312.8,345.5L314.2,345.3L315.7,345.1L317.2,344.8L318.6,344.5L318.9,344.5L320.1,344.1L321.5,343.6L323.0,343.1L323.8,342.7L324.4,341.9L325.0,341.0L324.3,340.4L323.1,339.3L322.8,339.2L321.3,338.6L319.8,337.9L319.0,337.6L318.3,337.3L316.8,336.6L315.4,335.9L315.4,335.8L313.9,334.4L313.7,334.2L312.5,332.5L312.5,332.5L311.2,331.3L310.5,330.7L309.7,330.4L308.3,329.8L306.9,329.3L305.8,329.0L305.5,329.0L304.0,328.7L302.6,328.4L301.1,328.2L299.7,328.1L298.2,327.9L296.8,327.8L295.3,327.7L293.9,327.6L292.4,327.5L290.9,327.4L289.5,327.4L288.1,327.3L288.0,327.3L286.5,327.2L285.1,327.2L283.6,327.1L282.2,327.1L280.7,327.0L280.6,327.3L280.3,329.0L280.2,329.4L281.7,329.4L283.2,329.5L284.7,329.6L286.1,329.7L287.6,329.8L289.1,329.9L290.5,330.1L292.0,330.2L293.4,330.3L294.9,330.5L296.4,330.7L296.9,330.7L297.8,330.9L299.3,331.3L300.7,331.8L302.2,332.3L302.5,332.5L303.6,333.6L304.1,334.2L304.9,335.9L304.9,335.9L306.4,337.2L306.9,337.6L307.9,338.1L309.4,338.8L310.8,339.3L310.9,339.4L312.4,340.5L313.1,341.0L312.5,341.4L311.0,342.2L309.8,342.7L309.6,342.8L308.1,343.0L306.6,343.1L305.2,343.2L303.7,343.3L302.2,343.4L300.7,343.4L299.2,343.3L297.7,343.3L296.2,343.2L294.7,343.1L293.2,342.9L292.0,342.7L291.7,342.7L290.2,342.4L288.7,342.1L287.2,341.7L285.7,341.4L284.2,341.1L284.0,341.0L282.7,340.7L281.2,340.4L279.6,340.1L279.7,341.0L279.8,342.7L280.0,344.1L281.5,344.4L281.8,344.5L283.0,344.7L284.6,345.0L286.1,345.2L287.6,345.4L289.1,345.6L290.6,345.8L292.1,345.9L293.6,346.0L295.1,346.1L296.5,346.2ZM489.4,342.9L490.8,343.3L492.3,343.7L493.7,344.1L493.9,342.7L494.0,341.0L494.1,340.1L492.6,339.8L491.1,339.5L490.0,339.3L489.6,339.2L488.1,339.0L486.7,338.7L485.2,338.5L483.7,338.2L482.2,337.9L480.7,337.6L480.5,337.6L479.2,337.3L477.7,336.9L476.2,336.6L474.7,336.1L473.9,335.9L473.2,335.6L471.7,334.8L470.6,334.2L470.3,332.5L471.5,331.7L472.9,330.9L473.2,330.7L474.3,330.5L475.8,330.2L477.2,329.9L478.7,329.7L480.2,329.6L481.6,329.4L483.1,329.3L484.6,329.3L486.0,329.2L487.5,329.2L489.0,329.2L490.5,329.3L492.0,329.3L493.5,329.4L493.4,329.0L493.1,327.3L493.0,327.0L491.5,327.0L490.0,327.0L488.6,327.0L487.1,327.0L485.6,327.0L484.2,327.0L482.7,327.0L481.2,327.1L479.8,327.1L478.3,327.2L477.0,327.3L476.8,327.3L475.4,327.5L473.9,327.6L472.5,327.8L471.0,328.0L469.6,328.2L468.2,328.5L466.7,328.8L466.0,329.0L465.3,329.3L463.9,329.8L462.5,330.5L461.9,330.7L461.1,331.7L460.5,332.5L460.9,334.2L461.3,334.5L462.8,335.6L463.1,335.9L464.3,336.4L465.8,337.0L467.3,337.6L467.4,337.6L468.8,338.0L470.3,338.4L471.8,338.8L473.2,339.1L474.0,339.3L474.7,339.5L476.2,339.8L477.7,340.2L479.1,340.5L480.6,340.8L481.8,341.0L482.1,341.1L483.5,341.5L485.0,341.8L486.5,342.2L487.9,342.6L488.7,342.7Z" fill="#fed6a1"/><path d="M293.2,342.9L294.7,343.1L296.2,343.2L297.7,343.3L299.2,343.3L300.7,343.4L302.2,343.4L303.7,343.3L305.2,343.2L306.6,343.1L308.1,343.0L309.6,342.8L309.8,342.7L311.0,342.2L312.5,341.4L313.1,341.0L312.4,340.5L310.9,339.4L310.8,339.3L309.4,338.8L307.9,338.1L306.9,337.6L306.4,337.2L304.9,335.9L304.9,335.9L304.1,334.2L303.6,333.6L302.5,332.5L302.2,332.3L300.7,331.8L299.3,331.3L297.8,330.9L296.9,330.7L296.4,330.7L294.9,330.5L293.4,330.3L292.0,330.2L290.5,330.1L289.1,329.9L287.6,329.8L286.1,329.7L284.7,329.6L283.2,329.5L281.7,329.4L280.2,329.4L280.0,330.7L279.9,332.4L280.3,332.5L281.3,332.7L282.8,333.1L284.2,333.5L285.7,333.9L286.5,334.2L285.6,334.7L284.1,335.3L282.6,335.6L281.1,335.7L279.6,335.8L279.6,335.9L279.6,337.6L279.6,339.3L279.6,340.1L281.2,340.4L282.7,340.7L284.0,341.0L284.2,341.1L285.7,341.4L287.2,341.7L288.7,342.1L290.2,342.4L291.7,342.7L292.0,342.7ZM491.1,339.5L492.6,339.8L494.1,340.1L494.1,339.3L494.2,337.6L494.1,335.9L494.1,335.8L492.6,335.7L491.1,335.6L489.6,335.4L488.1,335.1L486.6,334.9L485.1,334.5L483.6,334.2L483.6,334.2L483.6,334.2L484.9,332.6L485.2,332.5L486.4,332.3L487.9,332.3L489.4,332.3L490.9,332.3L492.4,332.3L493.8,332.4L493.7,330.7L493.5,329.4L492.0,329.3L490.5,329.3L489.0,329.2L487.5,329.2L486.0,329.2L484.6,329.3L483.1,329.3L481.6,329.4L480.2,329.6L478.7,329.7L477.2,329.9L475.8,330.2L474.3,330.5L473.2,330.7L472.9,330.9L471.5,331.7L470.3,332.5L470.6,334.2L471.7,334.8L473.2,335.6L473.9,335.9L474.7,336.1L476.2,336.6L477.7,336.9L479.2,337.3L480.5,337.6L480.7,337.6L482.2,337.9L483.7,338.2L485.2,338.5L486.7,338.7L488.1,339.0L489.6,339.2L490.0,339.3Z" fill="#fdbd6d"/><path d="M281.1,335.7L282.6,335.6L284.1,335.3L285.6,334.7L286.5,334.2L285.7,333.9L284.2,333.5L282.8,333.1L281.3,332.7L280.3,332.5L279.9,332.4L279.8,332.5L279.7,334.2L279.6,335.8ZM483.6,334.2L485.1,334.5L486.6,334.9L488.1,335.1L489.6,335.4L491.1,335.6L492.6,335.7L494.1,335.8L494.0,334.2L493.9,332.5L493.8,332.4L492.4,332.3L490.9,332.3L489.4,332.3L487.9,332.3L486.4,332.3L485.2,332.5L484.9,332.6L483.6,334.2L483.6,334.2Z" fill="#ee9d3c"/>
<use href="#clim" transform="translate(386.85,337.6)" fill="none" stroke="#333" stroke-width="0.45"/>
<use href="#clab" transform="translate(386.85,337.6)"/>
<use href="#coast" transform="translate(386.85,337.6)" fill="none" stroke="#000" stroke-width="0.62" stroke-linejoin="round"/>
<use href="#lakes" transform="translate(386.85,337.6)" fill="none" stroke="#111" stroke-width="0.4"/>
</g>
<use href="#bnd" transform="translate(386.85,337.6)" fill="none" stroke="#999" stroke-width="0.5"/>
<text x="386.9" y="275.8" font-family="Liberation Sans" font-weight="bold" font-size="7.95" fill="#2f4f4f" text-anchor="middle">f) IFS-FESOM</text>
<g clip-path="url(#c0)">
<use href="#brd" transform="translate(112.6,72.5)" fill="none" stroke="#777" stroke-width="0.3"/>
<use href="#coast" transform="translate(112.6,72.5)" fill="none" stroke="#111" stroke-width="0.5" stroke-linejoin="round"/>
<use href="#lakes" transform="translate(112.6,72.5)" fill="none" stroke="#111" stroke-width="0.35"/>
<g stroke="#333" stroke-width="0.25" stroke-opacity="0.7"><circle cx="134.7" cy="23.9" r="1.6" fill="#f9efe9"/><circle cx="146.9" cy="24.0" r="1.6" fill="#ce4f45"/><circle cx="150.1" cy="23.9" r="1.6" fill="#b82531"/><circle cx="153.3" cy="23.9" r="1.6" fill="#e17860"/><circle cx="158.5" cy="23.9" r="1.6" fill="#b82531"/><path d="M54.0,28.3h3l-1.5,-2.6z" fill="#f9efe9"/><circle cx="76.3" cy="26.7" r="1.6" fill="#f9efe9"/><circle cx="79.3" cy="26.6" r="1.6" fill="#fcdecd"/><circle cx="82.1" cy="26.8" r="1.6" fill="#b3d6e8"/><circle cx="124.7" cy="27.1" r="1.6" fill="#f9c2a7"/><circle cx="139.7" cy="27.3" r="1.6" fill="#f9efe9"/><circle cx="142.7" cy="27.2" r="1.6" fill="#fcdecd"/><circle cx="148.8" cy="27.0" r="1.6" fill="#f9c2a7"/><circle cx="152.0" cy="27.4" r="1.6" fill="#f2a17f"/><circle cx="158.1" cy="26.3" r="1.6" fill="#fcdecd"/><circle cx="166.6" cy="27.2" r="1.6" fill="#e17860"/><circle cx="175.4" cy="27.2" r="1.6" fill="#fcdecd"/><circle cx="181.8" cy="26.9" r="1.6" fill="#f9efe9"/><circle cx="184.2" cy="26.6" r="1.6" fill="#fcdecd"/><circle cx="190.4" cy="27.0" r="1.6" fill="#d5e7f1"/><circle cx="42.7" cy="29.2" r="1.6" fill="#8dc2dc"/><circle cx="45.6" cy="30.0" r="1.6" fill="#5fa5cd"/><circle cx="54.0" cy="29.4" r="1.6" fill="#f9efe9"/><circle cx="60.3" cy="29.9" r="1.6" fill="#f2a17f"/><circle cx="69.3" cy="29.1" r="1.6" fill="#ecf2f5"/><circle cx="126.4" cy="28.9" r="1.6" fill="#f9efe9"/><circle cx="131.6" cy="29.3" r="1.6" fill="#fcdecd"/><circle cx="134.8" cy="28.9" r="1.6" fill="#f9efe9"/><circle cx="138.3" cy="29.0" r="1.6" fill="#fcdecd"/><path d="M140.1,30.3h3l-1.5,-2.6z" fill="#f9efe9"/><circle cx="147.2" cy="29.6" r="1.6" fill="#f9c2a7"/><circle cx="153.5" cy="29.7" r="1.6" fill="#e17860"/><circle cx="155.5" cy="30.0" r="1.6" fill="#930e26"/><circle cx="162.4" cy="29.4" r="1.6" fill="#b82531"/><circle cx="167.8" cy="29.9" r="1.6" fill="#930e26"/><circle cx="170.9" cy="29.5" r="1.6" fill="#930e26"/><circle cx="183.1" cy="29.0" r="1.6" fill="#f9c2a7"/><circle cx="186.7" cy="29.6" r="1.6" fill="#f9c2a7"/><circle cx="189.1" cy="29.5" r="1.6" fill="#ecf2f5"/><circle cx="192.6" cy="30.0" r="1.6" fill="#d5e7f1"/><circle cx="37.6" cy="31.9" r="1.6" fill="#15508d"/><circle cx="50.1" cy="32.5" r="1.6" fill="#8dc2dc"/><circle cx="58.2" cy="32.1" r="1.6" fill="#ce4f45"/><circle cx="65.1" cy="31.7" r="1.6" fill="#e17860"/><circle cx="67.3" cy="31.7" r="1.6" fill="#e17860"/><circle cx="116.0" cy="32.5" r="1.6" fill="#b3d6e8"/><circle cx="118.2" cy="32.1" r="1.6" fill="#d5e7f1"/><path d="M125.6,33.2h3l-1.5,-2.6z" fill="#f9efe9"/><circle cx="133.9" cy="32.0" r="1.6" fill="#f9c2a7"/><circle cx="136.9" cy="31.7" r="1.6" fill="#e17860"/><circle cx="142.6" cy="32.0" r="1.6" fill="#e17860"/><circle cx="151.0" cy="32.7" r="1.6" fill="#e17860"/><circle cx="154.1" cy="32.1" r="1.6" fill="#b82531"/><circle cx="157.7" cy="31.7" r="1.6" fill="#e17860"/><circle cx="164.1" cy="31.9" r="1.6" fill="#b82531"/><circle cx="172.4" cy="32.4" r="1.6" fill="#930e26"/><circle cx="176.1" cy="31.6" r="1.6" fill="#b82531"/><circle cx="178.9" cy="32.0" r="1.6" fill="#e17860"/><circle cx="181.6" cy="31.8" r="1.6" fill="#e17860"/><circle cx="60.1" cy="34.2" r="1.6" fill="#ce4f45"/><circle cx="66.6" cy="35.0" r="1.6" fill="#ce4f45"/><circle cx="75.6" cy="34.6" r="1.6" fill="#ce4f45"/><path d="M79.1,35.3h3l-1.5,-2.6z" fill="#fcdecd"/><circle cx="110.6" cy="35.0" r="1.6" fill="#8dc2dc"/><circle cx="123.6" cy="34.5" r="1.6" fill="#f9c2a7"/><circle cx="125.7" cy="35.2" r="1.6" fill="#fcdecd"/><circle cx="128.5" cy="35.2" r="1.6" fill="#f9c2a7"/><path d="M130.8,36.0h3l-1.5,-2.6z" fill="#f9efe9"/><circle cx="134.6" cy="34.7" r="1.6" fill="#f2a17f"/><circle cx="138.1" cy="35.0" r="1.6" fill="#e17860"/><circle cx="141.2" cy="34.1" r="1.6" fill="#f9c2a7"/><circle cx="144.6" cy="34.2" r="1.6" fill="#e17860"/><circle cx="146.6" cy="35.2" r="1.6" fill="#e17860"/><circle cx="153.6" cy="35.0" r="1.6" fill="#b82531"/><circle cx="158.5" cy="35.0" r="1.6" fill="#f2a17f"/><circle cx="162.1" cy="34.7" r="1.6" fill="#ce4f45"/><circle cx="165.7" cy="34.9" r="1.6" fill="#b82531"/><circle cx="168.4" cy="34.6" r="1.6" fill="#f2a17f"/><circle cx="170.9" cy="34.7" r="1.6" fill="#ce4f45"/><circle cx="173.8" cy="34.3" r="1.6" fill="#e17860"/><circle cx="192.3" cy="35.0" r="1.6" fill="#f9efe9"/><circle cx="53.1" cy="37.1" r="1.6" fill="#ce4f45"/><circle cx="58.1" cy="37.1" r="1.6" fill="#930e26"/><circle cx="61.1" cy="37.1" r="1.6" fill="#930e26"/><circle cx="64.9" cy="37.9" r="1.6" fill="#930e26"/><circle cx="73.9" cy="36.8" r="1.6" fill="#b82531"/><circle cx="82.8" cy="36.9" r="1.6" fill="#fcdecd"/><circle cx="112.3" cy="37.6" r="1.6" fill="#8dc2dc"/><circle cx="116.1" cy="37.7" r="1.6" fill="#ecf2f5"/><path d="M116.7,38.7h3l-1.5,-2.6z" fill="#ecf2f5"/><path d="M120.4,38.5h3l-1.5,-2.6z" fill="#f9efe9"/><circle cx="124.4" cy="37.5" r="1.6" fill="#f9c2a7"/><circle cx="127.4" cy="37.1" r="1.6" fill="#f2a17f"/><circle cx="130.6" cy="37.1" r="1.6" fill="#e17860"/><circle cx="134.0" cy="37.5" r="1.6" fill="#f2a17f"/><circle cx="137.2" cy="36.9" r="1.6" fill="#f2a17f"/><circle cx="145.6" cy="37.6" r="1.6" fill="#930e26"/><circle cx="148.4" cy="37.3" r="1.6" fill="#930e26"/><circle cx="160.8" cy="37.2" r="1.6" fill="#e17860"/><circle cx="163.1" cy="36.8" r="1.6" fill="#930e26"/><circle cx="166.5" cy="37.8" r="1.6" fill="#930e26"/><circle cx="170.2" cy="37.5" r="1.6" fill="#930e26"/><circle cx="172.7" cy="36.9" r="1.6" fill="#e17860"/><circle cx="176.1" cy="37.1" r="1.6" fill="#f9c2a7"/><circle cx="178.1" cy="37.5" r="1.6" fill="#f9c2a7"/><path d="M179.5,38.5h3l-1.5,-2.6z" fill="#f9efe9"/><circle cx="51.3" cy="39.4" r="1.6" fill="#f2a17f"/><circle cx="54.3" cy="40.1" r="1.6" fill="#930e26"/><circle cx="56.7" cy="40.4" r="1.6" fill="#930e26"/><circle cx="60.4" cy="39.9" r="1.6" fill="#930e26"/><circle cx="62.8" cy="39.4" r="1.6" fill="#930e26"/><circle cx="65.7" cy="39.8" r="1.6" fill="#930e26"/><circle cx="68.9" cy="40.3" r="1.6" fill="#930e26"/><circle cx="71.6" cy="40.3" r="1.6" fill="#b82531"/><circle cx="75.0" cy="39.6" r="1.6" fill="#b82531"/><circle cx="111.6" cy="40.4" r="1.6" fill="#8dc2dc"/><circle cx="114.3" cy="39.6" r="1.6" fill="#f9efe9"/><circle cx="116.5" cy="40.3" r="1.6" fill="#ecf2f5"/><circle cx="119.6" cy="39.7" r="1.6" fill="#d5e7f1"/><circle cx="123.4" cy="39.3" r="1.6" fill="#fcdecd"/><circle cx="126.6" cy="40.3" r="1.6" fill="#fcdecd"/><circle cx="132.4" cy="39.9" r="1.6" fill="#e17860"/><circle cx="134.8" cy="39.7" r="1.6" fill="#e17860"/><circle cx="137.6" cy="39.8" r="1.6" fill="#b82531"/><circle cx="140.8" cy="39.7" r="1.6" fill="#b82531"/><circle cx="144.0" cy="40.0" r="1.6" fill="#b82531"/><circle cx="146.7" cy="40.2" r="1.6" fill="#930e26"/><circle cx="153.5" cy="40.3" r="1.6" fill="#ce4f45"/><circle cx="156.4" cy="39.5" r="1.6" fill="#ce4f45"/><circle cx="158.8" cy="39.6" r="1.6" fill="#ce4f45"/><circle cx="162.0" cy="39.3" r="1.6" fill="#930e26"/><circle cx="165.4" cy="40.2" r="1.6" fill="#b82531"/><circle cx="168.3" cy="40.3" r="1.6" fill="#ce4f45"/><circle cx="170.7" cy="39.6" r="1.6" fill="#f2a17f"/><circle cx="173.7" cy="39.9" r="1.6" fill="#f2a17f"/><circle cx="177.3" cy="39.9" r="1.6" fill="#f2a17f"/><path d="M45.5,43.2h3l-1.5,-2.6z" fill="#f9efe9"/><circle cx="49.7" cy="42.5" r="1.6" fill="#f9c2a7"/><circle cx="52.9" cy="42.4" r="1.6" fill="#930e26"/><circle cx="55.6" cy="42.4" r="1.6" fill="#930e26"/><circle cx="58.2" cy="42.2" r="1.6" fill="#930e26"/><circle cx="61.3" cy="42.8" r="1.6" fill="#930e26"/><circle cx="64.2" cy="42.5" r="1.6" fill="#930e26"/><circle cx="67.3" cy="42.3" r="1.6" fill="#b82531"/><circle cx="73.5" cy="42.4" r="1.6" fill="#ce4f45"/><circle cx="112.4" cy="42.1" r="1.6" fill="#b3d6e8"/><circle cx="118.8" cy="42.3" r="1.6" fill="#f9efe9"/><circle cx="122.0" cy="42.3" r="1.6" fill="#f9efe9"/><path d="M123.6,43.6h3l-1.5,-2.6z" fill="#ecf2f5"/><circle cx="134.0" cy="42.7" r="1.6" fill="#f9efe9"/><circle cx="154.2" cy="42.6" r="1.6" fill="#e17860"/><circle cx="157.8" cy="42.2" r="1.6" fill="#f9c2a7"/><circle cx="160.3" cy="42.2" r="1.6" fill="#e17860"/><circle cx="164.1" cy="42.9" r="1.6" fill="#e17860"/><circle cx="166.8" cy="42.5" r="1.6" fill="#e17860"/><circle cx="169.4" cy="43.0" r="1.6" fill="#f9c2a7"/><circle cx="172.7" cy="43.0" r="1.6" fill="#f2a17f"/><path d="M180.4,44.1h3l-1.5,-2.6z" fill="#fcdecd"/><circle cx="184.6" cy="42.1" r="1.6" fill="#f9c2a7"/><circle cx="44.8" cy="44.9" r="1.6" fill="#fcdecd"/><circle cx="48.4" cy="45.0" r="1.6" fill="#f2a17f"/><circle cx="54.1" cy="45.2" r="1.6" fill="#930e26"/><circle cx="57.2" cy="45.6" r="1.6" fill="#b82531"/><circle cx="60.1" cy="45.3" r="1.6" fill="#930e26"/><circle cx="63.7" cy="45.1" r="1.6" fill="#ce4f45"/><circle cx="69.6" cy="44.6" r="1.6" fill="#e17860"/><circle cx="107.8" cy="44.8" r="1.6" fill="#8dc2dc"/><path d="M115.8,45.9h3l-1.5,-2.6z" fill="#d5e7f1"/><circle cx="123.6" cy="44.6" r="1.6" fill="#ecf2f5"/><circle cx="129.2" cy="45.1" r="1.6" fill="#f9efe9"/><circle cx="132.4" cy="45.4" r="1.6" fill="#b3d6e8"/><circle cx="138.5" cy="45.1" r="1.6" fill="#f9c2a7"/><circle cx="144.1" cy="44.8" r="1.6" fill="#fcdecd"/><circle cx="147.0" cy="44.6" r="1.6" fill="#fcdecd"/><path d="M154.5,46.4h3l-1.5,-2.6z" fill="#ecf2f5"/><circle cx="159.1" cy="45.7" r="1.6" fill="#ecf2f5"/><circle cx="162.1" cy="45.4" r="1.6" fill="#d5e7f1"/><circle cx="165.5" cy="44.5" r="1.6" fill="#fcdecd"/><circle cx="170.5" cy="44.8" r="1.6" fill="#f9efe9"/><circle cx="174.3" cy="45.4" r="1.6" fill="#ecf2f5"/><circle cx="176.8" cy="45.5" r="1.6" fill="#f9c2a7"/><path d="M44.9,49.1h3l-1.5,-2.6z" fill="#fcdecd"/><circle cx="61.1" cy="47.4" r="1.6" fill="#930e26"/><circle cx="67.9" cy="47.5" r="1.6" fill="#f9c2a7"/><circle cx="109.6" cy="48.2" r="1.6" fill="#8dc2dc"/><circle cx="115.1" cy="48.1" r="1.6" fill="#8dc2dc"/><circle cx="130.8" cy="47.3" r="1.6" fill="#d5e7f1"/><circle cx="136.9" cy="48.0" r="1.6" fill="#b3d6e8"/><circle cx="142.6" cy="47.8" r="1.6" fill="#b3d6e8"/><circle cx="145.2" cy="47.8" r="1.6" fill="#d5e7f1"/><circle cx="148.4" cy="47.4" r="1.6" fill="#b3d6e8"/><circle cx="151.4" cy="47.8" r="1.6" fill="#8dc2dc"/><circle cx="154.9" cy="47.5" r="1.6" fill="#d5e7f1"/><circle cx="160.4" cy="48.1" r="1.6" fill="#8dc2dc"/><circle cx="164.2" cy="48.2" r="1.6" fill="#8dc2dc"/><circle cx="172.2" cy="47.4" r="1.6" fill="#d5e7f1"/><circle cx="184.1" cy="47.2" r="1.6" fill="#d5e7f1"/><circle cx="187.9" cy="48.2" r="1.6" fill="#8dc2dc"/><path d="M46.4,51.0h3l-1.5,-2.6z" fill="#f9efe9"/><circle cx="57.0" cy="50.4" r="1.6" fill="#f9c2a7"/><circle cx="66.2" cy="50.5" r="1.6" fill="#fcdecd"/><circle cx="110.8" cy="49.7" r="1.6" fill="#8dc2dc"/><circle cx="113.6" cy="50.6" r="1.6" fill="#8dc2dc"/><circle cx="117.5" cy="49.8" r="1.6" fill="#5fa5cd"/><circle cx="119.6" cy="50.6" r="1.6" fill="#d5e7f1"/><circle cx="134.6" cy="50.6" r="1.6" fill="#8dc2dc"/><circle cx="138.0" cy="50.4" r="1.6" fill="#b3d6e8"/><circle cx="143.8" cy="50.3" r="1.6" fill="#8dc2dc"/><circle cx="146.8" cy="50.8" r="1.6" fill="#5fa5cd"/><circle cx="152.8" cy="49.8" r="1.6" fill="#8dc2dc"/><circle cx="159.3" cy="50.2" r="1.6" fill="#5fa5cd"/><circle cx="162.4" cy="50.3" r="1.6" fill="#8dc2dc"/><circle cx="168.5" cy="50.3" r="1.6" fill="#3b88be"/><circle cx="171.3" cy="49.9" r="1.6" fill="#15508d"/><circle cx="186.6" cy="49.7" r="1.6" fill="#b3d6e8"/><circle cx="53.1" cy="52.8" r="1.6" fill="#f9efe9"/><circle cx="127.6" cy="52.6" r="1.6" fill="#3b88be"/><circle cx="133.2" cy="53.0" r="1.6" fill="#3b88be"/><circle cx="145.8" cy="53.0" r="1.6" fill="#8dc2dc"/><circle cx="148.4" cy="52.9" r="1.6" fill="#8dc2dc"/><circle cx="151.5" cy="52.9" r="1.6" fill="#3b88be"/><circle cx="154.5" cy="52.6" r="1.6" fill="#b3d6e8"/><circle cx="158.0" cy="53.0" r="1.6" fill="#5fa5cd"/><circle cx="160.7" cy="52.6" r="1.6" fill="#3b88be"/><circle cx="164.0" cy="53.4" r="1.6" fill="#8dc2dc"/><circle cx="169.7" cy="53.3" r="1.6" fill="#15508d"/><circle cx="173.1" cy="52.6" r="1.6" fill="#276eb0"/><circle cx="181.5" cy="53.5" r="1.6" fill="#3b88be"/><circle cx="47.8" cy="55.5" r="1.6" fill="#ecf2f5"/><circle cx="111.1" cy="55.9" r="1.6" fill="#d5e7f1"/><circle cx="126.1" cy="55.1" r="1.6" fill="#8dc2dc"/><circle cx="132.0" cy="55.5" r="1.6" fill="#8dc2dc"/><circle cx="137.5" cy="55.7" r="1.6" fill="#b3d6e8"/><circle cx="141.3" cy="55.3" r="1.6" fill="#5fa5cd"/><circle cx="144.1" cy="56.0" r="1.6" fill="#b3d6e8"/><circle cx="149.9" cy="55.0" r="1.6" fill="#3b88be"/><circle cx="153.5" cy="55.6" r="1.6" fill="#276eb0"/><circle cx="156.0" cy="55.2" r="1.6" fill="#5fa5cd"/><circle cx="159.7" cy="55.4" r="1.6" fill="#276eb0"/><circle cx="164.8" cy="55.1" r="1.6" fill="#8dc2dc"/><circle cx="171.6" cy="55.3" r="1.6" fill="#8dc2dc"/><circle cx="173.7" cy="55.5" r="1.6" fill="#276eb0"/><circle cx="176.6" cy="55.0" r="1.6" fill="#5fa5cd"/><circle cx="179.9" cy="55.7" r="1.6" fill="#5fa5cd"/><path d="M50.8,59.3h3l-1.5,-2.6z" fill="#ecf2f5"/><circle cx="130.8" cy="58.6" r="1.6" fill="#b3d6e8"/><circle cx="137.0" cy="57.9" r="1.6" fill="#b3d6e8"/><circle cx="146.2" cy="58.7" r="1.6" fill="#8dc2dc"/><circle cx="157.7" cy="58.2" r="1.6" fill="#276eb0"/><circle cx="169.9" cy="57.8" r="1.6" fill="#3b88be"/><circle cx="172.1" cy="57.7" r="1.6" fill="#276eb0"/><circle cx="175.1" cy="58.0" r="1.6" fill="#276eb0"/><circle cx="60.1" cy="60.5" r="1.6" fill="#8dc2dc"/><circle cx="114.1" cy="61.0" r="1.6" fill="#d5e7f1"/><circle cx="117.5" cy="61.1" r="1.6" fill="#b3d6e8"/><circle cx="128.8" cy="61.2" r="1.6" fill="#8dc2dc"/><circle cx="138.4" cy="60.9" r="1.6" fill="#b3d6e8"/><circle cx="156.6" cy="60.5" r="1.6" fill="#276eb0"/><circle cx="159.6" cy="60.8" r="1.6" fill="#276eb0"/><circle cx="171.3" cy="60.9" r="1.6" fill="#276eb0"/><circle cx="173.9" cy="61.1" r="1.6" fill="#15508d"/><circle cx="109.6" cy="63.8" r="1.6" fill="#b3d6e8"/><circle cx="118.7" cy="62.7" r="1.6" fill="#d5e7f1"/><circle cx="130.7" cy="63.4" r="1.6" fill="#b3d6e8"/><circle cx="133.8" cy="63.0" r="1.6" fill="#d5e7f1"/><circle cx="139.5" cy="63.6" r="1.6" fill="#f9efe9"/><circle cx="158.0" cy="63.7" r="1.6" fill="#5fa5cd"/><circle cx="172.6" cy="63.4" r="1.6" fill="#15508d"/><circle cx="175.2" cy="62.8" r="1.6" fill="#276eb0"/><circle cx="63.5" cy="65.8" r="1.6" fill="#8dc2dc"/><circle cx="69.0" cy="65.8" r="1.6" fill="#8dc2dc"/><circle cx="71.7" cy="65.8" r="1.6" fill="#3b88be"/><circle cx="66.3" cy="71.3" r="1.6" fill="#b3d6e8"/><circle cx="72.7" cy="71.2" r="1.6" fill="#b3d6e8"/><circle cx="81.4" cy="70.5" r="1.6" fill="#8dc2dc"/><circle cx="180.0" cy="71.2" r="1.6" fill="#d5e7f1"/><circle cx="182.8" cy="71.0" r="1.6" fill="#b3d6e8"/><circle cx="67.5" cy="74.0" r="1.6" fill="#ecf2f5"/><circle cx="71.1" cy="73.6" r="1.6" fill="#5fa5cd"/><circle cx="76.5" cy="73.6" r="1.6" fill="#3b88be"/><circle cx="85.2" cy="74.3" r="1.6" fill="#5fa5cd"/><path d="M171.1,74.7h3l-1.5,-2.6z" fill="#ecf2f5"/><circle cx="178.4" cy="74.0" r="1.6" fill="#b3d6e8"/><circle cx="75.6" cy="75.7" r="1.6" fill="#8dc2dc"/><circle cx="78.4" cy="76.8" r="1.6" fill="#5fa5cd"/><circle cx="86.5" cy="76.7" r="1.6" fill="#5fa5cd"/><circle cx="90.2" cy="76.1" r="1.6" fill="#8dc2dc"/><circle cx="70.4" cy="79.0" r="1.6" fill="#b3d6e8"/><circle cx="76.7" cy="79.4" r="1.6" fill="#3b88be"/><circle cx="83.0" cy="78.8" r="1.6" fill="#8dc2dc"/><circle cx="88.3" cy="78.6" r="1.6" fill="#8dc2dc"/><circle cx="91.4" cy="79.0" r="1.6" fill="#d5e7f1"/><circle cx="68.6" cy="81.1" r="1.6" fill="#d5e7f1"/><circle cx="84.6" cy="81.9" r="1.6" fill="#5fa5cd"/><circle cx="73.3" cy="83.8" r="1.6" fill="#b3d6e8"/><circle cx="85.1" cy="84.4" r="1.6" fill="#5fa5cd"/><circle cx="88.9" cy="83.5" r="1.6" fill="#276eb0"/><circle cx="121.0" cy="83.5" r="1.6" fill="#b3d6e8"/><circle cx="72.6" cy="86.4" r="1.6" fill="#b3d6e8"/><circle cx="87.6" cy="86.5" r="1.6" fill="#8dc2dc"/><circle cx="73.4" cy="89.8" r="1.6" fill="#d5e7f1"/><circle cx="82.8" cy="88.7" r="1.6" fill="#8dc2dc"/><circle cx="124.4" cy="89.3" r="1.6" fill="#b3d6e8"/><circle cx="130.2" cy="89.5" r="1.6" fill="#8dc2dc"/><circle cx="80.5" cy="91.6" r="1.6" fill="#b3d6e8"/><circle cx="83.9" cy="91.6" r="1.6" fill="#8dc2dc"/><circle cx="125.9" cy="91.4" r="1.6" fill="#b3d6e8"/><path d="M127.8,93.3h3l-1.5,-2.6z" fill="#ecf2f5"/><circle cx="127.7" cy="94.9" r="1.6" fill="#b3d6e8"/><path d="M73.2,97.5h3l-1.5,-2.6z" fill="#fcdecd"/><circle cx="78.0" cy="96.7" r="1.6" fill="#ecf2f5"/><circle cx="74.7" cy="107.7" r="1.6" fill="#ecf2f5"/><circle cx="20.4" cy="57.9" r="1.6" fill="#15508d"/><circle cx="21.8" cy="59.0" r="1.6" fill="#3b88be"/><circle cx="29.5" cy="78.7" r="1.6" fill="#8dc2dc"/><circle cx="11.1" cy="82.0" r="1.6" fill="#3b88be"/><circle cx="8.8" cy="81.6" r="1.6" fill="#b3d6e8"/><circle cx="24.6" cy="84.5" r="1.6" fill="#5fa5cd"/><circle cx="10.2" cy="87.0" r="1.6" fill="#3b88be"/><circle cx="19.2" cy="87.0" r="1.6" fill="#3b88be"/><circle cx="25.6" cy="88.5" r="1.6" fill="#3b88be"/><circle cx="29.4" cy="91.4" r="1.6" fill="#5fa5cd"/><circle cx="75.9" cy="50.4" r="1.6" fill="#fcdecd"/><circle cx="95.5" cy="45.5" r="1.6" fill="#ecf2f5"/><circle cx="103.0" cy="50.1" r="1.6" fill="#ecf2f5"/><circle cx="103.7" cy="53.2" r="1.6" fill="#b3d6e8"/><circle cx="103.2" cy="53.0" r="1.6" fill="#8dc2dc"/><path d="M97.2,63.3h3l-1.5,-2.6z" fill="#ecf2f5"/><path d="M97.6,62.0h3l-1.5,-2.6z" fill="#ecf2f5"/><circle cx="104.0" cy="77.9" r="1.6" fill="#8dc2dc"/><circle cx="94.3" cy="109.5" r="1.6" fill="#ecf2f5"/><path d="M81.5,108.8h3l-1.5,-2.6z" fill="#ecf2f5"/><circle cx="109.2" cy="25.3" r="1.6" fill="#3b88be"/><circle cx="120.3" cy="23.4" r="1.6" fill="#ecf2f5"/><circle cx="109.4" cy="30.6" r="1.6" fill="#3b88be"/><circle cx="102.2" cy="29.5" r="1.6" fill="#15508d"/><circle cx="104.5" cy="28.4" r="1.6" fill="#15508d"/><circle cx="106.1" cy="28.6" r="1.6" fill="#15508d"/><circle cx="145.6" cy="75.7" r="1.6" fill="#f9efe9"/><circle cx="146.2" cy="86.4" r="1.6" fill="#ecf2f5"/><circle cx="145.0" cy="86.9" r="1.6" fill="#ecf2f5"/><circle cx="149.7" cy="86.0" r="1.6" fill="#f9efe9"/><circle cx="149.1" cy="106.2" r="1.6" fill="#b3d6e8"/><circle cx="140.1" cy="104.2" r="1.6" fill="#fcdecd"/><circle cx="132.6" cy="104.6" r="1.6" fill="#d5e7f1"/><circle cx="198.2" cy="63.2" r="1.6" fill="#d5e7f1"/><circle cx="198.6" cy="62.1" r="1.6" fill="#8dc2dc"/><circle cx="214.5" cy="67.6" r="1.6" fill="#5fa5cd"/><circle cx="212.2" cy="66.5" r="1.6" fill="#8dc2dc"/><circle cx="206.7" cy="67.8" r="1.6" fill="#8dc2dc"/><circle cx="202.8" cy="67.4" r="1.6" fill="#ecf2f5"/><circle cx="192.6" cy="67.5" r="1.6" fill="#8dc2dc"/><circle cx="194.6" cy="66.0" r="1.6" fill="#b3d6e8"/><circle cx="215.7" cy="73.2" r="1.6" fill="#8dc2dc"/><circle cx="219.1" cy="78.3" r="1.6" fill="#5fa5cd"/><circle cx="217.4" cy="84.9" r="1.6" fill="#8dc2dc"/><circle cx="216.9" cy="84.6" r="1.6" fill="#8dc2dc"/><circle cx="211.5" cy="84.6" r="1.6" fill="#5fa5cd"/><circle cx="211.2" cy="83.1" r="1.6" fill="#5fa5cd"/><circle cx="209.6" cy="87.8" r="1.6" fill="#8dc2dc"/><circle cx="209.0" cy="92.4" r="1.6" fill="#b3d6e8"/><circle cx="203.2" cy="94.1" r="1.6" fill="#5fa5cd"/><circle cx="192.0" cy="109.6" r="1.6" fill="#fcdecd"/><circle cx="17.6" cy="102.6" r="1.6" fill="#d5e7f1"/><circle cx="207.6" cy="78.9" r="1.6" fill="#5fa5cd"/><circle cx="136.0" cy="76.8" r="1.6" fill="#b3d6e8"/><circle cx="138.3" cy="80.5" r="1.6" fill="#8dc2dc"/><circle cx="139.3" cy="81.3" r="1.6" fill="#8dc2dc"/><circle cx="140.6" cy="80.5" r="1.6" fill="#b3d6e8"/><circle cx="85.6" cy="114.5" r="1.6" fill="#e17860"/><circle cx="58.8" cy="73.0" r="1.6" fill="#ecf2f5"/><circle cx="93.3" cy="75.1" r="1.6" fill="#8dc2dc"/><circle cx="22.5" cy="37.1" r="1.6" fill="#ecf2f5"/><circle cx="29.0" cy="35.8" r="1.6" fill="#8dc2dc"/><circle cx="31.8" cy="34.9" r="1.6" fill="#8dc2dc"/><circle cx="36.9" cy="32.7" r="1.6" fill="#3b88be"/><circle cx="38.6" cy="33.3" r="1.6" fill="#276eb0"/><circle cx="40.2" cy="32.1" r="1.6" fill="#15508d"/><circle cx="43.8" cy="31.2" r="1.6" fill="#3b88be"/><circle cx="45.8" cy="32.2" r="1.6" fill="#d5e7f1"/><circle cx="46.4" cy="33.7" r="1.6" fill="#d5e7f1"/><circle cx="47.3" cy="34.9" r="1.6" fill="#3b88be"/><circle cx="47.4" cy="35.5" r="1.6" fill="#5fa5cd"/><circle cx="47.4" cy="36.9" r="1.6" fill="#8dc2dc"/><circle cx="47.7" cy="38.3" r="1.6" fill="#d5e7f1"/><path d="M45.6,41.4h3l-1.5,-2.6z" fill="#d5e7f1"/><circle cx="45.6" cy="42.8" r="1.6" fill="#d5e7f1"/><circle cx="44.7" cy="44.5" r="1.6" fill="#d5e7f1"/><circle cx="44.6" cy="46.7" r="1.6" fill="#fcdecd"/><circle cx="44.8" cy="48.5" r="1.6" fill="#fcdecd"/><circle cx="45.8" cy="49.2" r="1.6" fill="#fcdecd"/><circle cx="45.8" cy="28.9" r="1.6" fill="#5fa5cd"/><circle cx="42.0" cy="31.1" r="1.6" fill="#276eb0"/><circle cx="37.3" cy="29.1" r="1.6" fill="#276eb0"/><path d="M45.0,26.1h3l-1.5,-2.6z" fill="#ecf2f5"/><circle cx="40.4" cy="27.7" r="1.6" fill="#b3d6e8"/><circle cx="81.2" cy="29.6" r="1.6" fill="#8dc2dc"/><circle cx="90.4" cy="19.5" r="1.6" fill="#b3d6e8"/><circle cx="74.4" cy="23.2" r="1.6" fill="#b3d6e8"/><path d="M65.6,27.4h3l-1.5,-2.6z" fill="#f9efe9"/><circle cx="80.8" cy="20.6" r="1.6" fill="#f9efe9"/><path d="M63.3,25.4h3l-1.5,-2.6z" fill="#f9efe9"/><path d="M58.8,25.7h3l-1.5,-2.6z" fill="#ecf2f5"/><circle cx="55.3" cy="26.1" r="1.6" fill="#d5e7f1"/><path d="M75.8,25.4h3l-1.5,-2.6z" fill="#f9efe9"/><circle cx="77.4" cy="26.5" r="1.6" fill="#f9efe9"/><circle cx="90.2" cy="25.5" r="1.6" fill="#3b88be"/><circle cx="89.0" cy="29.3" r="1.6" fill="#5fa5cd"/><circle cx="91.2" cy="31.1" r="1.6" fill="#5fa5cd"/><circle cx="95.7" cy="28.4" r="1.6" fill="#15508d"/><circle cx="103.2" cy="25.6" r="1.6" fill="#276eb0"/><circle cx="105.3" cy="22.1" r="1.6" fill="#d5e7f1"/><circle cx="85.7" cy="22.3" r="1.6" fill="#d5e7f1"/><circle cx="89.5" cy="24.2" r="1.6" fill="#5fa5cd"/><circle cx="118.5" cy="21.4" r="1.6" fill="#ecf2f5"/><circle cx="118.7" cy="20.6" r="1.6" fill="#f9efe9"/><circle cx="134.8" cy="24.9" r="1.6" fill="#f9efe9"/><circle cx="133.9" cy="20.3" r="1.6" fill="#f9c2a7"/><circle cx="151.6" cy="20.8" r="1.6" fill="#e17860"/><circle cx="167.5" cy="22.8" r="1.6" fill="#f9c2a7"/><path d="M35.6,26.3h3l-1.5,-2.6z" fill="#d5e7f1"/><circle cx="179.2" cy="57.2" r="1.6" fill="#5fa5cd"/><circle cx="183.1" cy="55.4" r="1.6" fill="#d5e7f1"/><circle cx="186.5" cy="54.5" r="1.6" fill="#b3d6e8"/><circle cx="184.7" cy="55.8" r="1.6" fill="#b3d6e8"/><circle cx="194.6" cy="54.0" r="1.6" fill="#8dc2dc"/><circle cx="191.6" cy="49.9" r="1.6" fill="#8dc2dc"/><circle cx="76.4" cy="61.3" r="1.6" fill="#5fa5cd"/><circle cx="76.6" cy="62.5" r="1.6" fill="#5fa5cd"/><circle cx="77.4" cy="63.5" r="1.6" fill="#d5e7f1"/><circle cx="76.1" cy="64.2" r="1.6" fill="#b3d6e8"/><circle cx="71.8" cy="64.1" r="1.6" fill="#8dc2dc"/><circle cx="73.9" cy="59.9" r="1.6" fill="#5fa5cd"/><circle cx="74.5" cy="60.0" r="1.6" fill="#3b88be"/><circle cx="67.4" cy="60.2" r="1.6" fill="#3b88be"/><circle cx="67.1" cy="55.4" r="1.6" fill="#5fa5cd"/><circle cx="67.6" cy="56.0" r="1.6" fill="#3b88be"/><circle cx="68.9" cy="56.7" r="1.6" fill="#5fa5cd"/><circle cx="66.1" cy="54.8" r="1.6" fill="#d5e7f1"/><circle cx="65.1" cy="55.6" r="1.6" fill="#d5e7f1"/></g>
</g>
<use href="#bnd" transform="translate(112.6,72.5)" fill="none" stroke="#999" stroke-width="0.5"/>
<text x="112.6" y="10.7" font-family="Liberation Sans" font-weight="bold" font-size="7.95" fill="#2f4f4f" text-anchor="middle">a) ICON (-0.15, 1.89, 43)</text>
<rect x="8.6" y="109.4" width="48.3" height="15.4" fill="#fff" fill-opacity="0.85" stroke="#d0d0d0" stroke-width="0.5"/>
<circle cx="15.2" cy="113.4" r="1.45" fill="#111"/>
<path d="M13.6,122.0 L16.8,122.0 L15.2,119.2Z" fill="#111"/>
<text x="24" y="115.2" font-family="Liberation Sans" font-size="5.0" fill="#222">significant</text>
<text x="24" y="122.4" font-family="Liberation Sans" font-size="5.0" fill="#222">not significant</text>
<g clip-path="url(#c1)">
<use href="#brd" transform="translate(112.6,204.9)" fill="none" stroke="#777" stroke-width="0.3"/>
<use href="#coast" transform="translate(112.6,204.9)" fill="none" stroke="#111" stroke-width="0.5" stroke-linejoin="round"/>
<use href="#lakes" transform="translate(112.6,204.9)" fill="none" stroke="#111" stroke-width="0.35"/>
<g stroke="#333" stroke-width="0.25" stroke-opacity="0.7"><circle cx="134.7" cy="156.3" r="1.6" fill="#ecf2f5"/><circle cx="146.9" cy="156.4" r="1.6" fill="#fcdecd"/><path d="M148.6,157.3h3l-1.5,-2.6z" fill="#f9efe9"/><circle cx="153.3" cy="156.3" r="1.6" fill="#f9c2a7"/><circle cx="158.5" cy="156.3" r="1.6" fill="#f9c2a7"/><circle cx="55.5" cy="159.7" r="1.6" fill="#f2a17f"/><path d="M74.8,160.1h3l-1.5,-2.6z" fill="#ecf2f5"/><circle cx="79.3" cy="159.0" r="1.6" fill="#d5e7f1"/><circle cx="82.1" cy="159.2" r="1.6" fill="#8dc2dc"/><circle cx="124.7" cy="159.5" r="1.6" fill="#d5e7f1"/><circle cx="139.7" cy="159.7" r="1.6" fill="#d5e7f1"/><circle cx="142.7" cy="159.6" r="1.6" fill="#f9c2a7"/><circle cx="148.8" cy="159.4" r="1.6" fill="#fcdecd"/><circle cx="152.0" cy="159.8" r="1.6" fill="#fcdecd"/><circle cx="158.1" cy="158.7" r="1.6" fill="#f9c2a7"/><circle cx="166.6" cy="159.6" r="1.6" fill="#f2a17f"/><circle cx="175.4" cy="159.6" r="1.6" fill="#fcdecd"/><path d="M180.3,160.3h3l-1.5,-2.6z" fill="#f9efe9"/><path d="M182.7,160.0h3l-1.5,-2.6z" fill="#f9efe9"/><circle cx="190.4" cy="159.4" r="1.6" fill="#fcdecd"/><circle cx="42.7" cy="161.6" r="1.6" fill="#f2a17f"/><circle cx="45.6" cy="162.4" r="1.6" fill="#f2a17f"/><circle cx="54.0" cy="161.8" r="1.6" fill="#fcdecd"/><path d="M58.8,163.3h3l-1.5,-2.6z" fill="#f9efe9"/><circle cx="69.3" cy="161.5" r="1.6" fill="#f9efe9"/><circle cx="126.4" cy="161.3" r="1.6" fill="#f9efe9"/><path d="M130.1,162.7h3l-1.5,-2.6z" fill="#ecf2f5"/><circle cx="134.8" cy="161.3" r="1.6" fill="#ecf2f5"/><circle cx="138.3" cy="161.4" r="1.6" fill="#fcdecd"/><circle cx="141.6" cy="161.7" r="1.6" fill="#fcdecd"/><circle cx="147.2" cy="162.0" r="1.6" fill="#f9c2a7"/><circle cx="153.5" cy="162.1" r="1.6" fill="#f9c2a7"/><circle cx="155.5" cy="162.4" r="1.6" fill="#fcdecd"/><circle cx="162.4" cy="161.8" r="1.6" fill="#f9c2a7"/><circle cx="167.8" cy="162.3" r="1.6" fill="#f2a17f"/><circle cx="170.9" cy="161.9" r="1.6" fill="#e17860"/><circle cx="183.1" cy="161.4" r="1.6" fill="#fcdecd"/><circle cx="186.7" cy="162.0" r="1.6" fill="#fcdecd"/><circle cx="189.1" cy="161.9" r="1.6" fill="#f9c2a7"/><path d="M191.1,163.4h3l-1.5,-2.6z" fill="#fcdecd"/><circle cx="37.6" cy="164.3" r="1.6" fill="#f9c2a7"/><circle cx="50.1" cy="164.9" r="1.6" fill="#f9c2a7"/><circle cx="58.2" cy="164.5" r="1.6" fill="#fcdecd"/><circle cx="65.1" cy="164.1" r="1.6" fill="#fcdecd"/><circle cx="67.3" cy="164.1" r="1.6" fill="#fcdecd"/><circle cx="116.0" cy="164.9" r="1.6" fill="#d5e7f1"/><circle cx="118.2" cy="164.5" r="1.6" fill="#b3d6e8"/><circle cx="127.1" cy="164.6" r="1.6" fill="#d5e7f1"/><circle cx="133.9" cy="164.4" r="1.6" fill="#d5e7f1"/><path d="M135.4,165.1h3l-1.5,-2.6z" fill="#ecf2f5"/><path d="M141.1,165.4h3l-1.5,-2.6z" fill="#ecf2f5"/><circle cx="151.0" cy="165.1" r="1.6" fill="#fcdecd"/><circle cx="154.1" cy="164.5" r="1.6" fill="#f9c2a7"/><circle cx="157.7" cy="164.1" r="1.6" fill="#f2a17f"/><circle cx="164.1" cy="164.3" r="1.6" fill="#ce4f45"/><circle cx="172.4" cy="164.8" r="1.6" fill="#f9c2a7"/><circle cx="176.1" cy="164.0" r="1.6" fill="#f2a17f"/><circle cx="178.9" cy="164.4" r="1.6" fill="#fcdecd"/><circle cx="181.6" cy="164.2" r="1.6" fill="#fcdecd"/><path d="M58.6,167.6h3l-1.5,-2.6z" fill="#f9efe9"/><circle cx="66.6" cy="167.4" r="1.6" fill="#fcdecd"/><circle cx="75.6" cy="167.0" r="1.6" fill="#b3d6e8"/><circle cx="80.6" cy="166.7" r="1.6" fill="#3b88be"/><circle cx="110.6" cy="167.4" r="1.6" fill="#d5e7f1"/><circle cx="123.6" cy="166.9" r="1.6" fill="#d5e7f1"/><path d="M124.2,168.6h3l-1.5,-2.6z" fill="#ecf2f5"/><circle cx="128.5" cy="167.6" r="1.6" fill="#5fa5cd"/><circle cx="132.3" cy="167.4" r="1.6" fill="#8dc2dc"/><circle cx="134.6" cy="167.1" r="1.6" fill="#ecf2f5"/><path d="M136.6,168.4h3l-1.5,-2.6z" fill="#d5e7f1"/><circle cx="141.2" cy="166.5" r="1.6" fill="#d5e7f1"/><path d="M143.1,167.6h3l-1.5,-2.6z" fill="#f9efe9"/><circle cx="146.6" cy="167.6" r="1.6" fill="#ecf2f5"/><circle cx="153.6" cy="167.4" r="1.6" fill="#fcdecd"/><circle cx="158.5" cy="167.4" r="1.6" fill="#f9c2a7"/><circle cx="162.1" cy="167.1" r="1.6" fill="#f2a17f"/><circle cx="165.7" cy="167.3" r="1.6" fill="#fcdecd"/><circle cx="168.4" cy="167.0" r="1.6" fill="#fcdecd"/><circle cx="170.9" cy="167.1" r="1.6" fill="#f9c2a7"/><circle cx="173.8" cy="166.7" r="1.6" fill="#f9c2a7"/><path d="M190.8,168.4h3l-1.5,-2.6z" fill="#f9efe9"/><circle cx="53.1" cy="169.5" r="1.6" fill="#f9c2a7"/><circle cx="58.1" cy="169.5" r="1.6" fill="#f2a17f"/><circle cx="61.1" cy="169.5" r="1.6" fill="#fcdecd"/><circle cx="64.9" cy="170.3" r="1.6" fill="#fcdecd"/><circle cx="73.9" cy="169.2" r="1.6" fill="#d5e7f1"/><circle cx="82.8" cy="169.3" r="1.6" fill="#276eb0"/><circle cx="112.3" cy="170.0" r="1.6" fill="#ecf2f5"/><circle cx="116.1" cy="170.1" r="1.6" fill="#f9efe9"/><circle cx="118.2" cy="170.1" r="1.6" fill="#d5e7f1"/><circle cx="121.9" cy="169.9" r="1.6" fill="#ecf2f5"/><circle cx="124.4" cy="169.9" r="1.6" fill="#b3d6e8"/><circle cx="127.4" cy="169.5" r="1.6" fill="#d5e7f1"/><circle cx="130.6" cy="169.5" r="1.6" fill="#ecf2f5"/><circle cx="134.0" cy="169.9" r="1.6" fill="#b3d6e8"/><path d="M135.7,170.3h3l-1.5,-2.6z" fill="#f9efe9"/><circle cx="145.6" cy="170.0" r="1.6" fill="#f9efe9"/><circle cx="148.4" cy="169.7" r="1.6" fill="#f2a17f"/><circle cx="160.8" cy="169.6" r="1.6" fill="#f9c2a7"/><circle cx="163.1" cy="169.2" r="1.6" fill="#fcdecd"/><circle cx="166.5" cy="170.2" r="1.6" fill="#fcdecd"/><circle cx="170.2" cy="169.9" r="1.6" fill="#fcdecd"/><circle cx="172.7" cy="169.3" r="1.6" fill="#f9c2a7"/><circle cx="176.1" cy="169.5" r="1.6" fill="#f9efe9"/><circle cx="178.1" cy="169.9" r="1.6" fill="#fcdecd"/><circle cx="181.0" cy="169.9" r="1.6" fill="#fcdecd"/><circle cx="51.3" cy="171.8" r="1.6" fill="#f2a17f"/><circle cx="54.3" cy="172.5" r="1.6" fill="#fcdecd"/><circle cx="56.7" cy="172.8" r="1.6" fill="#fcdecd"/><circle cx="60.4" cy="172.3" r="1.6" fill="#f2a17f"/><path d="M61.3,172.8h3l-1.5,-2.6z" fill="#fcdecd"/><circle cx="65.7" cy="172.2" r="1.6" fill="#fcdecd"/><circle cx="68.9" cy="172.7" r="1.6" fill="#fcdecd"/><path d="M70.1,173.7h3l-1.5,-2.6z" fill="#ecf2f5"/><circle cx="75.0" cy="172.0" r="1.6" fill="#b3d6e8"/><path d="M110.1,173.8h3l-1.5,-2.6z" fill="#ecf2f5"/><circle cx="114.3" cy="172.0" r="1.6" fill="#d5e7f1"/><circle cx="116.5" cy="172.7" r="1.6" fill="#b3d6e8"/><circle cx="119.6" cy="172.1" r="1.6" fill="#b3d6e8"/><path d="M121.9,172.7h3l-1.5,-2.6z" fill="#ecf2f5"/><circle cx="126.6" cy="172.7" r="1.6" fill="#f9efe9"/><circle cx="132.4" cy="172.3" r="1.6" fill="#f9efe9"/><path d="M133.3,173.1h3l-1.5,-2.6z" fill="#ecf2f5"/><circle cx="137.6" cy="172.2" r="1.6" fill="#ecf2f5"/><circle cx="140.8" cy="172.1" r="1.6" fill="#f9efe9"/><circle cx="144.0" cy="172.4" r="1.6" fill="#fcdecd"/><circle cx="146.7" cy="172.6" r="1.6" fill="#f2a17f"/><circle cx="153.5" cy="172.7" r="1.6" fill="#f9c2a7"/><circle cx="156.4" cy="171.9" r="1.6" fill="#f9c2a7"/><circle cx="158.8" cy="172.0" r="1.6" fill="#fcdecd"/><circle cx="162.0" cy="171.7" r="1.6" fill="#e17860"/><circle cx="165.4" cy="172.6" r="1.6" fill="#fcdecd"/><circle cx="168.3" cy="172.7" r="1.6" fill="#fcdecd"/><circle cx="170.7" cy="172.0" r="1.6" fill="#f9c2a7"/><circle cx="173.7" cy="172.3" r="1.6" fill="#ecf2f5"/><circle cx="177.3" cy="172.3" r="1.6" fill="#f9efe9"/><circle cx="47.0" cy="174.6" r="1.6" fill="#f2a17f"/><circle cx="49.7" cy="174.9" r="1.6" fill="#fcdecd"/><circle cx="52.9" cy="174.8" r="1.6" fill="#f2a17f"/><circle cx="55.6" cy="174.8" r="1.6" fill="#f9c2a7"/><circle cx="58.2" cy="174.6" r="1.6" fill="#f9c2a7"/><circle cx="61.3" cy="175.2" r="1.6" fill="#f9c2a7"/><circle cx="64.2" cy="174.9" r="1.6" fill="#f9efe9"/><circle cx="67.3" cy="174.7" r="1.6" fill="#ecf2f5"/><circle cx="73.5" cy="174.8" r="1.6" fill="#ecf2f5"/><circle cx="112.4" cy="174.5" r="1.6" fill="#ecf2f5"/><circle cx="118.8" cy="174.7" r="1.6" fill="#d5e7f1"/><circle cx="122.0" cy="174.7" r="1.6" fill="#d5e7f1"/><circle cx="125.1" cy="175.0" r="1.6" fill="#f9efe9"/><circle cx="134.0" cy="175.1" r="1.6" fill="#fcdecd"/><circle cx="154.2" cy="175.0" r="1.6" fill="#f2a17f"/><circle cx="157.8" cy="174.6" r="1.6" fill="#f9c2a7"/><circle cx="160.3" cy="174.6" r="1.6" fill="#f2a17f"/><circle cx="164.1" cy="175.3" r="1.6" fill="#fcdecd"/><circle cx="166.8" cy="174.9" r="1.6" fill="#f9efe9"/><path d="M167.9,176.4h3l-1.5,-2.6z" fill="#f9efe9"/><circle cx="172.7" cy="175.4" r="1.6" fill="#f9efe9"/><circle cx="181.9" cy="175.5" r="1.6" fill="#fcdecd"/><circle cx="184.6" cy="174.5" r="1.6" fill="#f9efe9"/><circle cx="44.8" cy="177.3" r="1.6" fill="#f9c2a7"/><circle cx="48.4" cy="177.4" r="1.6" fill="#f9c2a7"/><circle cx="54.1" cy="177.6" r="1.6" fill="#f9c2a7"/><circle cx="57.2" cy="178.0" r="1.6" fill="#fcdecd"/><circle cx="60.1" cy="177.7" r="1.6" fill="#ecf2f5"/><circle cx="63.7" cy="177.5" r="1.6" fill="#ecf2f5"/><circle cx="69.6" cy="177.0" r="1.6" fill="#f9efe9"/><circle cx="107.8" cy="177.2" r="1.6" fill="#d5e7f1"/><path d="M115.8,178.3h3l-1.5,-2.6z" fill="#ecf2f5"/><circle cx="123.6" cy="177.0" r="1.6" fill="#ecf2f5"/><circle cx="129.2" cy="177.5" r="1.6" fill="#d5e7f1"/><circle cx="132.4" cy="177.8" r="1.6" fill="#d5e7f1"/><circle cx="138.5" cy="177.5" r="1.6" fill="#fcdecd"/><circle cx="144.1" cy="177.2" r="1.6" fill="#f9c2a7"/><circle cx="147.0" cy="177.0" r="1.6" fill="#fcdecd"/><circle cx="156.0" cy="177.8" r="1.6" fill="#f2a17f"/><circle cx="159.1" cy="178.1" r="1.6" fill="#fcdecd"/><circle cx="162.1" cy="177.8" r="1.6" fill="#f9c2a7"/><circle cx="165.5" cy="176.9" r="1.6" fill="#f9c2a7"/><path d="M169.0,178.2h3l-1.5,-2.6z" fill="#f9efe9"/><path d="M172.8,178.8h3l-1.5,-2.6z" fill="#f9efe9"/><circle cx="176.8" cy="177.9" r="1.6" fill="#ecf2f5"/><circle cx="46.4" cy="180.5" r="1.6" fill="#f9efe9"/><circle cx="61.1" cy="179.8" r="1.6" fill="#f9efe9"/><circle cx="67.9" cy="179.9" r="1.6" fill="#ecf2f5"/><circle cx="109.6" cy="180.6" r="1.6" fill="#ecf2f5"/><circle cx="115.1" cy="180.5" r="1.6" fill="#ecf2f5"/><path d="M129.3,180.7h3l-1.5,-2.6z" fill="#ecf2f5"/><circle cx="136.9" cy="180.4" r="1.6" fill="#d5e7f1"/><circle cx="142.6" cy="180.2" r="1.6" fill="#f9efe9"/><path d="M143.7,181.2h3l-1.5,-2.6z" fill="#f9efe9"/><circle cx="148.4" cy="179.8" r="1.6" fill="#fcdecd"/><circle cx="151.4" cy="180.2" r="1.6" fill="#fcdecd"/><circle cx="154.9" cy="179.9" r="1.6" fill="#f9c2a7"/><circle cx="160.4" cy="180.5" r="1.6" fill="#fcdecd"/><circle cx="164.2" cy="180.6" r="1.6" fill="#ecf2f5"/><path d="M170.7,180.8h3l-1.5,-2.6z" fill="#f9efe9"/><circle cx="184.1" cy="179.6" r="1.6" fill="#d5e7f1"/><path d="M186.4,181.6h3l-1.5,-2.6z" fill="#f9efe9"/><path d="M46.4,183.4h3l-1.5,-2.6z" fill="#f9efe9"/><circle cx="57.0" cy="182.8" r="1.6" fill="#f9efe9"/><circle cx="66.2" cy="182.9" r="1.6" fill="#d5e7f1"/><circle cx="110.8" cy="182.1" r="1.6" fill="#b3d6e8"/><circle cx="113.6" cy="183.0" r="1.6" fill="#ecf2f5"/><circle cx="117.5" cy="182.2" r="1.6" fill="#d5e7f1"/><circle cx="119.6" cy="183.0" r="1.6" fill="#d5e7f1"/><circle cx="134.6" cy="183.0" r="1.6" fill="#d5e7f1"/><circle cx="138.0" cy="182.8" r="1.6" fill="#b3d6e8"/><circle cx="143.8" cy="182.7" r="1.6" fill="#ecf2f5"/><path d="M145.3,184.2h3l-1.5,-2.6z" fill="#f9efe9"/><circle cx="152.8" cy="182.2" r="1.6" fill="#f2a17f"/><circle cx="159.3" cy="182.6" r="1.6" fill="#f9c2a7"/><circle cx="162.4" cy="182.7" r="1.6" fill="#ecf2f5"/><circle cx="168.5" cy="182.7" r="1.6" fill="#3b88be"/><circle cx="171.3" cy="182.3" r="1.6" fill="#8dc2dc"/><path d="M185.1,183.1h3l-1.5,-2.6z" fill="#f9efe9"/><circle cx="53.1" cy="185.2" r="1.6" fill="#ecf2f5"/><circle cx="127.6" cy="185.0" r="1.6" fill="#d5e7f1"/><path d="M131.7,186.4h3l-1.5,-2.6z" fill="#ecf2f5"/><circle cx="145.8" cy="185.4" r="1.6" fill="#ecf2f5"/><circle cx="148.4" cy="185.3" r="1.6" fill="#d5e7f1"/><circle cx="151.5" cy="185.3" r="1.6" fill="#fcdecd"/><circle cx="154.5" cy="185.0" r="1.6" fill="#930e26"/><circle cx="158.0" cy="185.4" r="1.6" fill="#b82531"/><circle cx="160.7" cy="185.0" r="1.6" fill="#fcdecd"/><circle cx="164.0" cy="185.8" r="1.6" fill="#8dc2dc"/><circle cx="169.7" cy="185.7" r="1.6" fill="#276eb0"/><circle cx="173.1" cy="185.0" r="1.6" fill="#d5e7f1"/><path d="M180.0,186.9h3l-1.5,-2.6z" fill="#ecf2f5"/><circle cx="47.8" cy="187.9" r="1.6" fill="#ecf2f5"/><circle cx="111.1" cy="188.3" r="1.6" fill="#f9efe9"/><circle cx="126.1" cy="187.5" r="1.6" fill="#b3d6e8"/><circle cx="132.0" cy="187.9" r="1.6" fill="#ecf2f5"/><circle cx="137.5" cy="188.1" r="1.6" fill="#d5e7f1"/><circle cx="141.3" cy="187.7" r="1.6" fill="#ecf2f5"/><circle cx="144.1" cy="188.4" r="1.6" fill="#d5e7f1"/><circle cx="149.9" cy="187.4" r="1.6" fill="#fcdecd"/><circle cx="153.5" cy="188.0" r="1.6" fill="#e17860"/><circle cx="156.0" cy="187.6" r="1.6" fill="#b82531"/><circle cx="159.7" cy="187.8" r="1.6" fill="#f2a17f"/><path d="M163.3,188.5h3l-1.5,-2.6z" fill="#ecf2f5"/><circle cx="171.6" cy="187.7" r="1.6" fill="#b3d6e8"/><circle cx="173.7" cy="187.9" r="1.6" fill="#d5e7f1"/><circle cx="176.6" cy="187.4" r="1.6" fill="#d5e7f1"/><circle cx="179.9" cy="188.1" r="1.6" fill="#d5e7f1"/><circle cx="52.3" cy="190.7" r="1.6" fill="#d5e7f1"/><circle cx="130.8" cy="191.0" r="1.6" fill="#ecf2f5"/><circle cx="137.0" cy="190.3" r="1.6" fill="#d5e7f1"/><circle cx="146.2" cy="191.1" r="1.6" fill="#f9efe9"/><circle cx="157.7" cy="190.6" r="1.6" fill="#f9efe9"/><path d="M168.4,191.2h3l-1.5,-2.6z" fill="#f9efe9"/><circle cx="172.1" cy="190.1" r="1.6" fill="#d5e7f1"/><circle cx="175.1" cy="190.4" r="1.6" fill="#d5e7f1"/><circle cx="60.1" cy="192.9" r="1.6" fill="#ecf2f5"/><circle cx="114.1" cy="193.4" r="1.6" fill="#f9efe9"/><path d="M116.0,194.5h3l-1.5,-2.6z" fill="#d5e7f1"/><circle cx="128.8" cy="193.6" r="1.6" fill="#ecf2f5"/><path d="M136.9,194.3h3l-1.5,-2.6z" fill="#ecf2f5"/><circle cx="156.6" cy="192.9" r="1.6" fill="#d5e7f1"/><circle cx="159.6" cy="193.2" r="1.6" fill="#fcdecd"/><circle cx="171.3" cy="193.3" r="1.6" fill="#ecf2f5"/><path d="M172.4,194.5h3l-1.5,-2.6z" fill="#ecf2f5"/><circle cx="109.6" cy="196.2" r="1.6" fill="#f9efe9"/><circle cx="118.7" cy="195.1" r="1.6" fill="#ecf2f5"/><circle cx="130.7" cy="195.8" r="1.6" fill="#f9efe9"/><circle cx="133.8" cy="195.4" r="1.6" fill="#f9efe9"/><circle cx="139.5" cy="196.0" r="1.6" fill="#f9efe9"/><circle cx="158.0" cy="196.1" r="1.6" fill="#ecf2f5"/><circle cx="172.6" cy="195.8" r="1.6" fill="#ecf2f5"/><circle cx="175.2" cy="195.2" r="1.6" fill="#d5e7f1"/><circle cx="63.5" cy="198.2" r="1.6" fill="#ecf2f5"/><circle cx="69.0" cy="198.2" r="1.6" fill="#d5e7f1"/><circle cx="71.7" cy="198.2" r="1.6" fill="#b3d6e8"/><circle cx="66.3" cy="203.7" r="1.6" fill="#f9efe9"/><path d="M71.2,204.6h3l-1.5,-2.6z" fill="#f9efe9"/><circle cx="81.4" cy="202.9" r="1.6" fill="#ecf2f5"/><path d="M178.5,204.6h3l-1.5,-2.6z" fill="#ecf2f5"/><circle cx="182.8" cy="203.4" r="1.6" fill="#f9efe9"/><circle cx="67.5" cy="206.4" r="1.6" fill="#f9efe9"/><path d="M69.6,207.0h3l-1.5,-2.6z" fill="#ecf2f5"/><circle cx="76.5" cy="206.0" r="1.6" fill="#f9efe9"/><circle cx="85.2" cy="206.7" r="1.6" fill="#b3d6e8"/><path d="M171.1,207.1h3l-1.5,-2.6z" fill="#f9efe9"/><circle cx="178.4" cy="206.4" r="1.6" fill="#d5e7f1"/><circle cx="75.6" cy="208.1" r="1.6" fill="#f9efe9"/><path d="M76.9,210.2h3l-1.5,-2.6z" fill="#d5e7f1"/><circle cx="86.5" cy="209.1" r="1.6" fill="#d5e7f1"/><circle cx="90.2" cy="208.5" r="1.6" fill="#b3d6e8"/><circle cx="70.4" cy="211.4" r="1.6" fill="#ecf2f5"/><circle cx="76.7" cy="211.8" r="1.6" fill="#f9c2a7"/><path d="M81.5,212.2h3l-1.5,-2.6z" fill="#ecf2f5"/><circle cx="88.3" cy="211.0" r="1.6" fill="#d5e7f1"/><circle cx="91.4" cy="211.4" r="1.6" fill="#d5e7f1"/><circle cx="68.6" cy="213.5" r="1.6" fill="#fcdecd"/><circle cx="84.6" cy="214.3" r="1.6" fill="#d5e7f1"/><circle cx="73.3" cy="216.2" r="1.6" fill="#f9c2a7"/><circle cx="85.1" cy="216.8" r="1.6" fill="#d5e7f1"/><circle cx="88.9" cy="215.9" r="1.6" fill="#b3d6e8"/><circle cx="121.0" cy="215.9" r="1.6" fill="#f9efe9"/><circle cx="72.6" cy="218.8" r="1.6" fill="#f9efe9"/><circle cx="87.6" cy="218.9" r="1.6" fill="#b3d6e8"/><circle cx="73.4" cy="222.2" r="1.6" fill="#f9efe9"/><circle cx="82.8" cy="221.1" r="1.6" fill="#d5e7f1"/><circle cx="124.4" cy="221.7" r="1.6" fill="#fcdecd"/><circle cx="130.2" cy="221.9" r="1.6" fill="#f9efe9"/><path d="M79.0,225.0h3l-1.5,-2.6z" fill="#f9efe9"/><circle cx="83.9" cy="224.0" r="1.6" fill="#f9efe9"/><circle cx="125.9" cy="223.8" r="1.6" fill="#f9c2a7"/><circle cx="129.3" cy="224.7" r="1.6" fill="#fcdecd"/><path d="M126.2,228.3h3l-1.5,-2.6z" fill="#f9efe9"/><path d="M73.2,229.9h3l-1.5,-2.6z" fill="#ecf2f5"/><circle cx="78.0" cy="229.1" r="1.6" fill="#f9c2a7"/><path d="M73.2,241.1h3l-1.5,-2.6z" fill="#f9efe9"/><path d="M18.9,191.3h3l-1.5,-2.6z" fill="#fcdecd"/><circle cx="21.8" cy="191.4" r="1.6" fill="#f9efe9"/><circle cx="29.5" cy="211.1" r="1.6" fill="#b3d6e8"/><circle cx="11.1" cy="214.4" r="1.6" fill="#b3d6e8"/><circle cx="8.8" cy="214.0" r="1.6" fill="#d5e7f1"/><circle cx="24.6" cy="216.9" r="1.6" fill="#d5e7f1"/><circle cx="10.2" cy="219.4" r="1.6" fill="#b3d6e8"/><circle cx="19.2" cy="219.4" r="1.6" fill="#8dc2dc"/><circle cx="25.6" cy="220.9" r="1.6" fill="#8dc2dc"/><circle cx="29.4" cy="223.8" r="1.6" fill="#d5e7f1"/><path d="M74.4,183.8h3l-1.5,-2.6z" fill="#ecf2f5"/><circle cx="95.5" cy="177.9" r="1.6" fill="#fcdecd"/><path d="M101.5,183.5h3l-1.5,-2.6z" fill="#ecf2f5"/><circle cx="103.7" cy="185.6" r="1.6" fill="#ecf2f5"/><circle cx="103.2" cy="185.4" r="1.6" fill="#ecf2f5"/><circle cx="98.7" cy="194.7" r="1.6" fill="#d5e7f1"/><circle cx="99.1" cy="193.4" r="1.6" fill="#ecf2f5"/><circle cx="104.0" cy="210.3" r="1.6" fill="#f9efe9"/><circle cx="94.3" cy="241.9" r="1.6" fill="#f9efe9"/><circle cx="83.0" cy="240.2" r="1.6" fill="#d5e7f1"/><circle cx="109.2" cy="157.7" r="1.6" fill="#5fa5cd"/><circle cx="120.3" cy="155.8" r="1.6" fill="#8dc2dc"/><circle cx="109.4" cy="163.0" r="1.6" fill="#8dc2dc"/><circle cx="102.2" cy="161.9" r="1.6" fill="#15508d"/><circle cx="104.5" cy="160.8" r="1.6" fill="#15508d"/><circle cx="106.1" cy="161.0" r="1.6" fill="#15508d"/><path d="M144.1,209.1h3l-1.5,-2.6z" fill="#ecf2f5"/><circle cx="146.2" cy="218.8" r="1.6" fill="#d5e7f1"/><circle cx="145.0" cy="219.3" r="1.6" fill="#fcdecd"/><circle cx="149.7" cy="218.4" r="1.6" fill="#f9efe9"/><path d="M147.6,239.6h3l-1.5,-2.6z" fill="#ecf2f5"/><path d="M138.6,237.6h3l-1.5,-2.6z" fill="#ecf2f5"/><circle cx="132.6" cy="237.0" r="1.6" fill="#f9efe9"/><circle cx="198.2" cy="195.6" r="1.6" fill="#d5e7f1"/><path d="M197.1,195.5h3l-1.5,-2.6z" fill="#ecf2f5"/><circle cx="214.5" cy="200.0" r="1.6" fill="#d5e7f1"/><circle cx="212.2" cy="198.9" r="1.6" fill="#d5e7f1"/><circle cx="206.7" cy="200.2" r="1.6" fill="#f9efe9"/><circle cx="202.8" cy="199.8" r="1.6" fill="#ecf2f5"/><circle cx="192.6" cy="199.9" r="1.6" fill="#ecf2f5"/><circle cx="194.6" cy="198.4" r="1.6" fill="#d5e7f1"/><circle cx="215.7" cy="205.6" r="1.6" fill="#d5e7f1"/><circle cx="219.1" cy="210.7" r="1.6" fill="#d5e7f1"/><circle cx="217.4" cy="217.3" r="1.6" fill="#d5e7f1"/><circle cx="216.9" cy="217.0" r="1.6" fill="#b3d6e8"/><circle cx="211.5" cy="217.0" r="1.6" fill="#d5e7f1"/><path d="M209.7,216.5h3l-1.5,-2.6z" fill="#ecf2f5"/><circle cx="209.6" cy="220.2" r="1.6" fill="#d5e7f1"/><circle cx="209.0" cy="224.8" r="1.6" fill="#b3d6e8"/><circle cx="203.2" cy="226.5" r="1.6" fill="#d5e7f1"/><path d="M190.5,243.0h3l-1.5,-2.6z" fill="#f9efe9"/><circle cx="17.6" cy="235.0" r="1.6" fill="#ecf2f5"/><circle cx="207.6" cy="211.3" r="1.6" fill="#d5e7f1"/><circle cx="136.0" cy="209.2" r="1.6" fill="#f9efe9"/><circle cx="138.3" cy="212.9" r="1.6" fill="#ecf2f5"/><circle cx="139.3" cy="213.7" r="1.6" fill="#f9efe9"/><path d="M139.1,213.9h3l-1.5,-2.6z" fill="#f9efe9"/><circle cx="85.6" cy="246.9" r="1.6" fill="#f9efe9"/><path d="M57.3,206.4h3l-1.5,-2.6z" fill="#f9efe9"/><circle cx="93.3" cy="207.5" r="1.6" fill="#ecf2f5"/><path d="M21.0,170.5h3l-1.5,-2.6z" fill="#f9efe9"/><circle cx="29.0" cy="168.2" r="1.6" fill="#fcdecd"/><path d="M30.3,168.3h3l-1.5,-2.6z" fill="#fcdecd"/><circle cx="36.9" cy="165.1" r="1.6" fill="#f9c2a7"/><circle cx="38.6" cy="165.7" r="1.6" fill="#f2a17f"/><circle cx="40.2" cy="164.5" r="1.6" fill="#f9c2a7"/><circle cx="43.8" cy="163.6" r="1.6" fill="#f2a17f"/><circle cx="45.8" cy="164.6" r="1.6" fill="#f9c2a7"/><circle cx="46.4" cy="166.1" r="1.6" fill="#f9c2a7"/><circle cx="47.3" cy="167.3" r="1.6" fill="#f2a17f"/><circle cx="47.4" cy="167.9" r="1.6" fill="#f2a17f"/><circle cx="47.4" cy="169.3" r="1.6" fill="#fcdecd"/><circle cx="47.7" cy="170.7" r="1.6" fill="#f9c2a7"/><circle cx="47.1" cy="172.8" r="1.6" fill="#f9c2a7"/><circle cx="45.6" cy="175.2" r="1.6" fill="#f9efe9"/><path d="M43.2,177.9h3l-1.5,-2.6z" fill="#f9efe9"/><circle cx="44.6" cy="179.1" r="1.6" fill="#fcdecd"/><circle cx="44.8" cy="180.9" r="1.6" fill="#fcdecd"/><circle cx="45.8" cy="181.6" r="1.6" fill="#fcdecd"/><circle cx="45.8" cy="161.3" r="1.6" fill="#f2a17f"/><path d="M40.5,164.5h3l-1.5,-2.6z" fill="#f9efe9"/><circle cx="37.3" cy="161.5" r="1.6" fill="#f9c2a7"/><circle cx="46.5" cy="157.5" r="1.6" fill="#fcdecd"/><circle cx="40.4" cy="160.1" r="1.6" fill="#fcdecd"/><circle cx="81.2" cy="162.0" r="1.6" fill="#8dc2dc"/><path d="M88.9,152.9h3l-1.5,-2.6z" fill="#ecf2f5"/><path d="M72.9,156.6h3l-1.5,-2.6z" fill="#f9efe9"/><path d="M65.6,159.8h3l-1.5,-2.6z" fill="#f9efe9"/><path d="M79.3,154.0h3l-1.5,-2.6z" fill="#f9efe9"/><path d="M63.3,157.8h3l-1.5,-2.6z" fill="#f9efe9"/><circle cx="60.3" cy="157.1" r="1.6" fill="#f9c2a7"/><circle cx="55.3" cy="158.5" r="1.6" fill="#f9c2a7"/><path d="M75.8,157.8h3l-1.5,-2.6z" fill="#ecf2f5"/><circle cx="77.4" cy="158.9" r="1.6" fill="#ecf2f5"/><circle cx="90.2" cy="157.9" r="1.6" fill="#276eb0"/><circle cx="89.0" cy="161.7" r="1.6" fill="#3b88be"/><circle cx="91.2" cy="163.5" r="1.6" fill="#276eb0"/><circle cx="95.7" cy="160.8" r="1.6" fill="#15508d"/><circle cx="103.2" cy="158.0" r="1.6" fill="#15508d"/><circle cx="105.3" cy="154.5" r="1.6" fill="#276eb0"/><circle cx="85.7" cy="154.7" r="1.6" fill="#ecf2f5"/><circle cx="89.5" cy="156.6" r="1.6" fill="#8dc2dc"/><circle cx="118.5" cy="153.8" r="1.6" fill="#276eb0"/><circle cx="118.7" cy="153.0" r="1.6" fill="#276eb0"/><path d="M133.3,158.3h3l-1.5,-2.6z" fill="#f9efe9"/><circle cx="133.9" cy="152.7" r="1.6" fill="#f9efe9"/><path d="M150.1,154.2h3l-1.5,-2.6z" fill="#f9efe9"/><path d="M166.0,156.2h3l-1.5,-2.6z" fill="#f9efe9"/><circle cx="37.1" cy="157.7" r="1.6" fill="#fcdecd"/><circle cx="179.2" cy="189.6" r="1.6" fill="#ecf2f5"/><circle cx="183.1" cy="187.8" r="1.6" fill="#d5e7f1"/><circle cx="186.5" cy="186.9" r="1.6" fill="#d5e7f1"/><circle cx="184.7" cy="188.2" r="1.6" fill="#d5e7f1"/><circle cx="194.6" cy="186.4" r="1.6" fill="#ecf2f5"/><path d="M190.1,183.3h3l-1.5,-2.6z" fill="#ecf2f5"/><circle cx="76.4" cy="193.7" r="1.6" fill="#b3d6e8"/><circle cx="76.6" cy="194.9" r="1.6" fill="#ecf2f5"/><circle cx="77.4" cy="195.9" r="1.6" fill="#ecf2f5"/><circle cx="76.1" cy="196.6" r="1.6" fill="#d5e7f1"/><circle cx="71.8" cy="196.5" r="1.6" fill="#b3d6e8"/><circle cx="73.9" cy="192.3" r="1.6" fill="#d5e7f1"/><circle cx="74.5" cy="192.4" r="1.6" fill="#d5e7f1"/><circle cx="67.4" cy="192.6" r="1.6" fill="#8dc2dc"/><circle cx="67.1" cy="187.8" r="1.6" fill="#b3d6e8"/><circle cx="67.6" cy="188.4" r="1.6" fill="#8dc2dc"/><circle cx="68.9" cy="189.1" r="1.6" fill="#b3d6e8"/><circle cx="66.1" cy="187.2" r="1.6" fill="#d5e7f1"/><circle cx="65.1" cy="188.0" r="1.6" fill="#ecf2f5"/></g>
</g>
<use href="#bnd" transform="translate(112.6,204.9)" fill="none" stroke="#999" stroke-width="0.5"/>
<text x="112.6" y="143.1" font-family="Liberation Sans" font-weight="bold" font-size="7.95" fill="#2f4f4f" text-anchor="middle">b) IFS-NEMO (-0.07, 0.87, 44)</text>
<rect x="8.6" y="241.8" width="48.3" height="15.4" fill="#fff" fill-opacity="0.85" stroke="#d0d0d0" stroke-width="0.5"/>
<circle cx="15.2" cy="245.8" r="1.45" fill="#111"/>
<path d="M13.6,254.4 L16.8,254.4 L15.2,251.6Z" fill="#111"/>
<text x="24" y="247.6" font-family="Liberation Sans" font-size="5.0" fill="#222">significant</text>
<text x="24" y="254.8" font-family="Liberation Sans" font-size="5.0" fill="#222">not significant</text>
<g clip-path="url(#c2)">
<use href="#brd" transform="translate(112.6,337.6)" fill="none" stroke="#777" stroke-width="0.3"/>
<use href="#coast" transform="translate(112.6,337.6)" fill="none" stroke="#111" stroke-width="0.5" stroke-linejoin="round"/>
<use href="#lakes" transform="translate(112.6,337.6)" fill="none" stroke="#111" stroke-width="0.35"/>
<g stroke="#333" stroke-width="0.25" stroke-opacity="0.7"><circle cx="134.7" cy="289.0" r="1.6" fill="#f9efe9"/><circle cx="146.9" cy="289.1" r="1.6" fill="#fcdecd"/><path d="M148.6,290.0h3l-1.5,-2.6z" fill="#ecf2f5"/><circle cx="153.3" cy="289.0" r="1.6" fill="#fcdecd"/><circle cx="158.5" cy="289.0" r="1.6" fill="#fcdecd"/><circle cx="55.5" cy="292.4" r="1.6" fill="#f9efe9"/><circle cx="76.3" cy="291.8" r="1.6" fill="#f9efe9"/><circle cx="79.3" cy="291.7" r="1.6" fill="#b3d6e8"/><circle cx="82.1" cy="291.9" r="1.6" fill="#8dc2dc"/><circle cx="124.7" cy="292.2" r="1.6" fill="#8dc2dc"/><path d="M138.2,293.4h3l-1.5,-2.6z" fill="#f9efe9"/><circle cx="142.7" cy="292.3" r="1.6" fill="#ecf2f5"/><circle cx="148.8" cy="292.1" r="1.6" fill="#f9c2a7"/><circle cx="152.0" cy="292.5" r="1.6" fill="#fcdecd"/><circle cx="158.1" cy="291.4" r="1.6" fill="#f9c2a7"/><circle cx="166.6" cy="292.3" r="1.6" fill="#fcdecd"/><circle cx="175.4" cy="292.3" r="1.6" fill="#f9c2a7"/><circle cx="181.8" cy="292.0" r="1.6" fill="#f9c2a7"/><circle cx="184.2" cy="291.7" r="1.6" fill="#f9efe9"/><circle cx="190.4" cy="292.1" r="1.6" fill="#d5e7f1"/><circle cx="42.7" cy="294.3" r="1.6" fill="#fcdecd"/><circle cx="45.6" cy="295.1" r="1.6" fill="#f9efe9"/><circle cx="54.0" cy="294.5" r="1.6" fill="#f2a17f"/><circle cx="60.3" cy="295.0" r="1.6" fill="#f9c2a7"/><circle cx="69.3" cy="294.2" r="1.6" fill="#f9efe9"/><circle cx="126.4" cy="294.0" r="1.6" fill="#8dc2dc"/><circle cx="131.6" cy="294.4" r="1.6" fill="#b3d6e8"/><circle cx="134.8" cy="294.0" r="1.6" fill="#d5e7f1"/><circle cx="138.3" cy="294.1" r="1.6" fill="#b3d6e8"/><circle cx="141.6" cy="294.4" r="1.6" fill="#f9efe9"/><circle cx="147.2" cy="294.7" r="1.6" fill="#f9efe9"/><circle cx="153.5" cy="294.8" r="1.6" fill="#f2a17f"/><circle cx="155.5" cy="295.1" r="1.6" fill="#fcdecd"/><circle cx="162.4" cy="294.5" r="1.6" fill="#ce4f45"/><circle cx="167.8" cy="295.0" r="1.6" fill="#f2a17f"/><circle cx="170.9" cy="294.6" r="1.6" fill="#f9c2a7"/><path d="M181.6,295.1h3l-1.5,-2.6z" fill="#f9efe9"/><circle cx="186.7" cy="294.7" r="1.6" fill="#f9efe9"/><path d="M187.6,295.6h3l-1.5,-2.6z" fill="#ecf2f5"/><path d="M191.1,296.1h3l-1.5,-2.6z" fill="#ecf2f5"/><path d="M36.1,298.0h3l-1.5,-2.6z" fill="#f9efe9"/><circle cx="50.1" cy="297.6" r="1.6" fill="#f9c2a7"/><circle cx="58.2" cy="297.2" r="1.6" fill="#f9c2a7"/><circle cx="65.1" cy="296.8" r="1.6" fill="#f9c2a7"/><path d="M65.8,297.8h3l-1.5,-2.6z" fill="#f9efe9"/><circle cx="116.0" cy="297.6" r="1.6" fill="#276eb0"/><circle cx="118.2" cy="297.2" r="1.6" fill="#5fa5cd"/><circle cx="127.1" cy="297.3" r="1.6" fill="#8dc2dc"/><circle cx="133.9" cy="297.1" r="1.6" fill="#b3d6e8"/><circle cx="136.9" cy="296.8" r="1.6" fill="#b3d6e8"/><circle cx="142.6" cy="297.1" r="1.6" fill="#ecf2f5"/><circle cx="151.0" cy="297.8" r="1.6" fill="#f9c2a7"/><circle cx="154.1" cy="297.2" r="1.6" fill="#fcdecd"/><circle cx="157.7" cy="296.8" r="1.6" fill="#f2a17f"/><circle cx="164.1" cy="297.0" r="1.6" fill="#e17860"/><circle cx="172.4" cy="297.5" r="1.6" fill="#f2a17f"/><circle cx="176.1" cy="296.7" r="1.6" fill="#f9c2a7"/><circle cx="178.9" cy="297.1" r="1.6" fill="#f9c2a7"/><circle cx="181.6" cy="296.9" r="1.6" fill="#f9efe9"/><circle cx="60.1" cy="299.3" r="1.6" fill="#f9c2a7"/><path d="M65.1,301.1h3l-1.5,-2.6z" fill="#fcdecd"/><circle cx="75.6" cy="299.7" r="1.6" fill="#d5e7f1"/><circle cx="80.6" cy="299.4" r="1.6" fill="#3b88be"/><circle cx="110.6" cy="300.1" r="1.6" fill="#3b88be"/><circle cx="123.6" cy="299.6" r="1.6" fill="#276eb0"/><circle cx="125.7" cy="300.3" r="1.6" fill="#5fa5cd"/><circle cx="128.5" cy="300.3" r="1.6" fill="#b3d6e8"/><circle cx="132.3" cy="300.1" r="1.6" fill="#b3d6e8"/><circle cx="134.6" cy="299.8" r="1.6" fill="#8dc2dc"/><circle cx="138.1" cy="300.1" r="1.6" fill="#d5e7f1"/><circle cx="141.2" cy="299.2" r="1.6" fill="#ecf2f5"/><path d="M143.1,300.3h3l-1.5,-2.6z" fill="#ecf2f5"/><circle cx="146.6" cy="300.3" r="1.6" fill="#d5e7f1"/><circle cx="153.6" cy="300.1" r="1.6" fill="#f9c2a7"/><circle cx="158.5" cy="300.1" r="1.6" fill="#fcdecd"/><circle cx="162.1" cy="299.8" r="1.6" fill="#f9c2a7"/><circle cx="165.7" cy="300.0" r="1.6" fill="#f2a17f"/><circle cx="168.4" cy="299.7" r="1.6" fill="#f9c2a7"/><circle cx="170.9" cy="299.8" r="1.6" fill="#f9c2a7"/><circle cx="173.8" cy="299.4" r="1.6" fill="#f9c2a7"/><circle cx="192.3" cy="300.1" r="1.6" fill="#fcdecd"/><circle cx="53.1" cy="302.2" r="1.6" fill="#fcdecd"/><circle cx="58.1" cy="302.2" r="1.6" fill="#fcdecd"/><circle cx="61.1" cy="302.2" r="1.6" fill="#fcdecd"/><circle cx="64.9" cy="303.0" r="1.6" fill="#ecf2f5"/><circle cx="73.9" cy="301.9" r="1.6" fill="#d5e7f1"/><circle cx="82.8" cy="302.0" r="1.6" fill="#276eb0"/><circle cx="112.3" cy="302.7" r="1.6" fill="#d5e7f1"/><circle cx="116.1" cy="302.8" r="1.6" fill="#b3d6e8"/><circle cx="118.2" cy="302.8" r="1.6" fill="#b3d6e8"/><circle cx="121.9" cy="302.6" r="1.6" fill="#5fa5cd"/><circle cx="124.4" cy="302.6" r="1.6" fill="#8dc2dc"/><circle cx="127.4" cy="302.2" r="1.6" fill="#8dc2dc"/><circle cx="130.6" cy="302.2" r="1.6" fill="#8dc2dc"/><circle cx="134.0" cy="302.6" r="1.6" fill="#b3d6e8"/><circle cx="137.2" cy="302.0" r="1.6" fill="#ecf2f5"/><circle cx="145.6" cy="302.7" r="1.6" fill="#f9efe9"/><circle cx="148.4" cy="302.4" r="1.6" fill="#fcdecd"/><circle cx="160.8" cy="302.3" r="1.6" fill="#f9c2a7"/><circle cx="163.1" cy="301.9" r="1.6" fill="#f9c2a7"/><circle cx="166.5" cy="302.9" r="1.6" fill="#fcdecd"/><circle cx="170.2" cy="302.6" r="1.6" fill="#fcdecd"/><circle cx="172.7" cy="302.0" r="1.6" fill="#fcdecd"/><circle cx="176.1" cy="302.2" r="1.6" fill="#f9efe9"/><circle cx="178.1" cy="302.6" r="1.6" fill="#f9efe9"/><circle cx="181.0" cy="302.6" r="1.6" fill="#f9c2a7"/><circle cx="51.3" cy="304.5" r="1.6" fill="#f9c2a7"/><circle cx="54.3" cy="305.2" r="1.6" fill="#f9efe9"/><circle cx="56.7" cy="305.5" r="1.6" fill="#f9c2a7"/><circle cx="60.4" cy="305.0" r="1.6" fill="#f9c2a7"/><path d="M61.3,305.5h3l-1.5,-2.6z" fill="#ecf2f5"/><path d="M64.2,305.9h3l-1.5,-2.6z" fill="#ecf2f5"/><circle cx="68.9" cy="305.4" r="1.6" fill="#ecf2f5"/><circle cx="71.6" cy="305.4" r="1.6" fill="#b3d6e8"/><circle cx="75.0" cy="304.7" r="1.6" fill="#8dc2dc"/><circle cx="111.6" cy="305.5" r="1.6" fill="#d5e7f1"/><circle cx="114.3" cy="304.7" r="1.6" fill="#8dc2dc"/><circle cx="116.5" cy="305.4" r="1.6" fill="#8dc2dc"/><circle cx="119.6" cy="304.8" r="1.6" fill="#b3d6e8"/><circle cx="123.4" cy="304.4" r="1.6" fill="#8dc2dc"/><circle cx="126.6" cy="305.4" r="1.6" fill="#d5e7f1"/><circle cx="132.4" cy="305.0" r="1.6" fill="#b3d6e8"/><circle cx="134.8" cy="304.8" r="1.6" fill="#ecf2f5"/><circle cx="137.6" cy="304.9" r="1.6" fill="#fcdecd"/><circle cx="140.8" cy="304.8" r="1.6" fill="#f9efe9"/><circle cx="144.0" cy="305.1" r="1.6" fill="#f9c2a7"/><path d="M145.2,306.3h3l-1.5,-2.6z" fill="#f9efe9"/><circle cx="153.5" cy="305.4" r="1.6" fill="#f9c2a7"/><circle cx="156.4" cy="304.6" r="1.6" fill="#f9c2a7"/><circle cx="158.8" cy="304.7" r="1.6" fill="#e17860"/><circle cx="162.0" cy="304.4" r="1.6" fill="#f9c2a7"/><circle cx="165.4" cy="305.3" r="1.6" fill="#f9c2a7"/><circle cx="168.3" cy="305.4" r="1.6" fill="#fcdecd"/><circle cx="170.7" cy="304.7" r="1.6" fill="#fcdecd"/><circle cx="173.7" cy="305.0" r="1.6" fill="#fcdecd"/><circle cx="177.3" cy="305.0" r="1.6" fill="#fcdecd"/><path d="M45.5,308.3h3l-1.5,-2.6z" fill="#f9efe9"/><circle cx="49.7" cy="307.6" r="1.6" fill="#ecf2f5"/><circle cx="52.9" cy="307.5" r="1.6" fill="#ecf2f5"/><circle cx="55.6" cy="307.5" r="1.6" fill="#ecf2f5"/><circle cx="58.2" cy="307.3" r="1.6" fill="#fcdecd"/><circle cx="61.3" cy="307.9" r="1.6" fill="#d5e7f1"/><path d="M62.7,308.6h3l-1.5,-2.6z" fill="#ecf2f5"/><circle cx="67.3" cy="307.4" r="1.6" fill="#d5e7f1"/><circle cx="73.5" cy="307.5" r="1.6" fill="#b3d6e8"/><circle cx="112.4" cy="307.2" r="1.6" fill="#d5e7f1"/><circle cx="118.8" cy="307.4" r="1.6" fill="#d5e7f1"/><circle cx="122.0" cy="307.4" r="1.6" fill="#8dc2dc"/><circle cx="125.1" cy="307.7" r="1.6" fill="#d5e7f1"/><circle cx="134.0" cy="307.8" r="1.6" fill="#f9efe9"/><circle cx="154.2" cy="307.7" r="1.6" fill="#f9c2a7"/><circle cx="157.8" cy="307.3" r="1.6" fill="#f2a17f"/><circle cx="160.3" cy="307.3" r="1.6" fill="#f2a17f"/><circle cx="164.1" cy="308.0" r="1.6" fill="#fcdecd"/><circle cx="166.8" cy="307.6" r="1.6" fill="#f9c2a7"/><circle cx="169.4" cy="308.1" r="1.6" fill="#fcdecd"/><circle cx="172.7" cy="308.1" r="1.6" fill="#ecf2f5"/><circle cx="181.9" cy="308.2" r="1.6" fill="#fcdecd"/><circle cx="184.6" cy="307.2" r="1.6" fill="#ecf2f5"/><circle cx="44.8" cy="310.0" r="1.6" fill="#fcdecd"/><circle cx="48.4" cy="310.1" r="1.6" fill="#fcdecd"/><circle cx="54.1" cy="310.3" r="1.6" fill="#d5e7f1"/><circle cx="57.2" cy="310.7" r="1.6" fill="#d5e7f1"/><circle cx="60.1" cy="310.4" r="1.6" fill="#f9efe9"/><circle cx="63.7" cy="310.2" r="1.6" fill="#b3d6e8"/><circle cx="69.6" cy="309.7" r="1.6" fill="#d5e7f1"/><circle cx="107.8" cy="309.9" r="1.6" fill="#b3d6e8"/><circle cx="117.3" cy="310.0" r="1.6" fill="#d5e7f1"/><circle cx="123.6" cy="309.7" r="1.6" fill="#ecf2f5"/><circle cx="129.2" cy="310.2" r="1.6" fill="#f9efe9"/><circle cx="132.4" cy="310.5" r="1.6" fill="#d5e7f1"/><path d="M137.0,311.2h3l-1.5,-2.6z" fill="#f9efe9"/><circle cx="144.1" cy="309.9" r="1.6" fill="#fcdecd"/><circle cx="147.0" cy="309.7" r="1.6" fill="#fcdecd"/><circle cx="156.0" cy="310.5" r="1.6" fill="#f2a17f"/><circle cx="159.1" cy="310.8" r="1.6" fill="#f9c2a7"/><circle cx="162.1" cy="310.5" r="1.6" fill="#fcdecd"/><circle cx="165.5" cy="309.6" r="1.6" fill="#f9efe9"/><circle cx="170.5" cy="309.9" r="1.6" fill="#fcdecd"/><circle cx="174.3" cy="310.5" r="1.6" fill="#ecf2f5"/><circle cx="176.8" cy="310.6" r="1.6" fill="#f9efe9"/><path d="M44.9,314.2h3l-1.5,-2.6z" fill="#f9efe9"/><circle cx="61.1" cy="312.5" r="1.6" fill="#b3d6e8"/><circle cx="67.9" cy="312.6" r="1.6" fill="#b3d6e8"/><path d="M108.1,314.3h3l-1.5,-2.6z" fill="#ecf2f5"/><path d="M113.6,314.2h3l-1.5,-2.6z" fill="#ecf2f5"/><path d="M129.3,313.4h3l-1.5,-2.6z" fill="#ecf2f5"/><circle cx="136.9" cy="313.1" r="1.6" fill="#d5e7f1"/><path d="M141.1,313.9h3l-1.5,-2.6z" fill="#ecf2f5"/><circle cx="145.2" cy="312.9" r="1.6" fill="#fcdecd"/><path d="M146.9,313.5h3l-1.5,-2.6z" fill="#f9efe9"/><circle cx="151.4" cy="312.9" r="1.6" fill="#f9c2a7"/><circle cx="154.9" cy="312.6" r="1.6" fill="#f2a17f"/><circle cx="160.4" cy="313.2" r="1.6" fill="#fcdecd"/><path d="M162.7,314.3h3l-1.5,-2.6z" fill="#ecf2f5"/><circle cx="172.2" cy="312.5" r="1.6" fill="#f9efe9"/><circle cx="184.1" cy="312.3" r="1.6" fill="#f9efe9"/><path d="M186.4,314.3h3l-1.5,-2.6z" fill="#ecf2f5"/><path d="M46.4,316.1h3l-1.5,-2.6z" fill="#f9efe9"/><path d="M55.5,316.5h3l-1.5,-2.6z" fill="#ecf2f5"/><circle cx="66.2" cy="315.6" r="1.6" fill="#ecf2f5"/><circle cx="110.8" cy="314.8" r="1.6" fill="#ecf2f5"/><circle cx="113.6" cy="315.7" r="1.6" fill="#d5e7f1"/><circle cx="117.5" cy="314.9" r="1.6" fill="#ecf2f5"/><circle cx="119.6" cy="315.7" r="1.6" fill="#b3d6e8"/><circle cx="134.6" cy="315.7" r="1.6" fill="#b3d6e8"/><circle cx="138.0" cy="315.5" r="1.6" fill="#d5e7f1"/><circle cx="143.8" cy="315.4" r="1.6" fill="#ecf2f5"/><circle cx="146.8" cy="315.9" r="1.6" fill="#ecf2f5"/><circle cx="152.8" cy="314.9" r="1.6" fill="#e17860"/><circle cx="159.3" cy="315.3" r="1.6" fill="#f9efe9"/><path d="M160.9,316.4h3l-1.5,-2.6z" fill="#ecf2f5"/><circle cx="168.5" cy="315.4" r="1.6" fill="#3b88be"/><path d="M169.8,316.0h3l-1.5,-2.6z" fill="#d5e7f1"/><circle cx="186.6" cy="314.8" r="1.6" fill="#ecf2f5"/><path d="M51.6,318.9h3l-1.5,-2.6z" fill="#ecf2f5"/><circle cx="127.6" cy="317.7" r="1.6" fill="#d5e7f1"/><circle cx="133.2" cy="318.1" r="1.6" fill="#d5e7f1"/><circle cx="145.8" cy="318.1" r="1.6" fill="#d5e7f1"/><path d="M146.9,319.0h3l-1.5,-2.6z" fill="#ecf2f5"/><circle cx="151.5" cy="318.0" r="1.6" fill="#fcdecd"/><circle cx="154.5" cy="317.7" r="1.6" fill="#b82531"/><circle cx="158.0" cy="318.1" r="1.6" fill="#b82531"/><circle cx="160.7" cy="317.7" r="1.6" fill="#fcdecd"/><circle cx="164.0" cy="318.5" r="1.6" fill="#d5e7f1"/><circle cx="169.7" cy="318.4" r="1.6" fill="#15508d"/><circle cx="173.1" cy="317.7" r="1.6" fill="#d5e7f1"/><circle cx="181.5" cy="318.6" r="1.6" fill="#d5e7f1"/><circle cx="47.8" cy="320.6" r="1.6" fill="#ecf2f5"/><circle cx="111.1" cy="321.0" r="1.6" fill="#ecf2f5"/><circle cx="126.1" cy="320.2" r="1.6" fill="#d5e7f1"/><circle cx="132.0" cy="320.6" r="1.6" fill="#ecf2f5"/><circle cx="137.5" cy="320.8" r="1.6" fill="#d5e7f1"/><circle cx="141.3" cy="320.4" r="1.6" fill="#f9efe9"/><circle cx="144.1" cy="321.1" r="1.6" fill="#f9efe9"/><circle cx="149.9" cy="320.1" r="1.6" fill="#ecf2f5"/><circle cx="153.5" cy="320.7" r="1.6" fill="#e17860"/><circle cx="156.0" cy="320.3" r="1.6" fill="#930e26"/><circle cx="159.7" cy="320.5" r="1.6" fill="#ce4f45"/><circle cx="164.8" cy="320.2" r="1.6" fill="#d5e7f1"/><circle cx="171.6" cy="320.4" r="1.6" fill="#8dc2dc"/><circle cx="173.7" cy="320.6" r="1.6" fill="#d5e7f1"/><circle cx="176.6" cy="320.1" r="1.6" fill="#ecf2f5"/><circle cx="179.9" cy="320.8" r="1.6" fill="#ecf2f5"/><circle cx="52.3" cy="323.4" r="1.6" fill="#b3d6e8"/><path d="M129.3,324.7h3l-1.5,-2.6z" fill="#ecf2f5"/><circle cx="137.0" cy="323.0" r="1.6" fill="#d5e7f1"/><circle cx="146.2" cy="323.8" r="1.6" fill="#d5e7f1"/><circle cx="157.7" cy="323.3" r="1.6" fill="#e17860"/><circle cx="169.9" cy="322.9" r="1.6" fill="#b3d6e8"/><circle cx="172.1" cy="322.8" r="1.6" fill="#d5e7f1"/><path d="M173.6,324.1h3l-1.5,-2.6z" fill="#f9efe9"/><circle cx="60.1" cy="325.6" r="1.6" fill="#d5e7f1"/><circle cx="114.1" cy="326.1" r="1.6" fill="#f9efe9"/><circle cx="117.5" cy="326.2" r="1.6" fill="#d5e7f1"/><path d="M127.3,327.3h3l-1.5,-2.6z" fill="#d5e7f1"/><circle cx="138.4" cy="326.0" r="1.6" fill="#ecf2f5"/><circle cx="156.6" cy="325.6" r="1.6" fill="#f2a17f"/><circle cx="159.6" cy="325.9" r="1.6" fill="#fcdecd"/><circle cx="171.3" cy="326.0" r="1.6" fill="#d5e7f1"/><path d="M172.4,327.2h3l-1.5,-2.6z" fill="#ecf2f5"/><path d="M108.1,329.9h3l-1.5,-2.6z" fill="#ecf2f5"/><path d="M117.2,328.8h3l-1.5,-2.6z" fill="#ecf2f5"/><circle cx="130.7" cy="328.5" r="1.6" fill="#f9c2a7"/><path d="M132.3,329.1h3l-1.5,-2.6z" fill="#fcdecd"/><path d="M138.0,329.7h3l-1.5,-2.6z" fill="#ecf2f5"/><circle cx="158.0" cy="328.8" r="1.6" fill="#ecf2f5"/><circle cx="172.6" cy="328.5" r="1.6" fill="#f9efe9"/><circle cx="175.2" cy="327.9" r="1.6" fill="#ecf2f5"/><circle cx="63.5" cy="330.9" r="1.6" fill="#d5e7f1"/><circle cx="69.0" cy="330.9" r="1.6" fill="#d5e7f1"/><path d="M70.2,331.9h3l-1.5,-2.6z" fill="#ecf2f5"/><path d="M64.8,337.4h3l-1.5,-2.6z" fill="#f9efe9"/><circle cx="72.7" cy="336.3" r="1.6" fill="#ecf2f5"/><circle cx="81.4" cy="335.6" r="1.6" fill="#ecf2f5"/><circle cx="180.0" cy="336.3" r="1.6" fill="#ecf2f5"/><circle cx="182.8" cy="336.1" r="1.6" fill="#ecf2f5"/><path d="M66.0,340.1h3l-1.5,-2.6z" fill="#ecf2f5"/><circle cx="71.1" cy="338.7" r="1.6" fill="#f9c2a7"/><path d="M75.0,339.7h3l-1.5,-2.6z" fill="#ecf2f5"/><circle cx="85.2" cy="339.4" r="1.6" fill="#b3d6e8"/><path d="M171.1,339.8h3l-1.5,-2.6z" fill="#ecf2f5"/><circle cx="178.4" cy="339.1" r="1.6" fill="#f9efe9"/><path d="M74.1,341.8h3l-1.5,-2.6z" fill="#f9efe9"/><circle cx="78.4" cy="341.9" r="1.6" fill="#f9efe9"/><circle cx="86.5" cy="341.8" r="1.6" fill="#b3d6e8"/><circle cx="90.2" cy="341.2" r="1.6" fill="#d5e7f1"/><circle cx="70.4" cy="344.1" r="1.6" fill="#ecf2f5"/><circle cx="76.7" cy="344.5" r="1.6" fill="#f9efe9"/><circle cx="83.0" cy="343.9" r="1.6" fill="#d5e7f1"/><circle cx="88.3" cy="343.7" r="1.6" fill="#8dc2dc"/><circle cx="91.4" cy="344.1" r="1.6" fill="#b3d6e8"/><circle cx="68.6" cy="346.2" r="1.6" fill="#d5e7f1"/><circle cx="84.6" cy="347.0" r="1.6" fill="#b3d6e8"/><circle cx="73.3" cy="348.9" r="1.6" fill="#f9c2a7"/><circle cx="85.1" cy="349.5" r="1.6" fill="#ecf2f5"/><circle cx="88.9" cy="348.6" r="1.6" fill="#b3d6e8"/><circle cx="121.0" cy="348.6" r="1.6" fill="#fcdecd"/><circle cx="72.6" cy="351.5" r="1.6" fill="#fcdecd"/><path d="M86.1,352.6h3l-1.5,-2.6z" fill="#ecf2f5"/><circle cx="73.4" cy="354.9" r="1.6" fill="#fcdecd"/><circle cx="82.8" cy="353.8" r="1.6" fill="#fcdecd"/><circle cx="124.4" cy="354.4" r="1.6" fill="#f9c2a7"/><circle cx="130.2" cy="354.6" r="1.6" fill="#ce4f45"/><circle cx="80.5" cy="356.7" r="1.6" fill="#f9efe9"/><circle cx="83.9" cy="356.7" r="1.6" fill="#fcdecd"/><circle cx="125.9" cy="356.5" r="1.6" fill="#e17860"/><circle cx="129.3" cy="357.4" r="1.6" fill="#f2a17f"/><circle cx="127.7" cy="360.0" r="1.6" fill="#f2a17f"/><circle cx="74.7" cy="361.6" r="1.6" fill="#f9efe9"/><path d="M76.5,362.8h3l-1.5,-2.6z" fill="#f9efe9"/><circle cx="74.7" cy="372.8" r="1.6" fill="#ecf2f5"/><circle cx="20.4" cy="323.0" r="1.6" fill="#ecf2f5"/><circle cx="21.8" cy="324.1" r="1.6" fill="#fcdecd"/><circle cx="29.5" cy="343.8" r="1.6" fill="#d5e7f1"/><circle cx="11.1" cy="347.1" r="1.6" fill="#d5e7f1"/><circle cx="8.8" cy="346.7" r="1.6" fill="#8dc2dc"/><circle cx="24.6" cy="349.6" r="1.6" fill="#8dc2dc"/><circle cx="10.2" cy="352.1" r="1.6" fill="#d5e7f1"/><circle cx="19.2" cy="352.1" r="1.6" fill="#d5e7f1"/><circle cx="25.6" cy="353.6" r="1.6" fill="#5fa5cd"/><path d="M27.9,357.5h3l-1.5,-2.6z" fill="#ecf2f5"/><circle cx="75.9" cy="315.5" r="1.6" fill="#d5e7f1"/><circle cx="95.5" cy="310.6" r="1.6" fill="#d5e7f1"/><circle cx="103.0" cy="315.2" r="1.6" fill="#d5e7f1"/><path d="M102.2,319.3h3l-1.5,-2.6z" fill="#ecf2f5"/><circle cx="103.2" cy="318.1" r="1.6" fill="#ecf2f5"/><circle cx="98.7" cy="327.4" r="1.6" fill="#f9efe9"/><path d="M97.6,327.1h3l-1.5,-2.6z" fill="#f9efe9"/><circle cx="104.0" cy="343.0" r="1.6" fill="#f9efe9"/><path d="M92.8,375.6h3l-1.5,-2.6z" fill="#f9efe9"/><circle cx="83.0" cy="372.9" r="1.6" fill="#ecf2f5"/><circle cx="109.2" cy="290.4" r="1.6" fill="#8dc2dc"/><circle cx="120.3" cy="288.5" r="1.6" fill="#5fa5cd"/><circle cx="109.4" cy="295.7" r="1.6" fill="#3b88be"/><circle cx="102.2" cy="294.6" r="1.6" fill="#15508d"/><circle cx="104.5" cy="293.5" r="1.6" fill="#15508d"/><circle cx="106.1" cy="293.7" r="1.6" fill="#15508d"/><circle cx="145.6" cy="340.8" r="1.6" fill="#fcdecd"/><circle cx="146.2" cy="351.5" r="1.6" fill="#ecf2f5"/><path d="M143.5,353.0h3l-1.5,-2.6z" fill="#ecf2f5"/><path d="M148.2,352.1h3l-1.5,-2.6z" fill="#f9efe9"/><circle cx="149.1" cy="371.3" r="1.6" fill="#ecf2f5"/><circle cx="140.1" cy="369.3" r="1.6" fill="#ecf2f5"/><circle cx="132.6" cy="369.7" r="1.6" fill="#ecf2f5"/><circle cx="198.2" cy="328.3" r="1.6" fill="#d5e7f1"/><circle cx="198.6" cy="327.2" r="1.6" fill="#b3d6e8"/><circle cx="214.5" cy="332.7" r="1.6" fill="#d5e7f1"/><circle cx="212.2" cy="331.6" r="1.6" fill="#d5e7f1"/><circle cx="206.7" cy="332.9" r="1.6" fill="#ecf2f5"/><circle cx="202.8" cy="332.5" r="1.6" fill="#f9efe9"/><path d="M191.1,333.6h3l-1.5,-2.6z" fill="#ecf2f5"/><circle cx="194.6" cy="331.1" r="1.6" fill="#ecf2f5"/><circle cx="215.7" cy="338.3" r="1.6" fill="#d5e7f1"/><circle cx="219.1" cy="343.4" r="1.6" fill="#8dc2dc"/><circle cx="217.4" cy="350.0" r="1.6" fill="#d5e7f1"/><circle cx="216.9" cy="349.7" r="1.6" fill="#b3d6e8"/><circle cx="211.5" cy="349.7" r="1.6" fill="#ecf2f5"/><circle cx="211.2" cy="348.2" r="1.6" fill="#b3d6e8"/><circle cx="209.6" cy="352.9" r="1.6" fill="#d5e7f1"/><circle cx="209.0" cy="357.5" r="1.6" fill="#d5e7f1"/><circle cx="203.2" cy="359.2" r="1.6" fill="#f9efe9"/><circle cx="192.0" cy="374.7" r="1.6" fill="#f9efe9"/><path d="M16.1,368.7h3l-1.5,-2.6z" fill="#f9efe9"/><circle cx="207.6" cy="344.0" r="1.6" fill="#d5e7f1"/><path d="M134.5,342.9h3l-1.5,-2.6z" fill="#f9efe9"/><path d="M136.8,346.6h3l-1.5,-2.6z" fill="#f9efe9"/><path d="M137.8,347.4h3l-1.5,-2.6z" fill="#d5e7f1"/><circle cx="140.6" cy="345.6" r="1.6" fill="#f9efe9"/><circle cx="85.6" cy="379.6" r="1.6" fill="#f9efe9"/><path d="M57.3,339.1h3l-1.5,-2.6z" fill="#ecf2f5"/><circle cx="93.3" cy="340.2" r="1.6" fill="#d5e7f1"/><circle cx="22.5" cy="302.2" r="1.6" fill="#ecf2f5"/><circle cx="29.0" cy="300.9" r="1.6" fill="#fcdecd"/><circle cx="31.8" cy="300.0" r="1.6" fill="#f9efe9"/><path d="M35.4,298.8h3l-1.5,-2.6z" fill="#f9efe9"/><path d="M37.1,299.4h3l-1.5,-2.6z" fill="#ecf2f5"/><circle cx="40.2" cy="297.2" r="1.6" fill="#f9c2a7"/><circle cx="43.8" cy="296.3" r="1.6" fill="#f9c2a7"/><circle cx="45.8" cy="297.3" r="1.6" fill="#fcdecd"/><circle cx="46.4" cy="298.8" r="1.6" fill="#fcdecd"/><circle cx="47.3" cy="300.0" r="1.6" fill="#fcdecd"/><circle cx="47.4" cy="300.6" r="1.6" fill="#f9c2a7"/><path d="M45.9,303.0h3l-1.5,-2.6z" fill="#f9efe9"/><circle cx="47.7" cy="303.4" r="1.6" fill="#f9c2a7"/><path d="M45.6,306.5h3l-1.5,-2.6z" fill="#f9efe9"/><circle cx="45.6" cy="307.9" r="1.6" fill="#fcdecd"/><circle cx="44.7" cy="309.6" r="1.6" fill="#f9efe9"/><circle cx="44.6" cy="311.8" r="1.6" fill="#ecf2f5"/><path d="M43.3,314.6h3l-1.5,-2.6z" fill="#f9efe9"/><path d="M44.3,315.3h3l-1.5,-2.6z" fill="#f9efe9"/><circle cx="45.8" cy="294.0" r="1.6" fill="#fcdecd"/><circle cx="42.0" cy="296.2" r="1.6" fill="#f9c2a7"/><circle cx="37.3" cy="294.2" r="1.6" fill="#fcdecd"/><path d="M45.0,291.2h3l-1.5,-2.6z" fill="#f9efe9"/><circle cx="40.4" cy="292.8" r="1.6" fill="#ecf2f5"/><circle cx="81.2" cy="294.7" r="1.6" fill="#8dc2dc"/><path d="M88.9,285.6h3l-1.5,-2.6z" fill="#d5e7f1"/><path d="M72.9,289.3h3l-1.5,-2.6z" fill="#f9efe9"/><circle cx="67.1" cy="291.5" r="1.6" fill="#fcdecd"/><path d="M79.3,286.7h3l-1.5,-2.6z" fill="#ecf2f5"/><path d="M63.3,290.5h3l-1.5,-2.6z" fill="#f9efe9"/><path d="M58.8,290.8h3l-1.5,-2.6z" fill="#f9efe9"/><circle cx="55.3" cy="291.2" r="1.6" fill="#f9efe9"/><circle cx="77.3" cy="289.5" r="1.6" fill="#ecf2f5"/><path d="M75.9,292.6h3l-1.5,-2.6z" fill="#d5e7f1"/><circle cx="90.2" cy="290.6" r="1.6" fill="#3b88be"/><circle cx="89.0" cy="294.4" r="1.6" fill="#15508d"/><circle cx="91.2" cy="296.2" r="1.6" fill="#276eb0"/><circle cx="95.7" cy="293.5" r="1.6" fill="#15508d"/><circle cx="103.2" cy="290.7" r="1.6" fill="#15508d"/><circle cx="105.3" cy="287.2" r="1.6" fill="#15508d"/><circle cx="85.7" cy="287.4" r="1.6" fill="#d5e7f1"/><circle cx="89.5" cy="289.3" r="1.6" fill="#3b88be"/><circle cx="118.5" cy="286.5" r="1.6" fill="#276eb0"/><circle cx="118.7" cy="285.7" r="1.6" fill="#15508d"/><path d="M133.3,291.0h3l-1.5,-2.6z" fill="#ecf2f5"/><path d="M132.4,286.4h3l-1.5,-2.6z" fill="#ecf2f5"/><path d="M150.1,286.9h3l-1.5,-2.6z" fill="#f9efe9"/><path d="M166.0,288.9h3l-1.5,-2.6z" fill="#f9efe9"/><path d="M35.6,291.4h3l-1.5,-2.6z" fill="#ecf2f5"/><circle cx="179.2" cy="322.3" r="1.6" fill="#d5e7f1"/><circle cx="183.1" cy="320.5" r="1.6" fill="#ecf2f5"/><circle cx="186.5" cy="319.6" r="1.6" fill="#ecf2f5"/><circle cx="184.7" cy="320.9" r="1.6" fill="#d5e7f1"/><path d="M193.1,320.1h3l-1.5,-2.6z" fill="#f9efe9"/><circle cx="191.6" cy="315.0" r="1.6" fill="#b3d6e8"/><path d="M74.9,327.4h3l-1.5,-2.6z" fill="#f9efe9"/><path d="M75.1,328.6h3l-1.5,-2.6z" fill="#ecf2f5"/><path d="M75.9,329.6h3l-1.5,-2.6z" fill="#f9efe9"/><circle cx="76.1" cy="329.3" r="1.6" fill="#b3d6e8"/><circle cx="71.8" cy="329.2" r="1.6" fill="#ecf2f5"/><circle cx="73.9" cy="325.0" r="1.6" fill="#d5e7f1"/><circle cx="74.5" cy="325.1" r="1.6" fill="#d5e7f1"/><circle cx="67.4" cy="325.3" r="1.6" fill="#b3d6e8"/><circle cx="67.1" cy="320.5" r="1.6" fill="#8dc2dc"/><circle cx="67.6" cy="321.1" r="1.6" fill="#d5e7f1"/><circle cx="68.9" cy="321.8" r="1.6" fill="#d5e7f1"/><circle cx="66.1" cy="319.9" r="1.6" fill="#d5e7f1"/><circle cx="65.1" cy="320.7" r="1.6" fill="#ecf2f5"/></g>
</g>
<use href="#bnd" transform="translate(112.6,337.6)" fill="none" stroke="#999" stroke-width="0.5"/>
<text x="112.6" y="275.8" font-family="Liberation Sans" font-weight="bold" font-size="7.95" fill="#2f4f4f" text-anchor="middle">c) IFS-FESOM (-0.17, 0.98, 46)</text>
<rect x="8.6" y="374.5" width="48.3" height="15.4" fill="#fff" fill-opacity="0.85" stroke="#d0d0d0" stroke-width="0.5"/>
<circle cx="15.2" cy="378.5" r="1.45" fill="#111"/>
<path d="M13.6,387.1 L16.8,387.1 L15.2,384.3Z" fill="#111"/>
<text x="24" y="380.3" font-family="Liberation Sans" font-size="5.0" fill="#222">significant</text>
<text x="24" y="387.5" font-family="Liberation Sans" font-size="5.0" fill="#222">not significant</text>
<path d="M15.20,415.3 L5.80,421.5 L15.20,427.7Z" fill="#053061"/><path d="M210.50,415.3 L219.80,421.5 L210.50,427.7Z" fill="#67001f"/><rect x="15.20" y="415.3" width="12.26" height="12.40" fill="#15508d"/><rect x="27.41" y="415.3" width="12.26" height="12.40" fill="#276eb0"/><rect x="39.61" y="415.3" width="12.26" height="12.40" fill="#3b88be"/><rect x="51.82" y="415.3" width="12.26" height="12.40" fill="#5fa5cd"/><rect x="64.03" y="415.3" width="12.26" height="12.40" fill="#8dc2dc"/><rect x="76.23" y="415.3" width="12.26" height="12.40" fill="#b3d6e8"/><rect x="88.44" y="415.3" width="12.26" height="12.40" fill="#d5e7f1"/><rect x="100.64" y="415.3" width="12.26" height="12.40" fill="#ecf2f5"/><rect x="112.85" y="415.3" width="12.26" height="12.40" fill="#f9efe9"/><rect x="125.06" y="415.3" width="12.26" height="12.40" fill="#fcdecd"/><rect x="137.26" y="415.3" width="12.26" height="12.40" fill="#f9c2a7"/><rect x="149.47" y="415.3" width="12.26" height="12.40" fill="#f2a17f"/><rect x="161.68" y="415.3" width="12.26" height="12.40" fill="#e17860"/><rect x="173.88" y="415.3" width="12.26" height="12.40" fill="#ce4f45"/><rect x="186.09" y="415.3" width="12.26" height="12.40" fill="#b82531"/><rect x="198.29" y="415.3" width="12.26" height="12.40" fill="#930e26"/><line x1="27.41" y1="415.3" x2="27.41" y2="427.7" stroke="#333" stroke-width="0.4"/><line x1="39.61" y1="415.3" x2="39.61" y2="427.7" stroke="#333" stroke-width="0.4"/><line x1="51.82" y1="415.3" x2="51.82" y2="427.7" stroke="#333" stroke-width="0.4"/><line x1="64.03" y1="415.3" x2="64.03" y2="427.7" stroke="#333" stroke-width="0.4"/><line x1="76.23" y1="415.3" x2="76.23" y2="427.7" stroke="#333" stroke-width="0.4"/><line x1="88.44" y1="415.3" x2="88.44" y2="427.7" stroke="#333" stroke-width="0.4"/><line x1="100.64" y1="415.3" x2="100.64" y2="427.7" stroke="#333" stroke-width="0.4"/><line x1="112.85" y1="415.3" x2="112.85" y2="427.7" stroke="#333" stroke-width="0.4"/><line x1="125.06" y1="415.3" x2="125.06" y2="427.7" stroke="#333" stroke-width="0.4"/><line x1="137.26" y1="415.3" x2="137.26" y2="427.7" stroke="#333" stroke-width="0.4"/><line x1="149.47" y1="415.3" x2="149.47" y2="427.7" stroke="#333" stroke-width="0.4"/><line x1="161.68" y1="415.3" x2="161.68" y2="427.7" stroke="#333" stroke-width="0.4"/><line x1="173.88" y1="415.3" x2="173.88" y2="427.7" stroke="#333" stroke-width="0.4"/><line x1="186.09" y1="415.3" x2="186.09" y2="427.7" stroke="#333" stroke-width="0.4"/><line x1="198.29" y1="415.3" x2="198.29" y2="427.7" stroke="#333" stroke-width="0.4"/><line x1="15.20" y1="427.7" x2="15.20" y2="429.7" stroke="#333" stroke-width="0.4"/><text x="15.20" y="436.60" font-family="Liberation Sans" font-size="6.0" fill="#222" text-anchor="middle">−7.0</text><line x1="27.41" y1="427.7" x2="27.41" y2="429.7" stroke="#333" stroke-width="0.4"/><text x="27.41" y="436.60" font-family="Liberation Sans" font-size="6.0" fill="#222" text-anchor="middle">−3.5</text><line x1="39.61" y1="427.7" x2="39.61" y2="429.7" stroke="#333" stroke-width="0.4"/><text x="39.61" y="436.60" font-family="Liberation Sans" font-size="6.0" fill="#222" text-anchor="middle">−3.0</text><line x1="51.82" y1="427.7" x2="51.82" y2="429.7" stroke="#333" stroke-width="0.4"/><text x="51.82" y="436.60" font-family="Liberation Sans" font-size="6.0" fill="#222" text-anchor="middle">−2.5</text><line x1="64.03" y1="427.7" x2="64.03" y2="429.7" stroke="#333" stroke-width="0.4"/><text x="64.03" y="436.60" font-family="Liberation Sans" font-size="6.0" fill="#222" text-anchor="middle">−2.0</text><line x1="76.23" y1="427.7" x2="76.23" y2="429.7" stroke="#333" stroke-width="0.4"/><text x="76.23" y="436.60" font-family="Liberation Sans" font-size="6.0" fill="#222" text-anchor="middle">−1.5</text><line x1="88.44" y1="427.7" x2="88.44" y2="429.7" stroke="#333" stroke-width="0.4"/><text x="88.44" y="436.60" font-family="Liberation Sans" font-size="6.0" fill="#222" text-anchor="middle">−1.0</text><line x1="100.64" y1="427.7" x2="100.64" y2="429.7" stroke="#333" stroke-width="0.4"/><text x="100.64" y="436.60" font-family="Liberation Sans" font-size="6.0" fill="#222" text-anchor="middle">−0.5</text><line x1="112.85" y1="427.7" x2="112.85" y2="429.7" stroke="#333" stroke-width="0.4"/><text x="112.85" y="436.60" font-family="Liberation Sans" font-size="6.0" fill="#222" text-anchor="middle">0.0</text><line x1="125.06" y1="427.7" x2="125.06" y2="429.7" stroke="#333" stroke-width="0.4"/><text x="125.06" y="436.60" font-family="Liberation Sans" font-size="6.0" fill="#222" text-anchor="middle">0.5</text><line x1="137.26" y1="427.7" x2="137.26" y2="429.7" stroke="#333" stroke-width="0.4"/><text x="137.26" y="436.60" font-family="Liberation Sans" font-size="6.0" fill="#222" text-anchor="middle">1.0</text><line x1="149.47" y1="427.7" x2="149.47" y2="429.7" stroke="#333" stroke-width="0.4"/><text x="149.47" y="436.60" font-family="Liberation Sans" font-size="6.0" fill="#222" text-anchor="middle">1.5</text><line x1="161.68" y1="427.7" x2="161.68" y2="429.7" stroke="#333" stroke-width="0.4"/><text x="161.68" y="436.60" font-family="Liberation Sans" font-size="6.0" fill="#222" text-anchor="middle">2.0</text><line x1="173.88" y1="427.7" x2="173.88" y2="429.7" stroke="#333" stroke-width="0.4"/><text x="173.88" y="436.60" font-family="Liberation Sans" font-size="6.0" fill="#222" text-anchor="middle">2.5</text><line x1="186.09" y1="427.7" x2="186.09" y2="429.7" stroke="#333" stroke-width="0.4"/><text x="186.09" y="436.60" font-family="Liberation Sans" font-size="6.0" fill="#222" text-anchor="middle">3.0</text><line x1="198.29" y1="427.7" x2="198.29" y2="429.7" stroke="#333" stroke-width="0.4"/><text x="198.29" y="436.60" font-family="Liberation Sans" font-size="6.0" fill="#222" text-anchor="middle">3.5</text><line x1="210.50" y1="427.7" x2="210.50" y2="429.7" stroke="#333" stroke-width="0.4"/><text x="210.50" y="436.60" font-family="Liberation Sans" font-size="6.0" fill="#222" text-anchor="middle">7.0</text><text x="113" y="444.30" font-family="Liberation Sans" font-size="6.0" fill="#222" text-anchor="middle">2m temperature bias (°C)</text>
<path d="M289.20,415.3 L280.20,421.5 L289.20,427.7Z" fill="#2d004b"/><path d="M484.70,415.3 L494.30,421.5 L484.70,427.7Z" fill="#7f3b08"/><rect x="289.20" y="415.3" width="13.08" height="12.40" fill="#451871"/><rect x="302.23" y="415.3" width="13.08" height="12.40" fill="#5f3a91"/><rect x="315.27" y="415.3" width="13.08" height="12.40" fill="#7b6aa8"/><rect x="328.30" y="415.3" width="13.08" height="12.40" fill="#998fbf"/><rect x="341.33" y="415.3" width="13.08" height="12.40" fill="#b7b1d5"/><rect x="354.37" y="415.3" width="13.08" height="12.40" fill="#cfcee5"/><rect x="367.40" y="415.3" width="13.08" height="12.40" fill="#e4e5f0"/><rect x="380.43" y="415.3" width="13.08" height="12.40" fill="#f7f7f7"/><rect x="393.47" y="415.3" width="13.08" height="12.40" fill="#fbe9ce"/><rect x="406.50" y="415.3" width="13.08" height="12.40" fill="#fed6a1"/><rect x="419.53" y="415.3" width="13.08" height="12.40" fill="#fdbd6d"/><rect x="432.57" y="415.3" width="13.08" height="12.40" fill="#ee9d3c"/><rect x="445.60" y="415.3" width="13.08" height="12.40" fill="#da7d12"/><rect x="458.63" y="415.3" width="13.08" height="12.40" fill="#be630a"/><rect x="471.67" y="415.3" width="13.08" height="12.40" fill="#a04d07"/><line x1="302.23" y1="415.3" x2="302.23" y2="427.7" stroke="#333" stroke-width="0.4"/><line x1="315.27" y1="415.3" x2="315.27" y2="427.7" stroke="#333" stroke-width="0.4"/><line x1="328.30" y1="415.3" x2="328.30" y2="427.7" stroke="#333" stroke-width="0.4"/><line x1="341.33" y1="415.3" x2="341.33" y2="427.7" stroke="#333" stroke-width="0.4"/><line x1="354.37" y1="415.3" x2="354.37" y2="427.7" stroke="#333" stroke-width="0.4"/><line x1="367.40" y1="415.3" x2="367.40" y2="427.7" stroke="#333" stroke-width="0.4"/><line x1="380.43" y1="415.3" x2="380.43" y2="427.7" stroke="#333" stroke-width="0.4"/><line x1="393.47" y1="415.3" x2="393.47" y2="427.7" stroke="#333" stroke-width="0.4"/><line x1="406.50" y1="415.3" x2="406.50" y2="427.7" stroke="#333" stroke-width="0.4"/><line x1="419.53" y1="415.3" x2="419.53" y2="427.7" stroke="#333" stroke-width="0.4"/><line x1="432.57" y1="415.3" x2="432.57" y2="427.7" stroke="#333" stroke-width="0.4"/><line x1="445.60" y1="415.3" x2="445.60" y2="427.7" stroke="#333" stroke-width="0.4"/><line x1="458.63" y1="415.3" x2="458.63" y2="427.7" stroke="#333" stroke-width="0.4"/><line x1="471.67" y1="415.3" x2="471.67" y2="427.7" stroke="#333" stroke-width="0.4"/><line x1="289.20" y1="427.7" x2="289.20" y2="429.7" stroke="#333" stroke-width="0.4"/><text x="289.20" y="436.60" font-family="Liberation Sans" font-size="6.0" fill="#222" text-anchor="middle">-7.5</text><line x1="302.23" y1="427.7" x2="302.23" y2="429.7" stroke="#333" stroke-width="0.4"/><text x="302.23" y="436.60" font-family="Liberation Sans" font-size="6.0" fill="#222" text-anchor="middle">-6.5</text><line x1="315.27" y1="427.7" x2="315.27" y2="429.7" stroke="#333" stroke-width="0.4"/><text x="315.27" y="436.60" font-family="Liberation Sans" font-size="6.0" fill="#222" text-anchor="middle">-5.5</text><line x1="328.30" y1="427.7" x2="328.30" y2="429.7" stroke="#333" stroke-width="0.4"/><text x="328.30" y="436.60" font-family="Liberation Sans" font-size="6.0" fill="#222" text-anchor="middle">-4.5</text><line x1="341.33" y1="427.7" x2="341.33" y2="429.7" stroke="#333" stroke-width="0.4"/><text x="341.33" y="436.60" font-family="Liberation Sans" font-size="6.0" fill="#222" text-anchor="middle">-3.5</text><line x1="354.37" y1="427.7" x2="354.37" y2="429.7" stroke="#333" stroke-width="0.4"/><text x="354.37" y="436.60" font-family="Liberation Sans" font-size="6.0" fill="#222" text-anchor="middle">-2.5</text><line x1="367.40" y1="427.7" x2="367.40" y2="429.7" stroke="#333" stroke-width="0.4"/><text x="367.40" y="436.60" font-family="Liberation Sans" font-size="6.0" fill="#222" text-anchor="middle">-1.5</text><line x1="380.43" y1="427.7" x2="380.43" y2="429.7" stroke="#333" stroke-width="0.4"/><text x="380.43" y="436.60" font-family="Liberation Sans" font-size="6.0" fill="#222" text-anchor="middle">-0.5</text><line x1="393.47" y1="427.7" x2="393.47" y2="429.7" stroke="#333" stroke-width="0.4"/><text x="393.47" y="436.60" font-family="Liberation Sans" font-size="6.0" fill="#222" text-anchor="middle">0.5</text><line x1="406.50" y1="427.7" x2="406.50" y2="429.7" stroke="#333" stroke-width="0.4"/><text x="406.50" y="436.60" font-family="Liberation Sans" font-size="6.0" fill="#222" text-anchor="middle">1.5</text><line x1="419.53" y1="427.7" x2="419.53" y2="429.7" stroke="#333" stroke-width="0.4"/><text x="419.53" y="436.60" font-family="Liberation Sans" font-size="6.0" fill="#222" text-anchor="middle">2.5</text><line x1="432.57" y1="427.7" x2="432.57" y2="429.7" stroke="#333" stroke-width="0.4"/><text x="432.57" y="436.60" font-family="Liberation Sans" font-size="6.0" fill="#222" text-anchor="middle">3.5</text><line x1="445.60" y1="427.7" x2="445.60" y2="429.7" stroke="#333" stroke-width="0.4"/><text x="445.60" y="436.60" font-family="Liberation Sans" font-size="6.0" fill="#222" text-anchor="middle">4.5</text><line x1="458.63" y1="427.7" x2="458.63" y2="429.7" stroke="#333" stroke-width="0.4"/><text x="458.63" y="436.60" font-family="Liberation Sans" font-size="6.0" fill="#222" text-anchor="middle">5.5</text><line x1="471.67" y1="427.7" x2="471.67" y2="429.7" stroke="#333" stroke-width="0.4"/><text x="471.67" y="436.60" font-family="Liberation Sans" font-size="6.0" fill="#222" text-anchor="middle">6.5</text><line x1="484.70" y1="427.7" x2="484.70" y2="429.7" stroke="#333" stroke-width="0.4"/><text x="484.70" y="436.60" font-family="Liberation Sans" font-size="6.0" fill="#222" text-anchor="middle">7.5</text><text x="387" y="444.30" font-family="Liberation Sans" font-size="6.0" fill="#222" text-anchor="middle">Zonal wind speed bias (m/s)</text>
</svg>
</body></html>
